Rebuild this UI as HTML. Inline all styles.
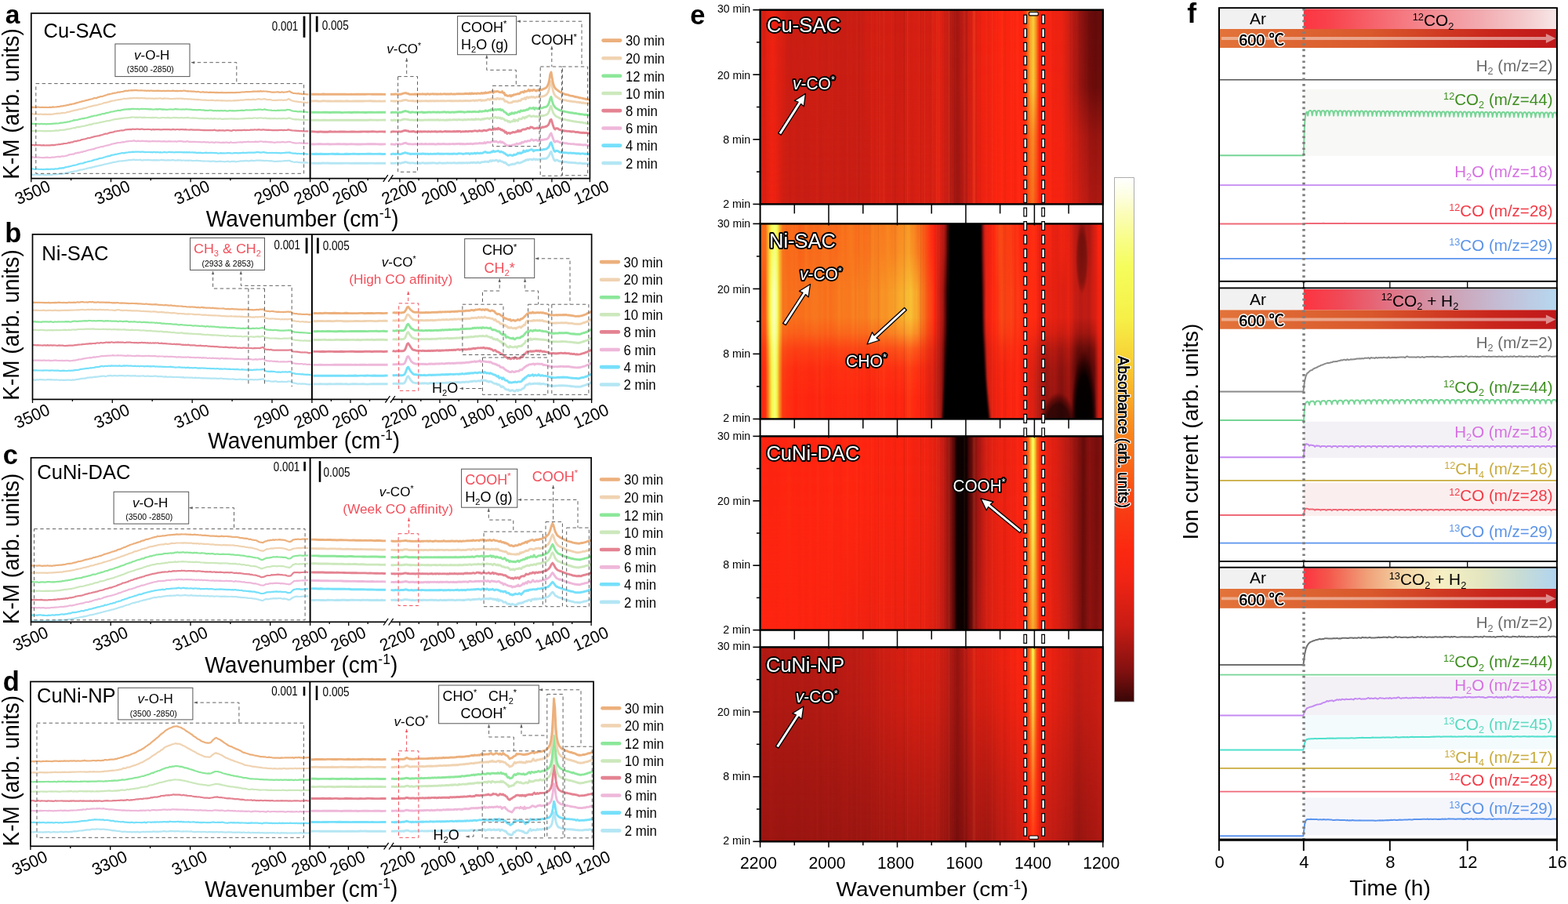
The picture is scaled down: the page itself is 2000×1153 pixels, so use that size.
<!DOCTYPE html>
<html lang="en"><head><meta charset="utf-8"><title>In situ DRIFTS and isotope-labelled mass spectrometry</title>
<style>
html,body{margin:0;padding:0;background:#fff;}
body{width:2000px;height:1153px;overflow:hidden;}
svg{display:block;font-family:"Liberation Sans","Noto Sans CJK SC",sans-serif;}
</style></head><body>
<svg width="2000" height="1153" viewBox="0 0 2000 1153">
<rect width="2000" height="1153" fill="#fff"/>
<defs><linearGradient id="stri" gradientUnits="userSpaceOnUse" x1="969.6" y1="0" x2="1406.8" y2="0"><stop offset="0.0050" stop-color="#ffb060" stop-opacity="0.00"/><stop offset="0.0091" stop-color="#ffb060" stop-opacity="0.00"/><stop offset="0.0126" stop-color="#ffb060" stop-opacity="0.00"/><stop offset="0.0167" stop-color="#ffb060" stop-opacity="0.00"/><stop offset="0.0207" stop-color="#ffb060" stop-opacity="0.01"/><stop offset="0.0235" stop-color="#ffb060" stop-opacity="0.00"/><stop offset="0.0261" stop-color="#ffb060" stop-opacity="0.00"/><stop offset="0.0295" stop-color="#ffb060" stop-opacity="0.00"/><stop offset="0.0336" stop-color="#200000" stop-opacity="0.01"/><stop offset="0.0377" stop-color="#ffb060" stop-opacity="0.00"/><stop offset="0.0416" stop-color="#ffb060" stop-opacity="0.00"/><stop offset="0.0456" stop-color="#200000" stop-opacity="0.00"/><stop offset="0.0477" stop-color="#200000" stop-opacity="0.01"/><stop offset="0.0521" stop-color="#ffb060" stop-opacity="0.00"/><stop offset="0.0559" stop-color="#200000" stop-opacity="0.00"/><stop offset="0.0580" stop-color="#ffb060" stop-opacity="0.00"/><stop offset="0.0625" stop-color="#200000" stop-opacity="0.00"/><stop offset="0.0662" stop-color="#ffb060" stop-opacity="0.00"/><stop offset="0.0685" stop-color="#200000" stop-opacity="0.00"/><stop offset="0.0727" stop-color="#ffb060" stop-opacity="0.01"/><stop offset="0.0749" stop-color="#200000" stop-opacity="0.01"/><stop offset="0.0770" stop-color="#200000" stop-opacity="0.00"/><stop offset="0.0792" stop-color="#200000" stop-opacity="0.00"/><stop offset="0.0816" stop-color="#ffb060" stop-opacity="0.00"/><stop offset="0.0840" stop-color="#ffb060" stop-opacity="0.00"/><stop offset="0.0872" stop-color="#200000" stop-opacity="0.00"/><stop offset="0.0908" stop-color="#200000" stop-opacity="0.00"/><stop offset="0.0930" stop-color="#ffb060" stop-opacity="0.00"/><stop offset="0.0961" stop-color="#ffb060" stop-opacity="0.00"/><stop offset="0.0982" stop-color="#200000" stop-opacity="0.00"/><stop offset="0.1015" stop-color="#ffb060" stop-opacity="0.01"/><stop offset="0.1058" stop-color="#ffb060" stop-opacity="0.00"/><stop offset="0.1096" stop-color="#200000" stop-opacity="0.00"/><stop offset="0.1127" stop-color="#200000" stop-opacity="0.00"/><stop offset="0.1168" stop-color="#200000" stop-opacity="0.00"/><stop offset="0.1212" stop-color="#ffb060" stop-opacity="0.01"/><stop offset="0.1251" stop-color="#ffb060" stop-opacity="0.01"/><stop offset="0.1281" stop-color="#200000" stop-opacity="0.00"/><stop offset="0.1315" stop-color="#ffb060" stop-opacity="0.00"/><stop offset="0.1352" stop-color="#200000" stop-opacity="0.00"/><stop offset="0.1373" stop-color="#ffb060" stop-opacity="0.01"/><stop offset="0.1410" stop-color="#200000" stop-opacity="0.00"/><stop offset="0.1445" stop-color="#ffb060" stop-opacity="0.01"/><stop offset="0.1469" stop-color="#ffb060" stop-opacity="0.00"/><stop offset="0.1504" stop-color="#200000" stop-opacity="0.00"/><stop offset="0.1526" stop-color="#200000" stop-opacity="0.01"/><stop offset="0.1548" stop-color="#ffb060" stop-opacity="0.00"/><stop offset="0.1592" stop-color="#ffb060" stop-opacity="0.00"/><stop offset="0.1613" stop-color="#200000" stop-opacity="0.00"/><stop offset="0.1653" stop-color="#ffb060" stop-opacity="0.02"/><stop offset="0.1694" stop-color="#ffb060" stop-opacity="0.01"/><stop offset="0.1727" stop-color="#200000" stop-opacity="0.00"/><stop offset="0.1752" stop-color="#200000" stop-opacity="0.01"/><stop offset="0.1780" stop-color="#ffb060" stop-opacity="0.00"/><stop offset="0.1823" stop-color="#ffb060" stop-opacity="0.01"/><stop offset="0.1848" stop-color="#ffb060" stop-opacity="0.00"/><stop offset="0.1893" stop-color="#ffb060" stop-opacity="0.01"/><stop offset="0.1929" stop-color="#200000" stop-opacity="0.00"/><stop offset="0.1955" stop-color="#ffb060" stop-opacity="0.00"/><stop offset="0.1991" stop-color="#ffb060" stop-opacity="0.02"/><stop offset="0.2019" stop-color="#ffb060" stop-opacity="0.01"/><stop offset="0.2056" stop-color="#ffb060" stop-opacity="0.00"/><stop offset="0.2083" stop-color="#ffb060" stop-opacity="0.01"/><stop offset="0.2121" stop-color="#ffb060" stop-opacity="0.02"/><stop offset="0.2161" stop-color="#200000" stop-opacity="0.00"/><stop offset="0.2203" stop-color="#ffb060" stop-opacity="0.01"/><stop offset="0.2242" stop-color="#200000" stop-opacity="0.00"/><stop offset="0.2273" stop-color="#ffb060" stop-opacity="0.02"/><stop offset="0.2295" stop-color="#ffb060" stop-opacity="0.01"/><stop offset="0.2330" stop-color="#ffb060" stop-opacity="0.00"/><stop offset="0.2361" stop-color="#ffb060" stop-opacity="0.00"/><stop offset="0.2388" stop-color="#200000" stop-opacity="0.00"/><stop offset="0.2415" stop-color="#ffb060" stop-opacity="0.00"/><stop offset="0.2435" stop-color="#ffb060" stop-opacity="0.02"/><stop offset="0.2460" stop-color="#200000" stop-opacity="0.00"/><stop offset="0.2492" stop-color="#ffb060" stop-opacity="0.00"/><stop offset="0.2513" stop-color="#ffb060" stop-opacity="0.00"/><stop offset="0.2546" stop-color="#ffb060" stop-opacity="0.03"/><stop offset="0.2581" stop-color="#ffb060" stop-opacity="0.00"/><stop offset="0.2615" stop-color="#200000" stop-opacity="0.00"/><stop offset="0.2655" stop-color="#ffb060" stop-opacity="0.01"/><stop offset="0.2689" stop-color="#ffb060" stop-opacity="0.00"/><stop offset="0.2727" stop-color="#ffb060" stop-opacity="0.00"/><stop offset="0.2758" stop-color="#ffb060" stop-opacity="0.00"/><stop offset="0.2787" stop-color="#ffb060" stop-opacity="0.00"/><stop offset="0.2827" stop-color="#ffb060" stop-opacity="0.04"/><stop offset="0.2859" stop-color="#200000" stop-opacity="0.00"/><stop offset="0.2880" stop-color="#200000" stop-opacity="0.04"/><stop offset="0.2915" stop-color="#ffb060" stop-opacity="0.00"/><stop offset="0.2940" stop-color="#ffb060" stop-opacity="0.03"/><stop offset="0.2972" stop-color="#ffb060" stop-opacity="0.00"/><stop offset="0.3011" stop-color="#ffb060" stop-opacity="0.00"/><stop offset="0.3044" stop-color="#ffb060" stop-opacity="0.00"/><stop offset="0.3068" stop-color="#ffb060" stop-opacity="0.00"/><stop offset="0.3098" stop-color="#ffb060" stop-opacity="0.00"/><stop offset="0.3120" stop-color="#200000" stop-opacity="0.01"/><stop offset="0.3142" stop-color="#ffb060" stop-opacity="0.00"/><stop offset="0.3171" stop-color="#200000" stop-opacity="0.00"/><stop offset="0.3215" stop-color="#200000" stop-opacity="0.05"/><stop offset="0.3238" stop-color="#ffb060" stop-opacity="0.04"/><stop offset="0.3258" stop-color="#ffb060" stop-opacity="0.00"/><stop offset="0.3296" stop-color="#ffb060" stop-opacity="0.00"/><stop offset="0.3341" stop-color="#200000" stop-opacity="0.03"/><stop offset="0.3378" stop-color="#200000" stop-opacity="0.00"/><stop offset="0.3409" stop-color="#ffb060" stop-opacity="0.02"/><stop offset="0.3452" stop-color="#200000" stop-opacity="0.05"/><stop offset="0.3477" stop-color="#ffb060" stop-opacity="0.04"/><stop offset="0.3514" stop-color="#ffb060" stop-opacity="0.01"/><stop offset="0.3547" stop-color="#ffb060" stop-opacity="0.00"/><stop offset="0.3574" stop-color="#ffb060" stop-opacity="0.01"/><stop offset="0.3613" stop-color="#ffb060" stop-opacity="0.06"/><stop offset="0.3646" stop-color="#ffb060" stop-opacity="0.00"/><stop offset="0.3676" stop-color="#ffb060" stop-opacity="0.00"/><stop offset="0.3706" stop-color="#ffb060" stop-opacity="0.00"/><stop offset="0.3748" stop-color="#200000" stop-opacity="0.00"/><stop offset="0.3782" stop-color="#200000" stop-opacity="0.00"/><stop offset="0.3813" stop-color="#ffb060" stop-opacity="0.00"/><stop offset="0.3833" stop-color="#ffb060" stop-opacity="0.06"/><stop offset="0.3861" stop-color="#200000" stop-opacity="0.00"/><stop offset="0.3901" stop-color="#ffb060" stop-opacity="0.00"/><stop offset="0.3930" stop-color="#200000" stop-opacity="0.06"/><stop offset="0.3953" stop-color="#200000" stop-opacity="0.03"/><stop offset="0.3998" stop-color="#200000" stop-opacity="0.00"/><stop offset="0.4024" stop-color="#ffb060" stop-opacity="0.00"/><stop offset="0.4054" stop-color="#ffb060" stop-opacity="0.00"/><stop offset="0.4092" stop-color="#ffb060" stop-opacity="0.00"/><stop offset="0.4134" stop-color="#ffb060" stop-opacity="0.00"/><stop offset="0.4171" stop-color="#200000" stop-opacity="0.00"/><stop offset="0.4208" stop-color="#200000" stop-opacity="0.09"/><stop offset="0.4249" stop-color="#ffb060" stop-opacity="0.02"/><stop offset="0.4273" stop-color="#200000" stop-opacity="0.00"/><stop offset="0.4293" stop-color="#ffb060" stop-opacity="0.10"/><stop offset="0.4329" stop-color="#ffb060" stop-opacity="0.00"/><stop offset="0.4367" stop-color="#ffb060" stop-opacity="0.02"/><stop offset="0.4388" stop-color="#200000" stop-opacity="0.00"/><stop offset="0.4420" stop-color="#200000" stop-opacity="0.00"/><stop offset="0.4453" stop-color="#ffb060" stop-opacity="0.00"/><stop offset="0.4488" stop-color="#200000" stop-opacity="0.00"/><stop offset="0.4509" stop-color="#ffb060" stop-opacity="0.01"/><stop offset="0.4538" stop-color="#200000" stop-opacity="0.00"/><stop offset="0.4566" stop-color="#ffb060" stop-opacity="0.01"/><stop offset="0.4608" stop-color="#ffb060" stop-opacity="0.00"/><stop offset="0.4648" stop-color="#ffb060" stop-opacity="0.02"/><stop offset="0.4689" stop-color="#200000" stop-opacity="0.09"/><stop offset="0.4713" stop-color="#ffb060" stop-opacity="0.00"/><stop offset="0.4737" stop-color="#ffb060" stop-opacity="0.00"/><stop offset="0.4769" stop-color="#200000" stop-opacity="0.00"/><stop offset="0.4799" stop-color="#ffb060" stop-opacity="0.08"/><stop offset="0.4838" stop-color="#200000" stop-opacity="0.00"/><stop offset="0.4870" stop-color="#ffb060" stop-opacity="0.00"/><stop offset="0.4890" stop-color="#ffb060" stop-opacity="0.01"/><stop offset="0.4934" stop-color="#ffb060" stop-opacity="0.00"/><stop offset="0.4963" stop-color="#ffb060" stop-opacity="0.00"/><stop offset="0.4986" stop-color="#ffb060" stop-opacity="0.00"/><stop offset="0.5030" stop-color="#ffb060" stop-opacity="0.04"/><stop offset="0.5066" stop-color="#ffb060" stop-opacity="0.00"/><stop offset="0.5090" stop-color="#ffb060" stop-opacity="0.00"/><stop offset="0.5122" stop-color="#ffb060" stop-opacity="0.00"/><stop offset="0.5148" stop-color="#ffb060" stop-opacity="0.08"/><stop offset="0.5181" stop-color="#ffb060" stop-opacity="0.00"/><stop offset="0.5225" stop-color="#ffb060" stop-opacity="0.07"/><stop offset="0.5247" stop-color="#ffb060" stop-opacity="0.00"/><stop offset="0.5289" stop-color="#ffb060" stop-opacity="0.00"/><stop offset="0.5318" stop-color="#200000" stop-opacity="0.02"/><stop offset="0.5352" stop-color="#ffb060" stop-opacity="0.03"/><stop offset="0.5389" stop-color="#200000" stop-opacity="0.00"/><stop offset="0.5411" stop-color="#ffb060" stop-opacity="0.04"/><stop offset="0.5450" stop-color="#200000" stop-opacity="0.00"/><stop offset="0.5471" stop-color="#ffb060" stop-opacity="0.00"/><stop offset="0.5499" stop-color="#ffb060" stop-opacity="0.08"/><stop offset="0.5525" stop-color="#ffb060" stop-opacity="0.06"/><stop offset="0.5562" stop-color="#200000" stop-opacity="0.10"/><stop offset="0.5591" stop-color="#ffb060" stop-opacity="0.00"/><stop offset="0.5613" stop-color="#ffb060" stop-opacity="0.00"/><stop offset="0.5641" stop-color="#ffb060" stop-opacity="0.00"/><stop offset="0.5673" stop-color="#200000" stop-opacity="0.07"/><stop offset="0.5707" stop-color="#ffb060" stop-opacity="0.00"/><stop offset="0.5734" stop-color="#ffb060" stop-opacity="0.00"/><stop offset="0.5760" stop-color="#ffb060" stop-opacity="0.00"/><stop offset="0.5788" stop-color="#200000" stop-opacity="0.00"/><stop offset="0.5815" stop-color="#200000" stop-opacity="0.05"/><stop offset="0.5849" stop-color="#ffb060" stop-opacity="0.00"/><stop offset="0.5874" stop-color="#200000" stop-opacity="0.00"/><stop offset="0.5902" stop-color="#200000" stop-opacity="0.00"/><stop offset="0.5932" stop-color="#ffb060" stop-opacity="0.00"/><stop offset="0.5955" stop-color="#ffb060" stop-opacity="0.08"/><stop offset="0.6000" stop-color="#200000" stop-opacity="0.04"/><stop offset="0.6036" stop-color="#200000" stop-opacity="0.12"/><stop offset="0.6075" stop-color="#ffb060" stop-opacity="0.00"/><stop offset="0.6116" stop-color="#ffb060" stop-opacity="0.01"/><stop offset="0.6141" stop-color="#ffb060" stop-opacity="0.01"/><stop offset="0.6162" stop-color="#ffb060" stop-opacity="0.00"/><stop offset="0.6186" stop-color="#ffb060" stop-opacity="0.00"/><stop offset="0.6223" stop-color="#ffb060" stop-opacity="0.12"/><stop offset="0.6267" stop-color="#ffb060" stop-opacity="0.10"/><stop offset="0.6300" stop-color="#200000" stop-opacity="0.07"/><stop offset="0.6328" stop-color="#200000" stop-opacity="0.00"/><stop offset="0.6350" stop-color="#ffb060" stop-opacity="0.00"/><stop offset="0.6389" stop-color="#ffb060" stop-opacity="0.00"/><stop offset="0.6412" stop-color="#200000" stop-opacity="0.08"/><stop offset="0.6432" stop-color="#200000" stop-opacity="0.01"/><stop offset="0.6471" stop-color="#ffb060" stop-opacity="0.00"/><stop offset="0.6514" stop-color="#ffb060" stop-opacity="0.00"/><stop offset="0.6545" stop-color="#ffb060" stop-opacity="0.00"/><stop offset="0.6570" stop-color="#ffb060" stop-opacity="0.00"/><stop offset="0.6610" stop-color="#ffb060" stop-opacity="0.04"/><stop offset="0.6643" stop-color="#ffb060" stop-opacity="0.00"/><stop offset="0.6670" stop-color="#200000" stop-opacity="0.03"/><stop offset="0.6691" stop-color="#ffb060" stop-opacity="0.03"/><stop offset="0.6723" stop-color="#200000" stop-opacity="0.00"/><stop offset="0.6764" stop-color="#ffb060" stop-opacity="0.07"/><stop offset="0.6806" stop-color="#ffb060" stop-opacity="0.00"/><stop offset="0.6830" stop-color="#200000" stop-opacity="0.00"/><stop offset="0.6866" stop-color="#ffb060" stop-opacity="0.00"/><stop offset="0.6902" stop-color="#ffb060" stop-opacity="0.02"/><stop offset="0.6938" stop-color="#200000" stop-opacity="0.08"/><stop offset="0.6963" stop-color="#ffb060" stop-opacity="0.02"/><stop offset="0.6986" stop-color="#200000" stop-opacity="0.00"/><stop offset="0.7008" stop-color="#200000" stop-opacity="0.00"/><stop offset="0.7052" stop-color="#ffb060" stop-opacity="0.02"/><stop offset="0.7095" stop-color="#200000" stop-opacity="0.04"/><stop offset="0.7117" stop-color="#200000" stop-opacity="0.05"/><stop offset="0.7159" stop-color="#200000" stop-opacity="0.05"/><stop offset="0.7191" stop-color="#200000" stop-opacity="0.00"/><stop offset="0.7223" stop-color="#200000" stop-opacity="0.00"/><stop offset="0.7255" stop-color="#ffb060" stop-opacity="0.00"/><stop offset="0.7284" stop-color="#200000" stop-opacity="0.04"/><stop offset="0.7307" stop-color="#ffb060" stop-opacity="0.05"/><stop offset="0.7335" stop-color="#ffb060" stop-opacity="0.01"/><stop offset="0.7371" stop-color="#ffb060" stop-opacity="0.00"/><stop offset="0.7396" stop-color="#ffb060" stop-opacity="0.00"/><stop offset="0.7437" stop-color="#200000" stop-opacity="0.06"/><stop offset="0.7471" stop-color="#ffb060" stop-opacity="0.00"/><stop offset="0.7510" stop-color="#ffb060" stop-opacity="0.04"/><stop offset="0.7549" stop-color="#ffb060" stop-opacity="0.00"/><stop offset="0.7590" stop-color="#ffb060" stop-opacity="0.00"/><stop offset="0.7628" stop-color="#ffb060" stop-opacity="0.00"/><stop offset="0.7648" stop-color="#ffb060" stop-opacity="0.00"/><stop offset="0.7683" stop-color="#ffb060" stop-opacity="0.01"/><stop offset="0.7720" stop-color="#200000" stop-opacity="0.00"/><stop offset="0.7761" stop-color="#ffb060" stop-opacity="0.00"/><stop offset="0.7796" stop-color="#ffb060" stop-opacity="0.03"/><stop offset="0.7830" stop-color="#ffb060" stop-opacity="0.00"/><stop offset="0.7860" stop-color="#ffb060" stop-opacity="0.00"/><stop offset="0.7886" stop-color="#200000" stop-opacity="0.00"/><stop offset="0.7915" stop-color="#ffb060" stop-opacity="0.00"/><stop offset="0.7939" stop-color="#ffb060" stop-opacity="0.00"/><stop offset="0.7981" stop-color="#ffb060" stop-opacity="0.00"/><stop offset="0.8018" stop-color="#ffb060" stop-opacity="0.00"/><stop offset="0.8054" stop-color="#ffb060" stop-opacity="0.05"/><stop offset="0.8090" stop-color="#ffb060" stop-opacity="0.00"/><stop offset="0.8124" stop-color="#ffb060" stop-opacity="0.04"/><stop offset="0.8151" stop-color="#200000" stop-opacity="0.00"/><stop offset="0.8190" stop-color="#ffb060" stop-opacity="0.01"/><stop offset="0.8221" stop-color="#ffb060" stop-opacity="0.01"/><stop offset="0.8261" stop-color="#ffb060" stop-opacity="0.00"/><stop offset="0.8284" stop-color="#ffb060" stop-opacity="0.03"/><stop offset="0.8305" stop-color="#ffb060" stop-opacity="0.04"/><stop offset="0.8334" stop-color="#ffb060" stop-opacity="0.00"/><stop offset="0.8358" stop-color="#200000" stop-opacity="0.00"/><stop offset="0.8388" stop-color="#ffb060" stop-opacity="0.00"/><stop offset="0.8428" stop-color="#ffb060" stop-opacity="0.00"/><stop offset="0.8467" stop-color="#ffb060" stop-opacity="0.03"/><stop offset="0.8500" stop-color="#ffb060" stop-opacity="0.00"/><stop offset="0.8534" stop-color="#200000" stop-opacity="0.03"/><stop offset="0.8561" stop-color="#200000" stop-opacity="0.00"/><stop offset="0.8587" stop-color="#ffb060" stop-opacity="0.00"/><stop offset="0.8630" stop-color="#200000" stop-opacity="0.00"/><stop offset="0.8652" stop-color="#ffb060" stop-opacity="0.00"/><stop offset="0.8679" stop-color="#200000" stop-opacity="0.01"/><stop offset="0.8710" stop-color="#200000" stop-opacity="0.00"/><stop offset="0.8749" stop-color="#ffb060" stop-opacity="0.01"/><stop offset="0.8771" stop-color="#ffb060" stop-opacity="0.00"/><stop offset="0.8799" stop-color="#ffb060" stop-opacity="0.02"/><stop offset="0.8823" stop-color="#ffb060" stop-opacity="0.00"/><stop offset="0.8867" stop-color="#ffb060" stop-opacity="0.02"/><stop offset="0.8894" stop-color="#ffb060" stop-opacity="0.00"/><stop offset="0.8915" stop-color="#200000" stop-opacity="0.00"/><stop offset="0.8946" stop-color="#ffb060" stop-opacity="0.00"/><stop offset="0.8980" stop-color="#ffb060" stop-opacity="0.00"/><stop offset="0.9010" stop-color="#ffb060" stop-opacity="0.02"/><stop offset="0.9051" stop-color="#200000" stop-opacity="0.01"/><stop offset="0.9082" stop-color="#ffb060" stop-opacity="0.02"/><stop offset="0.9108" stop-color="#ffb060" stop-opacity="0.02"/><stop offset="0.9130" stop-color="#200000" stop-opacity="0.01"/><stop offset="0.9152" stop-color="#ffb060" stop-opacity="0.00"/><stop offset="0.9197" stop-color="#ffb060" stop-opacity="0.00"/><stop offset="0.9219" stop-color="#ffb060" stop-opacity="0.00"/><stop offset="0.9252" stop-color="#ffb060" stop-opacity="0.01"/><stop offset="0.9274" stop-color="#ffb060" stop-opacity="0.01"/><stop offset="0.9311" stop-color="#200000" stop-opacity="0.00"/><stop offset="0.9352" stop-color="#ffb060" stop-opacity="0.01"/><stop offset="0.9376" stop-color="#ffb060" stop-opacity="0.00"/><stop offset="0.9415" stop-color="#200000" stop-opacity="0.02"/><stop offset="0.9443" stop-color="#ffb060" stop-opacity="0.01"/><stop offset="0.9466" stop-color="#ffb060" stop-opacity="0.00"/><stop offset="0.9492" stop-color="#200000" stop-opacity="0.00"/><stop offset="0.9514" stop-color="#ffb060" stop-opacity="0.01"/><stop offset="0.9547" stop-color="#ffb060" stop-opacity="0.01"/><stop offset="0.9581" stop-color="#ffb060" stop-opacity="0.00"/><stop offset="0.9603" stop-color="#200000" stop-opacity="0.01"/><stop offset="0.9626" stop-color="#ffb060" stop-opacity="0.00"/><stop offset="0.9667" stop-color="#ffb060" stop-opacity="0.00"/><stop offset="0.9691" stop-color="#ffb060" stop-opacity="0.00"/><stop offset="0.9718" stop-color="#200000" stop-opacity="0.00"/><stop offset="0.9754" stop-color="#200000" stop-opacity="0.00"/><stop offset="0.9795" stop-color="#200000" stop-opacity="0.01"/><stop offset="0.9832" stop-color="#ffb060" stop-opacity="0.01"/><stop offset="0.9864" stop-color="#ffb060" stop-opacity="0.01"/><stop offset="0.9884" stop-color="#ffb060" stop-opacity="0.01"/><stop offset="0.9928" stop-color="#ffb060" stop-opacity="0.00"/></linearGradient></defs>
<defs><linearGradient id="h0_0" gradientUnits="userSpaceOnUse" x1="969.6" y1="0" x2="1406.8" y2="0"><stop offset="0.0000" stop-color="#d51f13"/><stop offset="0.0000" stop-color="#d11e13"/><stop offset="0.0115" stop-color="#db1f12"/><stop offset="0.0150" stop-color="#d91f12"/><stop offset="0.0187" stop-color="#de2012"/><stop offset="0.0274" stop-color="#ea2111"/><stop offset="0.0350" stop-color="#f22211"/><stop offset="0.0385" stop-color="#eb2111"/><stop offset="0.0441" stop-color="#ec2211"/><stop offset="0.0526" stop-color="#e32012"/><stop offset="0.0550" stop-color="#dd2012"/><stop offset="0.0580" stop-color="#da1f12"/><stop offset="0.0686" stop-color="#cf1e13"/><stop offset="0.0750" stop-color="#cd1e13"/><stop offset="0.0808" stop-color="#d01e13"/><stop offset="0.0864" stop-color="#c71d14"/><stop offset="0.0957" stop-color="#d01e13"/><stop offset="0.1039" stop-color="#c91d13"/><stop offset="0.1123" stop-color="#c71d14"/><stop offset="0.1193" stop-color="#ca1d13"/><stop offset="0.1283" stop-color="#c81d13"/><stop offset="0.1353" stop-color="#c81d14"/><stop offset="0.1440" stop-color="#c81d13"/><stop offset="0.1496" stop-color="#cd1e13"/><stop offset="0.1590" stop-color="#cb1d13"/><stop offset="0.1657" stop-color="#cf1e13"/><stop offset="0.1773" stop-color="#c51d14"/><stop offset="0.1851" stop-color="#cb1d13"/><stop offset="0.1956" stop-color="#cd1e13"/><stop offset="0.2000" stop-color="#c81d13"/><stop offset="0.2041" stop-color="#cc1d13"/><stop offset="0.2143" stop-color="#c61d14"/><stop offset="0.2239" stop-color="#cc1e13"/><stop offset="0.2354" stop-color="#c81d13"/><stop offset="0.2451" stop-color="#c41c14"/><stop offset="0.2522" stop-color="#cb1d13"/><stop offset="0.2606" stop-color="#c51d14"/><stop offset="0.2699" stop-color="#ca1d13"/><stop offset="0.2802" stop-color="#c71d14"/><stop offset="0.2888" stop-color="#c81d13"/><stop offset="0.2998" stop-color="#c91d13"/><stop offset="0.3000" stop-color="#c81d13"/><stop offset="0.3080" stop-color="#cb1d13"/><stop offset="0.3136" stop-color="#c81d13"/><stop offset="0.3241" stop-color="#d51f13"/><stop offset="0.3337" stop-color="#d21e13"/><stop offset="0.3400" stop-color="#d51f13"/><stop offset="0.3404" stop-color="#d51f13"/><stop offset="0.3528" stop-color="#d61f13"/><stop offset="0.3621" stop-color="#d61f13"/><stop offset="0.3692" stop-color="#d11e13"/><stop offset="0.3815" stop-color="#d01e13"/><stop offset="0.3902" stop-color="#cc1d13"/><stop offset="0.3995" stop-color="#d11e13"/><stop offset="0.4000" stop-color="#cd1e13"/><stop offset="0.4050" stop-color="#d01e13"/><stop offset="0.4163" stop-color="#d41f13"/><stop offset="0.4270" stop-color="#d51f13"/><stop offset="0.4361" stop-color="#d51f13"/><stop offset="0.4446" stop-color="#d11e13"/><stop offset="0.4563" stop-color="#d91f12"/><stop offset="0.4600" stop-color="#d91f12"/><stop offset="0.4631" stop-color="#d91f12"/><stop offset="0.4720" stop-color="#d61f13"/><stop offset="0.4799" stop-color="#d81f13"/><stop offset="0.4898" stop-color="#d71f13"/><stop offset="0.4985" stop-color="#d01e13"/><stop offset="0.5000" stop-color="#d51f13"/><stop offset="0.5055" stop-color="#d51f13"/><stop offset="0.5151" stop-color="#e22012"/><stop offset="0.5200" stop-color="#e22012"/><stop offset="0.5263" stop-color="#de2012"/><stop offset="0.5376" stop-color="#ce1e13"/><stop offset="0.5490" stop-color="#c71d14"/><stop offset="0.5500" stop-color="#c41d14"/><stop offset="0.5550" stop-color="#b81a13"/><stop offset="0.5605" stop-color="#b71a13"/><stop offset="0.5641" stop-color="#ae1912"/><stop offset="0.5677" stop-color="#a51711"/><stop offset="0.5750" stop-color="#9e1611"/><stop offset="0.5776" stop-color="#a01611"/><stop offset="0.5835" stop-color="#a71712"/><stop offset="0.5927" stop-color="#b61a13"/><stop offset="0.6000" stop-color="#c41d14"/><stop offset="0.6001" stop-color="#c61d14"/><stop offset="0.6088" stop-color="#cd1e13"/><stop offset="0.6176" stop-color="#d61f13"/><stop offset="0.6200" stop-color="#dd2012"/><stop offset="0.6257" stop-color="#e02012"/><stop offset="0.6325" stop-color="#e02012"/><stop offset="0.6444" stop-color="#ea2111"/><stop offset="0.6513" stop-color="#ef2211"/><stop offset="0.6600" stop-color="#f22211"/><stop offset="0.6626" stop-color="#ee2211"/><stop offset="0.6681" stop-color="#f12211"/><stop offset="0.6787" stop-color="#f52311"/><stop offset="0.6891" stop-color="#fd2410"/><stop offset="0.6985" stop-color="#fc2410"/><stop offset="0.7000" stop-color="#ff2410"/><stop offset="0.7109" stop-color="#fe2811"/><stop offset="0.7200" stop-color="#fc2410"/><stop offset="0.7301" stop-color="#fe2410"/><stop offset="0.7396" stop-color="#fd2410"/><stop offset="0.7496" stop-color="#fb2310"/><stop offset="0.7571" stop-color="#fe2b11"/><stop offset="0.7600" stop-color="#ff2410"/><stop offset="0.7688" stop-color="#ff2811"/><stop offset="0.7750" stop-color="#fe3012"/><stop offset="0.7804" stop-color="#fc4114"/><stop offset="0.7842" stop-color="#fa5116"/><stop offset="0.7880" stop-color="#f86018"/><stop offset="0.7926" stop-color="#f86a1b"/><stop offset="0.7970" stop-color="#f86d1b"/><stop offset="0.8010" stop-color="#f95617"/><stop offset="0.8060" stop-color="#fc4214"/><stop offset="0.8064" stop-color="#fb4514"/><stop offset="0.8093" stop-color="#fd3813"/><stop offset="0.8121" stop-color="#fe2a11"/><stop offset="0.8150" stop-color="#f72311"/><stop offset="0.8244" stop-color="#fa2310"/><stop offset="0.8300" stop-color="#fb2310"/><stop offset="0.8311" stop-color="#fe2410"/><stop offset="0.8435" stop-color="#fc2410"/><stop offset="0.8525" stop-color="#f82310"/><stop offset="0.8604" stop-color="#f52311"/><stop offset="0.8707" stop-color="#f72311"/><stop offset="0.8775" stop-color="#f32211"/><stop offset="0.8800" stop-color="#f72311"/><stop offset="0.8877" stop-color="#ee2211"/><stop offset="0.8967" stop-color="#e72112"/><stop offset="0.9084" stop-color="#e32012"/><stop offset="0.9100" stop-color="#dd2012"/><stop offset="0.9139" stop-color="#d71f13"/><stop offset="0.9216" stop-color="#d91f12"/><stop offset="0.9327" stop-color="#c91d13"/><stop offset="0.9396" stop-color="#c61d14"/><stop offset="0.9400" stop-color="#c41d14"/><stop offset="0.9510" stop-color="#bd1b14"/><stop offset="0.9589" stop-color="#b41a13"/><stop offset="0.9600" stop-color="#af1912"/><stop offset="0.9693" stop-color="#ad1812"/><stop offset="0.9818" stop-color="#a91812"/><stop offset="0.9850" stop-color="#ab1812"/><stop offset="0.9924" stop-color="#af1912"/><stop offset="0.9990" stop-color="#bf1c14"/><stop offset="1.0000" stop-color="#bc1b14"/></linearGradient><linearGradient id="h0_1" gradientUnits="userSpaceOnUse" x1="969.6" y1="0" x2="1406.8" y2="0"><stop offset="0.0000" stop-color="#d51f13"/><stop offset="0.0000" stop-color="#da1f12"/><stop offset="0.0122" stop-color="#d41f13"/><stop offset="0.0150" stop-color="#d91f12"/><stop offset="0.0182" stop-color="#e02012"/><stop offset="0.0289" stop-color="#ea2111"/><stop offset="0.0350" stop-color="#ee2211"/><stop offset="0.0366" stop-color="#ee2211"/><stop offset="0.0463" stop-color="#e62112"/><stop offset="0.0529" stop-color="#de2012"/><stop offset="0.0550" stop-color="#dd2012"/><stop offset="0.0611" stop-color="#db1f12"/><stop offset="0.0737" stop-color="#d21e13"/><stop offset="0.0750" stop-color="#cd1e13"/><stop offset="0.0830" stop-color="#cc1d13"/><stop offset="0.0903" stop-color="#c71d14"/><stop offset="0.0959" stop-color="#cc1d13"/><stop offset="0.1036" stop-color="#ca1d13"/><stop offset="0.1154" stop-color="#cc1d13"/><stop offset="0.1249" stop-color="#c81d13"/><stop offset="0.1304" stop-color="#c91d13"/><stop offset="0.1368" stop-color="#cb1d13"/><stop offset="0.1494" stop-color="#cc1e13"/><stop offset="0.1561" stop-color="#ce1e13"/><stop offset="0.1672" stop-color="#cc1e13"/><stop offset="0.1792" stop-color="#cc1d13"/><stop offset="0.1903" stop-color="#c71d14"/><stop offset="0.2000" stop-color="#c81d13"/><stop offset="0.2027" stop-color="#cd1e13"/><stop offset="0.2093" stop-color="#cb1d13"/><stop offset="0.2198" stop-color="#c81d13"/><stop offset="0.2291" stop-color="#c81d13"/><stop offset="0.2411" stop-color="#c81d13"/><stop offset="0.2525" stop-color="#c71d14"/><stop offset="0.2643" stop-color="#cc1e13"/><stop offset="0.2730" stop-color="#c91d13"/><stop offset="0.2850" stop-color="#cb1d13"/><stop offset="0.2939" stop-color="#c61d14"/><stop offset="0.3000" stop-color="#c81d13"/><stop offset="0.3016" stop-color="#cb1d13"/><stop offset="0.3082" stop-color="#cf1e13"/><stop offset="0.3156" stop-color="#d11e13"/><stop offset="0.3232" stop-color="#d41f13"/><stop offset="0.3337" stop-color="#d31e13"/><stop offset="0.3400" stop-color="#d51f13"/><stop offset="0.3428" stop-color="#d61f13"/><stop offset="0.3524" stop-color="#d11e13"/><stop offset="0.3593" stop-color="#d21e13"/><stop offset="0.3715" stop-color="#d21e13"/><stop offset="0.3774" stop-color="#d31e13"/><stop offset="0.3880" stop-color="#d21e13"/><stop offset="0.3948" stop-color="#d01e13"/><stop offset="0.4000" stop-color="#cd1e13"/><stop offset="0.4006" stop-color="#ce1e13"/><stop offset="0.4080" stop-color="#cc1d13"/><stop offset="0.4197" stop-color="#cd1e13"/><stop offset="0.4289" stop-color="#d61f13"/><stop offset="0.4360" stop-color="#d11e13"/><stop offset="0.4478" stop-color="#d61f13"/><stop offset="0.4583" stop-color="#d41f13"/><stop offset="0.4600" stop-color="#d91f12"/><stop offset="0.4663" stop-color="#d51f13"/><stop offset="0.4766" stop-color="#d31e13"/><stop offset="0.4889" stop-color="#d11e13"/><stop offset="0.4995" stop-color="#d01e13"/><stop offset="0.5000" stop-color="#d51f13"/><stop offset="0.5067" stop-color="#dc2012"/><stop offset="0.5133" stop-color="#da1f12"/><stop offset="0.5200" stop-color="#e22012"/><stop offset="0.5237" stop-color="#dd2012"/><stop offset="0.5294" stop-color="#dd2012"/><stop offset="0.5359" stop-color="#cd1e13"/><stop offset="0.5437" stop-color="#cb1d13"/><stop offset="0.5500" stop-color="#c41d14"/><stop offset="0.5545" stop-color="#ba1b13"/><stop offset="0.5623" stop-color="#af1912"/><stop offset="0.5709" stop-color="#aa1812"/><stop offset="0.5750" stop-color="#a21611"/><stop offset="0.5817" stop-color="#af1912"/><stop offset="0.5925" stop-color="#be1c14"/><stop offset="0.6000" stop-color="#c41d14"/><stop offset="0.6030" stop-color="#c81d14"/><stop offset="0.6100" stop-color="#d21e13"/><stop offset="0.6177" stop-color="#d61f13"/><stop offset="0.6200" stop-color="#dd2012"/><stop offset="0.6263" stop-color="#e42112"/><stop offset="0.6326" stop-color="#e52112"/><stop offset="0.6409" stop-color="#e92111"/><stop offset="0.6473" stop-color="#f02211"/><stop offset="0.6546" stop-color="#f12211"/><stop offset="0.6600" stop-color="#f22211"/><stop offset="0.6630" stop-color="#ee2211"/><stop offset="0.6724" stop-color="#f32211"/><stop offset="0.6782" stop-color="#f32311"/><stop offset="0.6848" stop-color="#f62311"/><stop offset="0.6947" stop-color="#fd2410"/><stop offset="0.7000" stop-color="#ff2410"/><stop offset="0.7072" stop-color="#fe2a11"/><stop offset="0.7198" stop-color="#fc2410"/><stop offset="0.7284" stop-color="#fc2410"/><stop offset="0.7380" stop-color="#ff2610"/><stop offset="0.7492" stop-color="#ff2710"/><stop offset="0.7565" stop-color="#fe2410"/><stop offset="0.7600" stop-color="#ff2410"/><stop offset="0.7656" stop-color="#ff2610"/><stop offset="0.7713" stop-color="#fd3512"/><stop offset="0.7750" stop-color="#fc3c13"/><stop offset="0.7775" stop-color="#f95416"/><stop offset="0.7799" stop-color="#f86519"/><stop offset="0.7823" stop-color="#f8771e"/><stop offset="0.7846" stop-color="#f88922"/><stop offset="0.7863" stop-color="#f89b27"/><stop offset="0.7880" stop-color="#f8ad2d"/><stop offset="0.7913" stop-color="#f8b731"/><stop offset="0.7942" stop-color="#f8c536"/><stop offset="0.7970" stop-color="#f8d33b"/><stop offset="0.7983" stop-color="#f8c837"/><stop offset="0.8009" stop-color="#f8b22f"/><stop offset="0.8034" stop-color="#f89c27"/><stop offset="0.8060" stop-color="#f88622"/><stop offset="0.8071" stop-color="#f8771e"/><stop offset="0.8090" stop-color="#f86018"/><stop offset="0.8110" stop-color="#fb4a15"/><stop offset="0.8130" stop-color="#fd3412"/><stop offset="0.8150" stop-color="#fb2310"/><stop offset="0.8171" stop-color="#f82310"/><stop offset="0.8290" stop-color="#ff2510"/><stop offset="0.8300" stop-color="#fb2310"/><stop offset="0.8396" stop-color="#f72311"/><stop offset="0.8487" stop-color="#f52311"/><stop offset="0.8545" stop-color="#f22211"/><stop offset="0.8637" stop-color="#ec2211"/><stop offset="0.8698" stop-color="#f02211"/><stop offset="0.8778" stop-color="#eb2111"/><stop offset="0.8800" stop-color="#ea2111"/><stop offset="0.8898" stop-color="#dc2012"/><stop offset="0.8973" stop-color="#d41f13"/><stop offset="0.9014" stop-color="#c91d13"/><stop offset="0.9054" stop-color="#be1c14"/><stop offset="0.9100" stop-color="#bc1b14"/><stop offset="0.9157" stop-color="#ae1912"/><stop offset="0.9233" stop-color="#a81812"/><stop offset="0.9284" stop-color="#9c1511"/><stop offset="0.9336" stop-color="#8f130f"/><stop offset="0.9400" stop-color="#89120f"/><stop offset="0.9422" stop-color="#85110e"/><stop offset="0.9511" stop-color="#780e0d"/><stop offset="0.9608" stop-color="#690c0b"/><stop offset="0.9650" stop-color="#690c0b"/><stop offset="0.9682" stop-color="#670b0a"/><stop offset="0.9803" stop-color="#610a0a"/><stop offset="0.9900" stop-color="#640b0a"/><stop offset="0.9912" stop-color="#620b0a"/><stop offset="1.0000" stop-color="#720e0c"/></linearGradient><linearGradient id="m0_1g" gradientUnits="userSpaceOnUse" x1="0" y1="12.6" x2="0" y2="260.4"><stop offset="0.000" stop-color="#fff" stop-opacity="1.000"/><stop offset="0.400" stop-color="#fff" stop-opacity="0.900"/><stop offset="0.650" stop-color="#fff" stop-opacity="0.300"/><stop offset="1.000" stop-color="#fff" stop-opacity="0.000"/></linearGradient><mask id="m0_1" maskUnits="userSpaceOnUse" x="967.6" y="10.6" width="441.2" height="251.8"><rect x="967.6" y="10.6" width="441.2" height="251.8" fill="url(#m0_1g)"/></mask></defs><rect x="969.6" y="12.6" width="437.2" height="247.8" fill="url(#h0_0)"/>
<rect x="969.6" y="12.6" width="437.2" height="247.8" fill="url(#h0_1)" mask="url(#m0_1)"/>
<rect x="969.6" y="12.6" width="437.2" height="247.8" fill="url(#stri)" opacity="1.0"/>
<defs><linearGradient id="h1_0" gradientUnits="userSpaceOnUse" x1="969.6" y1="0" x2="1406.8" y2="0"><stop offset="0.0000" stop-color="#fc2410"/><stop offset="0.0000" stop-color="#ff2410"/><stop offset="0.0093" stop-color="#fe2911"/><stop offset="0.0160" stop-color="#fe3012"/><stop offset="0.0175" stop-color="#fc4114"/><stop offset="0.0191" stop-color="#fa5316"/><stop offset="0.0210" stop-color="#f86519"/><stop offset="0.0230" stop-color="#f8791e"/><stop offset="0.0249" stop-color="#f88c23"/><stop offset="0.0260" stop-color="#f8a028"/><stop offset="0.0280" stop-color="#f8b630"/><stop offset="0.0300" stop-color="#f8cd39"/><stop offset="0.0320" stop-color="#f8e342"/><stop offset="0.0340" stop-color="#f5f550"/><stop offset="0.0364" stop-color="#f5f953"/><stop offset="0.0410" stop-color="#f6ff70"/><stop offset="0.0435" stop-color="#f5ff6d"/><stop offset="0.0480" stop-color="#f5f550"/><stop offset="0.0501" stop-color="#f8e141"/><stop offset="0.0522" stop-color="#f8c837"/><stop offset="0.0535" stop-color="#f8b731"/><stop offset="0.0547" stop-color="#f8a52a"/><stop offset="0.0560" stop-color="#f89325"/><stop offset="0.0585" stop-color="#f87c1f"/><stop offset="0.0611" stop-color="#f86519"/><stop offset="0.0635" stop-color="#fa4d15"/><stop offset="0.0660" stop-color="#fd3612"/><stop offset="0.0676" stop-color="#fd3713"/><stop offset="0.0792" stop-color="#fe2f12"/><stop offset="0.0899" stop-color="#fe2c11"/><stop offset="0.0958" stop-color="#fe2a11"/><stop offset="0.1000" stop-color="#ff2410"/><stop offset="0.1055" stop-color="#fd2410"/><stop offset="0.1111" stop-color="#fe2911"/><stop offset="0.1199" stop-color="#ff2710"/><stop offset="0.1316" stop-color="#ff2710"/><stop offset="0.1436" stop-color="#fe2410"/><stop offset="0.1548" stop-color="#fe2410"/><stop offset="0.1669" stop-color="#fe2911"/><stop offset="0.1731" stop-color="#fb2410"/><stop offset="0.1800" stop-color="#fe2b11"/><stop offset="0.1886" stop-color="#ff2610"/><stop offset="0.1961" stop-color="#ff2410"/><stop offset="0.2043" stop-color="#fd2410"/><stop offset="0.2139" stop-color="#ff2510"/><stop offset="0.2258" stop-color="#ff2710"/><stop offset="0.2379" stop-color="#fe2911"/><stop offset="0.2504" stop-color="#ff2610"/><stop offset="0.2570" stop-color="#fe2911"/><stop offset="0.2694" stop-color="#fe2a11"/><stop offset="0.2789" stop-color="#ff2710"/><stop offset="0.2858" stop-color="#fe2911"/><stop offset="0.2953" stop-color="#fd2410"/><stop offset="0.3000" stop-color="#ff2410"/><stop offset="0.3012" stop-color="#fe2911"/><stop offset="0.3137" stop-color="#fb2310"/><stop offset="0.3249" stop-color="#fe2410"/><stop offset="0.3313" stop-color="#fd2410"/><stop offset="0.3423" stop-color="#fe2911"/><stop offset="0.3480" stop-color="#ff2610"/><stop offset="0.3537" stop-color="#ff2710"/><stop offset="0.3615" stop-color="#fe2911"/><stop offset="0.3740" stop-color="#ff2410"/><stop offset="0.3866" stop-color="#fd2410"/><stop offset="0.3925" stop-color="#ff2510"/><stop offset="0.3981" stop-color="#fc2410"/><stop offset="0.4000" stop-color="#ff2410"/><stop offset="0.4065" stop-color="#ff2810"/><stop offset="0.4130" stop-color="#fd2410"/><stop offset="0.4246" stop-color="#fe2911"/><stop offset="0.4369" stop-color="#fd3512"/><stop offset="0.4400" stop-color="#fe3012"/><stop offset="0.4451" stop-color="#fe2c11"/><stop offset="0.4542" stop-color="#ff2710"/><stop offset="0.4639" stop-color="#fb2410"/><stop offset="0.4738" stop-color="#fa2310"/><stop offset="0.4800" stop-color="#f22211"/><stop offset="0.4828" stop-color="#ee2211"/><stop offset="0.4934" stop-color="#e02012"/><stop offset="0.5010" stop-color="#df2012"/><stop offset="0.5050" stop-color="#d51f13"/><stop offset="0.5101" stop-color="#ca1d13"/><stop offset="0.5156" stop-color="#bd1b14"/><stop offset="0.5204" stop-color="#b01913"/><stop offset="0.5252" stop-color="#a31711"/><stop offset="0.5280" stop-color="#a21611"/><stop offset="0.5294" stop-color="#941410"/><stop offset="0.5308" stop-color="#87110f"/><stop offset="0.5322" stop-color="#780f0d"/><stop offset="0.5336" stop-color="#690c0b"/><stop offset="0.5350" stop-color="#5a0909"/><stop offset="0.5367" stop-color="#480606"/><stop offset="0.5383" stop-color="#340404"/><stop offset="0.5400" stop-color="#200202"/><stop offset="0.5408" stop-color="#1c0202"/><stop offset="0.5419" stop-color="#170101"/><stop offset="0.5429" stop-color="#120101"/><stop offset="0.5439" stop-color="#0d0101"/><stop offset="0.5449" stop-color="#080101"/><stop offset="0.5460" stop-color="#040000"/><stop offset="0.5470" stop-color="#000000"/><stop offset="0.5480" stop-color="#000000"/><stop offset="0.5496" stop-color="#000000"/><stop offset="0.5575" stop-color="#000000"/><stop offset="0.5683" stop-color="#000000"/><stop offset="0.5741" stop-color="#000000"/><stop offset="0.5864" stop-color="#000000"/><stop offset="0.5951" stop-color="#000000"/><stop offset="0.6028" stop-color="#000000"/><stop offset="0.6105" stop-color="#000000"/><stop offset="0.6202" stop-color="#000000"/><stop offset="0.6283" stop-color="#000000"/><stop offset="0.6339" stop-color="#000000"/><stop offset="0.6440" stop-color="#000000"/><stop offset="0.6446" stop-color="#000000"/><stop offset="0.6454" stop-color="#010000"/><stop offset="0.6463" stop-color="#060000"/><stop offset="0.6472" stop-color="#0b0101"/><stop offset="0.6481" stop-color="#110101"/><stop offset="0.6489" stop-color="#160101"/><stop offset="0.6498" stop-color="#1b0202"/><stop offset="0.6507" stop-color="#200202"/><stop offset="0.6516" stop-color="#330404"/><stop offset="0.6520" stop-color="#390404"/><stop offset="0.6533" stop-color="#4b0706"/><stop offset="0.6547" stop-color="#5d0a09"/><stop offset="0.6560" stop-color="#6e0d0b"/><stop offset="0.6573" stop-color="#80100e"/><stop offset="0.6587" stop-color="#90130f"/><stop offset="0.6597" stop-color="#9e1611"/><stop offset="0.6608" stop-color="#ac1812"/><stop offset="0.6619" stop-color="#ba1b13"/><stop offset="0.6629" stop-color="#c71d14"/><stop offset="0.6640" stop-color="#d51f13"/><stop offset="0.6672" stop-color="#da1f12"/><stop offset="0.6733" stop-color="#dc2012"/><stop offset="0.6812" stop-color="#e82111"/><stop offset="0.6897" stop-color="#f12211"/><stop offset="0.6963" stop-color="#f22211"/><stop offset="0.7000" stop-color="#f72311"/><stop offset="0.7064" stop-color="#fc2410"/><stop offset="0.7151" stop-color="#f62311"/><stop offset="0.7213" stop-color="#fa2310"/><stop offset="0.7281" stop-color="#fe2410"/><stop offset="0.7395" stop-color="#fa2310"/><stop offset="0.7469" stop-color="#ff2810"/><stop offset="0.7500" stop-color="#ff2410"/><stop offset="0.7570" stop-color="#fc2410"/><stop offset="0.7649" stop-color="#ef2211"/><stop offset="0.7724" stop-color="#ef2211"/><stop offset="0.7797" stop-color="#e42112"/><stop offset="0.7800" stop-color="#e62112"/><stop offset="0.7881" stop-color="#de2012"/><stop offset="0.7965" stop-color="#dc2012"/><stop offset="0.8000" stop-color="#d51f13"/><stop offset="0.8030" stop-color="#c91d13"/><stop offset="0.8090" stop-color="#be1c14"/><stop offset="0.8150" stop-color="#b31a13"/><stop offset="0.8152" stop-color="#b71a13"/><stop offset="0.8214" stop-color="#aa1812"/><stop offset="0.8277" stop-color="#9d1511"/><stop offset="0.8350" stop-color="#911310"/><stop offset="0.8399" stop-color="#981410"/><stop offset="0.8469" stop-color="#9a1510"/><stop offset="0.8583" stop-color="#9f1611"/><stop offset="0.8600" stop-color="#9e1611"/><stop offset="0.8675" stop-color="#911310"/><stop offset="0.8753" stop-color="#84110e"/><stop offset="0.8800" stop-color="#80100e"/><stop offset="0.8812" stop-color="#82100e"/><stop offset="0.8887" stop-color="#8e130f"/><stop offset="0.8944" stop-color="#971410"/><stop offset="0.9000" stop-color="#9a1510"/><stop offset="0.9048" stop-color="#8e130f"/><stop offset="0.9074" stop-color="#82100e"/><stop offset="0.9100" stop-color="#770e0d"/><stop offset="0.9133" stop-color="#6c0d0b"/><stop offset="0.9167" stop-color="#620b0a"/><stop offset="0.9208" stop-color="#500807"/><stop offset="0.9250" stop-color="#3e0505"/><stop offset="0.9262" stop-color="#380404"/><stop offset="0.9370" stop-color="#370404"/><stop offset="0.9445" stop-color="#3a0505"/><stop offset="0.9537" stop-color="#350404"/><stop offset="0.9600" stop-color="#340404"/><stop offset="0.9659" stop-color="#450606"/><stop offset="0.9737" stop-color="#550808"/><stop offset="0.9750" stop-color="#5b0909"/><stop offset="0.9767" stop-color="#6b0c0b"/><stop offset="0.9784" stop-color="#7b0f0d"/><stop offset="0.9802" stop-color="#8a120f"/><stop offset="0.9819" stop-color="#991510"/><stop offset="0.9836" stop-color="#a71712"/><stop offset="0.9853" stop-color="#b61a13"/><stop offset="0.9867" stop-color="#c11c14"/><stop offset="0.9880" stop-color="#cd1e13"/><stop offset="0.9964" stop-color="#d71f13"/><stop offset="1.0000" stop-color="#dd2012"/></linearGradient><linearGradient id="h1_1" gradientUnits="userSpaceOnUse" x1="969.6" y1="0" x2="1406.8" y2="0"><stop offset="0.0000" stop-color="#fb4a15"/><stop offset="0.0000" stop-color="#fa4e16"/><stop offset="0.0061" stop-color="#f95316"/><stop offset="0.0127" stop-color="#f95617"/><stop offset="0.0160" stop-color="#f86018"/><stop offset="0.0177" stop-color="#f8751d"/><stop offset="0.0193" stop-color="#f88a23"/><stop offset="0.0210" stop-color="#f89f28"/><stop offset="0.0226" stop-color="#f8b12e"/><stop offset="0.0243" stop-color="#f8c235"/><stop offset="0.0260" stop-color="#f8d33b"/><stop offset="0.0280" stop-color="#f7e745"/><stop offset="0.0301" stop-color="#f5f752"/><stop offset="0.0321" stop-color="#f5ff6e"/><stop offset="0.0340" stop-color="#f7ff88"/><stop offset="0.0391" stop-color="#faffac"/><stop offset="0.0410" stop-color="#faffb7"/><stop offset="0.0465" stop-color="#f7ff89"/><stop offset="0.0480" stop-color="#f7ff88"/><stop offset="0.0496" stop-color="#f5ff65"/><stop offset="0.0511" stop-color="#f5f550"/><stop offset="0.0527" stop-color="#f7e645"/><stop offset="0.0543" stop-color="#f8d73d"/><stop offset="0.0560" stop-color="#f8c636"/><stop offset="0.0589" stop-color="#f8b02e"/><stop offset="0.0618" stop-color="#f89926"/><stop offset="0.0647" stop-color="#f88321"/><stop offset="0.0660" stop-color="#f8731d"/><stop offset="0.0760" stop-color="#f8761d"/><stop offset="0.0827" stop-color="#f86d1b"/><stop offset="0.0927" stop-color="#f8721c"/><stop offset="0.1000" stop-color="#f86d1b"/><stop offset="0.1042" stop-color="#f8731d"/><stop offset="0.1102" stop-color="#f86f1c"/><stop offset="0.1205" stop-color="#f86e1c"/><stop offset="0.1272" stop-color="#f86e1c"/><stop offset="0.1332" stop-color="#f8761d"/><stop offset="0.1448" stop-color="#f8701c"/><stop offset="0.1524" stop-color="#f8761e"/><stop offset="0.1619" stop-color="#f8771e"/><stop offset="0.1734" stop-color="#f8721c"/><stop offset="0.1818" stop-color="#f8741d"/><stop offset="0.1903" stop-color="#f86d1b"/><stop offset="0.1979" stop-color="#f8781e"/><stop offset="0.2000" stop-color="#f8731d"/><stop offset="0.2036" stop-color="#f86d1b"/><stop offset="0.2135" stop-color="#f8721c"/><stop offset="0.2228" stop-color="#f8761d"/><stop offset="0.2306" stop-color="#f87f20"/><stop offset="0.2374" stop-color="#f8771e"/><stop offset="0.2443" stop-color="#f87b1f"/><stop offset="0.2517" stop-color="#f8781e"/><stop offset="0.2625" stop-color="#f8781e"/><stop offset="0.2719" stop-color="#f88321"/><stop offset="0.2780" stop-color="#f8761e"/><stop offset="0.2851" stop-color="#f88221"/><stop offset="0.2949" stop-color="#f87b1f"/><stop offset="0.3000" stop-color="#f88020"/><stop offset="0.3027" stop-color="#f87c1f"/><stop offset="0.3114" stop-color="#f87c1f"/><stop offset="0.3218" stop-color="#f88c23"/><stop offset="0.3341" stop-color="#f88d23"/><stop offset="0.3464" stop-color="#f88521"/><stop offset="0.3539" stop-color="#f89625"/><stop offset="0.3649" stop-color="#f89024"/><stop offset="0.3700" stop-color="#f89325"/><stop offset="0.3770" stop-color="#f89a26"/><stop offset="0.3883" stop-color="#f89c27"/><stop offset="0.3951" stop-color="#f8a229"/><stop offset="0.4015" stop-color="#f8a62a"/><stop offset="0.4100" stop-color="#f8ad2d"/><stop offset="0.4138" stop-color="#f8ad2d"/><stop offset="0.4193" stop-color="#f8ac2c"/><stop offset="0.4259" stop-color="#f8bb32"/><stop offset="0.4339" stop-color="#f8b931"/><stop offset="0.4350" stop-color="#f8bd33"/><stop offset="0.4400" stop-color="#f8c034"/><stop offset="0.4485" stop-color="#f8ae2d"/><stop offset="0.4543" stop-color="#f8a72a"/><stop offset="0.4550" stop-color="#f8ad2d"/><stop offset="0.4609" stop-color="#f8a028"/><stop offset="0.4642" stop-color="#f89325"/><stop offset="0.4674" stop-color="#f88622"/><stop offset="0.4763" stop-color="#f8721d"/><stop offset="0.4800" stop-color="#f86d1b"/><stop offset="0.4845" stop-color="#f85f18"/><stop offset="0.4889" stop-color="#fa5116"/><stop offset="0.4981" stop-color="#fb4414"/><stop offset="0.5050" stop-color="#fe3012"/><stop offset="0.5065" stop-color="#fe3012"/><stop offset="0.5094" stop-color="#fb2310"/><stop offset="0.5124" stop-color="#ee2211"/><stop offset="0.5153" stop-color="#e22012"/><stop offset="0.5195" stop-color="#d21e13"/><stop offset="0.5237" stop-color="#c31c14"/><stop offset="0.5278" stop-color="#b71a13"/><stop offset="0.5320" stop-color="#ab1812"/><stop offset="0.5321" stop-color="#a71712"/><stop offset="0.5338" stop-color="#971410"/><stop offset="0.5355" stop-color="#88110f"/><stop offset="0.5372" stop-color="#770e0d"/><stop offset="0.5388" stop-color="#660b0a"/><stop offset="0.5405" stop-color="#550808"/><stop offset="0.5422" stop-color="#430606"/><stop offset="0.5439" stop-color="#310404"/><stop offset="0.5450" stop-color="#200202"/><stop offset="0.5459" stop-color="#1b0202"/><stop offset="0.5467" stop-color="#160101"/><stop offset="0.5476" stop-color="#120101"/><stop offset="0.5485" stop-color="#0d0101"/><stop offset="0.5494" stop-color="#080000"/><stop offset="0.5503" stop-color="#030000"/><stop offset="0.5511" stop-color="#000000"/><stop offset="0.5520" stop-color="#000000"/><stop offset="0.5529" stop-color="#000000"/><stop offset="0.5601" stop-color="#000000"/><stop offset="0.5670" stop-color="#000000"/><stop offset="0.5787" stop-color="#000000"/><stop offset="0.5845" stop-color="#000000"/><stop offset="0.5939" stop-color="#000000"/><stop offset="0.6022" stop-color="#000000"/><stop offset="0.6123" stop-color="#000000"/><stop offset="0.6231" stop-color="#000000"/><stop offset="0.6292" stop-color="#000000"/><stop offset="0.6390" stop-color="#000000"/><stop offset="0.6396" stop-color="#000000"/><stop offset="0.6402" stop-color="#010000"/><stop offset="0.6409" stop-color="#050000"/><stop offset="0.6417" stop-color="#0a0101"/><stop offset="0.6426" stop-color="#0f0101"/><stop offset="0.6435" stop-color="#130101"/><stop offset="0.6444" stop-color="#180202"/><stop offset="0.6452" stop-color="#1d0202"/><stop offset="0.6461" stop-color="#260303"/><stop offset="0.6470" stop-color="#390404"/><stop offset="0.6482" stop-color="#4c0707"/><stop offset="0.6494" stop-color="#5d0a09"/><stop offset="0.6505" stop-color="#6f0d0c"/><stop offset="0.6517" stop-color="#80100e"/><stop offset="0.6529" stop-color="#901310"/><stop offset="0.6539" stop-color="#9f1611"/><stop offset="0.6549" stop-color="#ad1812"/><stop offset="0.6560" stop-color="#bb1b14"/><stop offset="0.6570" stop-color="#ca1d13"/><stop offset="0.6580" stop-color="#d81f12"/><stop offset="0.6590" stop-color="#e62112"/><stop offset="0.6630" stop-color="#ed2211"/><stop offset="0.6731" stop-color="#f92310"/><stop offset="0.6823" stop-color="#ff2810"/><stop offset="0.6926" stop-color="#fd3312"/><stop offset="0.7000" stop-color="#fc4214"/><stop offset="0.7047" stop-color="#fb4715"/><stop offset="0.7106" stop-color="#fb4615"/><stop offset="0.7229" stop-color="#fc3f14"/><stop offset="0.7286" stop-color="#fc4114"/><stop offset="0.7350" stop-color="#fc4014"/><stop offset="0.7452" stop-color="#fe3112"/><stop offset="0.7500" stop-color="#fd3612"/><stop offset="0.7518" stop-color="#fd3713"/><stop offset="0.7613" stop-color="#fd3312"/><stop offset="0.7733" stop-color="#ff2410"/><stop offset="0.7788" stop-color="#fe2b11"/><stop offset="0.7800" stop-color="#ff2410"/><stop offset="0.7843" stop-color="#fe2b11"/><stop offset="0.7905" stop-color="#fe2c11"/><stop offset="0.8000" stop-color="#fe2a11"/><stop offset="0.8015" stop-color="#fe2b11"/><stop offset="0.8062" stop-color="#fb2310"/><stop offset="0.8109" stop-color="#f22211"/><stop offset="0.8150" stop-color="#e62112"/><stop offset="0.8177" stop-color="#e92111"/><stop offset="0.8255" stop-color="#ee2211"/><stop offset="0.8350" stop-color="#ee2211"/><stop offset="0.8365" stop-color="#ed2211"/><stop offset="0.8457" stop-color="#e62112"/><stop offset="0.8513" stop-color="#ea2111"/><stop offset="0.8600" stop-color="#e62112"/><stop offset="0.8602" stop-color="#e92111"/><stop offset="0.8700" stop-color="#de2012"/><stop offset="0.8780" stop-color="#e12012"/><stop offset="0.8800" stop-color="#dd2012"/><stop offset="0.8872" stop-color="#db1f12"/><stop offset="0.8986" stop-color="#e92111"/><stop offset="0.9000" stop-color="#e62112"/><stop offset="0.9046" stop-color="#de2012"/><stop offset="0.9128" stop-color="#d31e13"/><stop offset="0.9150" stop-color="#cd1e13"/><stop offset="0.9204" stop-color="#c41c14"/><stop offset="0.9293" stop-color="#c11c14"/><stop offset="0.9300" stop-color="#bc1b14"/><stop offset="0.9354" stop-color="#b81a13"/><stop offset="0.9453" stop-color="#c01c14"/><stop offset="0.9544" stop-color="#bb1b14"/><stop offset="0.9600" stop-color="#bc1b14"/><stop offset="0.9660" stop-color="#c91d13"/><stop offset="0.9718" stop-color="#d41e13"/><stop offset="0.9750" stop-color="#d51f13"/><stop offset="0.9786" stop-color="#db1f12"/><stop offset="0.9833" stop-color="#e72112"/><stop offset="0.9880" stop-color="#f22211"/><stop offset="0.9901" stop-color="#f32211"/><stop offset="1.0000" stop-color="#fb2310"/></linearGradient><linearGradient id="m1_1g" gradientUnits="userSpaceOnUse" x1="0" y1="285.4" x2="0" y2="534.4"><stop offset="0.000" stop-color="#fff" stop-opacity="1.000"/><stop offset="0.480" stop-color="#fff" stop-opacity="1.000"/><stop offset="0.560" stop-color="#fff" stop-opacity="0.780"/><stop offset="0.640" stop-color="#fff" stop-opacity="0.350"/><stop offset="0.740" stop-color="#fff" stop-opacity="0.100"/><stop offset="0.900" stop-color="#fff" stop-opacity="0.000"/></linearGradient><mask id="m1_1" maskUnits="userSpaceOnUse" x="967.6" y="283.4" width="441.2" height="253"><rect x="967.6" y="283.4" width="441.2" height="253" fill="url(#m1_1g)"/></mask><linearGradient id="h1_2" gradientUnits="userSpaceOnUse" x1="969.6" y1="0" x2="1406.8" y2="0"><stop offset="0.0000" stop-color="#f86018"/><stop offset="0.0000" stop-color="#f86218"/><stop offset="0.0107" stop-color="#f86d1b"/><stop offset="0.0160" stop-color="#f86d1b"/><stop offset="0.0183" stop-color="#f88321"/><stop offset="0.0206" stop-color="#f89926"/><stop offset="0.0229" stop-color="#f8af2d"/><stop offset="0.0260" stop-color="#f8c636"/><stop offset="0.0287" stop-color="#f8dc3e"/><stop offset="0.0313" stop-color="#f6ee4b"/><stop offset="0.0340" stop-color="#f4ff58"/><stop offset="0.0350" stop-color="#f5fb55"/><stop offset="0.0410" stop-color="#f6ff70"/><stop offset="0.0437" stop-color="#f6ff73"/><stop offset="0.0480" stop-color="#f4ff58"/><stop offset="0.0509" stop-color="#f7eb49"/><stop offset="0.0538" stop-color="#f8d53c"/><stop offset="0.0549" stop-color="#f8c737"/><stop offset="0.0560" stop-color="#f8ba32"/><stop offset="0.0580" stop-color="#f8ab2c"/><stop offset="0.0600" stop-color="#f89d27"/><stop offset="0.0630" stop-color="#f88822"/><stop offset="0.0660" stop-color="#f8731d"/><stop offset="0.0672" stop-color="#f8731d"/><stop offset="0.0767" stop-color="#f8681a"/><stop offset="0.0837" stop-color="#f8691a"/><stop offset="0.0957" stop-color="#f86c1b"/><stop offset="0.1000" stop-color="#f8661a"/><stop offset="0.1022" stop-color="#f86b1b"/><stop offset="0.1086" stop-color="#f8691a"/><stop offset="0.1149" stop-color="#f86018"/><stop offset="0.1266" stop-color="#f86419"/><stop offset="0.1336" stop-color="#f8701c"/><stop offset="0.1452" stop-color="#f8661a"/><stop offset="0.1576" stop-color="#f86b1b"/><stop offset="0.1678" stop-color="#f8661a"/><stop offset="0.1800" stop-color="#f86e1c"/><stop offset="0.1924" stop-color="#f8721d"/><stop offset="0.1999" stop-color="#f86b1b"/><stop offset="0.2065" stop-color="#f8681a"/><stop offset="0.2124" stop-color="#f86b1b"/><stop offset="0.2221" stop-color="#f8671a"/><stop offset="0.2324" stop-color="#f86c1b"/><stop offset="0.2400" stop-color="#f8741d"/><stop offset="0.2489" stop-color="#f86d1b"/><stop offset="0.2578" stop-color="#f8741d"/><stop offset="0.2636" stop-color="#f8781e"/><stop offset="0.2691" stop-color="#f8751d"/><stop offset="0.2806" stop-color="#f86b1b"/><stop offset="0.2917" stop-color="#f8711c"/><stop offset="0.3000" stop-color="#f8731d"/><stop offset="0.3013" stop-color="#f86c1b"/><stop offset="0.3070" stop-color="#f8701c"/><stop offset="0.3193" stop-color="#f8721d"/><stop offset="0.3301" stop-color="#f88020"/><stop offset="0.3423" stop-color="#f8791e"/><stop offset="0.3503" stop-color="#f87d1f"/><stop offset="0.3612" stop-color="#f8791e"/><stop offset="0.3720" stop-color="#f88621"/><stop offset="0.3836" stop-color="#f87c1f"/><stop offset="0.3958" stop-color="#f87f20"/><stop offset="0.4000" stop-color="#f88622"/><stop offset="0.4037" stop-color="#f88a23"/><stop offset="0.4157" stop-color="#f88d23"/><stop offset="0.4278" stop-color="#f89626"/><stop offset="0.4350" stop-color="#f89a26"/><stop offset="0.4354" stop-color="#f89626"/><stop offset="0.4421" stop-color="#f88822"/><stop offset="0.4486" stop-color="#f88722"/><stop offset="0.4548" stop-color="#f8791e"/><stop offset="0.4611" stop-color="#f86c1b"/><stop offset="0.4669" stop-color="#f86f1c"/><stop offset="0.4761" stop-color="#f95817"/><stop offset="0.4800" stop-color="#f95416"/><stop offset="0.4832" stop-color="#fa4f16"/><stop offset="0.4946" stop-color="#fd3713"/><stop offset="0.5030" stop-color="#fd2410"/><stop offset="0.5050" stop-color="#ff2410"/><stop offset="0.5100" stop-color="#f02211"/><stop offset="0.5150" stop-color="#e12012"/><stop offset="0.5240" stop-color="#d21e13"/><stop offset="0.5271" stop-color="#ca1d13"/><stop offset="0.5303" stop-color="#c11c14"/><stop offset="0.5342" stop-color="#b61a13"/><stop offset="0.5380" stop-color="#ab1812"/><stop offset="0.5395" stop-color="#9b1511"/><stop offset="0.5410" stop-color="#8b120f"/><stop offset="0.5425" stop-color="#7b0f0d"/><stop offset="0.5440" stop-color="#690c0b"/><stop offset="0.5455" stop-color="#580908"/><stop offset="0.5470" stop-color="#460606"/><stop offset="0.5485" stop-color="#330404"/><stop offset="0.5500" stop-color="#200202"/><stop offset="0.5507" stop-color="#1c0202"/><stop offset="0.5514" stop-color="#180101"/><stop offset="0.5522" stop-color="#130101"/><stop offset="0.5529" stop-color="#0f0101"/><stop offset="0.5536" stop-color="#0b0101"/><stop offset="0.5545" stop-color="#070000"/><stop offset="0.5553" stop-color="#020000"/><stop offset="0.5562" stop-color="#000000"/><stop offset="0.5570" stop-color="#000000"/><stop offset="0.5621" stop-color="#000000"/><stop offset="0.5736" stop-color="#000000"/><stop offset="0.5823" stop-color="#000000"/><stop offset="0.5938" stop-color="#000000"/><stop offset="0.6025" stop-color="#000000"/><stop offset="0.6131" stop-color="#000000"/><stop offset="0.6206" stop-color="#000000"/><stop offset="0.6271" stop-color="#000000"/><stop offset="0.6360" stop-color="#000000"/><stop offset="0.6367" stop-color="#000000"/><stop offset="0.6374" stop-color="#020000"/><stop offset="0.6382" stop-color="#070000"/><stop offset="0.6389" stop-color="#0b0101"/><stop offset="0.6396" stop-color="#0f0101"/><stop offset="0.6405" stop-color="#140101"/><stop offset="0.6414" stop-color="#180202"/><stop offset="0.6422" stop-color="#1d0202"/><stop offset="0.6431" stop-color="#270303"/><stop offset="0.6440" stop-color="#390404"/><stop offset="0.6451" stop-color="#4a0606"/><stop offset="0.6462" stop-color="#5a0909"/><stop offset="0.6473" stop-color="#6a0c0b"/><stop offset="0.6484" stop-color="#7a0f0d"/><stop offset="0.6495" stop-color="#89120f"/><stop offset="0.6508" stop-color="#9a1510"/><stop offset="0.6521" stop-color="#ab1812"/><stop offset="0.6534" stop-color="#bc1b14"/><stop offset="0.6547" stop-color="#cd1e13"/><stop offset="0.6560" stop-color="#dd2012"/><stop offset="0.6574" stop-color="#db1f12"/><stop offset="0.6610" stop-color="#e32112"/><stop offset="0.6647" stop-color="#ec2211"/><stop offset="0.6764" stop-color="#f72310"/><stop offset="0.6819" stop-color="#ff2610"/><stop offset="0.6874" stop-color="#fd3412"/><stop offset="0.6978" stop-color="#fb4615"/><stop offset="0.7000" stop-color="#fb4815"/><stop offset="0.7087" stop-color="#fc4214"/><stop offset="0.7192" stop-color="#fc3c13"/><stop offset="0.7281" stop-color="#fc3e14"/><stop offset="0.7384" stop-color="#fd3312"/><stop offset="0.7500" stop-color="#fe3012"/><stop offset="0.7506" stop-color="#fd3212"/><stop offset="0.7602" stop-color="#ff2510"/><stop offset="0.7696" stop-color="#ff2510"/><stop offset="0.7798" stop-color="#ff2410"/><stop offset="0.7800" stop-color="#ff2410"/><stop offset="0.7911" stop-color="#fe2d11"/><stop offset="0.8000" stop-color="#fe3012"/><stop offset="0.8022" stop-color="#ff2710"/><stop offset="0.8072" stop-color="#f82310"/><stop offset="0.8123" stop-color="#ee2211"/><stop offset="0.8150" stop-color="#e62112"/><stop offset="0.8236" stop-color="#ec2211"/><stop offset="0.8350" stop-color="#f72311"/><stop offset="0.8351" stop-color="#fa2310"/><stop offset="0.8455" stop-color="#f42311"/><stop offset="0.8577" stop-color="#e82111"/><stop offset="0.8600" stop-color="#e62112"/><stop offset="0.8669" stop-color="#e52112"/><stop offset="0.8784" stop-color="#f22211"/><stop offset="0.8800" stop-color="#ee2211"/><stop offset="0.8872" stop-color="#ed2211"/><stop offset="0.8978" stop-color="#e92111"/><stop offset="0.9000" stop-color="#e62112"/><stop offset="0.9044" stop-color="#df2012"/><stop offset="0.9092" stop-color="#d31e13"/><stop offset="0.9140" stop-color="#c81d13"/><stop offset="0.9150" stop-color="#c41d14"/><stop offset="0.9224" stop-color="#b61a13"/><stop offset="0.9279" stop-color="#aa1812"/><stop offset="0.9334" stop-color="#9e1611"/><stop offset="0.9350" stop-color="#9a1510"/><stop offset="0.9440" stop-color="#9b1511"/><stop offset="0.9506" stop-color="#a41711"/><stop offset="0.9600" stop-color="#ab1812"/><stop offset="0.9606" stop-color="#aa1812"/><stop offset="0.9658" stop-color="#ba1b13"/><stop offset="0.9710" stop-color="#cb1d13"/><stop offset="0.9750" stop-color="#d51f13"/><stop offset="0.9767" stop-color="#da1f12"/><stop offset="0.9802" stop-color="#e32012"/><stop offset="0.9837" stop-color="#ed2211"/><stop offset="0.9859" stop-color="#f62311"/><stop offset="0.9880" stop-color="#ff2410"/><stop offset="0.9901" stop-color="#fd2410"/><stop offset="0.9968" stop-color="#fc2410"/><stop offset="1.0000" stop-color="#ff2410"/></linearGradient><linearGradient id="m1_2g" gradientUnits="userSpaceOnUse" x1="0" y1="285.4" x2="0" y2="534.4"><stop offset="0.000" stop-color="#fff" stop-opacity="1.000"/><stop offset="0.150" stop-color="#fff" stop-opacity="0.800"/><stop offset="0.350" stop-color="#fff" stop-opacity="0.000"/></linearGradient><mask id="m1_2" maskUnits="userSpaceOnUse" x="967.6" y="283.4" width="441.2" height="253"><rect x="967.6" y="283.4" width="441.2" height="253" fill="url(#m1_2g)"/></mask></defs><rect x="969.6" y="285.4" width="437.2" height="249" fill="url(#h1_0)"/>
<rect x="969.6" y="285.4" width="437.2" height="249" fill="url(#h1_1)" mask="url(#m1_1)"/>
<rect x="969.6" y="285.4" width="437.2" height="249" fill="url(#h1_2)" mask="url(#m1_2)"/>
<rect x="969.6" y="285.4" width="437.2" height="249" fill="url(#stri)" opacity="0.9"/>
<defs><radialGradient id="blob"><stop offset="0" stop-color="#000" stop-opacity="1"/><stop offset="0.66" stop-color="#050000" stop-opacity="0.97"/><stop offset="0.84" stop-color="#200000" stop-opacity="0.6"/><stop offset="1" stop-color="#400000" stop-opacity="0"/></radialGradient><clipPath id="hm1c"><rect x="969.6" y="285.4" width="437.2" height="249"/></clipPath></defs>
<defs><filter id="bl1" x="-20%" y="-5%" width="140%" height="110%"><feGaussianBlur stdDeviation="1.6"/></filter></defs>
<g clip-path="url(#hm1c)"><polygon points="1212.3,285.4 1250.2,285.4 1250.8,360.1 1252.5,422.4 1256,479.6 1261.5,534.4 1203.2,534.4 1205.5,497 1209.5,439.8 1211.5,372.5" fill="#000" stroke="#000" stroke-width="2" filter="url(#bl1)"/><ellipse cx="1382.5" cy="542" rx="16.5" ry="96" fill="url(#blob)"/><ellipse cx="1350" cy="546" rx="24" ry="46" fill="url(#blob)" opacity="0.7"/><ellipse cx="1380" cy="330" rx="8" ry="46" fill="url(#blob)" opacity="0.28"/></g>
<defs><linearGradient id="h2_0" gradientUnits="userSpaceOnUse" x1="969.6" y1="0" x2="1406.8" y2="0"><stop offset="0.0000" stop-color="#ff2710"/><stop offset="0.0000" stop-color="#ff2410"/><stop offset="0.0113" stop-color="#ff2410"/><stop offset="0.0186" stop-color="#fb2410"/><stop offset="0.0288" stop-color="#fe2410"/><stop offset="0.0396" stop-color="#fd2410"/><stop offset="0.0506" stop-color="#fc2410"/><stop offset="0.0618" stop-color="#ff2410"/><stop offset="0.0701" stop-color="#fe2410"/><stop offset="0.0805" stop-color="#fb2410"/><stop offset="0.0898" stop-color="#ff2410"/><stop offset="0.0972" stop-color="#ff2410"/><stop offset="0.1075" stop-color="#ff2410"/><stop offset="0.1153" stop-color="#fa2310"/><stop offset="0.1265" stop-color="#fe2410"/><stop offset="0.1351" stop-color="#f92310"/><stop offset="0.1419" stop-color="#fd2410"/><stop offset="0.1494" stop-color="#ff2410"/><stop offset="0.1590" stop-color="#fa2310"/><stop offset="0.1691" stop-color="#fb2310"/><stop offset="0.1813" stop-color="#fe2410"/><stop offset="0.1904" stop-color="#fc2410"/><stop offset="0.2000" stop-color="#fb2310"/><stop offset="0.2008" stop-color="#fd2410"/><stop offset="0.2132" stop-color="#f72311"/><stop offset="0.2212" stop-color="#fa2310"/><stop offset="0.2288" stop-color="#f92310"/><stop offset="0.2349" stop-color="#fa2310"/><stop offset="0.2440" stop-color="#f52311"/><stop offset="0.2542" stop-color="#f52311"/><stop offset="0.2610" stop-color="#f62311"/><stop offset="0.2674" stop-color="#f32211"/><stop offset="0.2791" stop-color="#f52311"/><stop offset="0.2845" stop-color="#f62311"/><stop offset="0.2901" stop-color="#f22211"/><stop offset="0.3000" stop-color="#f22211"/><stop offset="0.3020" stop-color="#f32211"/><stop offset="0.3096" stop-color="#f12211"/><stop offset="0.3178" stop-color="#ef2211"/><stop offset="0.3304" stop-color="#ee2211"/><stop offset="0.3388" stop-color="#f22211"/><stop offset="0.3471" stop-color="#f42311"/><stop offset="0.3543" stop-color="#f32311"/><stop offset="0.3661" stop-color="#f12211"/><stop offset="0.3779" stop-color="#ef2211"/><stop offset="0.3893" stop-color="#f12211"/><stop offset="0.3984" stop-color="#ee2211"/><stop offset="0.4000" stop-color="#ee2211"/><stop offset="0.4089" stop-color="#ed2211"/><stop offset="0.4149" stop-color="#ef2211"/><stop offset="0.4222" stop-color="#ed2211"/><stop offset="0.4333" stop-color="#ea2111"/><stop offset="0.4388" stop-color="#ea2111"/><stop offset="0.4485" stop-color="#eb2111"/><stop offset="0.4557" stop-color="#eb2111"/><stop offset="0.4678" stop-color="#e92111"/><stop offset="0.4761" stop-color="#ed2211"/><stop offset="0.4800" stop-color="#ea2111"/><stop offset="0.4859" stop-color="#e52112"/><stop offset="0.4948" stop-color="#e22012"/><stop offset="0.5012" stop-color="#dd2012"/><stop offset="0.5088" stop-color="#dc2012"/><stop offset="0.5100" stop-color="#d91f12"/><stop offset="0.5165" stop-color="#d31e13"/><stop offset="0.5289" stop-color="#c61d14"/><stop offset="0.5350" stop-color="#bc1b14"/><stop offset="0.5370" stop-color="#b71a13"/><stop offset="0.5409" stop-color="#ad1812"/><stop offset="0.5447" stop-color="#a21611"/><stop offset="0.5492" stop-color="#981510"/><stop offset="0.5536" stop-color="#8e130f"/><stop offset="0.5550" stop-color="#89120f"/><stop offset="0.5586" stop-color="#770e0d"/><stop offset="0.5622" stop-color="#640b0a"/><stop offset="0.5658" stop-color="#520807"/><stop offset="0.5680" stop-color="#480606"/><stop offset="0.5696" stop-color="#350404"/><stop offset="0.5712" stop-color="#230202"/><stop offset="0.5727" stop-color="#1c0202"/><stop offset="0.5741" stop-color="#180101"/><stop offset="0.5756" stop-color="#130101"/><stop offset="0.5770" stop-color="#0f0101"/><stop offset="0.5780" stop-color="#0d0101"/><stop offset="0.5880" stop-color="#0c0101"/><stop offset="0.5986" stop-color="#0d0101"/><stop offset="0.6000" stop-color="#0d0101"/><stop offset="0.6013" stop-color="#110101"/><stop offset="0.6027" stop-color="#160101"/><stop offset="0.6040" stop-color="#1a0202"/><stop offset="0.6053" stop-color="#1f0202"/><stop offset="0.6067" stop-color="#2c0303"/><stop offset="0.6080" stop-color="#3e0505"/><stop offset="0.6107" stop-color="#4e0707"/><stop offset="0.6136" stop-color="#590908"/><stop offset="0.6166" stop-color="#640b0a"/><stop offset="0.6200" stop-color="#770e0d"/><stop offset="0.6244" stop-color="#87110f"/><stop offset="0.6288" stop-color="#961410"/><stop offset="0.6319" stop-color="#a01611"/><stop offset="0.6350" stop-color="#ab1812"/><stop offset="0.6372" stop-color="#b01913"/><stop offset="0.6429" stop-color="#b91b13"/><stop offset="0.6485" stop-color="#c21c14"/><stop offset="0.6573" stop-color="#ce1e13"/><stop offset="0.6600" stop-color="#d51f13"/><stop offset="0.6653" stop-color="#d51f13"/><stop offset="0.6752" stop-color="#de2012"/><stop offset="0.6816" stop-color="#e12012"/><stop offset="0.6877" stop-color="#e12012"/><stop offset="0.6978" stop-color="#e92111"/><stop offset="0.7000" stop-color="#ea2111"/><stop offset="0.7096" stop-color="#ec2211"/><stop offset="0.7201" stop-color="#ea2111"/><stop offset="0.7315" stop-color="#ec2211"/><stop offset="0.7413" stop-color="#f32211"/><stop offset="0.7533" stop-color="#f42311"/><stop offset="0.7600" stop-color="#f22211"/><stop offset="0.7619" stop-color="#f62311"/><stop offset="0.7730" stop-color="#fe2911"/><stop offset="0.7750" stop-color="#fe3012"/><stop offset="0.7784" stop-color="#fb4815"/><stop offset="0.7818" stop-color="#f85f18"/><stop offset="0.7852" stop-color="#f8781e"/><stop offset="0.7860" stop-color="#f87a1e"/><stop offset="0.7899" stop-color="#f88f24"/><stop offset="0.7938" stop-color="#f8a42a"/><stop offset="0.7960" stop-color="#f8ad2d"/><stop offset="0.7992" stop-color="#f89b27"/><stop offset="0.8024" stop-color="#f88a22"/><stop offset="0.8060" stop-color="#f87a1e"/><stop offset="0.8083" stop-color="#f86319"/><stop offset="0.8106" stop-color="#fa4e16"/><stop offset="0.8129" stop-color="#fc3a13"/><stop offset="0.8160" stop-color="#ff2410"/><stop offset="0.8241" stop-color="#fb2310"/><stop offset="0.8300" stop-color="#f22211"/><stop offset="0.8316" stop-color="#f52311"/><stop offset="0.8376" stop-color="#f12211"/><stop offset="0.8450" stop-color="#ee2211"/><stop offset="0.8535" stop-color="#e92111"/><stop offset="0.8591" stop-color="#e02012"/><stop offset="0.8700" stop-color="#dd2012"/><stop offset="0.8704" stop-color="#de2012"/><stop offset="0.8796" stop-color="#cf1e13"/><stop offset="0.8863" stop-color="#ca1d13"/><stop offset="0.8921" stop-color="#c81d13"/><stop offset="0.9000" stop-color="#bc1b14"/><stop offset="0.9030" stop-color="#ba1b13"/><stop offset="0.9082" stop-color="#b01913"/><stop offset="0.9134" stop-color="#a61712"/><stop offset="0.9194" stop-color="#9f1611"/><stop offset="0.9220" stop-color="#9a1510"/><stop offset="0.9256" stop-color="#921310"/><stop offset="0.9300" stop-color="#89120f"/><stop offset="0.9343" stop-color="#7f100e"/><stop offset="0.9403" stop-color="#6e0d0b"/><stop offset="0.9420" stop-color="#6d0d0b"/><stop offset="0.9494" stop-color="#780f0d"/><stop offset="0.9586" stop-color="#89120f"/><stop offset="0.9620" stop-color="#911310"/><stop offset="0.9660" stop-color="#8b120f"/><stop offset="0.9755" stop-color="#85110e"/><stop offset="0.9820" stop-color="#80100e"/><stop offset="0.9825" stop-color="#7f100e"/><stop offset="0.9873" stop-color="#88110f"/><stop offset="0.9920" stop-color="#911310"/><stop offset="1.0000" stop-color="#9a1510"/></linearGradient><linearGradient id="h2_1" gradientUnits="userSpaceOnUse" x1="969.6" y1="0" x2="1406.8" y2="0"><stop offset="0.0000" stop-color="#ff2410"/><stop offset="0.0000" stop-color="#fe2410"/><stop offset="0.0065" stop-color="#ff2510"/><stop offset="0.0124" stop-color="#ff2410"/><stop offset="0.0204" stop-color="#fc2410"/><stop offset="0.0295" stop-color="#fc2410"/><stop offset="0.0380" stop-color="#fc2410"/><stop offset="0.0441" stop-color="#fe2410"/><stop offset="0.0554" stop-color="#fc2410"/><stop offset="0.0624" stop-color="#ff2510"/><stop offset="0.0747" stop-color="#ff2510"/><stop offset="0.0829" stop-color="#fe2911"/><stop offset="0.0886" stop-color="#ff2710"/><stop offset="0.0961" stop-color="#fd2410"/><stop offset="0.1024" stop-color="#fe2410"/><stop offset="0.1137" stop-color="#fd2410"/><stop offset="0.1232" stop-color="#ff2510"/><stop offset="0.1313" stop-color="#ff2410"/><stop offset="0.1372" stop-color="#fc2410"/><stop offset="0.1441" stop-color="#ff2610"/><stop offset="0.1525" stop-color="#fe2410"/><stop offset="0.1622" stop-color="#ff2410"/><stop offset="0.1697" stop-color="#ff2710"/><stop offset="0.1801" stop-color="#fd2410"/><stop offset="0.1897" stop-color="#ff2410"/><stop offset="0.2000" stop-color="#ff2410"/><stop offset="0.2014" stop-color="#ff2610"/><stop offset="0.2089" stop-color="#fe2911"/><stop offset="0.2151" stop-color="#fe2410"/><stop offset="0.2260" stop-color="#fd2410"/><stop offset="0.2349" stop-color="#fc2410"/><stop offset="0.2451" stop-color="#ff2710"/><stop offset="0.2546" stop-color="#ff2810"/><stop offset="0.2623" stop-color="#ff2610"/><stop offset="0.2720" stop-color="#ff2510"/><stop offset="0.2806" stop-color="#ff2710"/><stop offset="0.2928" stop-color="#ff2410"/><stop offset="0.3000" stop-color="#ff2410"/><stop offset="0.3030" stop-color="#fc2410"/><stop offset="0.3135" stop-color="#ff2510"/><stop offset="0.3260" stop-color="#ff2610"/><stop offset="0.3335" stop-color="#fd2410"/><stop offset="0.3437" stop-color="#fa2310"/><stop offset="0.3524" stop-color="#fb2310"/><stop offset="0.3587" stop-color="#fa2310"/><stop offset="0.3696" stop-color="#fa2310"/><stop offset="0.3768" stop-color="#fb2310"/><stop offset="0.3884" stop-color="#f82310"/><stop offset="0.3971" stop-color="#fb2410"/><stop offset="0.4000" stop-color="#fb2310"/><stop offset="0.4088" stop-color="#fc2410"/><stop offset="0.4205" stop-color="#f72310"/><stop offset="0.4288" stop-color="#f72311"/><stop offset="0.4406" stop-color="#fa2310"/><stop offset="0.4471" stop-color="#f42311"/><stop offset="0.4542" stop-color="#f32311"/><stop offset="0.4631" stop-color="#f52311"/><stop offset="0.4704" stop-color="#f02211"/><stop offset="0.4788" stop-color="#f22211"/><stop offset="0.4800" stop-color="#f22211"/><stop offset="0.4882" stop-color="#f12211"/><stop offset="0.4986" stop-color="#e82111"/><stop offset="0.5085" stop-color="#e42112"/><stop offset="0.5100" stop-color="#e22012"/><stop offset="0.5143" stop-color="#df2012"/><stop offset="0.5253" stop-color="#d21e13"/><stop offset="0.5350" stop-color="#c41d14"/><stop offset="0.5364" stop-color="#bf1c14"/><stop offset="0.5405" stop-color="#b21913"/><stop offset="0.5447" stop-color="#a51711"/><stop offset="0.5497" stop-color="#961410"/><stop offset="0.5547" stop-color="#87110f"/><stop offset="0.5550" stop-color="#89120f"/><stop offset="0.5578" stop-color="#7a0f0d"/><stop offset="0.5605" stop-color="#6b0c0b"/><stop offset="0.5638" stop-color="#5b0909"/><stop offset="0.5671" stop-color="#4b0706"/><stop offset="0.5680" stop-color="#480606"/><stop offset="0.5692" stop-color="#390404"/><stop offset="0.5704" stop-color="#2a0303"/><stop offset="0.5717" stop-color="#1f0202"/><stop offset="0.5729" stop-color="#1b0202"/><stop offset="0.5746" stop-color="#160101"/><stop offset="0.5763" stop-color="#110101"/><stop offset="0.5780" stop-color="#0d0101"/><stop offset="0.5794" stop-color="#0c0101"/><stop offset="0.5874" stop-color="#0c0101"/><stop offset="0.5991" stop-color="#0d0101"/><stop offset="0.6000" stop-color="#0d0101"/><stop offset="0.6014" stop-color="#110101"/><stop offset="0.6028" stop-color="#160101"/><stop offset="0.6042" stop-color="#1a0202"/><stop offset="0.6056" stop-color="#1f0202"/><stop offset="0.6068" stop-color="#2d0303"/><stop offset="0.6080" stop-color="#3e0505"/><stop offset="0.6107" stop-color="#490606"/><stop offset="0.6135" stop-color="#530808"/><stop offset="0.6166" stop-color="#610a0a"/><stop offset="0.6197" stop-color="#6f0d0c"/><stop offset="0.6200" stop-color="#6d0d0b"/><stop offset="0.6241" stop-color="#7d0f0e"/><stop offset="0.6282" stop-color="#8b120f"/><stop offset="0.6323" stop-color="#991510"/><stop offset="0.6350" stop-color="#a21611"/><stop offset="0.6412" stop-color="#ac1812"/><stop offset="0.6473" stop-color="#ba1b13"/><stop offset="0.6510" stop-color="#c31c14"/><stop offset="0.6546" stop-color="#cc1e13"/><stop offset="0.6600" stop-color="#d51f13"/><stop offset="0.6612" stop-color="#d31e13"/><stop offset="0.6734" stop-color="#de2012"/><stop offset="0.6799" stop-color="#e22012"/><stop offset="0.6855" stop-color="#e52112"/><stop offset="0.6979" stop-color="#ef2211"/><stop offset="0.7000" stop-color="#ee2211"/><stop offset="0.7083" stop-color="#ee2211"/><stop offset="0.7164" stop-color="#ee2211"/><stop offset="0.7273" stop-color="#f22211"/><stop offset="0.7383" stop-color="#f22211"/><stop offset="0.7453" stop-color="#f72311"/><stop offset="0.7578" stop-color="#f92310"/><stop offset="0.7600" stop-color="#f72311"/><stop offset="0.7645" stop-color="#ff2410"/><stop offset="0.7690" stop-color="#fe3112"/><stop offset="0.7750" stop-color="#fc3c13"/><stop offset="0.7798" stop-color="#fa5316"/><stop offset="0.7819" stop-color="#f85f18"/><stop offset="0.7840" stop-color="#f86d1b"/><stop offset="0.7856" stop-color="#f88521"/><stop offset="0.7873" stop-color="#f89d27"/><stop offset="0.7889" stop-color="#f8b430"/><stop offset="0.7900" stop-color="#f8c636"/><stop offset="0.7915" stop-color="#f8d83d"/><stop offset="0.7930" stop-color="#f7e846"/><stop offset="0.7945" stop-color="#f5f651"/><stop offset="0.7960" stop-color="#f6ff70"/><stop offset="0.7975" stop-color="#f5fa54"/><stop offset="0.7990" stop-color="#f7ea48"/><stop offset="0.8004" stop-color="#f8d93d"/><stop offset="0.8019" stop-color="#f8c536"/><stop offset="0.8020" stop-color="#f8c636"/><stop offset="0.8035" stop-color="#f8ad2d"/><stop offset="0.8050" stop-color="#f89325"/><stop offset="0.8065" stop-color="#f87a1e"/><stop offset="0.8080" stop-color="#f86018"/><stop offset="0.8123" stop-color="#fb4b15"/><stop offset="0.8142" stop-color="#fc3d13"/><stop offset="0.8160" stop-color="#fe3012"/><stop offset="0.8209" stop-color="#fe2a11"/><stop offset="0.8300" stop-color="#f22211"/><stop offset="0.8334" stop-color="#f32211"/><stop offset="0.8415" stop-color="#e82111"/><stop offset="0.8485" stop-color="#e32012"/><stop offset="0.8554" stop-color="#e12012"/><stop offset="0.8673" stop-color="#d91f12"/><stop offset="0.8700" stop-color="#d51f13"/><stop offset="0.8761" stop-color="#cf1e13"/><stop offset="0.8873" stop-color="#bf1c14"/><stop offset="0.8974" stop-color="#b91b13"/><stop offset="0.9000" stop-color="#b31a13"/><stop offset="0.9084" stop-color="#a81712"/><stop offset="0.9129" stop-color="#9f1611"/><stop offset="0.9173" stop-color="#961410"/><stop offset="0.9220" stop-color="#911310"/><stop offset="0.9284" stop-color="#82100e"/><stop offset="0.9340" stop-color="#780f0d"/><stop offset="0.9395" stop-color="#6d0d0b"/><stop offset="0.9420" stop-color="#640b0a"/><stop offset="0.9478" stop-color="#6e0d0b"/><stop offset="0.9539" stop-color="#7b0f0d"/><stop offset="0.9600" stop-color="#87110f"/><stop offset="0.9620" stop-color="#89120f"/><stop offset="0.9666" stop-color="#81100e"/><stop offset="0.9731" stop-color="#7f100e"/><stop offset="0.9820" stop-color="#720e0c"/><stop offset="0.9843" stop-color="#720e0c"/><stop offset="0.9900" stop-color="#7d0f0e"/><stop offset="0.9957" stop-color="#87110f"/><stop offset="1.0000" stop-color="#89120f"/></linearGradient><linearGradient id="m2_1g" gradientUnits="userSpaceOnUse" x1="0" y1="556.4" x2="0" y2="803.6"><stop offset="0.000" stop-color="#fff" stop-opacity="1.000"/><stop offset="0.400" stop-color="#fff" stop-opacity="0.850"/><stop offset="1.000" stop-color="#fff" stop-opacity="0.000"/></linearGradient><mask id="m2_1" maskUnits="userSpaceOnUse" x="967.6" y="554.4" width="441.2" height="251.2"><rect x="967.6" y="554.4" width="441.2" height="251.2" fill="url(#m2_1g)"/></mask></defs><rect x="969.6" y="556.4" width="437.2" height="247.2" fill="url(#h2_0)"/>
<rect x="969.6" y="556.4" width="437.2" height="247.2" fill="url(#h2_1)" mask="url(#m2_1)"/>
<rect x="969.6" y="556.4" width="437.2" height="247.2" fill="url(#stri)" opacity="0.9"/>
<defs><linearGradient id="h3_0" gradientUnits="userSpaceOnUse" x1="969.6" y1="0" x2="1406.8" y2="0"><stop offset="0.0000" stop-color="#9e1611"/><stop offset="0.0000" stop-color="#9c1511"/><stop offset="0.0123" stop-color="#9b1511"/><stop offset="0.0228" stop-color="#9b1511"/><stop offset="0.0300" stop-color="#a11611"/><stop offset="0.0369" stop-color="#9e1611"/><stop offset="0.0456" stop-color="#9d1511"/><stop offset="0.0546" stop-color="#9b1511"/><stop offset="0.0659" stop-color="#9a1510"/><stop offset="0.0730" stop-color="#9a1510"/><stop offset="0.0803" stop-color="#9c1511"/><stop offset="0.0922" stop-color="#9c1511"/><stop offset="0.0985" stop-color="#9b1511"/><stop offset="0.1110" stop-color="#9a1510"/><stop offset="0.1209" stop-color="#9c1511"/><stop offset="0.1310" stop-color="#9b1511"/><stop offset="0.1414" stop-color="#9c1511"/><stop offset="0.1515" stop-color="#9f1611"/><stop offset="0.1611" stop-color="#9a1510"/><stop offset="0.1669" stop-color="#9f1611"/><stop offset="0.1758" stop-color="#9a1510"/><stop offset="0.1881" stop-color="#9c1511"/><stop offset="0.1987" stop-color="#9e1611"/><stop offset="0.2000" stop-color="#9c1511"/><stop offset="0.2062" stop-color="#9b1511"/><stop offset="0.2179" stop-color="#9a1510"/><stop offset="0.2288" stop-color="#9a1510"/><stop offset="0.2392" stop-color="#9e1611"/><stop offset="0.2514" stop-color="#9f1611"/><stop offset="0.2604" stop-color="#9b1511"/><stop offset="0.2669" stop-color="#9d1611"/><stop offset="0.2760" stop-color="#9a1510"/><stop offset="0.2879" stop-color="#9e1611"/><stop offset="0.2983" stop-color="#9c1511"/><stop offset="0.3000" stop-color="#9e1611"/><stop offset="0.3055" stop-color="#9b1511"/><stop offset="0.3134" stop-color="#9d1611"/><stop offset="0.3218" stop-color="#9f1611"/><stop offset="0.3332" stop-color="#a31711"/><stop offset="0.3399" stop-color="#a11611"/><stop offset="0.3465" stop-color="#a31711"/><stop offset="0.3589" stop-color="#a11611"/><stop offset="0.3698" stop-color="#a21611"/><stop offset="0.3753" stop-color="#a61712"/><stop offset="0.3832" stop-color="#a31711"/><stop offset="0.3917" stop-color="#a41711"/><stop offset="0.4000" stop-color="#a61712"/><stop offset="0.4001" stop-color="#a61712"/><stop offset="0.4085" stop-color="#a71712"/><stop offset="0.4159" stop-color="#a41711"/><stop offset="0.4220" stop-color="#a51711"/><stop offset="0.4311" stop-color="#a71712"/><stop offset="0.4423" stop-color="#a91812"/><stop offset="0.4528" stop-color="#ac1812"/><stop offset="0.4587" stop-color="#a61712"/><stop offset="0.4651" stop-color="#a91812"/><stop offset="0.4746" stop-color="#ac1812"/><stop offset="0.4800" stop-color="#ab1812"/><stop offset="0.4825" stop-color="#ae1912"/><stop offset="0.4880" stop-color="#ac1812"/><stop offset="0.4949" stop-color="#ac1812"/><stop offset="0.5005" stop-color="#ac1812"/><stop offset="0.5114" stop-color="#ab1812"/><stop offset="0.5200" stop-color="#a61712"/><stop offset="0.5210" stop-color="#a41711"/><stop offset="0.5333" stop-color="#9e1611"/><stop offset="0.5393" stop-color="#9c1511"/><stop offset="0.5483" stop-color="#961410"/><stop offset="0.5500" stop-color="#951410"/><stop offset="0.5548" stop-color="#8d120f"/><stop offset="0.5644" stop-color="#84110e"/><stop offset="0.5707" stop-color="#7c0f0d"/><stop offset="0.5750" stop-color="#770e0d"/><stop offset="0.5814" stop-color="#7f100e"/><stop offset="0.5901" stop-color="#86110f"/><stop offset="0.5981" stop-color="#8d120f"/><stop offset="0.6000" stop-color="#911310"/><stop offset="0.6050" stop-color="#951410"/><stop offset="0.6111" stop-color="#9c1511"/><stop offset="0.6216" stop-color="#a41711"/><stop offset="0.6272" stop-color="#a71712"/><stop offset="0.6300" stop-color="#ab1812"/><stop offset="0.6357" stop-color="#a51712"/><stop offset="0.6481" stop-color="#a51711"/><stop offset="0.6571" stop-color="#a11611"/><stop offset="0.6600" stop-color="#9e1611"/><stop offset="0.6640" stop-color="#9f1611"/><stop offset="0.6731" stop-color="#a81712"/><stop offset="0.6832" stop-color="#a91812"/><stop offset="0.6930" stop-color="#b61a13"/><stop offset="0.7000" stop-color="#b71a13"/><stop offset="0.7038" stop-color="#bc1b14"/><stop offset="0.7162" stop-color="#bb1b14"/><stop offset="0.7238" stop-color="#c01c14"/><stop offset="0.7362" stop-color="#c31c14"/><stop offset="0.7484" stop-color="#cb1d13"/><stop offset="0.7575" stop-color="#cd1e13"/><stop offset="0.7600" stop-color="#cd1e13"/><stop offset="0.7698" stop-color="#dc2012"/><stop offset="0.7750" stop-color="#e22012"/><stop offset="0.7773" stop-color="#ea2111"/><stop offset="0.7841" stop-color="#f92310"/><stop offset="0.7860" stop-color="#ff2410"/><stop offset="0.7960" stop-color="#fd3612"/><stop offset="0.7964" stop-color="#fd3913"/><stop offset="0.8041" stop-color="#ff2510"/><stop offset="0.8060" stop-color="#ff2410"/><stop offset="0.8099" stop-color="#f32211"/><stop offset="0.8139" stop-color="#e72112"/><stop offset="0.8160" stop-color="#dd2012"/><stop offset="0.8242" stop-color="#d41f13"/><stop offset="0.8300" stop-color="#c81d13"/><stop offset="0.8349" stop-color="#c91d13"/><stop offset="0.8446" stop-color="#c31c14"/><stop offset="0.8531" stop-color="#c11c14"/><stop offset="0.8623" stop-color="#c01c14"/><stop offset="0.8696" stop-color="#b91b13"/><stop offset="0.8700" stop-color="#bc1b14"/><stop offset="0.8803" stop-color="#b61a13"/><stop offset="0.8887" stop-color="#b11913"/><stop offset="0.9000" stop-color="#af1912"/><stop offset="0.9001" stop-color="#ad1812"/><stop offset="0.9076" stop-color="#ab1812"/><stop offset="0.9166" stop-color="#9f1611"/><stop offset="0.9284" stop-color="#961410"/><stop offset="0.9300" stop-color="#951410"/><stop offset="0.9364" stop-color="#9b1511"/><stop offset="0.9475" stop-color="#9e1611"/><stop offset="0.9500" stop-color="#9e1611"/><stop offset="0.9547" stop-color="#a21611"/><stop offset="0.9644" stop-color="#a51711"/><stop offset="0.9725" stop-color="#a71712"/><stop offset="0.9836" stop-color="#a91812"/><stop offset="0.9937" stop-color="#af1912"/><stop offset="1.0000" stop-color="#af1912"/></linearGradient><linearGradient id="h3_1" gradientUnits="userSpaceOnUse" x1="969.6" y1="0" x2="1406.8" y2="0"><stop offset="0.0000" stop-color="#b31a13"/><stop offset="0.0000" stop-color="#b31a13"/><stop offset="0.0081" stop-color="#b11913"/><stop offset="0.0197" stop-color="#b01912"/><stop offset="0.0287" stop-color="#b61a13"/><stop offset="0.0347" stop-color="#b41a13"/><stop offset="0.0446" stop-color="#b01913"/><stop offset="0.0527" stop-color="#b51a13"/><stop offset="0.0614" stop-color="#b51a13"/><stop offset="0.0679" stop-color="#b11913"/><stop offset="0.0741" stop-color="#b31a13"/><stop offset="0.0861" stop-color="#b41a13"/><stop offset="0.0971" stop-color="#b21913"/><stop offset="0.1000" stop-color="#b31a13"/><stop offset="0.1079" stop-color="#b11913"/><stop offset="0.1154" stop-color="#b51a13"/><stop offset="0.1260" stop-color="#b41a13"/><stop offset="0.1320" stop-color="#b31a13"/><stop offset="0.1389" stop-color="#b31a13"/><stop offset="0.1502" stop-color="#b31a13"/><stop offset="0.1620" stop-color="#b81b13"/><stop offset="0.1677" stop-color="#b51a13"/><stop offset="0.1767" stop-color="#b31a13"/><stop offset="0.1851" stop-color="#ba1b13"/><stop offset="0.1914" stop-color="#b81a13"/><stop offset="0.1976" stop-color="#b81a13"/><stop offset="0.2000" stop-color="#b71a13"/><stop offset="0.2095" stop-color="#b61a13"/><stop offset="0.2149" stop-color="#b61a13"/><stop offset="0.2242" stop-color="#b61a13"/><stop offset="0.2302" stop-color="#ba1b13"/><stop offset="0.2423" stop-color="#bb1b13"/><stop offset="0.2505" stop-color="#bd1b14"/><stop offset="0.2566" stop-color="#bd1b14"/><stop offset="0.2632" stop-color="#be1c14"/><stop offset="0.2755" stop-color="#bb1b14"/><stop offset="0.2849" stop-color="#bf1c14"/><stop offset="0.2914" stop-color="#be1c14"/><stop offset="0.3000" stop-color="#c01c14"/><stop offset="0.3040" stop-color="#c41d14"/><stop offset="0.3103" stop-color="#c41c14"/><stop offset="0.3225" stop-color="#c31c14"/><stop offset="0.3323" stop-color="#c41c14"/><stop offset="0.3403" stop-color="#ca1d13"/><stop offset="0.3500" stop-color="#cc1e13"/><stop offset="0.3560" stop-color="#cb1d13"/><stop offset="0.3676" stop-color="#cf1e13"/><stop offset="0.3763" stop-color="#cf1e13"/><stop offset="0.3888" stop-color="#d31e13"/><stop offset="0.3943" stop-color="#d61f13"/><stop offset="0.4000" stop-color="#d51f13"/><stop offset="0.4021" stop-color="#d51f13"/><stop offset="0.4090" stop-color="#d61f13"/><stop offset="0.4168" stop-color="#d51f13"/><stop offset="0.4267" stop-color="#d61f13"/><stop offset="0.4377" stop-color="#d71f13"/><stop offset="0.4487" stop-color="#de2012"/><stop offset="0.4577" stop-color="#de2012"/><stop offset="0.4600" stop-color="#dd2012"/><stop offset="0.4649" stop-color="#de2012"/><stop offset="0.4734" stop-color="#da1f12"/><stop offset="0.4857" stop-color="#d91f12"/><stop offset="0.4938" stop-color="#db1f12"/><stop offset="0.5019" stop-color="#d91f12"/><stop offset="0.5085" stop-color="#d91f12"/><stop offset="0.5158" stop-color="#d31e13"/><stop offset="0.5200" stop-color="#d51f13"/><stop offset="0.5282" stop-color="#cc1e13"/><stop offset="0.5404" stop-color="#c71d14"/><stop offset="0.5500" stop-color="#bc1b14"/><stop offset="0.5502" stop-color="#b81b13"/><stop offset="0.5560" stop-color="#b11913"/><stop offset="0.5642" stop-color="#a71712"/><stop offset="0.5696" stop-color="#9e1611"/><stop offset="0.5750" stop-color="#951410"/><stop offset="0.5766" stop-color="#971410"/><stop offset="0.5830" stop-color="#a21611"/><stop offset="0.5894" stop-color="#a91812"/><stop offset="0.5941" stop-color="#b21913"/><stop offset="0.5988" stop-color="#bb1b14"/><stop offset="0.6000" stop-color="#bc1b14"/><stop offset="0.6046" stop-color="#c11c14"/><stop offset="0.6151" stop-color="#ce1e13"/><stop offset="0.6233" stop-color="#d81f12"/><stop offset="0.6299" stop-color="#df2012"/><stop offset="0.6300" stop-color="#dd2012"/><stop offset="0.6408" stop-color="#e02012"/><stop offset="0.6498" stop-color="#db1f12"/><stop offset="0.6555" stop-color="#de2012"/><stop offset="0.6600" stop-color="#dd2012"/><stop offset="0.6622" stop-color="#df2012"/><stop offset="0.6682" stop-color="#e32012"/><stop offset="0.6752" stop-color="#e12012"/><stop offset="0.6819" stop-color="#e62112"/><stop offset="0.6913" stop-color="#ea2111"/><stop offset="0.6979" stop-color="#ed2211"/><stop offset="0.7000" stop-color="#ee2211"/><stop offset="0.7102" stop-color="#f12211"/><stop offset="0.7223" stop-color="#f02211"/><stop offset="0.7349" stop-color="#f82310"/><stop offset="0.7442" stop-color="#f82310"/><stop offset="0.7535" stop-color="#fc2410"/><stop offset="0.7593" stop-color="#fc2410"/><stop offset="0.7600" stop-color="#fb2310"/><stop offset="0.7686" stop-color="#ff2610"/><stop offset="0.7750" stop-color="#fe3012"/><stop offset="0.7793" stop-color="#fb4314"/><stop offset="0.7840" stop-color="#f95416"/><stop offset="0.7854" stop-color="#f8671a"/><stop offset="0.7869" stop-color="#f87a1f"/><stop offset="0.7885" stop-color="#f88d23"/><stop offset="0.7900" stop-color="#f8a028"/><stop offset="0.7914" stop-color="#f8b731"/><stop offset="0.7927" stop-color="#f8ce39"/><stop offset="0.7941" stop-color="#f7e443"/><stop offset="0.7950" stop-color="#f6f24e"/><stop offset="0.7960" stop-color="#f4ff58"/><stop offset="0.7975" stop-color="#f7ea48"/><stop offset="0.7990" stop-color="#f8d33b"/><stop offset="0.8005" stop-color="#f8ba32"/><stop offset="0.8020" stop-color="#f8a028"/><stop offset="0.8030" stop-color="#f88e24"/><stop offset="0.8041" stop-color="#f87d1f"/><stop offset="0.8054" stop-color="#f86b1b"/><stop offset="0.8067" stop-color="#f95917"/><stop offset="0.8080" stop-color="#fb4815"/><stop offset="0.8109" stop-color="#fc3a13"/><stop offset="0.8138" stop-color="#fe2d11"/><stop offset="0.8160" stop-color="#ff2410"/><stop offset="0.8255" stop-color="#f52311"/><stop offset="0.8300" stop-color="#f22211"/><stop offset="0.8369" stop-color="#f12211"/><stop offset="0.8468" stop-color="#ee2211"/><stop offset="0.8524" stop-color="#ea2111"/><stop offset="0.8622" stop-color="#e62112"/><stop offset="0.8700" stop-color="#e22012"/><stop offset="0.8706" stop-color="#de2012"/><stop offset="0.8773" stop-color="#df2012"/><stop offset="0.8840" stop-color="#d91f12"/><stop offset="0.8920" stop-color="#d81f12"/><stop offset="0.9000" stop-color="#d51f13"/><stop offset="0.9012" stop-color="#d11e13"/><stop offset="0.9122" stop-color="#cb1d13"/><stop offset="0.9233" stop-color="#c11c14"/><stop offset="0.9300" stop-color="#c01c14"/><stop offset="0.9355" stop-color="#c31c14"/><stop offset="0.9480" stop-color="#cb1d13"/><stop offset="0.9500" stop-color="#c81d13"/><stop offset="0.9593" stop-color="#c81d13"/><stop offset="0.9673" stop-color="#cb1d13"/><stop offset="0.9783" stop-color="#cd1e13"/><stop offset="0.9853" stop-color="#cf1e13"/><stop offset="0.9915" stop-color="#d61f13"/><stop offset="1.0000" stop-color="#d51f13"/></linearGradient><linearGradient id="m3_1g" gradientUnits="userSpaceOnUse" x1="0" y1="825.4" x2="0" y2="1073.3"><stop offset="0.000" stop-color="#fff" stop-opacity="1.000"/><stop offset="0.300" stop-color="#fff" stop-opacity="0.800"/><stop offset="0.700" stop-color="#fff" stop-opacity="0.300"/><stop offset="1.000" stop-color="#fff" stop-opacity="0.000"/></linearGradient><mask id="m3_1" maskUnits="userSpaceOnUse" x="967.6" y="823.4" width="441.2" height="251.9"><rect x="967.6" y="823.4" width="441.2" height="251.9" fill="url(#m3_1g)"/></mask></defs><rect x="969.6" y="825.4" width="437.2" height="247.9" fill="url(#h3_0)"/>
<rect x="969.6" y="825.4" width="437.2" height="247.9" fill="url(#h3_1)" mask="url(#m3_1)"/>
<rect x="969.6" y="825.4" width="437.2" height="247.9" fill="url(#stri)" opacity="0.7"/>
<rect x="969.6" y="12.6" width="437.2" height="247.8" fill="none" stroke="#000" stroke-width="2.4"/>
<line x1="960.4" y1="12.6" x2="969.6" y2="12.6" stroke="#000" stroke-width="1.6" />
<text x="957.2" y="15.6" font-size="15" text-anchor="end" textLength="42.3" lengthAdjust="spacingAndGlyphs">30 min</text>
<line x1="960.4" y1="95.2" x2="969.6" y2="95.2" stroke="#000" stroke-width="1.6" />
<text x="957.2" y="101" font-size="15" text-anchor="end" textLength="42.3" lengthAdjust="spacingAndGlyphs">20 min</text>
<line x1="960.4" y1="177.8" x2="969.6" y2="177.8" stroke="#000" stroke-width="1.6" />
<text x="957.2" y="182.9" font-size="15" text-anchor="end" textLength="35" lengthAdjust="spacingAndGlyphs">8 min</text>
<line x1="960.4" y1="260.4" x2="969.6" y2="260.4" stroke="#000" stroke-width="1.6" />
<text x="957.2" y="264.8" font-size="15" text-anchor="end" textLength="35" lengthAdjust="spacingAndGlyphs">2 min</text>
<line x1="965" y1="53.9" x2="969.6" y2="53.9" stroke="#000" stroke-width="1.5" />
<line x1="965" y1="136.5" x2="969.6" y2="136.5" stroke="#000" stroke-width="1.5" />
<line x1="965" y1="219.1" x2="969.6" y2="219.1" stroke="#000" stroke-width="1.5" />
<line x1="1057" y1="260.4" x2="1057" y2="287.4" stroke="#000" stroke-width="1.5" />
<line x1="1144.5" y1="260.4" x2="1144.5" y2="287.4" stroke="#000" stroke-width="1.5" />
<line x1="1231.9" y1="260.4" x2="1231.9" y2="287.4" stroke="#000" stroke-width="1.5" />
<line x1="1319.4" y1="260.4" x2="1319.4" y2="287.4" stroke="#000" stroke-width="1.5" />
<line x1="1013.3" y1="260.4" x2="1013.3" y2="272.4" stroke="#000" stroke-width="1.5" />
<line x1="1100.8" y1="260.4" x2="1100.8" y2="272.4" stroke="#000" stroke-width="1.5" />
<line x1="1188.2" y1="260.4" x2="1188.2" y2="272.4" stroke="#000" stroke-width="1.5" />
<line x1="1275.6" y1="260.4" x2="1275.6" y2="272.4" stroke="#000" stroke-width="1.5" />
<line x1="1363.1" y1="260.4" x2="1363.1" y2="272.4" stroke="#000" stroke-width="1.5" />
<line x1="969.6" y1="260.4" x2="969.6" y2="285.4" stroke="#000" stroke-width="2.0" />
<line x1="1406.8" y1="260.4" x2="1406.8" y2="285.4" stroke="#000" stroke-width="2.0" />
<rect x="969.6" y="285.4" width="437.2" height="249" fill="none" stroke="#000" stroke-width="2.4"/>
<line x1="960.4" y1="285.4" x2="969.6" y2="285.4" stroke="#000" stroke-width="1.6" />
<text x="957.2" y="290.1" font-size="15" text-anchor="end" textLength="42.3" lengthAdjust="spacingAndGlyphs">30 min</text>
<line x1="960.4" y1="368.4" x2="969.6" y2="368.4" stroke="#000" stroke-width="1.6" />
<text x="957.2" y="373.7" font-size="15" text-anchor="end" textLength="42.3" lengthAdjust="spacingAndGlyphs">20 min</text>
<line x1="960.4" y1="451.4" x2="969.6" y2="451.4" stroke="#000" stroke-width="1.6" />
<text x="957.2" y="456.1" font-size="15" text-anchor="end" textLength="35" lengthAdjust="spacingAndGlyphs">8 min</text>
<line x1="960.4" y1="534.4" x2="969.6" y2="534.4" stroke="#000" stroke-width="1.6" />
<text x="957.2" y="537.9" font-size="15" text-anchor="end" textLength="35" lengthAdjust="spacingAndGlyphs">2 min</text>
<line x1="965" y1="326.9" x2="969.6" y2="326.9" stroke="#000" stroke-width="1.5" />
<line x1="965" y1="409.9" x2="969.6" y2="409.9" stroke="#000" stroke-width="1.5" />
<line x1="965" y1="492.9" x2="969.6" y2="492.9" stroke="#000" stroke-width="1.5" />
<line x1="1057" y1="534.4" x2="1057" y2="558.4" stroke="#000" stroke-width="1.5" />
<line x1="1144.5" y1="534.4" x2="1144.5" y2="558.4" stroke="#000" stroke-width="1.5" />
<line x1="1231.9" y1="534.4" x2="1231.9" y2="558.4" stroke="#000" stroke-width="1.5" />
<line x1="1319.4" y1="534.4" x2="1319.4" y2="558.4" stroke="#000" stroke-width="1.5" />
<line x1="1013.3" y1="534.4" x2="1013.3" y2="546.4" stroke="#000" stroke-width="1.5" />
<line x1="1100.8" y1="534.4" x2="1100.8" y2="546.4" stroke="#000" stroke-width="1.5" />
<line x1="1188.2" y1="534.4" x2="1188.2" y2="546.4" stroke="#000" stroke-width="1.5" />
<line x1="1275.6" y1="534.4" x2="1275.6" y2="546.4" stroke="#000" stroke-width="1.5" />
<line x1="1363.1" y1="534.4" x2="1363.1" y2="546.4" stroke="#000" stroke-width="1.5" />
<line x1="969.6" y1="534.4" x2="969.6" y2="556.4" stroke="#000" stroke-width="2.0" />
<line x1="1406.8" y1="534.4" x2="1406.8" y2="556.4" stroke="#000" stroke-width="2.0" />
<rect x="969.6" y="556.4" width="437.2" height="247.2" fill="none" stroke="#000" stroke-width="2.4"/>
<line x1="960.4" y1="556.4" x2="969.6" y2="556.4" stroke="#000" stroke-width="1.6" />
<text x="957.2" y="560.8" font-size="15" text-anchor="end" textLength="42.3" lengthAdjust="spacingAndGlyphs">30 min</text>
<line x1="960.4" y1="638.8" x2="969.6" y2="638.8" stroke="#000" stroke-width="1.6" />
<text x="957.2" y="643.5" font-size="15" text-anchor="end" textLength="42.3" lengthAdjust="spacingAndGlyphs">20 min</text>
<line x1="960.4" y1="721.2" x2="969.6" y2="721.2" stroke="#000" stroke-width="1.6" />
<text x="957.2" y="725.3" font-size="15" text-anchor="end" textLength="35" lengthAdjust="spacingAndGlyphs">8 min</text>
<line x1="960.4" y1="803.6" x2="969.6" y2="803.6" stroke="#000" stroke-width="1.6" />
<text x="957.2" y="807.7" font-size="15" text-anchor="end" textLength="35" lengthAdjust="spacingAndGlyphs">2 min</text>
<line x1="965" y1="597.6" x2="969.6" y2="597.6" stroke="#000" stroke-width="1.5" />
<line x1="965" y1="680" x2="969.6" y2="680" stroke="#000" stroke-width="1.5" />
<line x1="965" y1="762.4" x2="969.6" y2="762.4" stroke="#000" stroke-width="1.5" />
<line x1="1057" y1="803.6" x2="1057" y2="827.4" stroke="#000" stroke-width="1.5" />
<line x1="1144.5" y1="803.6" x2="1144.5" y2="827.4" stroke="#000" stroke-width="1.5" />
<line x1="1231.9" y1="803.6" x2="1231.9" y2="827.4" stroke="#000" stroke-width="1.5" />
<line x1="1319.4" y1="803.6" x2="1319.4" y2="827.4" stroke="#000" stroke-width="1.5" />
<line x1="1013.3" y1="803.6" x2="1013.3" y2="815.6" stroke="#000" stroke-width="1.5" />
<line x1="1100.8" y1="803.6" x2="1100.8" y2="815.6" stroke="#000" stroke-width="1.5" />
<line x1="1188.2" y1="803.6" x2="1188.2" y2="815.6" stroke="#000" stroke-width="1.5" />
<line x1="1275.6" y1="803.6" x2="1275.6" y2="815.6" stroke="#000" stroke-width="1.5" />
<line x1="1363.1" y1="803.6" x2="1363.1" y2="815.6" stroke="#000" stroke-width="1.5" />
<line x1="969.6" y1="803.6" x2="969.6" y2="825.4" stroke="#000" stroke-width="2.0" />
<line x1="1406.8" y1="803.6" x2="1406.8" y2="825.4" stroke="#000" stroke-width="2.0" />
<rect x="969.6" y="825.4" width="437.2" height="247.9" fill="none" stroke="#000" stroke-width="2.4"/>
<line x1="960.4" y1="825.4" x2="969.6" y2="825.4" stroke="#000" stroke-width="1.6" />
<text x="957.2" y="829.2" font-size="15" text-anchor="end" textLength="42.3" lengthAdjust="spacingAndGlyphs">30 min</text>
<line x1="960.4" y1="908" x2="969.6" y2="908" stroke="#000" stroke-width="1.6" />
<text x="957.2" y="913" font-size="15" text-anchor="end" textLength="42.3" lengthAdjust="spacingAndGlyphs">20 min</text>
<line x1="960.4" y1="990.7" x2="969.6" y2="990.7" stroke="#000" stroke-width="1.6" />
<text x="957.2" y="995.1" font-size="15" text-anchor="end" textLength="35" lengthAdjust="spacingAndGlyphs">8 min</text>
<line x1="960.4" y1="1073.3" x2="969.6" y2="1073.3" stroke="#000" stroke-width="1.6" />
<text x="957.2" y="1077.1" font-size="15" text-anchor="end" textLength="35" lengthAdjust="spacingAndGlyphs">2 min</text>
<line x1="965" y1="866.7" x2="969.6" y2="866.7" stroke="#000" stroke-width="1.5" />
<line x1="965" y1="949.3" x2="969.6" y2="949.3" stroke="#000" stroke-width="1.5" />
<line x1="965" y1="1032" x2="969.6" y2="1032" stroke="#000" stroke-width="1.5" />
<line x1="969.6" y1="1073.3" x2="969.6" y2="1080.8" stroke="#000" stroke-width="1.5" />
<line x1="1057" y1="1073.3" x2="1057" y2="1080.8" stroke="#000" stroke-width="1.5" />
<line x1="1144.5" y1="1073.3" x2="1144.5" y2="1080.8" stroke="#000" stroke-width="1.5" />
<line x1="1231.9" y1="1073.3" x2="1231.9" y2="1080.8" stroke="#000" stroke-width="1.5" />
<line x1="1319.4" y1="1073.3" x2="1319.4" y2="1080.8" stroke="#000" stroke-width="1.5" />
<line x1="1406.8" y1="1073.3" x2="1406.8" y2="1080.8" stroke="#000" stroke-width="1.5" />
<line x1="1013.3" y1="1073.3" x2="1013.3" y2="1078.3" stroke="#000" stroke-width="1.5" />
<line x1="1100.8" y1="1073.3" x2="1100.8" y2="1078.3" stroke="#000" stroke-width="1.5" />
<line x1="1188.2" y1="1073.3" x2="1188.2" y2="1078.3" stroke="#000" stroke-width="1.5" />
<line x1="1275.6" y1="1073.3" x2="1275.6" y2="1078.3" stroke="#000" stroke-width="1.5" />
<line x1="1363.1" y1="1073.3" x2="1363.1" y2="1078.3" stroke="#000" stroke-width="1.5" />
<text x="967.6" y="1108" font-size="21.3" text-anchor="middle" textLength="47" lengthAdjust="spacingAndGlyphs">2200</text>
<text x="1055" y="1108" font-size="21.3" text-anchor="middle" textLength="47" lengthAdjust="spacingAndGlyphs">2000</text>
<text x="1142.5" y="1108" font-size="21.3" text-anchor="middle" textLength="47" lengthAdjust="spacingAndGlyphs">1800</text>
<text x="1229.9" y="1108" font-size="21.3" text-anchor="middle" textLength="47" lengthAdjust="spacingAndGlyphs">1600</text>
<text x="1317.4" y="1108" font-size="21.3" text-anchor="middle" textLength="47" lengthAdjust="spacingAndGlyphs">1400</text>
<text x="1404.8" y="1108" font-size="21.3" text-anchor="middle" textLength="47" lengthAdjust="spacingAndGlyphs">1200</text>
<text x="1066.5" y="1143" font-size="25.5" textLength="245" lengthAdjust="spacingAndGlyphs">Wavenumber (cm<tspan font-size="15.8" dy="-9.2">-1</tspan><tspan dy="9.2">)</tspan></text>
<line x1="1307.7" y1="18.6" x2="1307.7" y2="1069.5" stroke="#000" stroke-width="4.8" stroke-dasharray="12.1 5.46"/>
<line x1="1307.7" y1="19.8" x2="1307.7" y2="1069.5" stroke="#fff" stroke-width="2.4" stroke-dasharray="9.7 7.86"/>
<line x1="1330.6" y1="18.6" x2="1330.6" y2="1069.5" stroke="#000" stroke-width="4.8" stroke-dasharray="12.1 5.46"/>
<line x1="1330.6" y1="19.8" x2="1330.6" y2="1069.5" stroke="#fff" stroke-width="2.4" stroke-dasharray="9.7 7.86"/>
<rect x="1312.6" y="15.4" width="11.6" height="4.4" fill="#fff" stroke="#000" stroke-width="1.2" rx="1"/>
<rect x="1312.6" y="1066" width="11.6" height="4.4" fill="#fff" stroke="#000" stroke-width="1.2" rx="1"/>
<text x="978" y="40.5" font-size="26.5" fill="#fff" stroke="#000" stroke-width="3.8" paint-order="stroke" stroke-linejoin="round" textLength="94" lengthAdjust="spacingAndGlyphs">Cu-SAC</text>
<text x="1011" y="114" font-size="21.5" fill="#fff" stroke="#000" stroke-width="3.8" paint-order="stroke" stroke-linejoin="round" textLength="54" lengthAdjust="spacingAndGlyphs"><tspan font-style="italic">v</tspan>-CO<tspan font-size="13.3" dy="-7.7">*</tspan></text>
<polygon points="996.3,172.1 1021.6,132.5 1025.3,135.8 1027.5,119.4 1013.5,128.3 1018.1,130.2 992.7,169.9" fill="#fff" stroke="#000" stroke-width="1.3" stroke-linejoin="round"/>
<text x="981" y="316" font-size="26.5" fill="#fff" stroke="#000" stroke-width="3.8" paint-order="stroke" stroke-linejoin="round" textLength="85" lengthAdjust="spacingAndGlyphs">Ni-SAC</text>
<text x="1020" y="357.4" font-size="21.5" fill="#fff" stroke="#000" stroke-width="3.8" paint-order="stroke" stroke-linejoin="round" textLength="54" lengthAdjust="spacingAndGlyphs"><tspan font-style="italic">v</tspan>-CO<tspan font-size="13.3" dy="-7.7">*</tspan></text>
<polygon points="1002.3,414.6 1027.5,375.6 1031.2,378.9 1033.5,362.5 1019.5,371.3 1024,373.3 998.7,412.4" fill="#fff" stroke="#000" stroke-width="1.3" stroke-linejoin="round"/>
<polygon points="1153.6,392.5 1115.1,427.8 1112.4,423.7 1106.1,439 1121.9,434 1118,430.9 1156.4,395.5" fill="#fff" stroke="#000" stroke-width="1.3" stroke-linejoin="round"/>
<text x="1079.1" y="467.5" font-size="21.5" fill="#fff" stroke="#000" stroke-width="3.8" paint-order="stroke" stroke-linejoin="round" textLength="52" lengthAdjust="spacingAndGlyphs">CHO<tspan font-size="13.3" dy="-7.7">*</tspan></text>
<text x="977.4" y="587" font-size="26.5" fill="#fff" stroke="#000" stroke-width="3.8" paint-order="stroke" stroke-linejoin="round" textLength="119" lengthAdjust="spacingAndGlyphs">CuNi-DAC</text>
<text x="1215.6" y="626.6" font-size="21.5" fill="#fff" stroke="#000" stroke-width="3.8" paint-order="stroke" stroke-linejoin="round" textLength="67" lengthAdjust="spacingAndGlyphs">COOH<tspan font-size="13.3" dy="-7.7">*</tspan></text>
<polygon points="1303.3,676.3 1263.3,643.3 1267,640 1251,635.9 1258.1,650.8 1260.6,646.5 1300.7,679.5" fill="#fff" stroke="#000" stroke-width="1.3" stroke-linejoin="round"/>
<text x="977.1" y="856.6" font-size="26.5" fill="#fff" stroke="#000" stroke-width="3.8" paint-order="stroke" stroke-linejoin="round" textLength="100" lengthAdjust="spacingAndGlyphs">CuNi-NP</text>
<text x="1014.8" y="896.4" font-size="21.5" fill="#fff" stroke="#000" stroke-width="3.8" paint-order="stroke" stroke-linejoin="round" textLength="54" lengthAdjust="spacingAndGlyphs"><tspan font-style="italic">v</tspan>-CO<tspan font-size="13.3" dy="-7.7">*</tspan></text>
<polygon points="993,954.1 1018.9,914.1 1022.6,917.4 1024.9,901 1010.9,909.8 1015.4,911.8 989.4,951.9" fill="#fff" stroke="#000" stroke-width="1.3" stroke-linejoin="round"/>
<defs><linearGradient id="cbg" x1="0" y1="0" x2="0" y2="1"><stop offset="0.000" stop-color="#ffffff"/><stop offset="0.035" stop-color="#fdfee0"/><stop offset="0.069" stop-color="#fbfdb8"/><stop offset="0.117" stop-color="#f8fd88"/><stop offset="0.170" stop-color="#f5fd5c"/><stop offset="0.268" stop-color="#f6f048"/><stop offset="0.367" stop-color="#f8c830"/><stop offset="0.466" stop-color="#f89020"/><stop offset="0.565" stop-color="#f86018"/><stop offset="0.638" stop-color="#f83c14"/><stop offset="0.711" stop-color="#fc2810"/><stop offset="0.767" stop-color="#f02414"/><stop offset="0.855" stop-color="#c81c14"/><stop offset="0.943" stop-color="#801010"/><stop offset="1.000" stop-color="#380606"/></linearGradient></defs>
<rect x="1421.6" y="226.6" width="25" height="668.4" fill="url(#cbg)" stroke="#999" stroke-width="0.8"/>
<text x="1426.4" y="551" font-size="20.8" text-anchor="middle" transform="rotate(90 1426.4 551)" stroke="#fff" stroke-width="3.0" paint-order="stroke" stroke-linejoin="round" textLength="194" lengthAdjust="spacingAndGlyphs">Absorbance (arb. units)</text>
<text x="1426.4" y="551" font-size="20.8" text-anchor="middle" transform="rotate(90 1426.4 551)" stroke="#000" stroke-width="0.5" paint-order="stroke" stroke-linejoin="round" textLength="194" lengthAdjust="spacingAndGlyphs">Absorbance (arb. units)</text>
<text x="880.3" y="31.2" font-size="34.5" font-weight="bold">e</text>
<clipPath id="clip11"><rect x="39.8" y="16.9" width="712.6" height="210.7"/></clipPath>
<g clip-path="url(#clip11)">
<polyline points="39.8,222.4 41.4,222.7 43,222.9 44.6,222.6 46.2,222.5 47.8,222.8 49.4,222.9 51,223.1 52.6,222.7 54.2,222.7 55.8,223.1 57.4,223.1 59,223.3 60.6,223.2 62.2,223 63.8,222.9 65.4,223.3 67,222.7 68.6,222.5 70.2,222.3 71.8,222.4 73.4,222.2 75,222 76.6,221.9 78.2,221.8 79.8,221.6 81.4,221.4 83,221 84.6,220.4 86.2,220.5 87.8,219.8 89.4,219.7 91,219.1 92.6,219 94.2,218.5 95.8,218.3 97.4,218.5 99,217.5 100.6,217.4 102.2,216.6 103.8,216.5 105.4,216.3 107,215.8 108.6,215.5 110.2,215.1 111.8,214.5 113.4,214.4 115,213.8 116.6,213.9 118.2,213.1 119.8,212.9 121.4,212.4 123,212.2 124.6,211.6 126.2,211.5 127.8,210.9 129.4,210.8 131,210.3 132.6,209.8 134.2,209.3 135.8,209.1 137.4,208.7 139,208.5 140.6,207.8 142.2,207.6 143.8,207.2 145.4,206.9 147,206.6 148.6,206.3 150.2,205.9 151.8,205.6 153.4,205.5 155,205.4 156.6,205.3 158.2,205 159.8,204.8 161.4,204.6 163,204.4 164.6,204.1 166.2,204.1 167.8,204.2 169.4,203.7 171,203.6 172.6,204.1 174.2,203.8 175.8,204 177.4,204 179,203.7 180.6,204.4 182.2,204.3 183.8,204 185.4,204.2 187,204.1 188.6,203.9 190.2,204.1 191.8,204.2 193.4,204.4 195,204.3 196.6,204.2 198.2,204.4 199.8,204.1 201.4,204.3 203,204.4 204.6,204.2 206.2,203.9 207.8,204.1 209.4,204.3 211,204.4 212.6,204.5 214.2,204.1 215.8,204.3 217.4,204.4 219,204.3 220.6,203.9 222.2,204.5 223.8,204.7 225.4,204.5 227,204.2 228.6,204.3 230.2,204.4 231.8,204.8 233.4,204.5 235,204.5 236.6,204.8 238.2,204.5 239.8,204.9 241.4,204.5 243,204.6 244.6,204.9 246.2,205.1 247.8,205 249.4,205 251,204.7 252.6,205 254.2,205.1 255.8,205.2 257.4,205.5 259,205.4 260.6,205.6 262.2,205.5 263.8,205.5 265.4,205.6 267,205.7 268.6,205.8 270.2,205.6 271.8,205.7 273.4,205.5 275,206.1 276.6,206.1 278.2,205.8 279.8,205.8 281.4,205.7 283,206 284.6,206 286.2,206.4 287.8,206 289.4,205.9 291,205.6 292.6,206.3 294.2,206.1 295.8,205.7 297.4,206 299,205.7 300.6,206.5 302.2,206 303.8,205.9 305.4,205.6 307,205.2 308.6,205.5 310.2,205.2 311.8,205.5 313.4,204.9 315,205.1 316.6,205.4 318.2,205.4 319.8,204.9 321.4,204.7 323,205.1 324.6,205.1 326.2,204.7 327.8,204.7 329.4,204.7 331,204.5 332.6,204.6 334.2,204.9 335.8,204.9 337.4,205.2 339,204.9 340.6,205 342.2,205 343.8,205.3 345.4,205.2 347,205.3 348.6,205.8 350.2,205.9 351.8,205.8 353.4,205.9 355,205.7 356.6,205.5 358.2,205.6 359.8,205.5 361.4,205.3 363,205.1 364.6,205.1 366.2,205.1 367.8,204.8 369.4,204.8 371,205.8 372.6,206.1 374.2,206.5 375.8,206.8 377.4,206.6 379,206.5 380.6,207.1 382.2,207 383.8,207.4 385.4,207.3 387,207.5 388.6,207.6 390.2,207.1 391.8,207.7 393.4,207.5" fill="none" stroke="#B4E6F4" stroke-width="2.2" stroke-linejoin="round" stroke-linecap="butt" />
<polyline points="397.1,208.1 400.1,208.2 403.1,208.3 406.1,208.3 409.1,208.3 412.1,208 415.1,208.1 418.1,208 421.1,208.2 424.1,208.3 427.1,208.1 430.1,208.2 433.1,208.2 436.1,208.3 439.1,208.1 442.1,208.1 445.1,208.1 448.1,208.4 451.1,208.3 454.1,208.2 457.1,208.2 460.1,208.2 463.1,208.2 466.1,208.2 469.1,208.2 472.1,208.1 475.1,208.1 478.1,208.4 481.1,208.3 484.1,208.2 487.1,208.2 490.1,208.2 492,208.2" fill="none" stroke="#B4E6F4" stroke-width="2.9" stroke-linejoin="round" stroke-linecap="butt" />
<polyline points="498,208.3 499.2,208.1 500.5,208.2 501.8,208.2 503,208.1 504.2,208.1 505.5,208 506.8,208 508,208.3 509.2,207.8 510.5,208.2 511.8,208 513,207.7 514.2,207.4 515.5,207.2 516.8,206.7 518,206.8 519.2,207.1 520.5,207.5 521.8,208 523,208 524.2,207.9 525.5,207.9 526.8,207.9 528,207.9 529.2,208.3 530.5,208.1 531.8,208.1 533,208.3 534.2,208 535.5,208.2 536.8,208.2 538,207.9 539.2,207.8 540.5,207.9 541.8,208.2 543,208.3 544.2,207.9 545.5,208.2 546.8,208 548,208 549.2,208 550.5,208 551.8,207.8 553,207.9 554.2,207.8 555.5,208.1 556.8,208.3 558,208.4 559.2,208 560.5,207.8 561.8,207.9 563,207.9 564.2,208.3 565.5,208.1 566.8,207.9 568,208.1 569.2,208 570.5,207.7 571.8,207.9 573,207.9 574.2,207.9 575.5,208 576.8,207.9 578,207.9 579.2,207.8 580.5,207.8 581.8,208.1 583,208 584.2,208 585.5,207.6 586.8,207.8 588,208 589.2,207.6 590.5,208 591.8,207.7 593,207.9 594.2,207.7 595.5,207.8 596.8,208 598,207.5 599.2,208 600.5,207.4 601.8,207.3 603,207.7 604.2,207.2 605.5,207.3 606.8,207.7 608,207.8 609.2,206.7 610.5,207.4 611.8,207.8 613,207.5 614.2,206.8 615.5,206.6 616.8,206.6 618,206.1 619.2,206.3 620.5,206.2 621.8,206.1 623,206.5 624.2,205.6 625.5,204.7 626.8,205.8 628,204.6 629.2,204.8 630.5,204.9 631.8,204.7 633,204.2 634.2,204.6 635.5,206.1 636.8,204.6 638,205 639.2,205.9 640.5,206 641.8,206.7 643,207.7 644.2,206.9 645.5,208.3 646.8,209.6 648,210.4 649.2,210.9 650.5,210.3 651.8,209.7 653,209.7 654.2,209.2 655.5,209.2 656.8,209.2 658,208.3 659.2,207.7 660.5,207.3 661.8,208.1 663,207.8 664.2,207.3 665.5,206.8 666.8,206.3 668,205.4 669.2,205.4 670.5,204 671.8,204.2 673,203.5 674.2,204.1 675.5,203.1 676.8,203.1 678,203.3 679.2,203.8 680.5,202.8 681.8,202.8 683,203.8 684.2,203 685.5,203.7 686.8,203.3 688,203.3 689.2,202.5 690.5,203.1 691.8,202.5 693,202.3 694.2,202.6 695.5,202.1 696.8,202.2 698,201.2 699.2,200 700.5,198.1 701.8,194.9 703,193.4 704.2,197 705.5,201 706.8,204.2 708,205.2 709.2,204.1 710.5,204 711.8,204.9 713,205.5 714.2,205.8 715.5,205.9 716.8,206 718,206.5 719.2,206.6 720.5,206.5 721.8,206.8 723,206.7 724.2,207.1 725.5,207.2 726.8,207.3 728,207.4 729.2,207.5 730.5,207.4 731.8,207.6 733,207.7 734.2,207.8 735.5,208 736.8,208.1 738,208.3 739.2,207.8 740.5,208.3 741.8,208.3 743,208.7 744.2,208.6 745.5,208.3 746.8,208.7 748,208.6 749.2,208.9 750.5,208.7 751.8,208.9 753,209 754.2,209" fill="none" stroke="#B4E6F4" stroke-width="2.9" stroke-linejoin="round" stroke-linecap="butt" />
<polyline points="39.8,215.5 41.4,215.3 43,215.8 44.6,215.9 46.2,215.7 47.8,215.6 49.4,215.9 51,216 52.6,215.9 54.2,216 55.8,216.2 57.4,215.8 59,215.9 60.6,215.7 62.2,215.9 63.8,215.8 65.4,215.7 67,215.6 68.6,215.9 70.2,215.4 71.8,215.3 73.4,215.5 75,214.9 76.6,214.4 78.2,214.6 79.8,214.1 81.4,214.3 83,213.4 84.6,213.2 86.2,212.7 87.8,212.6 89.4,212 91,211.8 92.6,211.3 94.2,210.8 95.8,210.7 97.4,210.3 99,209.7 100.6,209.1 102.2,208.7 103.8,208.5 105.4,208.5 107,207.6 108.6,207.1 110.2,206.7 111.8,206.2 113.4,205.8 115,205.5 116.6,205.3 118.2,204.6 119.8,204.1 121.4,203.5 123,203.4 124.6,202.9 126.2,202.2 127.8,201.8 129.4,201.6 131,201.3 132.6,200.8 134.2,200.3 135.8,199.7 137.4,199.4 139,198.9 140.6,198.8 142.2,197.8 143.8,197.6 145.4,197.5 147,196.8 148.6,196.8 150.2,196.3 151.8,196 153.4,195.7 155,195.2 156.6,195 158.2,195.4 159.8,194.8 161.4,194.6 163,194.5 164.6,194.2 166.2,194.1 167.8,193.8 169.4,193.7 171,193.9 172.6,193.7 174.2,193.5 175.8,193.7 177.4,193.7 179,193.9 180.6,193.7 182.2,193.7 183.8,193.9 185.4,194.2 187,194 188.6,194 190.2,194 191.8,194.1 193.4,194.2 195,194.3 196.6,193.8 198.2,194.3 199.8,194.1 201.4,194 203,194.5 204.6,194.1 206.2,194.5 207.8,194.3 209.4,193.9 211,194.2 212.6,194.3 214.2,194.1 215.8,193.7 217.4,194.1 219,194.1 220.6,194 222.2,194.5 223.8,194.1 225.4,194.1 227,194.1 228.6,194.1 230.2,194.1 231.8,194.2 233.4,194.3 235,194.2 236.6,194.3 238.2,194.1 239.8,194.4 241.4,194.2 243,194.5 244.6,194.3 246.2,194.4 247.8,194.6 249.4,194.4 251,195.1 252.6,194.7 254.2,194.8 255.8,194.7 257.4,195.1 259,195.1 260.6,195 262.2,194.7 263.8,194.9 265.4,195.1 267,194.9 268.6,194.9 270.2,194.9 271.8,195 273.4,195.1 275,195 276.6,195.2 278.2,195.7 279.8,195.5 281.4,195.1 283,195.3 284.6,195.3 286.2,195.3 287.8,195.5 289.4,195.2 291,195.2 292.6,195.2 294.2,195.3 295.8,195.5 297.4,195.4 299,195 300.6,195.1 302.2,195 303.8,195.3 305.4,195.1 307,195.2 308.6,195 310.2,194.6 311.8,195 313.4,194.9 315,194.9 316.6,194.5 318.2,194.7 319.8,194.6 321.4,194.5 323,194.7 324.6,194.6 326.2,194.4 327.8,194.2 329.4,194 331,194.3 332.6,194.6 334.2,194.4 335.8,194 337.4,194.3 339,194.6 340.6,194.9 342.2,195 343.8,194.9 345.4,195 347,194.8 348.6,195 350.2,195 351.8,194.9 353.4,195.1 355,195 356.6,195.1 358.2,195.3 359.8,195.1 361.4,195 363,194.9 364.6,194.6 366.2,194.7 367.8,194.6 369.4,194.3 371,195.2 372.6,195.3 374.2,195.6 375.8,195.6 377.4,195.6 379,196.2 380.6,195.7 382.2,196.2 383.8,196 385.4,196.2 387,196 388.6,196.2 390.2,196.4 391.8,196.7 393.4,196.2" fill="none" stroke="#76E0FA" stroke-width="2.2" stroke-linejoin="round" stroke-linecap="butt" />
<polyline points="397.1,196.4 400.1,196.5 403.1,196.3 406.1,196.5 409.1,196.3 412.1,196.5 415.1,196.4 418.1,196.5 421.1,196.4 424.1,196.3 427.1,196.5 430.1,196.3 433.1,196.5 436.1,196.6 439.1,196.5 442.1,196.3 445.1,196.5 448.1,196.4 451.1,196.3 454.1,196.4 457.1,196.5 460.1,196.4 463.1,196.4 466.1,196.4 469.1,196.2 472.1,196.3 475.1,196.4 478.1,196.4 481.1,196.4 484.1,196.2 487.1,196.5 490.1,196.5 492,196.4" fill="none" stroke="#76E0FA" stroke-width="2.9" stroke-linejoin="round" stroke-linecap="butt" />
<polyline points="498,196.6 499.2,196.6 500.5,196.3 501.8,196.3 503,196.4 504.2,196.6 505.5,196.1 506.8,196.4 508,196.3 509.2,196.5 510.5,196.6 511.8,196.3 513,195.8 514.2,195.5 515.5,195.2 516.8,194.7 518,195.1 519.2,195.3 520.5,195.8 521.8,195.9 523,196.5 524.2,196.1 525.5,196.5 526.8,196 528,196.5 529.2,196.2 530.5,196.1 531.8,196.3 533,196.3 534.2,196.1 535.5,196.2 536.8,196.3 538,196.3 539.2,195.8 540.5,196.2 541.8,196.3 543,196.3 544.2,196.4 545.5,196.2 546.8,196.6 548,196.4 549.2,196.3 550.5,196.4 551.8,196.4 553,196.3 554.2,196.1 555.5,196.4 556.8,196.3 558,195.9 559.2,196 560.5,196.3 561.8,196.2 563,196.2 564.2,196.3 565.5,196.2 566.8,196.4 568,196.1 569.2,196.1 570.5,196.2 571.8,196.3 573,196.3 574.2,196.4 575.5,196.1 576.8,196.3 578,196.2 579.2,196 580.5,196.1 581.8,196.4 583,196.2 584.2,196 585.5,195.6 586.8,195.9 588,195.9 589.2,196 590.5,196.5 591.8,196.1 593,196 594.2,195.7 595.5,195.6 596.8,195.8 598,195.7 599.2,196.6 600.5,195.7 601.8,195.6 603,196 604.2,195.7 605.5,195.2 606.8,196 608,195.4 609.2,195 610.5,195.5 611.8,195.5 613,195.1 614.2,195.4 615.5,195.3 616.8,194.5 618,193.9 619.2,193.6 620.5,194.4 621.8,194.9 623,194.6 624.2,194.6 625.5,194.6 626.8,193.5 628,193.9 629.2,192.4 630.5,193.5 631.8,193.3 633,192.9 634.2,192.7 635.5,192.4 636.8,193.2 638,194 639.2,193.2 640.5,194.1 641.8,194.1 643,195.5 644.2,195.6 645.5,197.2 646.8,197.6 648,198.5 649.2,198 650.5,197.6 651.8,197.9 653,198.4 654.2,198.5 655.5,197.1 656.8,197.5 658,197.2 659.2,196.6 660.5,195.1 661.8,195.8 663,194.7 664.2,195.6 665.5,194.9 666.8,194.4 668,192 669.2,193.6 670.5,193.3 671.8,191.7 673,192.8 674.2,191.9 675.5,191.5 676.8,191 678,190.7 679.2,191.1 680.5,192.9 681.8,191.6 683,191.7 684.2,191.4 685.5,191.5 686.8,191.5 688,191.2 689.2,191.6 690.5,191 691.8,191.1 693,190.5 694.2,190.6 695.5,190.2 696.8,190 698,189.3 699.2,188.1 700.5,186.4 701.8,182.8 703,181.6 704.2,185 705.5,189.1 706.8,192.5 708,193.4 709.2,192.5 710.5,192.3 711.8,192.7 713,193.6 714.2,194.2 715.5,194.3 716.8,194.2 718,194.6 719.2,194.7 720.5,194.8 721.8,194.9 723,194.9 724.2,195.1 725.5,195.2 726.8,195.1 728,195 729.2,195.3 730.5,195.4 731.8,195.2 733,195.4 734.2,195.7 735.5,195.6 736.8,195.7 738,195.6 739.2,196 740.5,196.2 741.8,195.9 743,195.9 744.2,195.9 745.5,196.3 746.8,196.2 748,196.1 749.2,196.5 750.5,196.5 751.8,196.5 753,196.2 754.2,196.5" fill="none" stroke="#76E0FA" stroke-width="2.9" stroke-linejoin="round" stroke-linecap="butt" />
<polyline points="39.8,200.6 41.4,200.3 43,200.7 44.6,200.9 46.2,200.8 47.8,200.6 49.4,200.6 51,201 52.6,201 54.2,201.1 55.8,201.1 57.4,200.9 59,200.8 60.6,200.6 62.2,201 63.8,201.2 65.4,200.7 67,200.6 68.6,200.6 70.2,200.4 71.8,200 73.4,199.9 75,199.7 76.6,200.1 78.2,199.4 79.8,199.4 81.4,199.3 83,199 84.6,198.6 86.2,198.3 87.8,197.4 89.4,197.2 91,196.8 92.6,196.5 94.2,196.6 95.8,195.4 97.4,195.4 99,194.7 100.6,194.8 102.2,194.4 103.8,193.7 105.4,193.8 107,193 108.6,192.9 110.2,192.3 111.8,191.7 113.4,191.3 115,191 116.6,190.7 118.2,190.2 119.8,190.2 121.4,189.3 123,188.8 124.6,188.4 126.2,188 127.8,187.5 129.4,187.1 131,187.1 132.6,186.5 134.2,186 135.8,185.7 137.4,185.4 139,184.9 140.6,184.5 142.2,183.9 143.8,183.5 145.4,183.1 147,182.9 148.6,182.4 150.2,182.2 151.8,182 153.4,181.8 155,181.5 156.6,181.2 158.2,181.3 159.8,180.8 161.4,180.4 163,180.4 164.6,180 166.2,179.9 167.8,180 169.4,179.6 171,179.3 172.6,179.9 174.2,180.1 175.8,179.6 177.4,179.8 179,180.1 180.6,179.7 182.2,179.9 183.8,179.9 185.4,180.1 187,179.8 188.6,180.4 190.2,180.2 191.8,180.3 193.4,180.2 195,179.9 196.6,180.2 198.2,180 199.8,180.3 201.4,180.1 203,180.2 204.6,180.3 206.2,180.4 207.8,180.4 209.4,180.1 211,180.3 212.6,180.6 214.2,180.4 215.8,180.2 217.4,180.3 219,180.3 220.6,180.5 222.2,180.4 223.8,180.4 225.4,180.8 227,180.2 228.6,180.2 230.2,180.1 231.8,180.1 233.4,180.6 235,180.5 236.6,180.8 238.2,180.2 239.8,180.4 241.4,180.9 243,180.9 244.6,180.9 246.2,180.9 247.8,180.9 249.4,180.9 251,181 252.6,181.2 254.2,181.1 255.8,181.2 257.4,181.5 259,181 260.6,181.2 262.2,181.4 263.8,181.3 265.4,181.4 267,181.8 268.6,181.5 270.2,181.4 271.8,181.7 273.4,182 275,181.4 276.6,181.5 278.2,181.6 279.8,181.5 281.4,182 283,181.8 284.6,181.6 286.2,181.8 287.8,181.6 289.4,181.6 291,181.8 292.6,182.2 294.2,181.3 295.8,181.8 297.4,182 299,181.8 300.6,182 302.2,181.7 303.8,181.5 305.4,181.4 307,181.2 308.6,181.6 310.2,181.1 311.8,181.2 313.4,181.1 315,181 316.6,180.7 318.2,181 319.8,181 321.4,181 323,181 324.6,180.8 326.2,180.7 327.8,180.8 329.4,180.9 331,180.5 332.6,180.4 334.2,180.5 335.8,180.9 337.4,180.9 339,180.7 340.6,181 342.2,181.2 343.8,181.4 345.4,181.2 347,181.3 348.6,181.7 350.2,181.9 351.8,181.7 353.4,181.2 355,181.5 356.6,181.3 358.2,181.4 359.8,181.2 361.4,181.2 363,181.3 364.6,181.5 366.2,181.1 367.8,180.8 369.4,180.8 371,181.2 372.6,181.8 374.2,182.2 375.8,182.3 377.4,182.7 379,182.5 380.6,182.5 382.2,182.3 383.8,182.7 385.4,182.4 387,183.1 388.6,182.7 390.2,182.9 391.8,182.7 393.4,182.9" fill="none" stroke="#EEB8DA" stroke-width="2.2" stroke-linejoin="round" stroke-linecap="butt" />
<polyline points="397.1,183.8 400.1,184 403.1,183.9 406.1,183.8 409.1,183.7 412.1,183.9 415.1,183.9 418.1,183.8 421.1,184 424.1,183.9 427.1,183.9 430.1,183.8 433.1,183.8 436.1,183.9 439.1,183.7 442.1,184 445.1,183.9 448.1,183.7 451.1,183.9 454.1,184 457.1,183.9 460.1,184 463.1,183.9 466.1,183.9 469.1,183.8 472.1,183.8 475.1,183.7 478.1,183.8 481.1,183.9 484.1,184 487.1,184 490.1,183.9 492,183.9" fill="none" stroke="#EEB8DA" stroke-width="2.9" stroke-linejoin="round" stroke-linecap="butt" />
<polyline points="498,183.7 499.2,184 500.5,183.9 501.8,184.2 503,184.2 504.2,184 505.5,183.7 506.8,183.8 508,183.9 509.2,183.8 510.5,184 511.8,183.9 513,183.6 514.2,183.1 515.5,182.6 516.8,182.3 518,182.5 519.2,183.1 520.5,183.5 521.8,183.7 523,183.8 524.2,183.9 525.5,183.9 526.8,184 528,183.9 529.2,183.6 530.5,183.9 531.8,183.9 533,183.7 534.2,183.9 535.5,183.8 536.8,183.8 538,183.5 539.2,183.8 540.5,183.9 541.8,183.8 543,183.5 544.2,183.8 545.5,183.9 546.8,183.8 548,183.8 549.2,183.7 550.5,183.6 551.8,183.8 553,183.7 554.2,183.8 555.5,184.2 556.8,183.8 558,183.7 559.2,183.5 560.5,183.7 561.8,183.8 563,183.6 564.2,183.7 565.5,183.3 566.8,183.8 568,183.6 569.2,183.8 570.5,183.9 571.8,183.6 573,183.8 574.2,183.7 575.5,183.6 576.8,183.6 578,183.5 579.2,183.8 580.5,183.7 581.8,183.4 583,183.7 584.2,183.4 585.5,183.3 586.8,183.8 588,183.3 589.2,183.8 590.5,183.5 591.8,183.7 593,183.6 594.2,183.7 595.5,183.5 596.8,183.5 598,183.4 599.2,183.6 600.5,183.2 601.8,183.5 603,183.7 604.2,183.2 605.5,183.3 606.8,182.9 608,183 609.2,183.1 610.5,182.8 611.8,182.5 613,182.7 614.2,182.7 615.5,182.6 616.8,182.7 618,181.5 619.2,182.8 620.5,181.9 621.8,181.5 623,181.5 624.2,181.6 625.5,181.6 626.8,180.8 628,180.9 629.2,179.9 630.5,180.7 631.8,180.5 633,180.3 634.2,181 635.5,181.6 636.8,181.2 638,180.3 639.2,181.8 640.5,181 641.8,182 643,182.5 644.2,184 645.5,184.8 646.8,185.4 648,185.7 649.2,185.8 650.5,185.5 651.8,186.1 653,185 654.2,185 655.5,184.7 656.8,184.1 658,184.1 659.2,183 660.5,183.8 661.8,183.5 663,182.6 664.2,183.3 665.5,181.5 666.8,181.9 668,181.4 669.2,180.4 670.5,180.2 671.8,180.6 673,179.7 674.2,179.6 675.5,179.9 676.8,179 678,177.9 679.2,178.4 680.5,179.3 681.8,178.9 683,178.6 684.2,178.4 685.5,179.4 686.8,179.8 688,178.6 689.2,178.1 690.5,178.8 691.8,178.3 693,178.2 694.2,178 695.5,177.7 696.8,177.6 698,177.1 699.2,176.1 700.5,174.1 701.8,171.2 703,169.9 704.2,173.3 705.5,176.8 706.8,180.4 708,181.2 709.2,180.2 710.5,179.9 711.8,180.6 713,181 714.2,181.7 715.5,182 716.8,182.3 718,182.2 719.2,182.3 720.5,182.6 721.8,182.8 723,182.8 724.2,183.2 725.5,183.4 726.8,183.4 728,183.6 729.2,183.6 730.5,183.6 731.8,183.7 733,183.9 734.2,184.1 735.5,184.3 736.8,184.3 738,184.5 739.2,184.3 740.5,184.5 741.8,184.9 743,184.8 744.2,185 745.5,184.7 746.8,184.8 748,185 749.2,185.4 750.5,185.6 751.8,185.3 753,185.4 754.2,185.5" fill="none" stroke="#EEB8DA" stroke-width="2.9" stroke-linejoin="round" stroke-linecap="butt" />
<polyline points="39.8,184.7 41.4,185 43,184.9 44.6,185.4 46.2,185.2 47.8,185 49.4,185.2 51,185.2 52.6,185.4 54.2,185.4 55.8,185.2 57.4,185.5 59,185.4 60.6,185.3 62.2,185.3 63.8,185.3 65.4,185.1 67,184.9 68.6,185.1 70.2,184.8 71.8,184.5 73.4,184.5 75,184 76.6,184.1 78.2,183.7 79.8,183.6 81.4,183.1 83,183 84.6,183 86.2,182.5 87.8,181.9 89.4,182.1 91,181.3 92.6,181.3 94.2,180.5 95.8,180 97.4,180.2 99,179.4 100.6,179.3 102.2,179 103.8,178.2 105.4,178 107,177.5 108.6,177.3 110.2,176.8 111.8,176.2 113.4,176 115,175.8 116.6,175.2 118.2,174.9 119.8,174.3 121.4,174 123,173.7 124.6,173.3 126.2,173.1 127.8,172.6 129.4,172.2 131,171.8 132.6,171.2 134.2,170.6 135.8,170.6 137.4,170.3 139,169.6 140.6,169.1 142.2,168.8 143.8,168.6 145.4,168.1 147,167.5 148.6,167.4 150.2,167 151.8,166.9 153.4,166.5 155,166.3 156.6,166.4 158.2,166.1 159.8,165.4 161.4,165.3 163,165.2 164.6,165.1 166.2,164.8 167.8,165.1 169.4,164.5 171,164.9 172.6,164.9 174.2,164.7 175.8,164.7 177.4,164.9 179,164.9 180.6,164.6 182.2,164.7 183.8,165.1 185.4,165 187,165 188.6,164.9 190.2,165 191.8,165 193.4,165.6 195,164.9 196.6,165.4 198.2,165.2 199.8,165.2 201.4,165.2 203,165.1 204.6,165.4 206.2,165.3 207.8,165.2 209.4,165.2 211,165.2 212.6,165 214.2,165.1 215.8,165.1 217.4,165.3 219,165.3 220.6,164.9 222.2,165.2 223.8,165.4 225.4,165 227,165 228.6,165.4 230.2,165.2 231.8,165.2 233.4,165.1 235,165.3 236.6,165.2 238.2,165.4 239.8,165.5 241.4,165.6 243,165.4 244.6,165.4 246.2,165.6 247.8,165.6 249.4,165.7 251,165.6 252.6,165.7 254.2,165.7 255.8,165.8 257.4,165.9 259,166.2 260.6,165.9 262.2,166.1 263.8,166.1 265.4,166.1 267,166.2 268.6,166 270.2,166.2 271.8,166.2 273.4,165.6 275,166.3 276.6,166.3 278.2,166.6 279.8,166.1 281.4,166.3 283,166.4 284.6,166.2 286.2,166.6 287.8,166.4 289.4,166.2 291,166.2 292.6,166.3 294.2,166.8 295.8,166.7 297.4,165.9 299,166 300.6,166.4 302.2,166.2 303.8,166.1 305.4,166.2 307,166.1 308.6,166.1 310.2,166 311.8,165.7 313.4,166.1 315,165.8 316.6,166 318.2,165.9 319.8,165.7 321.4,165.7 323,165.7 324.6,165.3 326.2,165.5 327.8,165.6 329.4,165.2 331,165.3 332.6,165.7 334.2,165.6 335.8,165.2 337.4,165.6 339,165.6 340.6,165.9 342.2,165.7 343.8,165.9 345.4,165.9 347,166.1 348.6,166.1 350.2,166 351.8,166.1 353.4,166 355,166.2 356.6,165.9 358.2,165.8 359.8,165.9 361.4,166.2 363,165.9 364.6,166 366.2,165.9 367.8,165.4 369.4,165.7 371,166.2 372.6,166.4 374.2,166.5 375.8,166.7 377.4,166.6 379,166.9 380.6,166.9 382.2,167.2 383.8,167.2 385.4,167.1 387,167.4 388.6,167.5 390.2,167.4 391.8,167.3 393.4,167.5" fill="none" stroke="#E48392" stroke-width="2.2" stroke-linejoin="round" stroke-linecap="butt" />
<polyline points="397.1,167.8 400.1,167.9 403.1,168.1 406.1,168.2 409.1,167.9 412.1,168.2 415.1,168.2 418.1,168.2 421.1,167.8 424.1,168.1 427.1,168 430.1,168.1 433.1,168 436.1,167.9 439.1,168 442.1,168.1 445.1,168.1 448.1,168 451.1,168 454.1,168.1 457.1,168.1 460.1,168 463.1,167.9 466.1,167.9 469.1,168 472.1,167.9 475.1,167.8 478.1,167.9 481.1,168.1 484.1,167.9 487.1,167.9 490.1,168 492,168" fill="none" stroke="#E48392" stroke-width="2.9" stroke-linejoin="round" stroke-linecap="butt" />
<polyline points="498,168.2 499.2,168.2 500.5,167.9 501.8,167.8 503,167.9 504.2,167.9 505.5,167.9 506.8,168.1 508,167.8 509.2,167.9 510.5,168 511.8,167.9 513,167.5 514.2,167 515.5,166.6 516.8,166.4 518,166.7 519.2,167 520.5,166.9 521.8,167.8 523,167.9 524.2,167.8 525.5,167.9 526.8,167.4 528,167.6 529.2,168.1 530.5,168.2 531.8,168.2 533,167.8 534.2,167.9 535.5,168 536.8,167.7 538,168.1 539.2,167.8 540.5,167.9 541.8,167.7 543,167.9 544.2,167.9 545.5,168 546.8,167.7 548,167.9 549.2,168.1 550.5,167.7 551.8,167.9 553,167.9 554.2,167.8 555.5,167.8 556.8,168 558,168 559.2,167.9 560.5,167.8 561.8,167.6 563,167.8 564.2,168.1 565.5,167.9 566.8,167.6 568,167.5 569.2,167.7 570.5,167.8 571.8,167.7 573,167.7 574.2,167.8 575.5,167.9 576.8,167.8 578,167.9 579.2,167.5 580.5,167.8 581.8,167.8 583,167.4 584.2,167.9 585.5,167.4 586.8,167.4 588,168.2 589.2,167.9 590.5,167.7 591.8,167.9 593,167.8 594.2,167.3 595.5,167.6 596.8,167.8 598,167.4 599.2,167.4 600.5,167.3 601.8,167.6 603,167.2 604.2,167.1 605.5,166.8 606.8,166.9 608,167.2 609.2,167.3 610.5,166.9 611.8,166.5 613,167 614.2,166.9 615.5,167.1 616.8,166.3 618,166.2 619.2,166.5 620.5,166.8 621.8,165.9 623,165.7 624.2,165 625.5,165.1 626.8,165.6 628,165.4 629.2,165.4 630.5,163.8 631.8,165.1 633,164.1 634.2,164.9 635.5,163.2 636.8,164.7 638,164.3 639.2,165.8 640.5,165.4 641.8,166.9 643,166.7 644.2,169 645.5,168.3 646.8,170.5 648,169.6 649.2,169.4 650.5,170.4 651.8,169.4 653,169.4 654.2,168.4 655.5,168.7 656.8,168.7 658,167.9 659.2,168.2 660.5,166.3 661.8,167.8 663,166.6 664.2,167.4 665.5,165.8 666.8,165.2 668,164.9 669.2,165 670.5,164.8 671.8,163.8 673,163.3 674.2,163.7 675.5,163.7 676.8,162 678,162.3 679.2,162.5 680.5,163.8 681.8,163.7 683,163.6 684.2,163.5 685.5,162.9 686.8,163.7 688,162.9 689.2,162.6 690.5,163.2 691.8,162 693,162.4 694.2,162 695.5,161.5 696.8,161.3 698,160.5 699.2,159.5 700.5,157.1 701.8,153.2 703,152.3 704.2,155.8 705.5,160.3 706.8,163.8 708,164.9 709.2,163.6 710.5,163.7 711.8,163.9 713,165.2 714.2,165.7 715.5,165.7 716.8,166.3 718,166.5 719.2,167 720.5,166.8 721.8,167.1 723,167.2 724.2,167.4 725.5,167.4 726.8,167.5 728,167.8 729.2,168 730.5,167.8 731.8,167.9 733,168.2 734.2,168.6 735.5,168.5 736.8,168.4 738,168.8 739.2,169 740.5,169.3 741.8,169.1 743,169.5 744.2,169.2 745.5,169.5 746.8,169.5 748,169.4 749.2,169.7 750.5,170 751.8,170.1 753,170 754.2,170.3" fill="none" stroke="#E48392" stroke-width="2.9" stroke-linejoin="round" stroke-linecap="butt" />
<polyline points="39.8,167 41.4,167 43,166.9 44.6,167 46.2,166.8 47.8,167 49.4,167 51,166.9 52.6,167 54.2,167.1 55.8,167.2 57.4,167.3 59,167 60.6,167.1 62.2,167.2 63.8,167 65.4,167.1 67,166.8 68.6,167 70.2,166.6 71.8,166.4 73.4,166.6 75,166.6 76.6,165.8 78.2,165.9 79.8,165.8 81.4,165.7 83,165.6 84.6,165 86.2,164.5 87.8,164.6 89.4,164.3 91,163.9 92.6,163.5 94.2,163 95.8,163.3 97.4,162.3 99,161.9 100.6,162.1 102.2,161.6 103.8,161.4 105.4,161 107,160.9 108.6,160.5 110.2,159.8 111.8,159.8 113.4,159 115,158.6 116.6,158.8 118.2,158.1 119.8,157.5 121.4,157.5 123,157.1 124.6,157 126.2,156.5 127.8,156.1 129.4,155.7 131,155.7 132.6,155 134.2,154.8 135.8,154.3 137.4,154.2 139,154.1 140.6,153.5 142.2,153.3 143.8,152.8 145.4,152.3 147,152.1 148.6,151.9 150.2,151.8 151.8,151.4 153.4,151.4 155,150.9 156.6,150.9 158.2,150.7 159.8,150.3 161.4,150.5 163,150.2 164.6,150 166.2,149.9 167.8,149.4 169.4,149.5 171,149.5 172.6,149.9 174.2,149.6 175.8,149.9 177.4,149.6 179,149.7 180.6,149.8 182.2,150.1 183.8,149.6 185.4,149.9 187,150 188.6,150 190.2,150 191.8,150.2 193.4,150.1 195,149.9 196.6,150.2 198.2,149.9 199.8,150 201.4,150.3 203,150.5 204.6,150.4 206.2,150.2 207.8,150 209.4,150 211,150.4 212.6,150.2 214.2,149.9 215.8,150.4 217.4,150.3 219,150.4 220.6,150.2 222.2,149.8 223.8,150.1 225.4,150.2 227,150.2 228.6,150.5 230.2,150.1 231.8,150.2 233.4,150.3 235,150.3 236.6,150.1 238.2,150.1 239.8,149.9 241.4,150.5 243,150.5 244.6,150.6 246.2,150.4 247.8,150.7 249.4,150.6 251,150.6 252.6,151 254.2,151.1 255.8,151.1 257.4,151.1 259,151.1 260.6,151.4 262.2,151.4 263.8,151.1 265.4,151.1 267,151.4 268.6,151.4 270.2,151.2 271.8,151.8 273.4,151.1 275,151.3 276.6,151.5 278.2,151.7 279.8,151.2 281.4,151.5 283,151.9 284.6,151.9 286.2,151.6 287.8,151.6 289.4,151.5 291,151.7 292.6,151.5 294.2,151.3 295.8,151.4 297.4,151.6 299,151.4 300.6,151.7 302.2,151.7 303.8,151.6 305.4,151.5 307,151.5 308.6,151.3 310.2,151.3 311.8,151.2 313.4,151.2 315,150.8 316.6,150.8 318.2,150.7 319.8,151 321.4,150.9 323,150.6 324.6,150.5 326.2,150.5 327.8,150.8 329.4,150.6 331,150.5 332.6,150.4 334.2,150.5 335.8,150.8 337.4,150.5 339,150.6 340.6,151.1 342.2,151.1 343.8,150.8 345.4,151.4 347,151 348.6,151.4 350.2,150.9 351.8,151.2 353.4,151.5 355,151.2 356.6,151.2 358.2,151.3 359.8,151.2 361.4,151.1 363,151 364.6,151.4 366.2,151.1 367.8,150.6 369.4,150.4 371,151.2 372.6,151.7 374.2,152 375.8,152.4 377.4,152.2 379,152.4 380.6,152.4 382.2,152.6 383.8,152.5 385.4,152.8 387,153 388.6,152.8 390.2,152.9 391.8,153 393.4,152.8" fill="none" stroke="#CCE8BC" stroke-width="2.2" stroke-linejoin="round" stroke-linecap="butt" />
<polyline points="397.1,153.4 400.1,153.1 403.1,153.2 406.1,153.1 409.1,153.4 412.1,153.2 415.1,153.1 418.1,153.4 421.1,153.2 424.1,153.1 427.1,153.2 430.1,153.2 433.1,153.1 436.1,153.2 439.1,153.2 442.1,153.3 445.1,153.3 448.1,153.3 451.1,153.2 454.1,153.3 457.1,153.2 460.1,153.3 463.1,153.2 466.1,153.2 469.1,153.3 472.1,153 475.1,153.1 478.1,153.1 481.1,153.2 484.1,153.1 487.1,153.1 490.1,153 492,153.2" fill="none" stroke="#CCE8BC" stroke-width="2.9" stroke-linejoin="round" stroke-linecap="butt" />
<polyline points="498,153.2 499.2,153.1 500.5,153.5 501.8,153.3 503,153 504.2,153.4 505.5,153.2 506.8,153.4 508,153 509.2,153.4 510.5,153.4 511.8,153.1 513,152.7 514.2,152.3 515.5,152 516.8,152.1 518,152.1 519.2,152.4 520.5,152.5 521.8,152.8 523,153.1 524.2,153.1 525.5,153 526.8,153.1 528,153.2 529.2,153.1 530.5,153.1 531.8,153.1 533,153.1 534.2,153 535.5,153.3 536.8,153.1 538,153.3 539.2,153.1 540.5,153.2 541.8,152.9 543,153 544.2,153.1 545.5,153 546.8,153 548,152.9 549.2,153 550.5,152.9 551.8,153 553,153 554.2,152.9 555.5,153 556.8,153 558,152.8 559.2,153 560.5,153.2 561.8,153 563,153.1 564.2,153.1 565.5,152.9 566.8,153.2 568,153.4 569.2,152.8 570.5,153.3 571.8,152.8 573,153.2 574.2,152.7 575.5,153.1 576.8,152.9 578,152.7 579.2,152.8 580.5,152.7 581.8,152.8 583,153 584.2,152.8 585.5,152.4 586.8,152.8 588,152.9 589.2,152.8 590.5,153.2 591.8,152.4 593,152.8 594.2,152.7 595.5,152.9 596.8,152.3 598,152.3 599.2,152.6 600.5,152.6 601.8,152 603,152.6 604.2,152.5 605.5,152.7 606.8,151.5 608,152.5 609.2,152 610.5,152 611.8,152.4 613,152.7 614.2,152 615.5,151.8 616.8,152.2 618,151.2 619.2,151.4 620.5,151.1 621.8,150.7 623,151.1 624.2,151.7 625.5,150.6 626.8,150.5 628,150.1 629.2,150.6 630.5,150 631.8,149.3 633,149.9 634.2,150.6 635.5,149.8 636.8,150.6 638,150 639.2,151.4 640.5,150.7 641.8,151.7 643,152 644.2,153.5 645.5,153.6 646.8,153.7 648,155.3 649.2,154.4 650.5,155.9 651.8,155.3 653,154.6 654.2,154.8 655.5,152.6 656.8,154.7 658,153.1 659.2,153.6 660.5,154.3 661.8,151.5 663,151.8 664.2,151.9 665.5,151.5 666.8,149.8 668,149.8 669.2,150.9 670.5,149.2 671.8,149.6 673,148.1 674.2,148.1 675.5,147.3 676.8,148.3 678,148.7 679.2,148.1 680.5,148 681.8,148.4 683,148.6 684.2,148.3 685.5,148.7 686.8,149.1 688,149 689.2,147.8 690.5,147.4 691.8,148 693,147.4 694.2,147.2 695.5,146.8 696.8,146.2 698,145.6 699.2,144.2 700.5,141.5 701.8,136.8 703,135.4 704.2,139.6 705.5,143.6 706.8,145.9 708,147 709.2,148.3 710.5,148.8 711.8,149.5 713,150.1 714.2,150.8 715.5,151.2 716.8,151.7 718,152.1 719.2,152.4 720.5,152.4 721.8,152.8 723,153.1 724.2,153.2 725.5,153.7 726.8,153.8 728,154.1 729.2,154.3 730.5,154.4 731.8,154.9 733,155.1 734.2,155 735.5,155.4 736.8,155.6 738,155.6 739.2,155.8 740.5,156.2 741.8,155.9 743,156.2 744.2,156.7 745.5,156.9 746.8,156.8 748,157.3 749.2,157.7 750.5,157.5 751.8,157.7 753,157.8 754.2,157.9" fill="none" stroke="#CCE8BC" stroke-width="2.9" stroke-linejoin="round" stroke-linecap="butt" />
<polyline points="39.8,157.8 41.4,157.8 43,157.9 44.6,158.1 46.2,157.9 47.8,158 49.4,158 51,158.3 52.6,157.8 54.2,158.1 55.8,158 57.4,158.1 59,158.3 60.6,158.1 62.2,158.2 63.8,158.1 65.4,157.8 67,157.8 68.6,157.5 70.2,157.7 71.8,157.4 73.4,157.5 75,157.3 76.6,156.9 78.2,156.6 79.8,156.7 81.4,156.2 83,156.1 84.6,155.9 86.2,155.4 87.8,155.5 89.4,154.7 91,154.5 92.6,154 94.2,153.2 95.8,153.3 97.4,153 99,152.8 100.6,152.3 102.2,151.8 103.8,151.5 105.4,151.2 107,151.1 108.6,150.5 110.2,150.4 111.8,150 113.4,149.3 115,149.2 116.6,148.3 118.2,148.3 119.8,147.7 121.4,147.5 123,147.4 124.6,146.8 126.2,146.4 127.8,146.3 129.4,145.5 131,145.2 132.6,145.1 134.2,144.6 135.8,143.9 137.4,143.8 139,143.5 140.6,142.9 142.2,142.5 143.8,142.3 145.4,142 147,141.5 148.6,141.5 150.2,140.8 151.8,140.8 153.4,141 155,140.2 156.6,140.2 158.2,139.5 159.8,139.6 161.4,139.3 163,139.4 164.6,139.1 166.2,139.4 167.8,138.8 169.4,138.9 171,138.9 172.6,139 174.2,139.1 175.8,138.7 177.4,139.4 179,139 180.6,138.9 182.2,138.8 183.8,139 185.4,138.8 187,139.2 188.6,139.1 190.2,139.3 191.8,139.1 193.4,139.3 195,139.7 196.6,139.5 198.2,139.3 199.8,139.1 201.4,139.6 203,139 204.6,139.1 206.2,139.6 207.8,139.3 209.4,139.6 211,139.5 212.6,139.8 214.2,139.7 215.8,139.5 217.4,139.3 219,139.5 220.6,139.7 222.2,139.5 223.8,138.9 225.4,139.4 227,139.4 228.6,139.5 230.2,139.5 231.8,139.7 233.4,139.3 235,139.7 236.6,139.3 238.2,139.3 239.8,139.5 241.4,139.7 243,139.7 244.6,139.8 246.2,140.1 247.8,140.2 249.4,140.2 251,140.3 252.6,140.2 254.2,140.2 255.8,140.2 257.4,140.5 259,140.4 260.6,140.6 262.2,140.9 263.8,140.9 265.4,141 267,140.7 268.6,140.5 270.2,140.7 271.8,141.3 273.4,141.1 275,141 276.6,141.3 278.2,141 279.8,141.4 281.4,141.1 283,141.1 284.6,141.3 286.2,141 287.8,141.2 289.4,141.6 291,141.4 292.6,141.1 294.2,141.2 295.8,141.3 297.4,141.1 299,141.3 300.6,141.4 302.2,141.1 303.8,141.1 305.4,141 307,140.8 308.6,140.6 310.2,140.8 311.8,140.8 313.4,140.4 315,140.3 316.6,140.5 318.2,140.4 319.8,140.5 321.4,140.3 323,140.1 324.6,139.8 326.2,140.1 327.8,140 329.4,139.7 331,139.6 332.6,139.6 334.2,140 335.8,139.8 337.4,139.4 339,139.9 340.6,140.1 342.2,140.4 343.8,140.5 345.4,140.6 347,140.9 348.6,141 350.2,140.8 351.8,141.2 353.4,140.8 355,140.7 356.6,140.8 358.2,140.5 359.8,140.7 361.4,140.5 363,140.6 364.6,140.6 366.2,139.8 367.8,140 369.4,140.1 371,140.8 372.6,141.5 374.2,141.7 375.8,141.8 377.4,141.8 379,142.3 380.6,142.4 382.2,142.2 383.8,142.4 385.4,142.4 387,142.8 388.6,142.7 390.2,142.6 391.8,143.2 393.4,143.1" fill="none" stroke="#8CE79A" stroke-width="2.2" stroke-linejoin="round" stroke-linecap="butt" />
<polyline points="397.1,143.3 400.1,143.3 403.1,143.3 406.1,143.3 409.1,143.4 412.1,143.3 415.1,143.3 418.1,143.3 421.1,143.5 424.1,143.2 427.1,143.2 430.1,143.3 433.1,143.2 436.1,143.6 439.1,143.4 442.1,143.4 445.1,143.3 448.1,143.5 451.1,143.2 454.1,143.3 457.1,143.1 460.1,143.4 463.1,143.3 466.1,143.5 469.1,143.3 472.1,143.2 475.1,143.2 478.1,143.4 481.1,143.2 484.1,143.3 487.1,143.2 490.1,143.2 492,143.3" fill="none" stroke="#8CE79A" stroke-width="2.9" stroke-linejoin="round" stroke-linecap="butt" />
<polyline points="498,143.2 499.2,143.5 500.5,143.1 501.8,143.3 503,143.4 504.2,143.2 505.5,143.1 506.8,143.5 508,143.6 509.2,143.3 510.5,143.1 511.8,143.4 513,142.9 514.2,142.3 515.5,142 516.8,141.5 518,141.8 519.2,142.1 520.5,142.4 521.8,143.1 523,143.2 524.2,143.5 525.5,142.8 526.8,143.1 528,143.1 529.2,143.4 530.5,143.3 531.8,143.2 533,143.2 534.2,143.1 535.5,143.1 536.8,143.1 538,142.8 539.2,143.5 540.5,143.3 541.8,143.5 543,143.4 544.2,143.2 545.5,143.3 546.8,142.9 548,143 549.2,143.3 550.5,143.1 551.8,142.9 553,143.1 554.2,142.9 555.5,143.1 556.8,143.4 558,142.9 559.2,143 560.5,143.2 561.8,143.1 563,143.1 564.2,143 565.5,143 566.8,142.7 568,143 569.2,143.3 570.5,142.9 571.8,143 573,143.2 574.2,143.2 575.5,143.2 576.8,142.9 578,143 579.2,143.3 580.5,142.9 581.8,143 583,142.8 584.2,142.9 585.5,142.4 586.8,142.8 588,142.5 589.2,142.7 590.5,142.7 591.8,143.2 593,143 594.2,142.9 595.5,142.7 596.8,142.4 598,142.9 599.2,142.5 600.5,142.6 601.8,142.9 603,142.5 604.2,142.6 605.5,142.2 606.8,142.8 608,142.6 609.2,142.6 610.5,142.9 611.8,141.6 613,142.1 614.2,142.3 615.5,142 616.8,141.9 618,141.9 619.2,140.8 620.5,141.3 621.8,141.8 623,141 624.2,140.7 625.5,141 626.8,139.4 628,140.4 629.2,140.9 630.5,139.9 631.8,139.5 633,140.2 634.2,139.6 635.5,139.4 636.8,140.1 638,139.1 639.2,140.7 640.5,139.9 641.8,141 643,142.7 644.2,143.1 645.5,144 646.8,145.5 648,146.1 649.2,146.5 650.5,144.8 651.8,145.5 653,143.7 654.2,144.9 655.5,144.9 656.8,143.5 658,143.9 659.2,143.8 660.5,142.8 661.8,142.1 663,143 664.2,140.9 665.5,141.4 666.8,141.5 668,140.6 669.2,141 670.5,140.6 671.8,139.7 673,140.1 674.2,139.2 675.5,137.7 676.8,138 678,138.3 679.2,138.2 680.5,137.3 681.8,139.4 683,137.7 684.2,138 685.5,138.7 686.8,138.5 688,138.8 689.2,138.1 690.5,137.9 691.8,137.7 693,137.1 694.2,136.7 695.5,136.5 696.8,136.2 698,135.1 699.2,133.7 700.5,130.4 701.8,125.5 703,123.5 704.2,128.6 705.5,132.9 706.8,135.4 708,136.8 709.2,138 710.5,138.7 711.8,139.5 713,140.2 714.2,140.6 715.5,141.1 716.8,141.6 718,142.1 719.2,142 720.5,142.3 721.8,142.6 723,142.9 724.2,143 725.5,143.3 726.8,143.7 728,143.6 729.2,144 730.5,144 731.8,144.4 733,144.7 734.2,144.4 735.5,144.9 736.8,145.1 738,145.3 739.2,145.5 740.5,145.7 741.8,145.6 743,145.9 744.2,146.2 745.5,146.5 746.8,146.2 748,146.5 749.2,146.5 750.5,146.9 751.8,146.9 753,147 754.2,147.5" fill="none" stroke="#8CE79A" stroke-width="2.9" stroke-linejoin="round" stroke-linecap="butt" />
<polyline points="39.8,145.8 41.4,145.1 43,145.8 44.6,145.4 46.2,145.7 47.8,145.7 49.4,145.9 51,145.7 52.6,145.6 54.2,145.8 55.8,145.9 57.4,145.6 59,145.9 60.6,145.8 62.2,145.8 63.8,145.7 65.4,145.8 67,145.7 68.6,145.4 70.2,145.2 71.8,144.7 73.4,144.8 75,144.5 76.6,144.7 78.2,144.2 79.8,144.1 81.4,144 83,143.8 84.6,143.5 86.2,142.8 87.8,142.7 89.4,142.4 91,141.7 92.6,141.4 94.2,140.9 95.8,140.6 97.4,140.4 99,139.9 100.6,139.5 102.2,139.1 103.8,139.1 105.4,138.6 107,137.8 108.6,138 110.2,137.2 111.8,136.8 113.4,136.3 115,135.9 116.6,135.7 118.2,134.9 119.8,134.8 121.4,134.3 123,134.3 124.6,133.7 126.2,133.3 127.8,132.9 129.4,132.5 131,132 132.6,131.1 134.2,131.2 135.8,130.6 137.4,130.4 139,129.9 140.6,129.4 142.2,128.9 143.8,128.5 145.4,128.4 147,128 148.6,127.5 150.2,127.4 151.8,127.2 153.4,126.8 155,126.7 156.6,126.3 158.2,125.7 159.8,126 161.4,125.8 163,125.7 164.6,125.6 166.2,125.1 167.8,125.3 169.4,125.1 171,125.1 172.6,125.2 174.2,125.2 175.8,124.9 177.4,125.4 179,125.2 180.6,125.1 182.2,125.2 183.8,125.3 185.4,125.2 187,125.6 188.6,125.6 190.2,125.3 191.8,125.7 193.4,125.6 195,125.6 196.6,125.8 198.2,125.6 199.8,125.6 201.4,125.7 203,125.3 204.6,125.4 206.2,125.8 207.8,125.9 209.4,125.4 211,125.7 212.6,125.6 214.2,125.7 215.8,125.9 217.4,126 219,126.1 220.6,126 222.2,125.9 223.8,125.8 225.4,125.5 227,125.9 228.6,125.7 230.2,125.7 231.8,125.9 233.4,125.7 235,126.3 236.6,126.2 238.2,126.2 239.8,126.3 241.4,126.3 243,126.4 244.6,126.6 246.2,126.5 247.8,126.8 249.4,126.9 251,127.1 252.6,126.9 254.2,127.2 255.8,127.3 257.4,127.5 259,127.6 260.6,127.6 262.2,127.7 263.8,127.8 265.4,128 267,127.9 268.6,128 270.2,127.7 271.8,127.9 273.4,128.2 275,128.3 276.6,127.9 278.2,128.2 279.8,128.2 281.4,128.3 283,128.2 284.6,128.3 286.2,128.4 287.8,128.4 289.4,128.6 291,128.3 292.6,128.3 294.2,128.6 295.8,128.5 297.4,128.3 299,128.1 300.6,128.4 302.2,127.9 303.8,128.2 305.4,127.9 307,127.7 308.6,127.6 310.2,127.7 311.8,127.4 313.4,127 315,127.1 316.6,126.8 318.2,127.1 319.8,127.1 321.4,127.1 323,126.6 324.6,127.1 326.2,127 327.8,126.5 329.4,126.1 331,126.3 332.6,126.6 334.2,126.8 335.8,126.3 337.4,126.2 339,126.5 340.6,127.2 342.2,127.1 343.8,127.1 345.4,127.2 347,127.8 348.6,128 350.2,127.8 351.8,127.8 353.4,127.8 355,127.7 356.6,127.7 358.2,127.6 359.8,127.5 361.4,127.8 363,127.6 364.6,127.6 366.2,127.3 367.8,126.1 369.4,126.6 371,127.9 372.6,128.5 374.2,128.8 375.8,129.3 377.4,129.4 379,129.6 380.6,129.8 382.2,130.1 383.8,130.2 385.4,130.5 387,130.5 388.6,130.5 390.2,131.2 391.8,130.7 393.4,130.8" fill="none" stroke="#F0D3B2" stroke-width="2.2" stroke-linejoin="round" stroke-linecap="butt" />
<polyline points="397.1,129 400.1,128.9 403.1,128.8 406.1,129 409.1,129.1 412.1,128.8 415.1,128.9 418.1,129 421.1,128.9 424.1,129.1 427.1,129 430.1,128.9 433.1,129 436.1,128.9 439.1,129.1 442.1,128.7 445.1,129 448.1,129.1 451.1,129 454.1,129 457.1,128.9 460.1,129 463.1,129 466.1,128.9 469.1,128.9 472.1,128.8 475.1,129 478.1,129 481.1,129.1 484.1,129 487.1,129.1 490.1,128.9 492,129" fill="none" stroke="#F0D3B2" stroke-width="2.9" stroke-linejoin="round" stroke-linecap="butt" />
<polyline points="498,128.7 499.2,128.9 500.5,128.9 501.8,129 503,129 504.2,129 505.5,129 506.8,129 508,129 509.2,129 510.5,128.9 511.8,128.9 513,128.4 514.2,128 515.5,127.8 516.8,127.6 518,127.5 519.2,127.8 520.5,128.5 521.8,128.6 523,128.6 524.2,128.7 525.5,128.7 526.8,128.5 528,128.8 529.2,129.1 530.5,128.8 531.8,128.8 533,129.1 534.2,128.9 535.5,128.9 536.8,129.1 538,128.7 539.2,128.9 540.5,128.9 541.8,128.9 543,128.7 544.2,128.7 545.5,129.1 546.8,128.8 548,128.8 549.2,129 550.5,128.6 551.8,128.8 553,128.6 554.2,129 555.5,128.7 556.8,128.8 558,128.7 559.2,128.8 560.5,128.9 561.8,128.8 563,128.7 564.2,128.8 565.5,128.7 566.8,128.7 568,128.9 569.2,128.9 570.5,128.6 571.8,128.6 573,128.6 574.2,128.8 575.5,128.5 576.8,129 578,128.7 579.2,128.7 580.5,128.8 581.8,128.6 583,128.8 584.2,128.8 585.5,128.9 586.8,128.4 588,128.9 589.2,128.7 590.5,128.7 591.8,128.8 593,128.5 594.2,128.5 595.5,128.7 596.8,128.4 598,128.7 599.2,128.8 600.5,128.4 601.8,128.4 603,128.1 604.2,128 605.5,128.7 606.8,127.9 608,128.2 609.2,128.2 610.5,127.7 611.8,127.7 613,127.5 614.2,128.6 615.5,127.8 616.8,128.1 618,128.2 619.2,127.7 620.5,127.7 621.8,126.7 623,126.4 624.2,127.2 625.5,127 626.8,125.5 628,126.5 629.2,126 630.5,126.2 631.8,126.2 633,126.7 634.2,125.2 635.5,125.6 636.8,126.5 638,125.7 639.2,126.3 640.5,126.3 641.8,126 643,127.6 644.2,129.4 645.5,129.2 646.8,129.4 648,130.6 649.2,131 650.5,131.1 651.8,130.8 653,130.7 654.2,129.5 655.5,129.5 656.8,129.2 658,129 659.2,129.2 660.5,129.4 661.8,128.1 663,128.5 664.2,128.1 665.5,126.3 666.8,126.1 668,126.2 669.2,124.9 670.5,126.5 671.8,123.9 673,124 674.2,124.9 675.5,123.7 676.8,124.3 678,123.2 679.2,124.3 680.5,123.5 681.8,124.3 683,124.5 684.2,123.5 685.5,123.7 686.8,123.3 688,123.4 689.2,123.8 690.5,123.2 691.8,123.1 693,122.7 694.2,122.3 695.5,121.7 696.8,120.8 698,119.5 699.2,117.5 700.5,113.3 701.8,106.4 703,103.7 704.2,110.3 705.5,116.3 706.8,119.9 708,121.6 709.2,123.1 710.5,123.7 711.8,124.8 713,125.5 714.2,126.3 715.5,126.5 716.8,127 718,127.3 719.2,127.6 720.5,127.7 721.8,127.9 723,128.3 724.2,128.6 725.5,128.8 726.8,129 728,129.2 729.2,129.1 730.5,129.6 731.8,129.7 733,129.7 734.2,129.9 735.5,130.3 736.8,130.3 738,130.2 739.2,130.9 740.5,130.5 741.8,131.2 743,131.2 744.2,131 745.5,131.5 746.8,131.7 748,131.8 749.2,131.9 750.5,131.9 751.8,132.1 753,132.1 754.2,132.3" fill="none" stroke="#F0D3B2" stroke-width="2.9" stroke-linejoin="round" stroke-linecap="butt" />
<polyline points="39.8,136.9 41.4,136.6 43,137.1 44.6,136.5 46.2,136.8 47.8,136.6 49.4,136.6 51,137 52.6,136.9 54.2,136.9 55.8,136.8 57.4,137 59,136.8 60.6,137 62.2,136.9 63.8,136.7 65.4,137 67,136.4 68.6,136.7 70.2,136.5 71.8,136.4 73.4,136.2 75,136.1 76.6,135.7 78.2,135.4 79.8,135.4 81.4,134.9 83,134.7 84.6,134.4 86.2,133.9 87.8,133.9 89.4,133 91,133.1 92.6,132.5 94.2,132.4 95.8,131.9 97.4,131.4 99,130.9 100.6,130.5 102.2,129.8 103.8,129.6 105.4,129.1 107,128.8 108.6,128.4 110.2,127.9 111.8,127.6 113.4,127.1 115,126.7 116.6,126.4 118.2,126 119.8,125.2 121.4,125 123,125.2 124.6,124.2 126.2,123.9 127.8,123.2 129.4,123.1 131,122.8 132.6,122.2 134.2,121.6 135.8,121.2 137.4,120.4 139,120.4 140.6,119.8 142.2,119.5 143.8,119.1 145.4,118.7 147,118.7 148.6,118.2 150.2,117.6 151.8,117.6 153.4,117.3 155,117 156.6,117 158.2,116.4 159.8,115.9 161.4,115.8 163,115.9 164.6,115.4 166.2,115.5 167.8,115.1 169.4,115.4 171,115.2 172.6,115.1 174.2,115.2 175.8,115.3 177.4,115.5 179,115.4 180.6,115.4 182.2,115.5 183.8,115.7 185.4,115.7 187,115.9 188.6,115.5 190.2,115.8 191.8,115.7 193.4,115.6 195,115.8 196.6,115.9 198.2,115.9 199.8,115.9 201.4,115.6 203,115.8 204.6,115.9 206.2,116.1 207.8,115.9 209.4,115.9 211,116.1 212.6,115.9 214.2,115.8 215.8,115.9 217.4,116 219,115.9 220.6,115.6 222.2,115.9 223.8,116.1 225.4,115.8 227,116.1 228.6,116 230.2,115.9 231.8,116.2 233.4,115.7 235,115.7 236.6,115.9 238.2,116.3 239.8,116.2 241.4,116.5 243,116.4 244.6,116.6 246.2,116.5 247.8,116.7 249.4,117 251,117.1 252.6,116.8 254.2,117.2 255.8,117.6 257.4,117.5 259,117.2 260.6,117.6 262.2,117.6 263.8,117.5 265.4,117.8 267,117.9 268.6,117.6 270.2,117.8 271.8,117.8 273.4,117.9 275,118.2 276.6,117.9 278.2,118.1 279.8,118.1 281.4,118.1 283,117.9 284.6,118.3 286.2,118 287.8,118.3 289.4,118.2 291,118.2 292.6,118.1 294.2,118.1 295.8,118 297.4,118.2 299,118.1 300.6,118.1 302.2,117.9 303.8,118 305.4,117.8 307,117.7 308.6,117.5 310.2,117.4 311.8,117.5 313.4,117.1 315,117 316.6,117.2 318.2,117.1 319.8,117 321.4,116.9 323,116.6 324.6,116.6 326.2,116.7 327.8,116.6 329.4,116.3 331,116.6 332.6,116.1 334.2,116.7 335.8,116.3 337.4,116.5 339,116.5 340.6,116.7 342.2,117 343.8,117 345.4,117.4 347,117.6 348.6,117.6 350.2,117.7 351.8,117.5 353.4,117.4 355,117.4 356.6,117.8 358.2,117.6 359.8,117.2 361.4,117.8 363,117.5 364.6,117.5 366.2,117.1 367.8,116.8 369.4,116.3 371,117.6 372.6,118.2 374.2,119 375.8,119 377.4,119.2 379,119.3 380.6,119.1 382.2,119.7 383.8,119.6 385.4,120.1 387,120.1 388.6,120.1 390.2,120.1 391.8,120.5 393.4,120.3" fill="none" stroke="#ECB07C" stroke-width="2.2" stroke-linejoin="round" stroke-linecap="butt" />
<polyline points="397.1,120.3 400.1,120.2 403.1,120.2 406.1,120.2 409.1,120.4 412.1,120 415.1,120.3 418.1,120.3 421.1,120.2 424.1,120.3 427.1,120.3 430.1,120.3 433.1,120.1 436.1,120.3 439.1,120.1 442.1,120.3 445.1,120.4 448.1,120.1 451.1,120.4 454.1,120.1 457.1,120.2 460.1,120.3 463.1,120.1 466.1,120.2 469.1,120.1 472.1,120.1 475.1,120.3 478.1,120.2 481.1,120.2 484.1,120.2 487.1,120.2 490.1,120.4 492,120.2" fill="none" stroke="#ECB07C" stroke-width="2.9" stroke-linejoin="round" stroke-linecap="butt" />
<polyline points="498,120.2 499.2,120.2 500.5,120.2 501.8,120.3 503,120.3 504.2,119.9 505.5,120.2 506.8,120.3 508,120.6 509.2,120.1 510.5,120.2 511.8,120 513,119.8 514.2,119.1 515.5,118.9 516.8,118.7 518,118.6 519.2,119.2 520.5,119.4 521.8,120.1 523,120.3 524.2,120.4 525.5,120.1 526.8,120.2 528,120.4 529.2,120 530.5,120.3 531.8,120 533,120.2 534.2,119.9 535.5,120 536.8,120.1 538,120 539.2,119.8 540.5,120.1 541.8,120 543,120.3 544.2,120.2 545.5,119.7 546.8,120.1 548,120.2 549.2,120 550.5,119.9 551.8,119.8 553,120 554.2,119.9 555.5,120 556.8,120 558,120.2 559.2,119.9 560.5,120.1 561.8,119.8 563,120 564.2,120.1 565.5,119.9 566.8,119.8 568,120 569.2,120 570.5,119.9 571.8,120 573,120 574.2,120 575.5,119.7 576.8,120 578,120.1 579.2,119.8 580.5,120.2 581.8,119.9 583,119.7 584.2,119.7 585.5,119.7 586.8,119.7 588,119.8 589.2,119.9 590.5,119.8 591.8,119.7 593,119.5 594.2,119.3 595.5,119.5 596.8,119.4 598,119.9 599.2,119 600.5,119.9 601.8,118.7 603,119.5 604.2,119.5 605.5,119.1 606.8,119.1 608,119.6 609.2,118.9 610.5,119.2 611.8,119.1 613,119.3 614.2,118.4 615.5,119.3 616.8,118.6 618,119 619.2,117.8 620.5,118.8 621.8,118.1 623,118.3 624.2,117.4 625.5,117.9 626.8,117.3 628,116.1 629.2,118.4 630.5,116.6 631.8,117.1 633,116.7 634.2,116.5 635.5,116.6 636.8,117.5 638,117.6 639.2,117.8 640.5,116.6 641.8,118.7 643,118.3 644.2,121.4 645.5,121 646.8,122.2 648,122.1 649.2,122.2 650.5,121.6 651.8,123 653,121.4 654.2,122 655.5,120.6 656.8,120.7 658,120.3 659.2,120.1 660.5,119.5 661.8,119.8 663,119.4 664.2,117.7 665.5,117.9 666.8,117 668,118 669.2,116.1 670.5,116.8 671.8,116.3 673,115.9 674.2,114.4 675.5,116.3 676.8,115 678,115.3 679.2,115.5 680.5,114.5 681.8,114.6 683,115.9 684.2,116.1 685.5,114.9 686.8,115.1 688,115.2 689.2,114.5 690.5,114.7 691.8,114.1 693,113.5 694.2,113.2 695.5,112.4 696.8,111.8 698,110 699.2,107.8 700.5,103.2 701.8,94.6 703,92 704.2,99.2 705.5,106.3 706.8,110.3 708,112.3 709.2,113.7 710.5,114.7 711.8,115.7 713,116.6 714.2,117.3 715.5,118 716.8,118.4 718,119.4 719.2,119.6 720.5,120.3 721.8,120.5 723,120.8 724.2,120.9 725.5,121.4 726.8,121.8 728,122.1 729.2,122.4 730.5,122.4 731.8,122.9 733,123.3 734.2,123.5 735.5,123.8 736.8,123.9 738,124.3 739.2,124.9 740.5,124.8 741.8,125.1 743,125.3 744.2,125.7 745.5,125.9 746.8,126.5 748,126.3 749.2,126.9 750.5,126.9 751.8,127.3 753,127.8 754.2,127.7" fill="none" stroke="#ECB07C" stroke-width="2.9" stroke-linejoin="round" stroke-linecap="butt" />
</g>
<rect x="45.8" y="106.6" width="341.8" height="114.7" fill="none" stroke="#606060" stroke-width="1.0" stroke-dasharray="4.4 3.4"/>
<rect x="146.9" y="56" width="95.1" height="41.6" fill="#fff" stroke="#555" stroke-width="1.0"/>
<text x="193.7" y="76.2" font-size="17" text-anchor="middle"><tspan font-style="italic">v</tspan>-O-H</text>
<text x="191.8" y="92.4" font-size="10.4" text-anchor="middle" textLength="60" lengthAdjust="spacingAndGlyphs">(3500 -2850)</text>
<path d="M244 79.7 L301.8 79.7 L301.8 105.8" fill="none" stroke="#606060" stroke-width="1.0" stroke-dasharray="4.4 3.4"/><polygon points="244,79.7 248.2,81.4 248.2,78" fill="#606060"/>
<text x="515.2" y="68.4" font-size="17" text-anchor="middle"><tspan font-style="italic">v</tspan>-CO<tspan font-size="10.5" dy="-6.1">*</tspan></text>
<path d="M518.7 74.2 L518.7 97.6" fill="none" stroke="#606060" stroke-width="1.0" stroke-dasharray="4.4 3.4"/><polygon points="518.7,74.2 517,78.4 520.4,78.4" fill="#606060"/>
<rect x="507.6" y="97.6" width="24.9" height="121.7" fill="none" stroke="#606060" stroke-width="1.0" stroke-dasharray="4.4 3.4"/>
<rect x="583.6" y="20.6" width="75" height="49.1" fill="#fff" stroke="#555" stroke-width="1.0"/>
<text x="588.1" y="40.7" font-size="18">COOH<tspan font-size="11.2" dy="-6.5">*</tspan></text>
<text x="588.1" y="62.9" font-size="18">H<tspan font-size="11.2" dy="4">2</tspan><tspan dy="-4">O (g)</tspan></text>
<path d="M620.8 70.4 L620.8 89.3 L658.3 89.3 L658.3 109.4" fill="none" stroke="#606060" stroke-width="1.0" stroke-dasharray="4.4 3.4"/><polygon points="620.8,70.4 619.1,74.6 622.5,74.6" fill="#606060"/>
<rect x="628.4" y="109.4" width="59.6" height="77.2" fill="none" stroke="#606060" stroke-width="1.0" stroke-dasharray="4.4 3.4"/>
<path d="M659.6 27.2 L742 27.2 L742 85" fill="none" stroke="#606060" stroke-width="1.0" stroke-dasharray="4.4 3.4"/><polygon points="659.6,27.2 663.8,28.9 663.8,25.5" fill="#606060"/>
<rect x="717.4" y="85" width="32.2" height="138.8" fill="none" stroke="#606060" stroke-width="1.0" stroke-dasharray="4.4 3.4"/>
<text x="677.4" y="57.3" font-size="18">COOH<tspan font-size="11.2" dy="-6.5">*</tspan></text>
<path d="M703.8 59.1 L703.8 85" fill="none" stroke="#606060" stroke-width="1.0" stroke-dasharray="4.4 3.4"/><polygon points="703.8,59.1 702.1,63.3 705.5,63.3" fill="#606060"/>
<rect x="689.2" y="85" width="27.2" height="139.3" fill="none" stroke="#606060" stroke-width="1.0" stroke-dasharray="4.4 3.4"/>
<text x="380.3" y="38.6" font-size="17" text-anchor="end" textLength="33.5" lengthAdjust="spacingAndGlyphs">0.001</text>
<line x1="388" y1="20.6" x2="388" y2="47.8" stroke="#000" stroke-width="2.8" />
<line x1="404.2" y1="20.6" x2="404.2" y2="40.7" stroke="#000" stroke-width="2.8" />
<text x="410.7" y="37.6" font-size="17" textLength="34" lengthAdjust="spacingAndGlyphs">0.005</text>
<rect x="39.8" y="16.9" width="712.6" height="210.7" fill="none" stroke="#000" stroke-width="1.7"/>
<line x1="395.6" y1="16.9" x2="395.6" y2="227.6" stroke="#000" stroke-width="2.0" />
<rect x="491.6" y="226.1" width="6.8" height="3" fill="#fff"/>
<line x1="488.8" y1="231.8" x2="494.8" y2="223.2" stroke="#000" stroke-width="1.3" />
<line x1="495.3" y1="231.8" x2="501.3" y2="223.2" stroke="#000" stroke-width="1.3" />
<line x1="39.8" y1="227.6" x2="39.8" y2="232.2" stroke="#000" stroke-width="1.3" />
<text x="41.4" y="252.8" font-size="21.8" text-anchor="middle" transform="rotate(-24 41.4 245)" textLength="46.5" lengthAdjust="spacingAndGlyphs">3500</text>
<line x1="141.5" y1="227.6" x2="141.5" y2="232.2" stroke="#000" stroke-width="1.3" />
<text x="143.1" y="252.8" font-size="21.8" text-anchor="middle" transform="rotate(-24 143.1 245)" textLength="46.5" lengthAdjust="spacingAndGlyphs">3300</text>
<line x1="243.1" y1="227.6" x2="243.1" y2="232.2" stroke="#000" stroke-width="1.3" />
<text x="244.7" y="252.8" font-size="21.8" text-anchor="middle" transform="rotate(-24 244.7 245)" textLength="46.5" lengthAdjust="spacingAndGlyphs">3100</text>
<line x1="344.8" y1="227.6" x2="344.8" y2="232.2" stroke="#000" stroke-width="1.3" />
<text x="346.4" y="252.8" font-size="21.8" text-anchor="middle" transform="rotate(-24 346.4 245)" textLength="46.5" lengthAdjust="spacingAndGlyphs">2900</text>
<line x1="90.6" y1="227.6" x2="90.6" y2="230.2" stroke="#000" stroke-width="1.3" />
<line x1="192.3" y1="227.6" x2="192.3" y2="230.2" stroke="#000" stroke-width="1.3" />
<line x1="293.9" y1="227.6" x2="293.9" y2="230.2" stroke="#000" stroke-width="1.3" />
<line x1="395.6" y1="227.6" x2="395.6" y2="232.2" stroke="#000" stroke-width="1.3" />
<text x="397.2" y="252.8" font-size="21.8" text-anchor="middle" transform="rotate(-24 397.2 245)" textLength="46.5" lengthAdjust="spacingAndGlyphs">2800</text>
<line x1="444.7" y1="227.6" x2="444.7" y2="232.2" stroke="#000" stroke-width="1.3" />
<text x="446.3" y="252.8" font-size="21.8" text-anchor="middle" transform="rotate(-24 446.3 245)" textLength="46.5" lengthAdjust="spacingAndGlyphs">2600</text>
<line x1="420.2" y1="227.6" x2="420.2" y2="230.2" stroke="#000" stroke-width="1.3" />
<line x1="469.2" y1="227.6" x2="469.2" y2="230.2" stroke="#000" stroke-width="1.3" />
<line x1="509.9" y1="227.6" x2="509.9" y2="232.2" stroke="#000" stroke-width="1.3" />
<text x="509" y="252.8" font-size="21.8" text-anchor="middle" transform="rotate(-24 509 245)" textLength="46.5" lengthAdjust="spacingAndGlyphs">2200</text>
<line x1="558.4" y1="227.6" x2="558.4" y2="232.2" stroke="#000" stroke-width="1.3" />
<text x="560" y="252.8" font-size="21.8" text-anchor="middle" transform="rotate(-24 560 245)" textLength="46.5" lengthAdjust="spacingAndGlyphs">2000</text>
<line x1="606.9" y1="227.6" x2="606.9" y2="232.2" stroke="#000" stroke-width="1.3" />
<text x="608.5" y="252.8" font-size="21.8" text-anchor="middle" transform="rotate(-24 608.5 245)" textLength="46.5" lengthAdjust="spacingAndGlyphs">1800</text>
<line x1="655.4" y1="227.6" x2="655.4" y2="232.2" stroke="#000" stroke-width="1.3" />
<text x="657" y="252.8" font-size="21.8" text-anchor="middle" transform="rotate(-24 657 245)" textLength="46.5" lengthAdjust="spacingAndGlyphs">1600</text>
<line x1="703.9" y1="227.6" x2="703.9" y2="232.2" stroke="#000" stroke-width="1.3" />
<text x="705.5" y="252.8" font-size="21.8" text-anchor="middle" transform="rotate(-24 705.5 245)" textLength="46.5" lengthAdjust="spacingAndGlyphs">1400</text>
<line x1="752.4" y1="227.6" x2="752.4" y2="232.2" stroke="#000" stroke-width="1.3" />
<text x="754" y="252.8" font-size="21.8" text-anchor="middle" transform="rotate(-24 754 245)" textLength="46.5" lengthAdjust="spacingAndGlyphs">1200</text>
<line x1="534.1" y1="227.6" x2="534.1" y2="230.2" stroke="#000" stroke-width="1.3" />
<line x1="582.6" y1="227.6" x2="582.6" y2="230.2" stroke="#000" stroke-width="1.3" />
<line x1="631.1" y1="227.6" x2="631.1" y2="230.2" stroke="#000" stroke-width="1.3" />
<line x1="679.6" y1="227.6" x2="679.6" y2="230.2" stroke="#000" stroke-width="1.3" />
<line x1="728.1" y1="227.6" x2="728.1" y2="230.2" stroke="#000" stroke-width="1.3" />
<text x="262.8" y="288.6" font-size="29.8" textLength="245.9" lengthAdjust="spacingAndGlyphs">Wavenumber (cm<tspan font-size="18.5" dy="-10.7">-1</tspan><tspan dy="10.7">)</tspan></text>
<text x="24.3" y="132.4" font-size="29.2" text-anchor="middle" transform="rotate(-90 24.3 132.4)" textLength="192.5" lengthAdjust="spacingAndGlyphs">K-M (arb. units)</text>
<text x="55.5" y="47.5" font-size="25.5">Cu-SAC</text>
<line x1="769.5" y1="51.6" x2="791.1" y2="51.6" stroke="#ECB07C" stroke-width="4.6" stroke-linecap="round"/>
<text x="797.9" y="58.3" font-size="19" textLength="50" lengthAdjust="spacingAndGlyphs">30 min</text>
<line x1="769.5" y1="74.2" x2="791.1" y2="74.2" stroke="#F0D3B2" stroke-width="4.6" stroke-linecap="round"/>
<text x="797.9" y="80.9" font-size="19" textLength="50" lengthAdjust="spacingAndGlyphs">20 min</text>
<line x1="769.5" y1="96.8" x2="791.1" y2="96.8" stroke="#8CE79A" stroke-width="4.6" stroke-linecap="round"/>
<text x="797.9" y="103.5" font-size="19" textLength="50" lengthAdjust="spacingAndGlyphs">12 min</text>
<line x1="769.5" y1="119" x2="791.1" y2="119" stroke="#CCE8BC" stroke-width="4.6" stroke-linecap="round"/>
<text x="797.9" y="125.7" font-size="19" textLength="50" lengthAdjust="spacingAndGlyphs">10 min</text>
<line x1="769.5" y1="141.1" x2="791.1" y2="141.1" stroke="#E48392" stroke-width="4.6" stroke-linecap="round"/>
<text x="797.9" y="147.8" font-size="19" textLength="41" lengthAdjust="spacingAndGlyphs">8 min</text>
<line x1="769.5" y1="163.5" x2="791.1" y2="163.5" stroke="#EEB8DA" stroke-width="4.6" stroke-linecap="round"/>
<text x="797.9" y="170.2" font-size="19" textLength="41" lengthAdjust="spacingAndGlyphs">6 min</text>
<line x1="769.5" y1="185.6" x2="791.1" y2="185.6" stroke="#76E0FA" stroke-width="4.6" stroke-linecap="round"/>
<text x="797.9" y="192.3" font-size="19" textLength="41" lengthAdjust="spacingAndGlyphs">4 min</text>
<line x1="769.5" y1="208" x2="791.1" y2="208" stroke="#B4E6F4" stroke-width="4.6" stroke-linecap="round"/>
<text x="797.9" y="214.7" font-size="19" textLength="41" lengthAdjust="spacingAndGlyphs">2 min</text>
<text x="6.8" y="29.7" font-size="33.5" font-weight="bold">a</text>
<clipPath id="clip22"><rect x="41.5" y="298.9" width="713.1" height="210.5"/></clipPath>
<g clip-path="url(#clip22)">
<polyline points="41.5,484.3 43.1,484.2 44.7,484.9 46.3,484.4 47.9,484.3 49.5,484.4 51.1,484.2 52.7,484.2 54.3,484.4 55.9,484.3 57.5,484.5 59.1,484.4 60.7,484.1 62.3,484.2 63.9,484.3 65.5,484.1 67.1,484.5 68.7,484.4 70.3,484.7 71.9,484.4 73.5,484.5 75.1,484.7 76.7,484.8 78.3,484.5 79.9,485 81.5,484.6 83.1,484.9 84.7,484.7 86.3,484.6 87.9,484.5 89.5,484.7 91.1,485 92.7,484.3 94.3,484.6 95.9,484.4 97.5,483.8 99.1,483.9 100.7,483.7 102.3,483.1 103.9,482.8 105.5,482.9 107.1,482.5 108.7,482.6 110.3,482.1 111.9,481.6 113.5,481.6 115.1,481.3 116.7,481.4 118.3,481.3 119.9,480.9 121.5,480.6 123.1,480.8 124.7,480.4 126.3,480.5 127.9,479.9 129.5,479.9 131.1,479.7 132.7,479.5 134.3,480.1 135.9,479.8 137.5,479.2 139.1,479.4 140.7,478.9 142.3,479.4 143.9,479.4 145.5,479.1 147.1,479.1 148.7,479.3 150.3,479.3 151.9,479.2 153.5,479.1 155.1,479.2 156.7,479.2 158.3,479.4 159.9,479.3 161.5,479.4 163.1,479 164.7,479.3 166.3,479.3 167.9,479.3 169.5,479.4 171.1,479.4 172.7,479.2 174.3,479.7 175.9,479.7 177.5,479.5 179.1,479.7 180.7,479.5 182.3,479.4 183.9,479.7 185.5,480 187.1,479.7 188.7,479.5 190.3,479.9 191.9,479.8 193.5,479.8 195.1,480 196.7,479.7 198.3,479.7 199.9,479.8 201.5,480.3 203.1,480.2 204.7,480.1 206.3,480.2 207.9,480.5 209.5,480.6 211.1,480.3 212.7,480.6 214.3,481 215.9,480.7 217.5,480.6 219.1,480.8 220.7,480.8 222.3,481 223.9,481 225.5,480.9 227.1,481 228.7,481.2 230.3,481 231.9,481.3 233.5,481.1 235.1,481.6 236.7,481.7 238.3,481.3 239.9,481.7 241.5,481.6 243.1,481.7 244.7,481.7 246.3,481.8 247.9,482 249.5,481.6 251.1,482.1 252.7,481.9 254.3,481.8 255.9,482.1 257.5,482.3 259.1,482.2 260.7,482.3 262.3,482.3 263.9,482.3 265.5,482.6 267.1,482.3 268.7,482.8 270.3,482.7 271.9,482.6 273.5,482.7 275.1,482.7 276.7,482.8 278.3,482.9 279.9,482.9 281.5,482.7 283.1,482.7 284.7,483.2 286.3,483.1 287.9,483.2 289.5,483.3 291.1,483.2 292.7,483.7 294.3,483.5 295.9,483.5 297.5,483.4 299.1,483.8 300.7,483.8 302.3,484 303.9,484 305.5,483.7 307.1,483.7 308.7,484.2 310.3,483.9 311.9,484 313.5,484.1 315.1,484.2 316.7,484.3 318.3,484 319.9,484.1 321.5,484 323.1,484.4 324.7,484.3 326.3,484 327.9,484.5 329.5,484.2 331.1,483.9 332.7,483.8 334.3,483.5 335.9,483.4 337.5,485.1 339.1,485.6 340.7,486 342.3,485.6 343.9,486.2 345.5,486.5 347.1,486.6 348.7,486.7 350.3,486.4 351.9,486.4 353.5,486.7 355.1,487.2 356.7,486.9 358.3,486.8 359.9,486.6 361.5,487 363.1,486.9 364.7,487 366.3,486.9 367.9,486.3 369.5,486.5 371.1,486.7 372.7,487.9 374.3,488.4 375.9,488.7 377.5,488.8 379.1,489.6 380.7,489.6 382.3,489.3 383.9,489.8 385.5,489.4 387.1,489.6 388.7,489.6 390.3,489.8 391.9,490.1 393.5,490.4 395.1,490.3 396.7,490.2" fill="none" stroke="#B4E6F4" stroke-width="2.2" stroke-linejoin="round" stroke-linecap="butt" />
<polyline points="399.4,489.9 402.4,489.9 405.4,489.9 408.4,489.8 411.4,489.9 414.4,489.9 417.4,490 420.4,489.8 423.4,489.9 426.4,489.9 429.4,489.8 432.4,489.7 435.4,489.8 438.4,489.9 441.4,489.8 444.4,490.1 447.4,489.9 450.4,489.8 453.4,489.8 456.4,489.9 459.4,489.9 462.4,489.8 465.4,489.9 468.4,490.1 471.4,489.9 474.4,489.8 477.4,489.7 480.4,489.6 483.4,489.8 486.4,489.7 489.4,489.7 492.4,489.7 494.6,489.7" fill="none" stroke="#B4E6F4" stroke-width="2.9" stroke-linejoin="round" stroke-linecap="butt" />
<polyline points="500.6,489.4 501.9,489.4 503.1,489.2 504.4,489.1 505.6,489.3 506.9,489.5 508.1,489.3 509.4,489.3 510.6,489 511.9,489.1 513.1,489.3 514.4,489.1 515.6,488.5 516.9,487 518.1,484 519.4,480.7 520.6,479.8 521.9,481.5 523.1,483.7 524.4,485.4 525.6,486.7 526.9,487.8 528.1,488.1 529.4,488.4 530.6,488.7 531.9,488.6 533.1,488.5 534.4,488.8 535.6,489.1 536.9,488.9 538.1,489 539.4,488.7 540.6,489.2 541.9,488.7 543.1,488.9 544.4,489 545.6,489.3 546.9,489 548.1,488.8 549.4,488.7 550.6,488.8 551.9,488.7 553.1,488.7 554.4,488.8 555.6,488.9 556.9,488.5 558.1,488.9 559.4,488.3 560.6,488.9 561.9,488.4 563.1,488.4 564.4,488.4 565.6,488.4 566.9,488.4 568.1,488.3 569.4,488.2 570.6,488.1 571.9,488.2 573.1,488 574.4,488 575.6,487.8 576.9,488 578.1,488 579.4,487.7 580.6,488 581.9,487.7 583.1,487.7 584.4,487.4 585.6,487.7 586.9,487.8 588.1,487.8 589.4,487.3 590.6,487.3 591.9,487.5 593.1,487.3 594.4,487 595.6,487.1 596.9,487.2 598.1,487 599.4,486.7 600.6,486.9 601.9,486.1 603.1,486.5 604.4,486 605.6,486 606.9,486.2 608.1,486.4 609.4,485.9 610.6,485.7 611.9,486.2 613.1,485.8 614.4,484.7 615.6,485.3 616.9,485.3 618.1,485.3 619.4,485.1 620.6,486.2 621.9,486.2 623.1,487.2 624.4,486.5 625.6,486.9 626.9,486.8 628.1,488 629.4,488.5 630.6,489.2 631.9,489.4 633.1,489.1 634.4,490.7 635.6,490.2 636.9,491 638.1,491.9 639.4,493.8 640.6,492.8 641.9,493.3 643.1,494.8 644.4,496.1 645.6,496.5 646.9,497.1 648.1,496.9 649.4,497.6 650.6,498.8 651.9,498.2 653.1,497.7 654.4,497.9 655.6,498.8 656.9,499 658.1,498.1 659.4,497.3 660.6,498.6 661.9,497.1 663.1,497.4 664.4,497.3 665.6,496.4 666.9,495.4 668.1,495.3 669.4,493.3 670.6,491 671.9,490.5 673.1,490.9 674.4,489.6 675.6,489 676.9,490 678.1,489.7 679.4,489.3 680.6,489.6 681.9,489 683.1,489.3 684.4,489.4 685.6,488.9 686.9,489.7 688.1,488.8 689.4,490.1 690.6,489.5 691.9,489.7 693.1,489.4 694.4,490 695.6,490 696.9,490.3 698.1,490.5 699.4,490.8 700.6,491.7 701.9,492 703.1,492.1 704.4,492.1 705.6,492.2 706.9,492.1 708.1,492.2 709.4,492 710.6,492.1 711.9,491.9 713.1,491.8 714.4,492 715.6,491.7 716.9,491.6 718.1,491.9 719.4,491.7 720.6,491.9 721.9,492 723.1,492 724.4,492.1 725.6,492.4 726.9,492.2 728.1,492.7 729.4,492.6 730.6,492.8 731.9,492.9 733.1,493.2 734.4,493.2 735.6,493.1 736.9,493.3 738.1,493.3 739.4,493.1 740.6,493.3 741.9,492.7 743.1,492.2 744.4,492 745.6,491.5 746.9,491 748.1,490.6 749.4,489.9 750.6,489.6 751.9,489.1 753.1,488.3 754.4,487.7 755.6,487.1 756.9,487.1" fill="none" stroke="#B4E6F4" stroke-width="2.9" stroke-linejoin="round" stroke-linecap="butt" />
<polyline points="41.5,472.4 43.1,472.3 44.7,472.4 46.3,472.3 47.9,472.5 49.5,472.5 51.1,472.5 52.7,472.5 54.3,472.6 55.9,472.4 57.5,472.5 59.1,472.4 60.7,472.5 62.3,472.6 63.9,472.7 65.5,472.4 67.1,472.5 68.7,472.6 70.3,472.5 71.9,472.7 73.5,472.7 75.1,472.7 76.7,473.1 78.3,472.8 79.9,472.9 81.5,472.6 83.1,473 84.7,473 86.3,473 87.9,472.5 89.5,472.9 91.1,472.7 92.7,472.7 94.3,472.4 95.9,472.1 97.5,471.9 99.1,472 100.7,471.7 102.3,470.9 103.9,470.8 105.5,470.7 107.1,470.3 108.7,470.1 110.3,469.8 111.9,469.9 113.5,469.6 115.1,469.2 116.7,469.3 118.3,469 119.9,469 121.5,468.4 123.1,468 124.7,468.2 126.3,467.9 127.9,467.4 129.5,466.8 131.1,467.3 132.7,467.2 134.3,466.9 135.9,466.8 137.5,466.8 139.1,466.5 140.7,466.9 142.3,466.4 143.9,466.6 145.5,466.6 147.1,466.6 148.7,466.5 150.3,466.8 151.9,466.4 153.5,466.7 155.1,467 156.7,466.6 158.3,466.4 159.9,466.7 161.5,466.2 163.1,466.6 164.7,466.6 166.3,466.7 167.9,466.7 169.5,467 171.1,466.9 172.7,466.7 174.3,467.2 175.9,466.8 177.5,467.3 179.1,467 180.7,466.9 182.3,467 183.9,467.4 185.5,467.2 187.1,467.2 188.7,466.9 190.3,467.3 191.9,467.2 193.5,467.3 195.1,467.2 196.7,467.1 198.3,467.7 199.9,467.3 201.5,467.7 203.1,467.7 204.7,467.7 206.3,467.7 207.9,467.9 209.5,467.8 211.1,467.9 212.7,468 214.3,468 215.9,468 217.5,467.6 219.1,468.2 220.7,468 222.3,468.5 223.9,468.6 225.5,468.5 227.1,468.5 228.7,468.2 230.3,468.6 231.9,468.5 233.5,469 235.1,468.5 236.7,469.2 238.3,468.9 239.9,468.6 241.5,469.3 243.1,469 244.7,469.2 246.3,469.4 247.9,469 249.5,469.2 251.1,469.4 252.7,469.6 254.3,469.4 255.9,469.6 257.5,469.3 259.1,469.7 260.7,469.5 262.3,469.7 263.9,469.8 265.5,470 267.1,469.8 268.7,470.1 270.3,470 271.9,470.2 273.5,470.1 275.1,470.5 276.7,470.1 278.3,470.2 279.9,470.6 281.5,470.3 283.1,470.6 284.7,470.7 286.3,470.3 287.9,470.6 289.5,470.7 291.1,470.8 292.7,470.6 294.3,470.9 295.9,471 297.5,470.8 299.1,471.1 300.7,471.2 302.3,470.9 303.9,471.2 305.5,471.4 307.1,471.5 308.7,471.2 310.3,471.3 311.9,471.5 313.5,471.6 315.1,471.7 316.7,471.6 318.3,471.8 319.9,471.6 321.5,472.1 323.1,471.7 324.7,471.6 326.3,471.7 327.9,471.4 329.5,471.5 331.1,471.5 332.7,471.4 334.3,471.3 335.9,470.8 337.5,472.4 339.1,473.3 340.7,473.7 342.3,473.8 343.9,473.8 345.5,473.7 347.1,473.9 348.7,473.8 350.3,474 351.9,474.5 353.5,474.6 355.1,474.4 356.7,474.6 358.3,474.8 359.9,474.4 361.5,474.4 363.1,474.5 364.7,474.2 366.3,474.7 367.9,474.4 369.5,474.2 371.1,474.3 372.7,475.8 374.3,476.3 375.9,476.4 377.5,477 379.1,476.9 380.7,477.2 382.3,477.1 383.9,477.3 385.5,477.1 387.1,477.6 388.7,477.6 390.3,477.9 391.9,477.7 393.5,477.8 395.1,478.1 396.7,477.8" fill="none" stroke="#76E0FA" stroke-width="2.2" stroke-linejoin="round" stroke-linecap="butt" />
<polyline points="399.4,479.4 402.4,479.3 405.4,479.2 408.4,479.3 411.4,479.3 414.4,479.2 417.4,479.3 420.4,479.2 423.4,479.3 426.4,479.2 429.4,479.2 432.4,479.2 435.4,479.3 438.4,479.2 441.4,479.4 444.4,479.3 447.4,479.2 450.4,479.3 453.4,479 456.4,479.4 459.4,479.1 462.4,479.1 465.4,479.3 468.4,479 471.4,479.1 474.4,479.2 477.4,479 480.4,479.2 483.4,479.3 486.4,479.1 489.4,479.3 492.4,479 494.6,479.1" fill="none" stroke="#76E0FA" stroke-width="2.9" stroke-linejoin="round" stroke-linecap="butt" />
<polyline points="500.6,478.9 501.9,478.7 503.1,478.7 504.4,478.6 505.6,478.5 506.9,478.8 508.1,478.5 509.4,478.6 510.6,478.7 511.9,478.7 513.1,478.7 514.4,478.4 515.6,477.7 516.9,476.1 518.1,472.7 519.4,469.3 520.6,468 521.9,470.3 523.1,472.5 524.4,474.3 525.6,475.6 526.9,476.9 528.1,477.6 529.4,477.7 530.6,477.8 531.9,478 533.1,478.1 534.4,478 535.6,478.8 536.9,478.3 538.1,478.6 539.4,478.6 540.6,478.3 541.9,478.5 543.1,478.7 544.4,478.6 545.6,478.5 546.9,478.2 548.1,478.2 549.4,478.3 550.6,478.5 551.9,478.1 553.1,478.3 554.4,478.3 555.6,478.3 556.9,478.1 558.1,478 559.4,478.1 560.6,477.9 561.9,478 563.1,477.8 564.4,477.8 565.6,477.7 566.9,477.6 568.1,477.8 569.4,477.5 570.6,477.7 571.9,477.5 573.1,477.6 574.4,477.2 575.6,477.4 576.9,477.4 578.1,477.5 579.4,477.4 580.6,477.3 581.9,477.1 583.1,477.1 584.4,477.2 585.6,477.2 586.9,477 588.1,477.1 589.4,476.5 590.6,476.9 591.9,477.1 593.1,476.7 594.4,476.4 595.6,476.8 596.9,475.9 598.1,476.5 599.4,475.8 600.6,476.1 601.9,475.6 603.1,476.1 604.4,475.6 605.6,475.3 606.9,475.4 608.1,475.7 609.4,475.7 610.6,475.2 611.9,474.9 613.1,475.5 614.4,475 615.6,474.7 616.9,475.7 618.1,474.4 619.4,475.3 620.6,476 621.9,475.7 623.1,475.9 624.4,476.5 625.6,475.8 626.9,476.6 628.1,476.9 629.4,477.8 630.6,478 631.9,478.3 633.1,479.6 634.4,480.2 635.6,479.5 636.9,482.3 638.1,481.6 639.4,481.8 640.6,483.6 641.9,481.9 643.1,483.3 644.4,485 645.6,485.2 646.9,485.5 648.1,486.7 649.4,488.1 650.6,487.5 651.9,488.1 653.1,488 654.4,487.5 655.6,487.5 656.9,487 658.1,487.4 659.4,487.6 660.6,486.9 661.9,486.9 663.1,487 664.4,486.6 665.6,486.1 666.9,483.8 668.1,484 669.4,481.6 670.6,481.8 671.9,480.2 673.1,479.3 674.4,478.4 675.6,479.6 676.9,478.7 678.1,478.6 679.4,477.7 680.6,479.5 681.9,478.4 683.1,478.2 684.4,479.1 685.6,478.8 686.9,477.6 688.1,478.6 689.4,479.3 690.6,478.8 691.9,478.8 693.1,479.4 694.4,479.4 695.6,479.4 696.9,479.6 698.1,479.8 699.4,480.3 700.6,480.7 701.9,481.2 703.1,481.7 704.4,481.3 705.6,481.7 706.9,481.6 708.1,481.6 709.4,481.6 710.6,481.3 711.9,481.2 713.1,481.5 714.4,481.3 715.6,481.3 716.9,481.4 718.1,481 719.4,481.2 720.6,481.2 721.9,481.1 723.1,481.2 724.4,481.5 725.6,481.7 726.9,481.9 728.1,482 729.4,482.3 730.6,482.1 731.9,482.4 733.1,482.4 734.4,482.5 735.6,482.5 736.9,482.8 738.1,482.9 739.4,482.5 740.6,481.9 741.9,481.8 743.1,481.5 744.4,481.5 745.6,481 746.9,480.4 748.1,480.2 749.4,479.6 750.6,478.9 751.9,478.3 753.1,477.6 754.4,477.1 755.6,476.8 756.9,476.6" fill="none" stroke="#76E0FA" stroke-width="2.9" stroke-linejoin="round" stroke-linecap="butt" />
<polyline points="41.5,459.7 43.1,459.6 44.7,459.5 46.3,459.7 47.9,459.5 49.5,459.6 51.1,459.5 52.7,459.8 54.3,459.7 55.9,459.7 57.5,459.7 59.1,459.8 60.7,459.7 62.3,459.5 63.9,460.1 65.5,459.8 67.1,460 68.7,459.7 70.3,459.6 71.9,459.7 73.5,460 75.1,459.9 76.7,460 78.3,459.9 79.9,459.8 81.5,460.3 83.1,459.9 84.7,459.9 86.3,459.9 87.9,460.1 89.5,460.3 91.1,460 92.7,459.9 94.3,459.6 95.9,459.6 97.5,459.2 99.1,458.9 100.7,458.4 102.3,458.5 103.9,458.1 105.5,457.6 107.1,457.3 108.7,457.2 110.3,456.7 111.9,456.7 113.5,456.3 115.1,456.1 116.7,456.3 118.3,455.7 119.9,455.4 121.5,455.7 123.1,455.1 124.7,455.2 126.3,454.8 127.9,454.5 129.5,454.2 131.1,454.2 132.7,454.2 134.3,453.9 135.9,453.8 137.5,453.6 139.1,453.6 140.7,453.6 142.3,453.5 143.9,453.2 145.5,453.4 147.1,453.5 148.7,453.5 150.3,453.2 151.9,453.5 153.5,453.3 155.1,453.3 156.7,453.7 158.3,453.5 159.9,453.8 161.5,453.9 163.1,453.4 164.7,453.8 166.3,453.5 167.9,453.9 169.5,454 171.1,454.1 172.7,454.1 174.3,453.6 175.9,453.9 177.5,453.7 179.1,454 180.7,454.1 182.3,454 183.9,454.2 185.5,453.9 187.1,454 188.7,453.9 190.3,453.9 191.9,454.2 193.5,454.2 195.1,454.1 196.7,454.2 198.3,454.1 199.9,454.5 201.5,454.6 203.1,454.4 204.7,454.5 206.3,454.5 207.9,454.5 209.5,454.8 211.1,454.9 212.7,454.5 214.3,455 215.9,454.8 217.5,454.9 219.1,454.8 220.7,455 222.3,455.1 223.9,455.1 225.5,455.7 227.1,455.2 228.7,455.3 230.3,455.4 231.9,455.6 233.5,455.7 235.1,455.7 236.7,455.6 238.3,455.7 239.9,455.3 241.5,455.8 243.1,455.7 244.7,456 246.3,455.9 247.9,456.1 249.5,456 251.1,456.2 252.7,455.8 254.3,456.4 255.9,456 257.5,456.6 259.1,456.1 260.7,456.4 262.3,456.3 263.9,456.6 265.5,456.8 267.1,456.5 268.7,456.8 270.3,456.9 271.9,456.6 273.5,457 275.1,456.8 276.7,457.1 278.3,456.9 279.9,457.6 281.5,457.1 283.1,456.8 284.7,457.3 286.3,457.3 287.9,457.1 289.5,457.4 291.1,457.3 292.7,457.5 294.3,457.4 295.9,457.5 297.5,457.7 299.1,457.8 300.7,457.8 302.3,457.9 303.9,457.9 305.5,458 307.1,458.2 308.7,458.2 310.3,458.2 311.9,458.4 313.5,457.9 315.1,458.4 316.7,457.9 318.3,458.2 319.9,458.2 321.5,458.5 323.1,458.7 324.7,458.3 326.3,458.1 327.9,458.6 329.5,458.3 331.1,458 332.7,458.4 334.3,457.8 335.9,457.6 337.5,459.3 339.1,459.8 340.7,460.3 342.3,460.4 343.9,460.7 345.5,460.3 347.1,460.7 348.7,461 350.3,460.7 351.9,461.1 353.5,460.9 355.1,461.3 356.7,461.5 358.3,461.4 359.9,461.4 361.5,461.3 363.1,461.3 364.7,461.5 366.3,461.3 367.9,461.1 369.5,461.1 371.1,460.9 372.7,462.8 374.3,463.3 375.9,463.5 377.5,463.9 379.1,463.8 380.7,464.2 382.3,464.1 383.9,464 385.5,464 387.1,464.7 388.7,464.2 390.3,464.6 391.9,464.9 393.5,464.8 395.1,464.8 396.7,465" fill="none" stroke="#EEB8DA" stroke-width="2.2" stroke-linejoin="round" stroke-linecap="butt" />
<polyline points="399.4,465.4 402.4,465.4 405.4,465.4 408.4,465.2 411.4,465.4 414.4,465.4 417.4,465.4 420.4,465.4 423.4,465.4 426.4,465.2 429.4,465.2 432.4,465.2 435.4,465.2 438.4,465.2 441.4,465.1 444.4,465.3 447.4,465.3 450.4,465.4 453.4,465.2 456.4,465.4 459.4,465.2 462.4,465.2 465.4,465.3 468.4,465.4 471.4,465.3 474.4,465.3 477.4,465.2 480.4,465.2 483.4,465.1 486.4,465.2 489.4,465.2 492.4,465.3 494.6,465.2" fill="none" stroke="#EEB8DA" stroke-width="2.9" stroke-linejoin="round" stroke-linecap="butt" />
<polyline points="500.6,464.6 501.9,464.9 503.1,464.7 504.4,464.6 505.6,464.8 506.9,464.3 508.1,464.4 509.4,464.9 510.6,464.7 511.9,464.7 513.1,464.6 514.4,464.5 515.6,463.9 516.9,462.1 518.1,458.8 519.4,455.2 520.6,454.4 521.9,456.1 523.1,458.4 524.4,460.7 525.6,461.9 526.9,462.9 528.1,463.5 529.4,463.7 530.6,464.3 531.9,464.2 533.1,463.9 534.4,464.4 535.6,464.2 536.9,464.1 538.1,464.3 539.4,464.5 540.6,464.2 541.9,464.5 543.1,464.3 544.4,464.6 545.6,464.5 546.9,464.2 548.1,464 549.4,464.3 550.6,463.9 551.9,464.3 553.1,464.1 554.4,464.3 555.6,464 556.9,463.9 558.1,464.1 559.4,463.8 560.6,464 561.9,463.9 563.1,463.7 564.4,463.6 565.6,463.9 566.9,464 568.1,463.6 569.4,463.5 570.6,463.5 571.9,463.3 573.1,463.2 574.4,463.6 575.6,463.4 576.9,463.2 578.1,463.5 579.4,463.2 580.6,463.1 581.9,463.2 583.1,462.9 584.4,463 585.6,463 586.9,463 588.1,462.8 589.4,463 590.6,462.8 591.9,462.7 593.1,462.7 594.4,462.3 595.6,462.1 596.9,462.2 598.1,462.4 599.4,461.7 600.6,461.9 601.9,461.5 603.1,461.4 604.4,461.2 605.6,460.8 606.9,461.6 608.1,461 609.4,461 610.6,460.9 611.9,459.8 613.1,461.2 614.4,461.3 615.6,460.7 616.9,460.8 618.1,461.1 619.4,461.2 620.6,461.5 621.9,461.6 623.1,461.5 624.4,462.1 625.6,461.6 626.9,462.4 628.1,463.3 629.4,463.8 630.6,463.9 631.9,464.6 633.1,464.6 634.4,465.9 635.6,466.1 636.9,466.3 638.1,468.2 639.4,468.2 640.6,468.9 641.9,468.8 643.1,470.3 644.4,471.3 645.6,472.2 646.9,472.9 648.1,473.4 649.4,474.2 650.6,474.6 651.9,474.6 653.1,473.5 654.4,474 655.6,474.6 656.9,474.3 658.1,473.5 659.4,473.6 660.6,473.4 661.9,473.4 663.1,472 664.4,471.6 665.6,471.8 666.9,470.3 668.1,469.4 669.4,468.1 670.6,467.5 671.9,466.2 673.1,466.3 674.4,465.1 675.6,464.8 676.9,464.8 678.1,464.6 679.4,464.1 680.6,463.9 681.9,465.2 683.1,464.2 684.4,464.1 685.6,463.9 686.9,464.2 688.1,464.1 689.4,464.4 690.6,464.2 691.9,464.5 693.1,465.7 694.4,465.3 695.6,465.6 696.9,465.9 698.1,466 699.4,466.5 700.6,466.9 701.9,467.6 703.1,467.6 704.4,467.7 705.6,467.6 706.9,467.9 708.1,467.6 709.4,467.6 710.6,467.8 711.9,467.7 713.1,467.5 714.4,467.5 715.6,467.3 716.9,467.4 718.1,467.5 719.4,467.4 720.6,467.6 721.9,467.5 723.1,467.4 724.4,467.5 725.6,467.4 726.9,468 728.1,467.9 729.4,468.3 730.6,468.3 731.9,468.5 733.1,468.6 734.4,468.7 735.6,468.9 736.9,468.8 738.1,468.8 739.4,468.7 740.6,468.4 741.9,468.1 743.1,467.7 744.4,467.4 745.6,467.1 746.9,466.6 748.1,466 749.4,465.4 750.6,465.2 751.9,464.5 753.1,463.5 754.4,463 755.6,462.5 756.9,462.7" fill="none" stroke="#EEB8DA" stroke-width="2.9" stroke-linejoin="round" stroke-linecap="butt" />
<polyline points="41.5,439.9 43.1,440.2 44.7,440.1 46.3,440.3 47.9,440.1 49.5,440.3 51.1,440.3 52.7,440.5 54.3,440.6 55.9,440.4 57.5,440.4 59.1,440.7 60.7,440.1 62.3,440.7 63.9,440.4 65.5,440.4 67.1,440.7 68.7,440.4 70.3,440.5 71.9,440.7 73.5,440.8 75.1,440.4 76.7,440.7 78.3,440.7 79.9,440.6 81.5,440.9 83.1,441.1 84.7,440.8 86.3,440.8 87.9,440.6 89.5,440.6 91.1,440.5 92.7,440.6 94.3,440.4 95.9,440.1 97.5,440.1 99.1,439.7 100.7,439.7 102.3,439.5 103.9,439.4 105.5,439.1 107.1,439 108.7,438.8 110.3,438.5 111.9,438.6 113.5,438.3 115.1,438.2 116.7,438.3 118.3,438 119.9,438 121.5,438.1 123.1,437.5 124.7,437.3 126.3,437.8 127.9,437.2 129.5,437.1 131.1,437.5 132.7,437.1 134.3,436.9 135.9,436.5 137.5,436.8 139.1,436.6 140.7,436.8 142.3,436.3 143.9,436.7 145.5,437 147.1,436.7 148.7,436.6 150.3,436.3 151.9,436.6 153.5,436.6 155.1,436.6 156.7,436.5 158.3,437 159.9,437 161.5,436.6 163.1,436.7 164.7,436.7 166.3,436.7 167.9,437 169.5,437 171.1,437.1 172.7,437 174.3,437.1 175.9,437.3 177.5,437.1 179.1,437.2 180.7,436.8 182.3,437.1 183.9,437.1 185.5,437.2 187.1,437.5 188.7,437.2 190.3,437.6 191.9,437.3 193.5,437.7 195.1,437.3 196.7,437.6 198.3,437.3 199.9,437.5 201.5,437.4 203.1,438 204.7,437.9 206.3,437.6 207.9,438.2 209.5,438.1 211.1,438.1 212.7,438.3 214.3,438.5 215.9,438.6 217.5,438.7 219.1,438.9 220.7,439 222.3,438.7 223.9,439.2 225.5,438.9 227.1,439.1 228.7,439.1 230.3,439.3 231.9,439.8 233.5,439.7 235.1,440 236.7,439.7 238.3,440.2 239.9,439.6 241.5,440.2 243.1,440.4 244.7,440.4 246.3,440.3 247.9,440.4 249.5,440.6 251.1,441 252.7,440.9 254.3,440.8 255.9,440.6 257.5,441.2 259.1,441 260.7,441.4 262.3,441.1 263.9,441.2 265.5,441.6 267.1,441.7 268.7,441.9 270.3,441.8 271.9,441.9 273.5,442.1 275.1,442.1 276.7,442.1 278.3,442.3 279.9,442.6 281.5,442.5 283.1,442.7 284.7,442.8 286.3,442.9 287.9,442.7 289.5,442.9 291.1,443.1 292.7,443.4 294.3,443.2 295.9,443.1 297.5,443.3 299.1,443.4 300.7,443.2 302.3,443.6 303.9,444 305.5,443.5 307.1,443.8 308.7,443.9 310.3,443.7 311.9,443.5 313.5,443.9 315.1,443.8 316.7,443.8 318.3,444 319.9,444 321.5,444.2 323.1,444.3 324.7,443.9 326.3,444.2 327.9,444 329.5,444 331.1,444.1 332.7,443.6 334.3,443.2 335.9,442.9 337.5,445.1 339.1,445.5 340.7,445.8 342.3,445.8 343.9,446.3 345.5,445.7 347.1,446.4 348.7,446.6 350.3,446.6 351.9,446.5 353.5,446.6 355.1,446.5 356.7,446.6 358.3,446.7 359.9,446.6 361.5,446.7 363.1,446.6 364.7,446.7 366.3,446.7 367.9,446.7 369.5,446.3 371.1,446.4 372.7,447.7 374.3,448.5 375.9,448.5 377.5,448.6 379.1,448.7 380.7,448.9 382.3,449.1 383.9,449.5 385.5,449.4 387.1,449.5 388.7,449.3 390.3,449.5 391.9,449.6 393.5,450.3 395.1,450.1 396.7,450.2" fill="none" stroke="#E48392" stroke-width="2.2" stroke-linejoin="round" stroke-linecap="butt" />
<polyline points="399.4,448.3 402.4,448.4 405.4,448.4 408.4,448.5 411.4,448.3 414.4,448.5 417.4,448.4 420.4,448.2 423.4,448.4 426.4,448.5 429.4,448.5 432.4,448.5 435.4,448.2 438.4,448.5 441.4,448.4 444.4,448.4 447.4,448.3 450.4,448.2 453.4,448.5 456.4,448.4 459.4,448.5 462.4,448.5 465.4,448.3 468.4,448.3 471.4,448.2 474.4,448.5 477.4,448.3 480.4,448.3 483.4,448.3 486.4,448.3 489.4,448.5 492.4,448.2 494.6,448.3" fill="none" stroke="#E48392" stroke-width="2.9" stroke-linejoin="round" stroke-linecap="butt" />
<polyline points="500.6,447.5 501.9,447.9 503.1,447.8 504.4,448.1 505.6,447.8 506.9,447.9 508.1,447.5 509.4,447.7 510.6,447.7 511.9,447.7 513.1,447.8 514.4,447.6 515.6,447 516.9,445.5 518.1,442.2 519.4,438.9 520.6,437.8 521.9,439.6 523.1,441.5 524.4,443.5 525.6,445.1 526.9,446.3 528.1,446.4 529.4,446.7 530.6,447.1 531.9,447.2 533.1,447.4 534.4,447.3 535.6,447.4 536.9,447.4 538.1,447.6 539.4,447.2 540.6,447.6 541.9,447.3 543.1,447.6 544.4,447.4 545.6,447.5 546.9,447.3 548.1,447.5 549.4,447.5 550.6,447.1 551.9,447.5 553.1,447.3 554.4,447.1 555.6,447.3 556.9,446.9 558.1,447 559.4,447.2 560.6,447 561.9,447.2 563.1,447 564.4,447 565.6,447 566.9,446.9 568.1,446.8 569.4,446.6 570.6,446.7 571.9,446.9 573.1,446.5 574.4,446.6 575.6,446.5 576.9,446.4 578.1,446.5 579.4,446.1 580.6,446.5 581.9,446.1 583.1,445.9 584.4,445.8 585.6,446 586.9,446.2 588.1,445.9 589.4,445.7 590.6,446.2 591.9,445.4 593.1,445.7 594.4,445.7 595.6,445.6 596.9,445.4 598.1,445 599.4,445.4 600.6,445 601.9,445 603.1,444.5 604.4,444.1 605.6,444.9 606.9,444.3 608.1,444.1 609.4,443.8 610.6,443.9 611.9,443.9 613.1,443.8 614.4,443.8 615.6,443.8 616.9,443.3 618.1,444 619.4,444.3 620.6,443.9 621.9,444.2 623.1,444.7 624.4,444.3 625.6,445.3 626.9,445.3 628.1,446.2 629.4,447.4 630.6,446.6 631.9,446.7 633.1,448.1 634.4,448.6 635.6,449 636.9,449.8 638.1,450.5 639.4,451.6 640.6,451.7 641.9,452.7 643.1,453.8 644.4,455 645.6,455.3 646.9,456.3 648.1,457.3 649.4,456.6 650.6,457.8 651.9,457.7 653.1,456.4 654.4,456.7 655.6,457.4 656.9,455.5 658.1,456.1 659.4,457.5 660.6,456.8 661.9,457.1 663.1,457 664.4,455.3 665.6,454.6 666.9,455.3 668.1,452 669.4,451.2 670.6,450.8 671.9,448.8 673.1,448.4 674.4,448.4 675.6,448.3 676.9,447.8 678.1,448.3 679.4,448 680.6,448 681.9,448 683.1,447.5 684.4,447.2 685.6,447.9 686.9,447.3 688.1,448.2 689.4,447.3 690.6,447.9 691.9,448.5 693.1,448.2 694.4,448.3 695.6,448.9 696.9,448.9 698.1,449.2 699.4,449.5 700.6,450.3 701.9,450.8 703.1,450.7 704.4,450.7 705.6,450.4 706.9,450.8 708.1,450.8 709.4,451 710.6,450.6 711.9,450.7 713.1,450.5 714.4,450.4 715.6,450.3 716.9,450.4 718.1,450.6 719.4,450.5 720.6,450.2 721.9,450.7 723.1,450.6 724.4,450.6 725.6,450.7 726.9,451.2 728.1,451.2 729.4,451.3 730.6,451.6 731.9,451.3 733.1,451.7 734.4,452.1 735.6,451.8 736.9,452 738.1,452.1 739.4,451.9 740.6,451.6 741.9,451.1 743.1,450.9 744.4,450.4 745.6,450.2 746.9,449.4 748.1,449.2 749.4,448.7 750.6,448.2 751.9,447.4 753.1,446.8 754.4,446.3 755.6,445.6 756.9,446" fill="none" stroke="#E48392" stroke-width="2.9" stroke-linejoin="round" stroke-linecap="butt" />
<polyline points="41.5,420.6 43.1,420.8 44.7,420.7 46.3,421 47.9,421 49.5,421.1 51.1,420.9 52.7,420.8 54.3,420.8 55.9,421.1 57.5,421.2 59.1,421.5 60.7,421.1 62.3,421 63.9,421.3 65.5,420.9 67.1,421.4 68.7,421.2 70.3,421.1 71.9,420.9 73.5,421.1 75.1,421.2 76.7,421.1 78.3,421 79.9,420.9 81.5,420.8 83.1,420.6 84.7,421.1 86.3,420.9 87.9,420.7 89.5,420.8 91.1,420.7 92.7,420.5 94.3,420.4 95.9,420.7 97.5,420.4 99.1,420 100.7,420 102.3,419.9 103.9,420 105.5,419.8 107.1,420 108.7,419.7 110.3,419.5 111.9,419.7 113.5,419.5 115.1,419.6 116.7,419.6 118.3,419.4 119.9,419.6 121.5,419.8 123.1,419.8 124.7,419.8 126.3,419.9 127.9,420 129.5,420 131.1,419.7 132.7,420 134.3,419.9 135.9,419.9 137.5,420.3 139.1,419.9 140.7,420 142.3,420.4 143.9,420.1 145.5,420.1 147.1,420 148.7,420.4 150.3,420.2 151.9,420.4 153.5,420.3 155.1,420.5 156.7,420.4 158.3,420.3 159.9,420.3 161.5,421 163.1,420.5 164.7,420.9 166.3,421.2 167.9,420.6 169.5,420.8 171.1,421.1 172.7,420.9 174.3,421 175.9,421 177.5,421.2 179.1,421.4 180.7,421.5 182.3,421.4 183.9,421.5 185.5,421.6 187.1,421.8 188.7,421.8 190.3,422 191.9,421.6 193.5,422.1 195.1,422.3 196.7,422.4 198.3,422.3 199.9,422.6 201.5,422.7 203.1,422.8 204.7,422.7 206.3,422.6 207.9,423.4 209.5,423.2 211.1,423.4 212.7,423.1 214.3,423.6 215.9,423.6 217.5,423.7 219.1,424.2 220.7,423.7 222.3,424.1 223.9,424.3 225.5,424.7 227.1,424.6 228.7,424.6 230.3,424.7 231.9,424.2 233.5,425.1 235.1,425.1 236.7,425.4 238.3,425.1 239.9,425.3 241.5,425.6 243.1,425.7 244.7,425.7 246.3,425.9 247.9,425.9 249.5,425.9 251.1,426.3 252.7,425.9 254.3,426.1 255.9,426.1 257.5,426.7 259.1,426.5 260.7,426.9 262.3,427 263.9,426.9 265.5,426.9 267.1,427.1 268.7,427.3 270.3,427.1 271.9,427.6 273.5,427.3 275.1,427.5 276.7,427.7 278.3,427.6 279.9,428 281.5,427.8 283.1,428.2 284.7,428.1 286.3,428.3 287.9,428.6 289.5,428.2 291.1,428.2 292.7,428.8 294.3,428.8 295.9,428.8 297.5,428.7 299.1,428.9 300.7,428.6 302.3,428.9 303.9,429 305.5,429.2 307.1,428.8 308.7,429.3 310.3,429.5 311.9,429 313.5,429.2 315.1,428.8 316.7,429.7 318.3,429.5 319.9,429.4 321.5,429.5 323.1,429.6 324.7,429.8 326.3,429.4 327.9,429.3 329.5,429.1 331.1,429.6 332.7,429.4 334.3,428.7 335.9,428.8 337.5,429.9 339.1,430.9 340.7,430.9 342.3,431.2 343.9,431.5 345.5,431.6 347.1,431.5 348.7,431.5 350.3,431.7 351.9,431.4 353.5,431.8 355.1,431.7 356.7,431.8 358.3,432 359.9,431.9 361.5,431.6 363.1,431.7 364.7,431.7 366.3,431.6 367.9,431.7 369.5,431.3 371.1,431.3 372.7,432.8 374.3,433.3 375.9,433.7 377.5,434 379.1,433.8 380.7,434.1 382.3,434.3 383.9,434.4 385.5,434.5 387.1,434.7 388.7,434.2 390.3,434.6 391.9,434.6 393.5,434.6 395.1,434.7 396.7,434.9" fill="none" stroke="#CCE8BC" stroke-width="2.2" stroke-linejoin="round" stroke-linecap="butt" />
<polyline points="399.4,433.5 402.4,433.5 405.4,433.4 408.4,433.5 411.4,433.4 414.4,433.3 417.4,433.6 420.4,433.5 423.4,433.6 426.4,433.5 429.4,433.3 432.4,433.4 435.4,433.5 438.4,433.5 441.4,433.3 444.4,433.5 447.4,433.4 450.4,433.4 453.4,433.6 456.4,433.3 459.4,433.7 462.4,433.4 465.4,433.4 468.4,433.3 471.4,433.4 474.4,433.2 477.4,433.5 480.4,433.3 483.4,433.3 486.4,433.2 489.4,433.2 492.4,433.5 494.6,433.3" fill="none" stroke="#CCE8BC" stroke-width="2.9" stroke-linejoin="round" stroke-linecap="butt" />
<polyline points="500.6,432.9 501.9,432.9 503.1,432.7 504.4,432.8 505.6,433 506.9,432.7 508.1,432.7 509.4,432.6 510.6,432.6 511.9,432.7 513.1,432.7 514.4,432.4 515.6,432 516.9,430.7 518.1,427.5 519.4,424.5 520.6,423.6 521.9,425.5 523.1,427.6 524.4,429 525.6,430.7 526.9,431 528.1,431.7 529.4,431.8 530.6,432.3 531.9,432.2 533.1,432.4 534.4,432.4 535.6,432.5 536.9,432.4 538.1,432.5 539.4,432.5 540.6,432.5 541.9,432.5 543.1,432.5 544.4,432.2 545.6,432.5 546.9,432.5 548.1,432.5 549.4,432.3 550.6,432.5 551.9,432.2 553.1,432.4 554.4,432.3 555.6,432.2 556.9,432.4 558.1,432 559.4,431.9 560.6,431.8 561.9,432 563.1,431.8 564.4,431.9 565.6,431.9 566.9,431.6 568.1,431.6 569.4,431.6 570.6,431.2 571.9,431.5 573.1,431.7 574.4,431.4 575.6,431.7 576.9,431.5 578.1,431.4 579.4,431.3 580.6,431.1 581.9,431.2 583.1,431 584.4,431.1 585.6,430.9 586.9,431 588.1,430.7 589.4,430.9 590.6,430.3 591.9,430.3 593.1,430.4 594.4,430.4 595.6,429.8 596.9,430.3 598.1,429.8 599.4,429.9 600.6,429.5 601.9,429.7 603.1,429.6 604.4,429.5 605.6,429.2 606.9,428.9 608.1,429.1 609.4,428.9 610.6,429 611.9,428.5 613.1,428.6 614.4,428.9 615.6,428.2 616.9,428.8 618.1,428.9 619.4,428.8 620.6,427.9 621.9,429.2 623.1,429.6 624.4,429.8 625.6,430.7 626.9,429.9 628.1,431.4 629.4,432.6 630.6,432.2 631.9,433 633.1,433.3 634.4,432.5 635.6,434.3 636.9,434.6 638.1,436 639.4,435.7 640.6,438.2 641.9,437.7 643.1,438.2 644.4,439 645.6,440.6 646.9,442.3 648.1,442.6 649.4,443.2 650.6,441.4 651.9,442.4 653.1,442.6 654.4,442.9 655.6,442.7 656.9,441.9 658.1,442.3 659.4,443.4 660.6,441.7 661.9,441.4 663.1,441.9 664.4,441 665.6,441.2 666.9,439.4 668.1,438.5 669.4,437.5 670.6,434.9 671.9,435 673.1,433.7 674.4,432.2 675.6,433.5 676.9,431.9 678.1,433.5 679.4,432.8 680.6,432.3 681.9,432.6 683.1,432.1 684.4,432.9 685.6,432.5 686.9,432.6 688.1,433 689.4,433 690.6,433 691.9,433.3 693.1,433 694.4,433.5 695.6,433.4 696.9,433.8 698.1,434 699.4,434.7 700.6,435.1 701.9,435.8 703.1,436 704.4,435.7 705.6,435.7 706.9,435.8 708.1,435.9 709.4,435.7 710.6,435.9 711.9,435.9 713.1,435.9 714.4,435.7 715.6,435.8 716.9,435.4 718.1,435.6 719.4,435.6 720.6,435.6 721.9,435.8 723.1,435.8 724.4,436.1 725.6,436.1 726.9,436.2 728.1,436.3 729.4,436.4 730.6,436.6 731.9,436.7 733.1,437.1 734.4,437 735.6,437.2 736.9,437.4 738.1,437.2 739.4,437.2 740.6,436.6 741.9,436.3 743.1,436.1 744.4,435.4 745.6,435.2 746.9,434.6 748.1,434.3 749.4,433.7 750.6,433.2 751.9,432.2 753.1,431.8 754.4,431.3 755.6,430.7 756.9,430.7" fill="none" stroke="#CCE8BC" stroke-width="2.9" stroke-linejoin="round" stroke-linecap="butt" />
<polyline points="41.5,410.2 43.1,410.3 44.7,410.1 46.3,410.6 47.9,410.3 49.5,410.6 51.1,410.5 52.7,410.9 54.3,410.3 55.9,410.4 57.5,410.3 59.1,410.4 60.7,410.4 62.3,410.6 63.9,410.2 65.5,410.4 67.1,410.8 68.7,410.8 70.3,410.3 71.9,410.7 73.5,410.3 75.1,410.3 76.7,410.5 78.3,410.3 79.9,410.5 81.5,410.3 83.1,410.4 84.7,410.1 86.3,410.4 87.9,410.2 89.5,410.6 91.1,410.5 92.7,409.8 94.3,409.7 95.9,409.7 97.5,409.9 99.1,409.8 100.7,409.7 102.3,409.6 103.9,409.6 105.5,409.4 107.1,409.4 108.7,409.1 110.3,409.4 111.9,409.3 113.5,408.9 115.1,409 116.7,409.2 118.3,409.3 119.9,409 121.5,409.3 123.1,409.3 124.7,409 126.3,409.2 127.9,409.1 129.5,409.2 131.1,409.4 132.7,409.7 134.3,409.2 135.9,409.3 137.5,409.2 139.1,409.5 140.7,409.4 142.3,409.7 143.9,409.6 145.5,409.5 147.1,409.7 148.7,409.5 150.3,410.2 151.9,409.7 153.5,409.7 155.1,409.8 156.7,410.2 158.3,409.9 159.9,409.9 161.5,409.7 163.1,410 164.7,410.6 166.3,410.3 167.9,410.3 169.5,410.5 171.1,410.2 172.7,410.5 174.3,410.7 175.9,410.8 177.5,410.7 179.1,410.7 180.7,411.1 182.3,411 183.9,410.7 185.5,411.1 187.1,411 188.7,411.1 190.3,411.5 191.9,411.3 193.5,411.3 195.1,411.5 196.7,411.5 198.3,412 199.9,411.5 201.5,412.2 203.1,411.8 204.7,412.1 206.3,412.6 207.9,412.7 209.5,412.7 211.1,413 212.7,412.8 214.3,413 215.9,413.2 217.5,413 219.1,413.3 220.7,413.7 222.3,413.6 223.9,413.6 225.5,413.7 227.1,414.3 228.7,414.4 230.3,414.2 231.9,414.2 233.5,414.5 235.1,414.6 236.7,414.7 238.3,414.8 239.9,415 241.5,414.9 243.1,415 244.7,415.2 246.3,415.6 247.9,415.4 249.5,415.3 251.1,415.7 252.7,415.6 254.3,415.8 255.9,416 257.5,415.5 259.1,416.1 260.7,416.2 262.3,416.6 263.9,416 265.5,416.2 267.1,416.8 268.7,416.3 270.3,416.6 271.9,416.6 273.5,416.7 275.1,417 276.7,417.1 278.3,417.1 279.9,417.4 281.5,417.8 283.1,417.3 284.7,417.6 286.3,417.5 287.9,417.6 289.5,417.8 291.1,418.2 292.7,417.7 294.3,418.3 295.9,417.9 297.5,418.1 299.1,418.1 300.7,418.5 302.3,418.7 303.9,418.6 305.5,418.6 307.1,418.8 308.7,418.8 310.3,418.6 311.9,418.8 313.5,419 315.1,418.3 316.7,419 318.3,418.9 319.9,419.3 321.5,418.9 323.1,418.7 324.7,419 326.3,418.7 327.9,418.7 329.5,419 331.1,418.7 332.7,418.3 334.3,418.2 335.9,417.9 337.5,419.9 339.1,419.9 340.7,420.7 342.3,420.7 343.9,420.8 345.5,420.7 347.1,421.1 348.7,421.2 350.3,420.9 351.9,420.8 353.5,421.3 355.1,421.2 356.7,421.6 358.3,421.5 359.9,421.6 361.5,421.5 363.1,421.6 364.7,421.4 366.3,421.5 367.9,421.1 369.5,421.3 371.1,421.1 372.7,422.6 374.3,423.1 375.9,423.6 377.5,423.6 379.1,423.8 380.7,423.8 382.3,424.1 383.9,424.1 385.5,424.2 387.1,424.3 388.7,424.4 390.3,424.5 391.9,424.6 393.5,424.8 395.1,424.9 396.7,425" fill="none" stroke="#8CE79A" stroke-width="2.2" stroke-linejoin="round" stroke-linecap="butt" />
<polyline points="399.4,422.6 402.4,422.7 405.4,422.5 408.4,422.6 411.4,422.5 414.4,422.6 417.4,422.5 420.4,422.5 423.4,422.6 426.4,422.7 429.4,422.7 432.4,422.5 435.4,422.5 438.4,422.7 441.4,422.6 444.4,422.6 447.4,422.5 450.4,422.5 453.4,422.5 456.4,422.5 459.4,422.5 462.4,422.4 465.4,422.5 468.4,422.6 471.4,422.4 474.4,422.4 477.4,422.4 480.4,422.3 483.4,422.6 486.4,422.4 489.4,422.3 492.4,422.6 494.6,422.4" fill="none" stroke="#8CE79A" stroke-width="2.9" stroke-linejoin="round" stroke-linecap="butt" />
<polyline points="500.6,421.8 501.9,421.9 503.1,422.1 504.4,421.9 505.6,421.8 506.9,421.8 508.1,421.9 509.4,421.8 510.6,421.7 511.9,421.7 513.1,421.7 514.4,421.8 515.6,421.1 516.9,419.6 518.1,416.9 519.4,414.2 520.6,413.2 521.9,415 523.1,416.6 524.4,418.6 525.6,419.3 526.9,420 528.1,420.9 529.4,421.4 530.6,421.2 531.9,421.3 533.1,421.2 534.4,421.5 535.6,421.5 536.9,421.6 538.1,421.5 539.4,421.9 540.6,421.7 541.9,421.6 543.1,421.5 544.4,421.4 545.6,421.7 546.9,421.4 548.1,421.3 549.4,421.8 550.6,421.4 551.9,421.6 553.1,421.5 554.4,421.4 555.6,421.1 556.9,421.3 558.1,421.5 559.4,421.2 560.6,421.4 561.9,421 563.1,421.2 564.4,420.7 565.6,421.2 566.9,420.8 568.1,420.8 569.4,420.8 570.6,420.7 571.9,420.7 573.1,420.3 574.4,420.5 575.6,420.6 576.9,420.4 578.1,420.3 579.4,420.2 580.6,420.3 581.9,420.1 583.1,420.3 584.4,420.2 585.6,420.2 586.9,419.9 588.1,419.5 589.4,419.8 590.6,419.5 591.9,419.5 593.1,419.4 594.4,419.5 595.6,419.2 596.9,419.4 598.1,419.3 599.4,419.2 600.6,419.1 601.9,419.1 603.1,418.3 604.4,418.6 605.6,418 606.9,418.5 608.1,418.1 609.4,417.9 610.6,418.5 611.9,418 613.1,418 614.4,418.8 615.6,417.5 616.9,418 618.1,418.3 619.4,418.1 620.6,418 621.9,418.3 623.1,418.6 624.4,418.8 625.6,418.1 626.9,419.7 628.1,420.9 629.4,420.5 630.6,420.8 631.9,420.9 633.1,421.8 634.4,422.5 635.6,422.9 636.9,422.7 638.1,424.8 639.4,425.7 640.6,426.8 641.9,427 643.1,426.7 644.4,427 645.6,430.4 646.9,429.6 648.1,430.1 649.4,430.7 650.6,431.4 651.9,431.5 653.1,431.9 654.4,431.1 655.6,432.4 656.9,432.8 658.1,431.5 659.4,431 660.6,431 661.9,430.9 663.1,431 664.4,430 665.6,428.9 666.9,429 668.1,427.4 669.4,425.9 670.6,424.3 671.9,423.3 673.1,422.2 674.4,423.4 675.6,421.8 676.9,421.2 678.1,421.9 679.4,422.5 680.6,421.2 681.9,421.7 683.1,420.8 684.4,421.8 685.6,421.8 686.9,421.9 688.1,421.3 689.4,421.9 690.6,422.2 691.9,422 693.1,422.6 694.4,422.6 695.6,422.7 696.9,423 698.1,423.3 699.4,423.8 700.6,424.2 701.9,424.9 703.1,425.2 704.4,425.3 705.6,425 706.9,425.4 708.1,425 709.4,425 710.6,425.1 711.9,425.1 713.1,424.5 714.4,424.7 715.6,424.6 716.9,424.8 718.1,424.6 719.4,424.8 720.6,424.7 721.9,424.4 723.1,424.8 724.4,424.7 725.6,425.1 726.9,425.4 728.1,425.8 729.4,425.6 730.6,426 731.9,425.8 733.1,426 734.4,426.3 735.6,426.1 736.9,426.2 738.1,426.2 739.4,426.2 740.6,426 741.9,425.3 743.1,425.1 744.4,424.5 745.6,424.5 746.9,423.8 748.1,423.6 749.4,422.9 750.6,422 751.9,421.5 753.1,420.8 754.4,420.5 755.6,419.9 756.9,419.6" fill="none" stroke="#8CE79A" stroke-width="2.9" stroke-linejoin="round" stroke-linecap="butt" />
<polyline points="41.5,395.5 43.1,395.6 44.7,395.8 46.3,395.6 47.9,395.8 49.5,395.8 51.1,396 52.7,395.8 54.3,395.9 55.9,395.7 57.5,395.8 59.1,396.3 60.7,395.8 62.3,395.9 63.9,395.8 65.5,395.8 67.1,396.2 68.7,395.9 70.3,395.7 71.9,395.8 73.5,396.1 75.1,395.9 76.7,396.1 78.3,395.8 79.9,395.8 81.5,395.9 83.1,395.7 84.7,395.9 86.3,395.7 87.9,395.9 89.5,395.7 91.1,395.7 92.7,395.7 94.3,395.5 95.9,395.5 97.5,395.4 99.1,395.3 100.7,395.3 102.3,395.1 103.9,395 105.5,394.9 107.1,395.2 108.7,395.3 110.3,395 111.9,394.9 113.5,394.9 115.1,395.1 116.7,394.7 118.3,394.8 119.9,395.1 121.5,394.8 123.1,395.1 124.7,395.2 126.3,395.1 127.9,394.7 129.5,395.2 131.1,395.2 132.7,395.2 134.3,395.3 135.9,395 137.5,395.1 139.1,395.5 140.7,395.5 142.3,395.5 143.9,395.7 145.5,395.9 147.1,395.9 148.7,395.4 150.3,395.2 151.9,395.2 153.5,395.7 155.1,395.9 156.7,396.1 158.3,395.7 159.9,396 161.5,395.7 163.1,396.1 164.7,396.1 166.3,396.1 167.9,396.4 169.5,396.4 171.1,396.3 172.7,396.3 174.3,396.3 175.9,396.4 177.5,396.7 179.1,396.6 180.7,397 182.3,396.8 183.9,396.9 185.5,397.1 187.1,397 188.7,397.1 190.3,397.3 191.9,397.3 193.5,397.7 195.1,397.3 196.7,397.4 198.3,397.6 199.9,397.7 201.5,398.3 203.1,398 204.7,398.1 206.3,397.9 207.9,398.4 209.5,398.3 211.1,398.8 212.7,398.7 214.3,398.7 215.9,399 217.5,399.1 219.1,399.3 220.7,399.2 222.3,399.2 223.9,399.5 225.5,399.5 227.1,400.3 228.7,399.9 230.3,400 231.9,400.2 233.5,400 235.1,400.3 236.7,400.6 238.3,400.6 239.9,400.4 241.5,400.6 243.1,400.5 244.7,400.5 246.3,400.8 247.9,401.2 249.5,401.1 251.1,401.1 252.7,401.2 254.3,401.1 255.9,401.5 257.5,401.5 259.1,401.9 260.7,401.7 262.3,401.6 263.9,402 265.5,402.1 267.1,402 268.7,402.2 270.3,402.3 271.9,402.3 273.5,402.4 275.1,402.4 276.7,402.5 278.3,402.6 279.9,402.6 281.5,402.9 283.1,403.1 284.7,403.2 286.3,403.2 287.9,403.3 289.5,403.4 291.1,403.4 292.7,403.5 294.3,403.2 295.9,403.4 297.5,403.5 299.1,403.6 300.7,403.4 302.3,403.8 303.9,403.7 305.5,403.6 307.1,403.9 308.7,403.6 310.3,404.1 311.9,404.2 313.5,404.1 315.1,404.1 316.7,404.3 318.3,404.3 319.9,404.2 321.5,404.6 323.1,404.4 324.7,404.6 326.3,404 327.9,404.4 329.5,404.3 331.1,404.2 332.7,404.1 334.3,403.8 335.9,403.5 337.5,405.3 339.1,405.8 340.7,406.2 342.3,406.4 343.9,406.5 345.5,406.6 347.1,406.4 348.7,406.5 350.3,406.6 351.9,406.9 353.5,406.9 355.1,406.9 356.7,407.2 358.3,407.3 359.9,407 361.5,407.3 363.1,407.1 364.7,407.2 366.3,407.3 367.9,407.1 369.5,407 371.1,406.9 372.7,408.5 374.3,409.5 375.9,409.2 377.5,409.8 379.1,409.9 380.7,409.8 382.3,410.3 383.9,410.5 385.5,410 387.1,410.3 388.7,410.6 390.3,410.3 391.9,410.6 393.5,410.9 395.1,410.9 396.7,410.7" fill="none" stroke="#F0D3B2" stroke-width="2.2" stroke-linejoin="round" stroke-linecap="butt" />
<polyline points="399.4,409.5 402.4,409.7 405.4,409.5 408.4,409.5 411.4,409.5 414.4,409.6 417.4,409.5 420.4,409.4 423.4,409.7 426.4,409.6 429.4,409.3 432.4,409.4 435.4,409.4 438.4,409.7 441.4,409.6 444.4,409.7 447.4,409.6 450.4,409.6 453.4,409.5 456.4,409.4 459.4,409.6 462.4,409.6 465.4,409.5 468.4,409.4 471.4,409.4 474.4,409.4 477.4,409.6 480.4,409.6 483.4,409.3 486.4,409.4 489.4,409.3 492.4,409.3 494.6,409.4" fill="none" stroke="#F0D3B2" stroke-width="2.9" stroke-linejoin="round" stroke-linecap="butt" />
<polyline points="500.6,408.7 501.9,408.9 503.1,408.9 504.4,409 505.6,408.8 506.9,408.8 508.1,408.9 509.4,408.9 510.6,409 511.9,408.9 513.1,408.8 514.4,409 515.6,408.2 516.9,407 518.1,404.2 519.4,401.4 520.6,401.2 521.9,402.4 523.1,403.9 524.4,405.6 525.6,406.6 526.9,407.7 528.1,407.9 529.4,408 530.6,408.5 531.9,408.3 533.1,408.3 534.4,408.5 535.6,408.5 536.9,408.9 538.1,408.3 539.4,408.9 540.6,408.8 541.9,408.9 543.1,408.5 544.4,408.7 545.6,408.3 546.9,408.7 548.1,408.8 549.4,408.2 550.6,408.5 551.9,408.3 553.1,408.7 554.4,408.5 555.6,408.3 556.9,408.4 558.1,408.1 559.4,407.9 560.6,408 561.9,408.1 563.1,407.9 564.4,407.8 565.6,407.8 566.9,407.9 568.1,407.8 569.4,407.4 570.6,407.9 571.9,407.9 573.1,407.7 574.4,407.4 575.6,407.4 576.9,407.5 578.1,407.5 579.4,406.9 580.6,407.3 581.9,407.2 583.1,407.1 584.4,406.9 585.6,406.9 586.9,407.4 588.1,406.7 589.4,407.1 590.6,406.4 591.9,406.6 593.1,406.2 594.4,406.9 595.6,406.2 596.9,406.3 598.1,406.5 599.4,406.3 600.6,406 601.9,405.3 603.1,405.7 604.4,405.4 605.6,405.5 606.9,405.2 608.1,405.8 609.4,405 610.6,404.4 611.9,405.2 613.1,405.1 614.4,404.4 615.6,405.3 616.9,405.1 618.1,404.1 619.4,404.9 620.6,405.2 621.9,405.6 623.1,405.4 624.4,405.7 625.6,406.1 626.9,406.3 628.1,406.5 629.4,407.4 630.6,408.4 631.9,407.5 633.1,409.3 634.4,410.3 635.6,410.3 636.9,411.2 638.1,413.1 639.4,413 640.6,413.1 641.9,413.8 643.1,415.4 644.4,414.6 645.6,416.2 646.9,416.3 648.1,418.1 649.4,417.7 650.6,418.4 651.9,417.4 653.1,418.3 654.4,418.7 655.6,418.6 656.9,418.1 658.1,419.3 659.4,417.9 660.6,417.8 661.9,417.2 663.1,416.7 664.4,417.9 665.6,416.5 666.9,416.1 668.1,414.3 669.4,414.7 670.6,412 671.9,409.7 673.1,409.2 674.4,409.2 675.6,409.4 676.9,409.4 678.1,409.2 679.4,409.2 680.6,408.4 681.9,409.1 683.1,408.8 684.4,408.9 685.6,408.5 686.9,409.1 688.1,408.4 689.4,409.1 690.6,409 691.9,408.5 693.1,409.6 694.4,409.7 695.6,409.8 696.9,410.2 698.1,410.5 699.4,410.8 700.6,411.2 701.9,411.8 703.1,411.9 704.4,411.9 705.6,412 706.9,412.2 708.1,411.9 709.4,412 710.6,412 711.9,411.9 713.1,411.9 714.4,411.9 715.6,411.8 716.9,411.8 718.1,411.9 719.4,411.8 720.6,411.9 721.9,411.8 723.1,411.8 724.4,412.2 725.6,412.2 726.9,412.4 728.1,412.4 729.4,412.4 730.6,412.7 731.9,413 733.1,413.1 734.4,413.2 735.6,413.1 736.9,413.4 738.1,413.1 739.4,413.2 740.6,413 741.9,412.6 743.1,412.2 744.4,411.4 745.6,411.6 746.9,410.8 748.1,410.3 749.4,410 750.6,409.1 751.9,408.4 753.1,408 754.4,407.4 755.6,406.7 756.9,406.5" fill="none" stroke="#F0D3B2" stroke-width="2.9" stroke-linejoin="round" stroke-linecap="butt" />
<polyline points="41.5,386 43.1,385.6 44.7,385.8 46.3,385.8 47.9,385.9 49.5,385.9 51.1,385.8 52.7,386 54.3,385.9 55.9,386.1 57.5,386.2 59.1,386 60.7,386.1 62.3,385.9 63.9,386.4 65.5,386.2 67.1,386.1 68.7,386.1 70.3,385.9 71.9,386.2 73.5,385.9 75.1,385.7 76.7,385.8 78.3,386 79.9,386.1 81.5,385.8 83.1,386.2 84.7,386.1 86.3,386.1 87.9,385.5 89.5,385.8 91.1,385.8 92.7,385.9 94.3,385.7 95.9,385.8 97.5,385.6 99.1,385.2 100.7,385.8 102.3,385.4 103.9,385.2 105.5,385.2 107.1,385.4 108.7,385.5 110.3,385.4 111.9,385.6 113.5,385.2 115.1,385.1 116.7,385.3 118.3,384.9 119.9,385.7 121.5,385.6 123.1,385.7 124.7,385.2 126.3,385.6 127.9,385.6 129.5,385.6 131.1,385.7 132.7,385.7 134.3,385.9 135.9,385.7 137.5,385.8 139.1,385.7 140.7,386 142.3,386.1 143.9,386.4 145.5,386.1 147.1,386.3 148.7,386.1 150.3,386.1 151.9,386.5 153.5,386.7 155.1,386.4 156.7,386.6 158.3,386.7 159.9,386.7 161.5,386.8 163.1,386.8 164.7,387.1 166.3,387 167.9,386.8 169.5,387 171.1,387 172.7,387.2 174.3,387.2 175.9,387.4 177.5,387.4 179.1,387.4 180.7,387.6 182.3,387.7 183.9,388 185.5,387.6 187.1,387.6 188.7,388 190.3,388.1 191.9,388.2 193.5,388.4 195.1,388.4 196.7,388.3 198.3,388.2 199.9,388.4 201.5,388.7 203.1,388.9 204.7,388.8 206.3,389 207.9,389.2 209.5,389.3 211.1,388.9 212.7,389.3 214.3,389.4 215.9,389.8 217.5,389.3 219.1,389.6 220.7,390 222.3,389.9 223.9,390.2 225.5,390.3 227.1,390.3 228.7,390.5 230.3,390.5 231.9,390.6 233.5,390.9 235.1,391 236.7,391 238.3,391.3 239.9,391.5 241.5,391.4 243.1,391.7 244.7,391.3 246.3,391.7 247.9,391.7 249.5,391.8 251.1,392.3 252.7,391.9 254.3,392.3 255.9,392.3 257.5,391.8 259.1,392.4 260.7,392.2 262.3,392.7 263.9,392.5 265.5,392.7 267.1,392.6 268.7,392.8 270.3,392.8 271.9,392.7 273.5,393.2 275.1,393.2 276.7,393.3 278.3,393.4 279.9,393.5 281.5,393.5 283.1,393.5 284.7,393.4 286.3,393.8 287.9,394.2 289.5,394.2 291.1,393.9 292.7,394.4 294.3,394.1 295.9,393.9 297.5,394.1 299.1,394.3 300.7,394.3 302.3,394.4 303.9,394.6 305.5,394.6 307.1,394.5 308.7,394.9 310.3,394.7 311.9,394.6 313.5,394.5 315.1,394.9 316.7,394.7 318.3,395.2 319.9,395.2 321.5,395.1 323.1,395.3 324.7,395.2 326.3,395.1 327.9,394.7 329.5,395.2 331.1,394.6 332.7,394.7 334.3,394.6 335.9,394.2 337.5,396.3 339.1,396.5 340.7,396.8 342.3,396.8 343.9,397.3 345.5,397 347.1,396.9 348.7,397.2 350.3,397.5 351.9,397.6 353.5,397.9 355.1,397.6 356.7,397.8 358.3,398 359.9,397.9 361.5,398.2 363.1,397.9 364.7,397.9 366.3,397.6 367.9,397.6 369.5,397.8 371.1,397.5 372.7,399.1 374.3,399.6 375.9,400 377.5,400.2 379.1,400.2 380.7,400.7 382.3,400.5 383.9,400.7 385.5,401 387.1,400.9 388.7,401 390.3,400.9 391.9,400.8 393.5,401.3 395.1,401.1 396.7,401.5" fill="none" stroke="#ECB07C" stroke-width="2.2" stroke-linejoin="round" stroke-linecap="butt" />
<polyline points="399.4,399.6 402.4,399.5 405.4,399.6 408.4,399.5 411.4,399.6 414.4,399.2 417.4,399.4 420.4,399.5 423.4,399.5 426.4,399.3 429.4,399.5 432.4,399.5 435.4,399.6 438.4,399.5 441.4,399.3 444.4,399.5 447.4,399.6 450.4,399.6 453.4,399.6 456.4,399.6 459.4,399.4 462.4,399.4 465.4,399.7 468.4,399.4 471.4,399.5 474.4,399.4 477.4,399.6 480.4,399.4 483.4,399.4 486.4,399.5 489.4,399.6 492.4,399.4 494.6,399.4" fill="none" stroke="#ECB07C" stroke-width="2.9" stroke-linejoin="round" stroke-linecap="butt" />
<polyline points="500.6,398.9 501.9,398.9 503.1,398.8 504.4,399 505.6,398.8 506.9,399 508.1,398.8 509.4,398.8 510.6,398.9 511.9,399 513.1,398.6 514.4,398.6 515.6,398.1 516.9,396.8 518.1,394.6 519.4,392 520.6,391.3 521.9,392.7 523.1,394.5 524.4,395.7 525.6,396.7 526.9,397.7 528.1,398 529.4,398.4 530.6,398.1 531.9,398.2 533.1,398.4 534.4,398.7 535.6,398.7 536.9,398.6 538.1,398.7 539.4,398.7 540.6,398.7 541.9,398.7 543.1,398.5 544.4,398.5 545.6,398.8 546.9,398.5 548.1,398.6 549.4,398.6 550.6,398.3 551.9,398.4 553.1,398.3 554.4,398.4 555.6,398.2 556.9,398.2 558.1,398.3 559.4,398 560.6,398 561.9,397.8 563.1,398.1 564.4,397.8 565.6,397.9 566.9,397.9 568.1,397.7 569.4,397.9 570.6,397.6 571.9,397.6 573.1,397.8 574.4,397.7 575.6,397.5 576.9,397.4 578.1,397.4 579.4,397.5 580.6,397.2 581.9,397.3 583.1,397.2 584.4,397 585.6,396.9 586.9,396.9 588.1,396.9 589.4,396.8 590.6,396.8 591.9,396.8 593.1,396.7 594.4,396.1 595.6,396.4 596.9,396.1 598.1,396.2 599.4,396.3 600.6,395.6 601.9,395.3 603.1,395.7 604.4,396.1 605.6,395.3 606.9,395 608.1,395.1 609.4,394.8 610.6,394.9 611.9,394.4 613.1,394.9 614.4,395.3 615.6,394.8 616.9,394.9 618.1,395.5 619.4,394.5 620.6,395 621.9,394.7 623.1,395.9 624.4,396.3 625.6,396.8 626.9,396 628.1,396 629.4,396.8 630.6,397 631.9,399.1 633.1,399.7 634.4,400.8 635.6,400.4 636.9,400.6 638.1,401.6 639.4,402.5 640.6,402.8 641.9,404.9 643.1,405.2 644.4,406.3 645.6,406.3 646.9,407.1 648.1,407.4 649.4,408 650.6,407.3 651.9,409.2 653.1,408.6 654.4,408.3 655.6,408.5 656.9,409.4 658.1,408.7 659.4,408.4 660.6,407.5 661.9,408.2 663.1,408.3 664.4,406.6 665.6,406.7 666.9,405.9 668.1,404.7 669.4,403.3 670.6,402.3 671.9,400.7 673.1,399.8 674.4,399.6 675.6,398.6 676.9,399.3 678.1,399.3 679.4,398 680.6,399.2 681.9,398.8 683.1,399.1 684.4,398.7 685.6,398.7 686.9,398.6 688.1,399 689.4,398.5 690.6,399 691.9,398.8 693.1,399 694.4,399.4 695.6,399.8 696.9,399.7 698.1,400.4 699.4,400.8 700.6,401.3 701.9,401.6 703.1,402.2 704.4,401.9 705.6,401.9 706.9,402 708.1,401.9 709.4,401.6 710.6,402 711.9,401.8 713.1,401.8 714.4,401.7 715.6,401.6 716.9,401.7 718.1,401.7 719.4,401.5 720.6,401.8 721.9,401.4 723.1,401.9 724.4,402 725.6,402 726.9,402.2 728.1,402.2 729.4,402.6 730.6,402.7 731.9,402.9 733.1,403.2 734.4,403.4 735.6,403.4 736.9,403.2 738.1,403.3 739.4,403.2 740.6,402.9 741.9,402.7 743.1,402.3 744.4,401.9 745.6,401.5 746.9,401 748.1,400.4 749.4,399.6 750.6,399.2 751.9,398.8 753.1,397.9 754.4,397.4 755.6,396.7 756.9,397.1" fill="none" stroke="#ECB07C" stroke-width="2.9" stroke-linejoin="round" stroke-linecap="butt" />
</g>
<rect x="242.5" y="303.4" width="95" height="41" fill="#fff" stroke="#555" stroke-width="1.0"/>
<text x="290" y="323.3" font-size="17.4" text-anchor="middle" fill="#F0505C" textLength="86" lengthAdjust="spacingAndGlyphs">CH<tspan font-size="10.8" dy="3.8">3</tspan><tspan dy="-3.8"> &amp; CH</tspan><tspan font-size="10.8" dy="3.8">2</tspan></text>
<text x="290.5" y="339.6" font-size="10.4" text-anchor="middle" textLength="66" lengthAdjust="spacingAndGlyphs">(2933 &amp; 2853)</text>
<path d="M271.6 345.9 L271.6 368 L337.5 368" fill="none" stroke="#606060" stroke-width="1.0" stroke-dasharray="4.4 3.4"/><polygon points="271.6,345.9 269.9,350.1 273.3,350.1" fill="#606060"/>
<line x1="316.9" y1="368" x2="316.9" y2="490" stroke="#606060" stroke-width="1.0" stroke-dasharray="4.4 3.4"/>
<line x1="337.5" y1="368" x2="337.5" y2="490" stroke="#606060" stroke-width="1.0" stroke-dasharray="4.4 3.4"/>
<path d="M307.3 345.9 L307.3 364.3 L372.2 364.3 L372.2 493.3" fill="none" stroke="#606060" stroke-width="1.0" stroke-dasharray="4.4 3.4"/><polygon points="307.3,345.9 305.6,350.1 309,350.1" fill="#606060"/>
<text x="383" y="317.6" font-size="17" text-anchor="end" textLength="33.5" lengthAdjust="spacingAndGlyphs">0.001</text>
<line x1="391.1" y1="303.4" x2="391.1" y2="323.3" stroke="#000" stroke-width="2.8" />
<line x1="405.4" y1="303.4" x2="405.4" y2="323.3" stroke="#000" stroke-width="2.8" />
<text x="411.7" y="318.6" font-size="17" textLength="34" lengthAdjust="spacingAndGlyphs">0.005</text>
<text x="508.7" y="339.6" font-size="17" text-anchor="middle"><tspan font-style="italic">v</tspan>-CO<tspan font-size="10.5" dy="-6.1">*</tspan></text>
<text x="511.2" y="361.7" font-size="17.4" text-anchor="middle" fill="#F0505C" textLength="132" lengthAdjust="spacingAndGlyphs">(High CO affinity)</text>
<path d="M520.7 371.8 L520.7 386.9" fill="none" stroke="#F0505C" stroke-width="1.0" stroke-dasharray="4.4 3.4"/><polygon points="520.7,371.8 519,376 522.4,376" fill="#F0505C"/>
<rect x="508.7" y="386.9" width="25.1" height="111.4" fill="none" stroke="#F0505C" stroke-width="1.0" stroke-dasharray="4.4 3.4"/>
<rect x="592.7" y="304.6" width="89" height="49.8" fill="#fff" stroke="#555" stroke-width="1.0"/>
<text x="637.2" y="325.3" font-size="18" text-anchor="middle">CHO<tspan font-size="11.2" dy="-6.5">*</tspan></text>
<text x="637.2" y="347.9" font-size="18" text-anchor="middle" fill="#F0505C">CH<tspan font-size="11.2" dy="4">2</tspan><tspan dy="-4">*</tspan></text>
<path d="M637.2 355.5 L637.2 371 L615.5 371 L615.5 388.2" fill="none" stroke="#606060" stroke-width="1.0" stroke-dasharray="4.4 3.4"/><polygon points="637.2,355.5 635.5,359.7 638.9,359.7" fill="#606060"/>
<rect x="589.9" y="388.2" width="52.1" height="64.3" fill="none" stroke="#606060" stroke-width="1.0" stroke-dasharray="4.4 3.4"/>
<path d="M669.6 355.5 L669.6 371 L686.7 371 L686.7 388.2" fill="none" stroke="#606060" stroke-width="1.0" stroke-dasharray="4.4 3.4"/><polygon points="669.6,355.5 667.9,359.7 671.3,359.7" fill="#606060"/>
<rect x="673.6" y="388.2" width="26.2" height="64.3" fill="none" stroke="#606060" stroke-width="1.0" stroke-dasharray="4.4 3.4"/>
<line x1="642" y1="452.5" x2="673.6" y2="452.5" stroke="#606060" stroke-width="1.0" stroke-dasharray="4.4 3.4"/>
<path d="M683 329.8 L727 329.8 L727 388.2" fill="none" stroke="#606060" stroke-width="1.0" stroke-dasharray="4.4 3.4"/><polygon points="683,329.8 687.2,331.5 687.2,328.1" fill="#606060"/>
<rect x="703.8" y="388.2" width="47.1" height="115.1" fill="none" stroke="#606060" stroke-width="1.0" stroke-dasharray="4.4 3.4"/>
<rect x="615.5" y="456" width="83.3" height="47.3" fill="none" stroke="#606060" stroke-width="1.0" stroke-dasharray="4.4 3.4"/>
<path d="M586.6 495.5 L615.5 495.5" fill="none" stroke="#606060" stroke-width="1.0" stroke-dasharray="4.4 3.4"/><polygon points="586.6,495.5 590.8,497.2 590.8,493.8" fill="#606060"/>
<text x="550.9" y="501.3" font-size="18">H<tspan font-size="11.2" dy="4">2</tspan><tspan dy="-4">O</tspan></text>
<rect x="41.5" y="298.9" width="713.1" height="210.5" fill="none" stroke="#000" stroke-width="1.7"/>
<line x1="397.9" y1="298.9" x2="397.9" y2="509.4" stroke="#000" stroke-width="2.0" />
<rect x="494.2" y="507.9" width="6.8" height="3" fill="#fff"/>
<line x1="491.4" y1="513.6" x2="497.4" y2="505" stroke="#000" stroke-width="1.3" />
<line x1="497.9" y1="513.6" x2="503.9" y2="505" stroke="#000" stroke-width="1.3" />
<line x1="41.5" y1="509.4" x2="41.5" y2="514" stroke="#000" stroke-width="1.3" />
<text x="40.6" y="538.2" font-size="21.8" text-anchor="middle" transform="rotate(-24 40.6 530.4)" textLength="46.5" lengthAdjust="spacingAndGlyphs">3500</text>
<line x1="143.3" y1="509.4" x2="143.3" y2="514" stroke="#000" stroke-width="1.3" />
<text x="142.4" y="538.2" font-size="21.8" text-anchor="middle" transform="rotate(-24 142.4 530.4)" textLength="46.5" lengthAdjust="spacingAndGlyphs">3300</text>
<line x1="245.2" y1="509.4" x2="245.2" y2="514" stroke="#000" stroke-width="1.3" />
<text x="244.3" y="538.2" font-size="21.8" text-anchor="middle" transform="rotate(-24 244.3 530.4)" textLength="46.5" lengthAdjust="spacingAndGlyphs">3100</text>
<line x1="347" y1="509.4" x2="347" y2="514" stroke="#000" stroke-width="1.3" />
<text x="346.1" y="538.2" font-size="21.8" text-anchor="middle" transform="rotate(-24 346.1 530.4)" textLength="46.5" lengthAdjust="spacingAndGlyphs">2900</text>
<line x1="92.4" y1="509.4" x2="92.4" y2="512" stroke="#000" stroke-width="1.3" />
<line x1="194.2" y1="509.4" x2="194.2" y2="512" stroke="#000" stroke-width="1.3" />
<line x1="296.1" y1="509.4" x2="296.1" y2="512" stroke="#000" stroke-width="1.3" />
<line x1="397.9" y1="509.4" x2="397.9" y2="514" stroke="#000" stroke-width="1.3" />
<text x="397" y="538.2" font-size="21.8" text-anchor="middle" transform="rotate(-24 397 530.4)" textLength="46.5" lengthAdjust="spacingAndGlyphs">2800</text>
<line x1="447" y1="509.4" x2="447" y2="514" stroke="#000" stroke-width="1.3" />
<text x="446.1" y="538.2" font-size="21.8" text-anchor="middle" transform="rotate(-24 446.1 530.4)" textLength="46.5" lengthAdjust="spacingAndGlyphs">2600</text>
<line x1="422.4" y1="509.4" x2="422.4" y2="512" stroke="#000" stroke-width="1.3" />
<line x1="471.5" y1="509.4" x2="471.5" y2="512" stroke="#000" stroke-width="1.3" />
<line x1="512.6" y1="509.4" x2="512.6" y2="514" stroke="#000" stroke-width="1.3" />
<text x="509.2" y="538.2" font-size="21.8" text-anchor="middle" transform="rotate(-24 509.2 530.4)" textLength="46.5" lengthAdjust="spacingAndGlyphs">2200</text>
<line x1="561" y1="509.4" x2="561" y2="514" stroke="#000" stroke-width="1.3" />
<text x="560.1" y="538.2" font-size="21.8" text-anchor="middle" transform="rotate(-24 560.1 530.4)" textLength="46.5" lengthAdjust="spacingAndGlyphs">2000</text>
<line x1="609.4" y1="509.4" x2="609.4" y2="514" stroke="#000" stroke-width="1.3" />
<text x="608.5" y="538.2" font-size="21.8" text-anchor="middle" transform="rotate(-24 608.5 530.4)" textLength="46.5" lengthAdjust="spacingAndGlyphs">1800</text>
<line x1="657.8" y1="509.4" x2="657.8" y2="514" stroke="#000" stroke-width="1.3" />
<text x="656.9" y="538.2" font-size="21.8" text-anchor="middle" transform="rotate(-24 656.9 530.4)" textLength="46.5" lengthAdjust="spacingAndGlyphs">1600</text>
<line x1="706.2" y1="509.4" x2="706.2" y2="514" stroke="#000" stroke-width="1.3" />
<text x="705.3" y="538.2" font-size="21.8" text-anchor="middle" transform="rotate(-24 705.3 530.4)" textLength="46.5" lengthAdjust="spacingAndGlyphs">1400</text>
<line x1="754.6" y1="509.4" x2="754.6" y2="514" stroke="#000" stroke-width="1.3" />
<text x="753.7" y="538.2" font-size="21.8" text-anchor="middle" transform="rotate(-24 753.7 530.4)" textLength="46.5" lengthAdjust="spacingAndGlyphs">1200</text>
<line x1="536.8" y1="509.4" x2="536.8" y2="512" stroke="#000" stroke-width="1.3" />
<line x1="585.2" y1="509.4" x2="585.2" y2="512" stroke="#000" stroke-width="1.3" />
<line x1="633.6" y1="509.4" x2="633.6" y2="512" stroke="#000" stroke-width="1.3" />
<line x1="682" y1="509.4" x2="682" y2="512" stroke="#000" stroke-width="1.3" />
<line x1="730.4" y1="509.4" x2="730.4" y2="512" stroke="#000" stroke-width="1.3" />
<text x="265.3" y="572" font-size="29.8" textLength="244.9" lengthAdjust="spacingAndGlyphs">Wavenumber (cm<tspan font-size="18.5" dy="-10.7">-1</tspan><tspan dy="10.7">)</tspan></text>
<text x="24.3" y="414.4" font-size="29.2" text-anchor="middle" transform="rotate(-90 24.3 414.4)" textLength="192.5" lengthAdjust="spacingAndGlyphs">K-M (arb. units)</text>
<text x="53.3" y="332.1" font-size="25.5">Ni-SAC</text>
<line x1="767" y1="334.1" x2="788.8" y2="334.1" stroke="#ECB07C" stroke-width="4.6" stroke-linecap="round"/>
<text x="795.6" y="340.8" font-size="19" textLength="50" lengthAdjust="spacingAndGlyphs">30 min</text>
<line x1="767" y1="356.7" x2="788.8" y2="356.7" stroke="#F0D3B2" stroke-width="4.6" stroke-linecap="round"/>
<text x="795.6" y="363.4" font-size="19" textLength="50" lengthAdjust="spacingAndGlyphs">20 min</text>
<line x1="767" y1="379.3" x2="788.8" y2="379.3" stroke="#8CE79A" stroke-width="4.6" stroke-linecap="round"/>
<text x="795.6" y="386" font-size="19" textLength="50" lengthAdjust="spacingAndGlyphs">12 min</text>
<line x1="767" y1="401.2" x2="788.8" y2="401.2" stroke="#CCE8BC" stroke-width="4.6" stroke-linecap="round"/>
<text x="795.6" y="407.9" font-size="19" textLength="50" lengthAdjust="spacingAndGlyphs">10 min</text>
<line x1="767" y1="423.4" x2="788.8" y2="423.4" stroke="#E48392" stroke-width="4.6" stroke-linecap="round"/>
<text x="795.6" y="430.1" font-size="19" textLength="41" lengthAdjust="spacingAndGlyphs">8 min</text>
<line x1="767" y1="446" x2="788.8" y2="446" stroke="#EEB8DA" stroke-width="4.6" stroke-linecap="round"/>
<text x="795.6" y="452.7" font-size="19" textLength="41" lengthAdjust="spacingAndGlyphs">6 min</text>
<line x1="767" y1="468.1" x2="788.8" y2="468.1" stroke="#76E0FA" stroke-width="4.6" stroke-linecap="round"/>
<text x="795.6" y="474.8" font-size="19" textLength="41" lengthAdjust="spacingAndGlyphs">4 min</text>
<line x1="767" y1="490.5" x2="788.8" y2="490.5" stroke="#B4E6F4" stroke-width="4.6" stroke-linecap="round"/>
<text x="795.6" y="497.2" font-size="19" textLength="41" lengthAdjust="spacingAndGlyphs">2 min</text>
<text x="6.3" y="309" font-size="34.5" font-weight="bold">b</text>
<clipPath id="clip33"><rect x="39.5" y="583.8" width="714.6" height="209.5"/></clipPath>
<g clip-path="url(#clip33)">
<polyline points="39.5,791.6 41.1,791.7 42.7,791.9 44.3,791.8 45.9,791.7 47.5,791.6 49.1,792.1 50.7,791.9 52.3,791.9 53.9,791.8 55.5,791.6 57.1,792.1 58.7,791.9 60.3,792 61.9,792.3 63.5,791.9 65.1,791.9 66.7,792 68.3,791.7 69.9,791.7 71.5,791.4 73.1,791.3 74.7,791 76.3,791.3 77.9,791.3 79.5,790.8 81.1,790.7 82.7,790.5 84.3,790.9 85.9,790.4 87.5,789.9 89.1,789.8 90.7,789.7 92.3,789 93.9,789 95.5,788.7 97.1,788.2 98.7,788.1 100.3,787.8 101.9,787.3 103.5,786.9 105.1,786.9 106.7,786.4 108.3,786.1 109.9,786 111.5,785.4 113.1,785 114.7,784.4 116.3,784.3 117.9,784 119.5,783.7 121.1,783.3 122.7,782.9 124.3,782.4 125.9,782 127.5,781.7 129.1,781.1 130.7,780.7 132.3,780.2 133.9,780 135.5,779.3 137.1,779.1 138.7,778.7 140.3,778.4 141.9,777.7 143.5,777.5 145.1,777.1 146.7,776.5 148.3,776.1 149.9,775.6 151.5,774.9 153.1,774.6 154.7,773.9 156.3,773.9 157.9,773 159.5,772.5 161.1,771.8 162.7,771.5 164.3,771.1 165.9,770.5 167.5,769.8 169.1,769.3 170.7,768.9 172.3,768.6 173.9,768 175.5,767.7 177.1,767.6 178.7,766.5 180.3,766.3 181.9,765.9 183.5,765.2 185.1,765.3 186.7,764.6 188.3,764.3 189.9,763.9 191.5,763.7 193.1,762.9 194.7,762.6 196.3,762.1 197.9,761.9 199.5,762.1 201.1,761.5 202.7,761.1 204.3,761.3 205.9,761.3 207.5,760.7 209.1,760.7 210.7,760.3 212.3,760 213.9,760.2 215.5,759.8 217.1,759.7 218.7,759.8 220.3,759.7 221.9,759.5 223.5,759.7 225.1,759.2 226.7,759.2 228.3,759.4 229.9,759.6 231.5,759.5 233.1,759.3 234.7,759.2 236.3,758.9 237.9,759.5 239.5,759.3 241.1,759.8 242.7,759.4 244.3,759.1 245.9,759.8 247.5,759.7 249.1,759.6 250.7,759.8 252.3,759.8 253.9,759.9 255.5,759.6 257.1,760 258.7,760.1 260.3,759.9 261.9,760.4 263.5,760.2 265.1,759.9 266.7,760.6 268.3,760.3 269.9,760.4 271.5,760.4 273.1,760.8 274.7,760.5 276.3,760.4 277.9,760.5 279.5,760.7 281.1,760.8 282.7,760.6 284.3,760.9 285.9,760.6 287.5,760.8 289.1,760.9 290.7,760.9 292.3,761 293.9,761 295.5,760.9 297.1,761.1 298.7,761.2 300.3,761.1 301.9,761.1 303.5,761.6 305.1,761.6 306.7,761.8 308.3,762.1 309.9,762.1 311.5,762.1 313.1,762.5 314.7,762.4 316.3,763 317.9,763 319.5,763 321.1,763.1 322.7,763.5 324.3,763.6 325.9,763.7 327.5,764.2 329.1,764.5 330.7,765.1 332.3,765.3 333.9,766 335.5,765.9 337.1,764.8 338.7,764.2 340.3,764 341.9,764.3 343.5,764 345.1,763.7 346.7,763.6 348.3,763.2 349.9,763.4 351.5,763.1 353.1,763.3 354.7,763.2 356.3,763.1 357.9,763.2 359.5,763.5 361.1,763.9 362.7,763.4 364.3,764 365.9,764.1 367.5,764.9 369.1,765.1 370.7,764.2 372.3,763 373.9,762 375.5,761.4 377.1,760.9 378.7,760.7 380.3,760.9 381.9,761 383.5,760.9 385.1,760.7 386.7,760.7 388.3,760.7 389.9,760.5 391.5,760.3 393.1,760.6" fill="none" stroke="#B4E6F4" stroke-width="2.2" stroke-linejoin="round" stroke-linecap="butt" />
<polyline points="397.1,765.4 400.1,765.5 403.1,765.4 406.1,765.4 409.1,765.5 412.1,765.5 415.1,765.6 418.1,765.3 421.1,765.4 424.1,765.4 427.1,765.6 430.1,765.2 433.1,765.5 436.1,765.3 439.1,765.3 442.1,765.5 445.1,765.5 448.1,765.1 451.1,765.3 454.1,765.4 457.1,765.4 460.1,765.5 463.1,765.3 466.1,765.4 469.1,765.2 472.1,765.5 475.1,765.4 478.1,765.5 481.1,765.3 484.1,765.6 487.1,765.3 490.1,765.6 492,765.4" fill="none" stroke="#B4E6F4" stroke-width="2.9" stroke-linejoin="round" stroke-linecap="butt" />
<polyline points="498.5,765.7 499.8,765.3 501,765.4 502.2,765.3 503.5,765.1 504.8,765.5 506,765.4 507.2,765.6 508.5,765.6 509.8,765.1 511,765.4 512.2,765.5 513.5,765.4 514.8,765 516,764.6 517.2,764.6 518.5,764.8 519.8,764.8 521,765.1 522.2,765.2 523.5,765.3 524.8,765.6 526,765.3 527.2,765.5 528.5,765.6 529.8,765.6 531,765.4 532.2,765.4 533.5,765.4 534.8,765.3 536,765.3 537.2,765.5 538.5,765.5 539.8,765.3 541,765.3 542.2,765.4 543.5,765.4 544.8,765.5 546,765.4 547.2,765.4 548.5,765.2 549.8,765.3 551,765.3 552.2,765.3 553.5,765.5 554.8,765.4 556,765.3 557.2,765.5 558.5,765.6 559.8,765.7 561,765.4 562.2,765.3 563.5,765.5 564.8,765.6 566,765.3 567.2,765.5 568.5,765.4 569.8,765.5 571,765.3 572.2,765.3 573.5,765.3 574.8,765.4 576,765.2 577.2,765.3 578.5,765.3 579.8,765.7 581,765.6 582.2,765.3 583.5,765.3 584.8,765.4 586,765.3 587.2,765.2 588.5,765.4 589.8,765.5 591,765.3 592.2,765.5 593.5,765.1 594.8,765 596,764.9 597.2,764.8 598.5,764.7 599.8,765.2 601,765 602.2,764.7 603.5,764.6 604.8,764.3 606,764.7 607.2,764.4 608.5,764.3 609.8,764.2 611,763.8 612.2,764 613.5,764.8 614.8,763.9 616,763.8 617.2,764.1 618.5,763.8 619.8,763.7 621,763.6 622.2,763.7 623.5,764.2 624.8,763.1 626,763.6 627.2,763.6 628.5,764.4 629.8,763.9 631,764.7 632.2,764.2 633.5,765.5 634.8,764.1 636,766.5 637.2,765 638.5,765.9 639.8,765.9 641,766.7 642.2,768.1 643.5,768.1 644.8,767.8 646,769 647.2,770.3 648.5,770.2 649.8,770.1 651,771 652.2,771.3 653.5,770.2 654.8,770.9 656,771.2 657.2,772.1 658.5,771.2 659.8,770.7 661,769.4 662.2,769.8 663.5,768.9 664.8,769.5 666,768.5 667.2,768.7 668.5,767.6 669.8,767.1 671,766.7 672.2,766.7 673.5,765.6 674.8,765.1 676,765.2 677.2,766.7 678.5,764.4 679.8,764.2 681,764.7 682.2,763.6 683.5,764.5 684.8,763.7 686,764 687.2,763.9 688.5,763.5 689.8,763.8 691,763.4 692.2,763.3 693.5,762.8 694.8,762.3 696,762.1 697.2,761.8 698.5,761.2 699.8,760.5 701,759.6 702.2,757.9 703.5,756.3 704.8,755.2 706,756.2 707.2,758.1 708.5,759.8 709.8,760.4 711,761 712.2,761.9 713.5,762.1 714.8,762.5 716,762.7 717.2,763.5 718.5,763.9 719.8,764.1 721,765 722.2,765.2 723.5,765.5 724.8,765.6 726,766.5 727.2,766.5 728.5,767 729.8,767.2 731,767.4 732.2,768 733.5,768.2 734.8,768.4 736,768.3 737.2,768.5 738.5,768.5 739.8,768.5 741,768.1 742.2,767.9 743.5,767.7 744.8,766.9 746,767 747.2,766.9 748.5,766.3 749.8,765.9 751,765.4 752.2,765 753.5,764.1 754.8,764 756,764" fill="none" stroke="#B4E6F4" stroke-width="2.9" stroke-linejoin="round" stroke-linecap="butt" />
<polyline points="39.5,784.3 41.1,784.7 42.7,784.4 44.3,784.6 45.9,784.7 47.5,784.9 49.1,784.4 50.7,784.4 52.3,784.4 53.9,784.8 55.5,784.6 57.1,784.9 58.7,785 60.3,785.1 61.9,784.6 63.5,784.8 65.1,784.7 66.7,784.2 68.3,784.6 69.9,784.6 71.5,784 73.1,784.3 74.7,784.1 76.3,783.9 77.9,783.5 79.5,783.4 81.1,783.8 82.7,783.4 84.3,783.1 85.9,783 87.5,782.4 89.1,782.4 90.7,781.9 92.3,781.2 93.9,781.2 95.5,781.2 97.1,780.9 98.7,780.5 100.3,780.1 101.9,779.8 103.5,779.2 105.1,779.1 106.7,779.3 108.3,778.4 109.9,778 111.5,778.1 113.1,777.3 114.7,776.9 116.3,776.6 117.9,776.2 119.5,775.6 121.1,775.4 122.7,774.9 124.3,774.3 125.9,774.2 127.5,773.8 129.1,773.2 130.7,772.8 132.3,772.7 133.9,771.5 135.5,771.8 137.1,771.2 138.7,770.8 140.3,770.3 141.9,769.8 143.5,769.6 145.1,768.8 146.7,768.8 148.3,767.7 149.9,767.5 151.5,766.9 153.1,766.7 154.7,766 156.3,765 157.9,764.8 159.5,764 161.1,763.7 162.7,763.1 164.3,762.4 165.9,761.9 167.5,761.5 169.1,761 170.7,760.5 172.3,759.8 173.9,759.6 175.5,758.9 177.1,758.3 178.7,757.9 180.3,758.1 181.9,757.2 183.5,756.6 185.1,756.2 186.7,755.8 188.3,755.4 189.9,755 191.5,754.7 193.1,754.1 194.7,753.9 196.3,753.5 197.9,753.1 199.5,753 201.1,752.7 202.7,752.3 204.3,752.4 205.9,752 207.5,751.6 209.1,752.1 210.7,751.8 212.3,751 213.9,751.2 215.5,751.1 217.1,750.8 218.7,750.6 220.3,750.7 221.9,750.5 223.5,750.3 225.1,750.4 226.7,749.9 228.3,749.7 229.9,750.3 231.5,750.4 233.1,749.8 234.7,749.9 236.3,750.5 237.9,750.2 239.5,750.4 241.1,750.5 242.7,750.4 244.3,750.3 245.9,750.8 247.5,750.6 249.1,750.4 250.7,750.5 252.3,750.8 253.9,750.5 255.5,751.3 257.1,751 258.7,751.2 260.3,751 261.9,751.2 263.5,750.8 265.1,751.1 266.7,751.4 268.3,751.1 269.9,751.2 271.5,751.3 273.1,751.7 274.7,751.8 276.3,751.6 277.9,751.7 279.5,751.6 281.1,751.4 282.7,751.6 284.3,751.7 285.9,751.9 287.5,751.8 289.1,752.1 290.7,751.8 292.3,752.1 293.9,752.1 295.5,752.4 297.1,752.2 298.7,752.4 300.3,752 301.9,752.6 303.5,752.6 305.1,752.9 306.7,753 308.3,752.9 309.9,753.6 311.5,753.7 313.1,753.6 314.7,754 316.3,753.9 317.9,754.4 319.5,754.1 321.1,754.6 322.7,754.7 324.3,754.6 325.9,755.1 327.5,755.6 329.1,755.7 330.7,756.2 332.3,756.8 333.9,757 335.5,757 337.1,756.6 338.7,756 340.3,755.4 341.9,755.3 343.5,755 345.1,755.3 346.7,754.8 348.3,754.8 349.9,754.6 351.5,754.7 353.1,754.4 354.7,754.8 356.3,754.6 357.9,754.6 359.5,755 361.1,755 362.7,755 364.3,755 365.9,755.6 367.5,756.1 369.1,756.2 370.7,755.7 372.3,754 373.9,752.6 375.5,751.8 377.1,751.5 378.7,751.2 380.3,751.4 381.9,751.1 383.5,751.8 385.1,751.6 386.7,751.6 388.3,751.3 389.9,751.4 391.5,750.9 393.1,751.1" fill="none" stroke="#76E0FA" stroke-width="2.2" stroke-linejoin="round" stroke-linecap="butt" />
<polyline points="397.1,750.6 400.1,750.8 403.1,750.8 406.1,751 409.1,750.8 412.1,751 415.1,751.1 418.1,751 421.1,751.1 424.1,751.3 427.1,751.1 430.1,751.3 433.1,751.3 436.1,751.3 439.1,751.2 442.1,751.4 445.1,751.3 448.1,751.7 451.1,751.6 454.1,751.7 457.1,751.6 460.1,751.8 463.1,751.7 466.1,751.9 469.1,752 472.1,752 475.1,752 478.1,752.1 481.1,752.2 484.1,752.2 487.1,752.2 490.1,752.2 492,752.3" fill="none" stroke="#76E0FA" stroke-width="2.9" stroke-linejoin="round" stroke-linecap="butt" />
<polyline points="498.5,752.4 499.8,752.6 501,752.9 502.2,752.7 503.5,752.7 504.8,752.5 506,752.6 507.2,752.8 508.5,753 509.8,752.8 511,752.5 512.2,752.4 513.5,752.5 514.8,752.6 516,752.1 517.2,751.8 518.5,752 519.8,752.3 521,752.8 522.2,752.9 523.5,752.9 524.8,752.4 526,752.9 527.2,753 528.5,752.6 529.8,752.8 531,752.8 532.2,752.5 533.5,752.4 534.8,752.6 536,752.6 537.2,752.8 538.5,752.5 539.8,752.6 541,752.6 542.2,752.9 543.5,752.6 544.8,752.9 546,752.8 547.2,752.6 548.5,752.7 549.8,752.6 551,752.7 552.2,752.8 553.5,752.7 554.8,752.7 556,752.7 557.2,752.6 558.5,752.9 559.8,752.5 561,752.7 562.2,752.5 563.5,752.6 564.8,752.7 566,753 567.2,752.7 568.5,752.7 569.8,752.7 571,752.6 572.2,752.5 573.5,752.8 574.8,752.8 576,752.6 577.2,752.6 578.5,752.9 579.8,752.6 581,752.5 582.2,752.6 583.5,752.1 584.8,752.9 586,752.7 587.2,752.7 588.5,752.3 589.8,752.8 591,752.5 592.2,752.5 593.5,752.8 594.8,752.6 596,751.9 597.2,752.1 598.5,752.2 599.8,752.1 601,751.9 602.2,752 603.5,751.9 604.8,751.7 606,752.1 607.2,751.4 608.5,751.6 609.8,751.2 611,751.6 612.2,751.8 613.5,752.2 614.8,751.2 616,750.8 617.2,751 618.5,751.3 619.8,751.8 621,750.9 622.2,751.4 623.5,752.5 624.8,751.7 626,752 627.2,751.9 628.5,751.2 629.8,752.4 631,752.8 632.2,751.9 633.5,752.1 634.8,752.2 636,753.2 637.2,752.9 638.5,754.4 639.8,753.9 641,754.4 642.2,755 643.5,754.3 644.8,754.2 646,756.2 647.2,756.1 648.5,756.1 649.8,757.4 651,758.5 652.2,758 653.5,759.1 654.8,758.2 656,758.3 657.2,757.1 658.5,757.6 659.8,757.9 661,757.6 662.2,756.6 663.5,757.3 664.8,758.5 666,756.8 667.2,755.8 668.5,754.2 669.8,753.5 671,753.8 672.2,752.8 673.5,753.6 674.8,752.2 676,752.4 677.2,752 678.5,752.1 679.8,751.6 681,751.6 682.2,751.7 683.5,751.9 684.8,751.5 686,750.9 687.2,750.9 688.5,750.9 689.8,750.7 691,750.5 692.2,750.3 693.5,750.3 694.8,749.6 696,749.3 697.2,749.1 698.5,748.6 699.8,747.9 701,746.7 702.2,745.3 703.5,743.7 704.8,742.3 706,743.5 707.2,745.2 708.5,746.9 709.8,748.1 711,748.5 712.2,749.1 713.5,749.6 714.8,750 716,750.5 717.2,750.6 718.5,751.5 719.8,751.7 721,752.2 722.2,752.4 723.5,753 724.8,753.1 726,753.7 727.2,753.8 728.5,754.3 729.8,754.4 731,754.7 732.2,755.2 733.5,755.5 734.8,755.7 736,755.7 737.2,755.6 738.5,755.7 739.8,755.9 741,755.3 742.2,755.2 743.5,755 744.8,754.6 746,754.3 747.2,754.1 748.5,753.6 749.8,753.5 751,752.5 752.2,752.3 753.5,751.7 754.8,751.3 756,751.7" fill="none" stroke="#76E0FA" stroke-width="2.9" stroke-linejoin="round" stroke-linecap="butt" />
<polyline points="39.5,775.1 41.1,775.1 42.7,775.2 44.3,774.8 45.9,775.2 47.5,775.3 49.1,775.1 50.7,775.1 52.3,775.4 53.9,775 55.5,775.1 57.1,775.3 58.7,775.6 60.3,775.4 61.9,775.3 63.5,775.4 65.1,775 66.7,774.8 68.3,775 69.9,774.7 71.5,774.6 73.1,774.5 74.7,774.3 76.3,774 77.9,773.8 79.5,774 81.1,773.8 82.7,773.6 84.3,773.4 85.9,773.3 87.5,772.8 89.1,772.3 90.7,772.4 92.3,772.4 93.9,771.8 95.5,771.5 97.1,771.1 98.7,770.6 100.3,770.4 101.9,770 103.5,769.6 105.1,769.7 106.7,768.9 108.3,768.5 109.9,768 111.5,767.9 113.1,767.9 114.7,767.1 116.3,767.1 117.9,766.3 119.5,765.8 121.1,765.2 122.7,764.9 124.3,764.7 125.9,763.7 127.5,763.8 129.1,763.5 130.7,763 132.3,762 133.9,761.7 135.5,761.4 137.1,760.6 138.7,760.5 140.3,760 141.9,759.7 143.5,759.2 145.1,758.7 146.7,758.2 148.3,757.7 149.9,757.2 151.5,756.3 153.1,756.1 154.7,755.5 156.3,754.7 157.9,754.2 159.5,753.9 161.1,753.1 162.7,752.7 164.3,751.8 165.9,751.5 167.5,751.3 169.1,750.7 170.7,750.2 172.3,749.7 173.9,748.9 175.5,748.4 177.1,748.1 178.7,747.4 180.3,746.7 181.9,746.7 183.5,746.2 185.1,745.7 186.7,745.2 188.3,744.5 189.9,744.3 191.5,743.7 193.1,743.4 194.7,742.8 196.3,742.5 197.9,742 199.5,742 201.1,741.4 202.7,741.2 204.3,741.2 205.9,741.1 207.5,740.8 209.1,740.9 210.7,740.6 212.3,740.1 213.9,740 215.5,739.9 217.1,740.3 218.7,739.5 220.3,739.5 221.9,739.5 223.5,739.4 225.1,739.2 226.7,739.4 228.3,738.8 229.9,739.2 231.5,738.9 233.1,739.3 234.7,739.3 236.3,739 237.9,739.1 239.5,739 241.1,739.1 242.7,739.3 244.3,739 245.9,739.7 247.5,739.3 249.1,740 250.7,739.6 252.3,739.5 253.9,739.6 255.5,739.9 257.1,739.5 258.7,740.1 260.3,739.9 261.9,740 263.5,740.1 265.1,740.2 266.7,740.5 268.3,740.5 269.9,740.6 271.5,740.2 273.1,740.8 274.7,740.7 276.3,740.7 277.9,740.5 279.5,740.9 281.1,740.7 282.7,740.9 284.3,741 285.9,741.2 287.5,741 289.1,740.7 290.7,741.1 292.3,740.8 293.9,741.1 295.5,741 297.1,741.5 298.7,741.8 300.3,741.1 301.9,741.5 303.5,741.7 305.1,741.5 306.7,741.9 308.3,742.2 309.9,742.5 311.5,742.2 313.1,742.8 314.7,743 316.3,743.2 317.9,743.1 319.5,743.3 321.1,743.6 322.7,744.2 324.3,744.3 325.9,744.2 327.5,744.8 329.1,745.2 330.7,745.6 332.3,746.4 333.9,746.5 335.5,746.7 337.1,746.3 338.7,745.2 340.3,745 341.9,744.9 343.5,744.4 345.1,744.2 346.7,744.1 348.3,744.1 349.9,743.7 351.5,743.9 353.1,743.7 354.7,743.9 356.3,743.8 357.9,744.4 359.5,744 361.1,744.3 362.7,744.3 364.3,744.7 365.9,745 367.5,745.1 369.1,745.3 370.7,744.8 372.3,743.3 373.9,742 375.5,740.9 377.1,741 378.7,740.7 380.3,740.8 381.9,740.6 383.5,740.5 385.1,740.5 386.7,740.2 388.3,740.6 389.9,740.4 391.5,740.2 393.1,740.1" fill="none" stroke="#EEB8DA" stroke-width="2.2" stroke-linejoin="round" stroke-linecap="butt" />
<polyline points="397.1,740.4 400.1,740.5 403.1,740.5 406.1,740.5 409.1,740.8 412.1,740.7 415.1,740.7 418.1,740.8 421.1,740.9 424.1,740.9 427.1,740.9 430.1,740.9 433.1,740.9 436.1,741 439.1,741.2 442.1,741.1 445.1,741.3 448.1,741.4 451.1,741.3 454.1,741.4 457.1,741.5 460.1,741.4 463.1,741.5 466.1,741.6 469.1,741.7 472.1,741.7 475.1,741.5 478.1,741.9 481.1,741.7 484.1,741.9 487.1,741.8 490.1,741.9 492,742" fill="none" stroke="#EEB8DA" stroke-width="2.9" stroke-linejoin="round" stroke-linecap="butt" />
<polyline points="498.5,742.2 499.8,742.4 501,742.4 502.2,742.5 503.5,742.4 504.8,742.3 506,742.1 507.2,742.2 508.5,742.3 509.8,742.3 511,742.6 512.2,742.2 513.5,742.3 514.8,742 516,741.9 517.2,741.5 518.5,741.7 519.8,742 521,742.3 522.2,742.6 523.5,742.3 524.8,742.3 526,742.4 527.2,742.1 528.5,742.6 529.8,742.5 531,742.3 532.2,742.5 533.5,742.4 534.8,742.6 536,742.7 537.2,742.6 538.5,742.7 539.8,742.7 541,742.5 542.2,742.4 543.5,742.3 544.8,742.8 546,742.1 547.2,742.9 548.5,742.3 549.8,742.4 551,742.4 552.2,742.4 553.5,742.3 554.8,742.4 556,742.4 557.2,742.5 558.5,742.2 559.8,742.8 561,742.2 562.2,742.3 563.5,742.5 564.8,742.3 566,742.4 567.2,742.4 568.5,742.1 569.8,742.3 571,742.3 572.2,742.5 573.5,742.6 574.8,742.3 576,742.4 577.2,742.5 578.5,742.3 579.8,742.5 581,742.4 582.2,742.7 583.5,742.1 584.8,742.3 586,741.9 587.2,742.3 588.5,742.2 589.8,742.1 591,741.8 592.2,742.2 593.5,741.9 594.8,741.9 596,742.3 597.2,742.4 598.5,741.5 599.8,741.2 601,741.6 602.2,741.8 603.5,741.9 604.8,741.7 606,741.3 607.2,741.5 608.5,741.4 609.8,741.1 611,741.5 612.2,741.2 613.5,741.3 614.8,741.4 616,741.4 617.2,740.3 618.5,741.1 619.8,740.9 621,741.6 622.2,740.6 623.5,741.2 624.8,742.3 626,741.3 627.2,740.9 628.5,741.3 629.8,741.4 631,741.7 632.2,741.8 633.5,742.2 634.8,741.6 636,741.4 637.2,742 638.5,743.1 639.8,743.8 641,743.8 642.2,745.6 643.5,744.6 644.8,745.3 646,746.2 647.2,746.5 648.5,747.2 649.8,747.1 651,747.9 652.2,747.5 653.5,749 654.8,748.1 656,748.2 657.2,748.5 658.5,747.3 659.8,747.5 661,746 662.2,747.6 663.5,747.4 664.8,746.5 666,745.8 667.2,744 668.5,745.1 669.8,743.6 671,742.7 672.2,744.1 673.5,741.4 674.8,741.7 676,742.9 677.2,742.6 678.5,741.5 679.8,739.9 681,741.5 682.2,742 683.5,741.6 684.8,740.8 686,741.5 687.2,741.3 688.5,740.8 689.8,740.7 691,740.6 692.2,739.9 693.5,739.9 694.8,739.1 696,738.9 697.2,738.5 698.5,737.8 699.8,736.9 701,735.8 702.2,734.1 703.5,732.1 704.8,730.5 706,731.9 707.2,733.9 708.5,735.8 709.8,737.2 711,738 712.2,738.5 713.5,739.3 714.8,739 716,739.7 717.2,740.3 718.5,740.5 719.8,741 721,741.6 722.2,742.1 723.5,742.4 724.8,742.6 726,743.1 727.2,743.7 728.5,743.7 729.8,744.3 731,744.6 732.2,744.8 733.5,745.3 734.8,745.3 736,745.7 737.2,745.4 738.5,745.8 739.8,745.7 741,745.2 742.2,744.8 743.5,744.6 744.8,744.4 746,743.8 747.2,743.6 748.5,743.3 749.8,743 751,742.2 752.2,741.8 753.5,741.3 754.8,741.1 756,741" fill="none" stroke="#EEB8DA" stroke-width="2.9" stroke-linejoin="round" stroke-linecap="butt" />
<polyline points="39.5,764.9 41.1,765.1 42.7,765.1 44.3,765.1 45.9,764.8 47.5,765.1 49.1,765.2 50.7,765.2 52.3,764.9 53.9,765.1 55.5,765.3 57.1,765.3 58.7,765.4 60.3,765.5 61.9,765.2 63.5,765.2 65.1,765.2 66.7,765 68.3,764.8 69.9,764.6 71.5,764.8 73.1,764.3 74.7,764.1 76.3,764.3 77.9,763.9 79.5,763.9 81.1,763.6 82.7,763.6 84.3,763 85.9,763.4 87.5,762.8 89.1,762.4 90.7,762.3 92.3,762 93.9,761.7 95.5,761.3 97.1,760.5 98.7,760.4 100.3,760 101.9,759.8 103.5,759.6 105.1,759.3 106.7,758.8 108.3,758.2 109.9,757.7 111.5,757.6 113.1,756.8 114.7,756.5 116.3,756.3 117.9,755.8 119.5,755.4 121.1,755.1 122.7,754.6 124.3,754.4 125.9,753.8 127.5,753.2 129.1,753 130.7,752.7 132.3,752.1 133.9,751.4 135.5,751 137.1,750.7 138.7,750.1 140.3,749.4 141.9,749.6 143.5,748.7 145.1,748.3 146.7,747.8 148.3,747.2 149.9,746.4 151.5,745.9 153.1,745.2 154.7,744.8 156.3,743.7 157.9,743.5 159.5,743.1 161.1,742.5 162.7,742.2 164.3,741.2 165.9,740.8 167.5,739.9 169.1,739.8 170.7,739 172.3,738.4 173.9,738.3 175.5,737.3 177.1,737.1 178.7,736.4 180.3,736.3 181.9,735.5 183.5,735.3 185.1,734.5 186.7,734 188.3,733.6 189.9,733.4 191.5,732.7 193.1,732.5 194.7,731.8 196.3,731.8 197.9,731.4 199.5,731.1 201.1,730.6 202.7,730.3 204.3,730.3 205.9,729.9 207.5,729.7 209.1,729.7 210.7,729.4 212.3,729.5 213.9,729.5 215.5,728.7 217.1,729 218.7,728.9 220.3,728.4 221.9,728.2 223.5,728.3 225.1,728.3 226.7,728 228.3,728.1 229.9,728.2 231.5,727.7 233.1,728 234.7,727.9 236.3,728.2 237.9,728.4 239.5,728 241.1,728.1 242.7,728.2 244.3,728.1 245.9,728.3 247.5,728.1 249.1,728.5 250.7,728.7 252.3,728.4 253.9,728.3 255.5,728.5 257.1,728.8 258.7,728.9 260.3,729 261.9,729.3 263.5,729.1 265.1,729.3 266.7,729.4 268.3,729.1 269.9,729.6 271.5,729.7 273.1,729.3 274.7,729.9 276.3,729.7 277.9,729.8 279.5,729.9 281.1,729.7 282.7,729.8 284.3,730 285.9,730.4 287.5,730.1 289.1,730.1 290.7,730.2 292.3,730.4 293.9,730.2 295.5,730.2 297.1,730.5 298.7,730.8 300.3,730.8 301.9,730.7 303.5,731.1 305.1,730.9 306.7,731.1 308.3,731.4 309.9,731.6 311.5,732 313.1,732.2 314.7,732 316.3,732.3 317.9,732.2 319.5,732.9 321.1,732.9 322.7,733.3 324.3,733.5 325.9,733.7 327.5,734 329.1,734.7 330.7,734.9 332.3,735.9 333.9,736.3 335.5,735.9 337.1,735.6 338.7,734.8 340.3,734.2 341.9,734 343.5,734 345.1,733.8 346.7,733.1 348.3,733.3 349.9,733.2 351.5,733.2 353.1,732.9 354.7,732.7 356.3,732.8 357.9,733.2 359.5,733 361.1,733.3 362.7,733.5 364.3,733.6 365.9,734.2 367.5,734.7 369.1,734.7 370.7,734.5 372.3,732.8 373.9,730.9 375.5,730.1 377.1,730.1 378.7,730.1 380.3,730.2 381.9,730.3 383.5,730.1 385.1,730 386.7,730 388.3,729.7 389.9,729.7 391.5,729.7 393.1,730.1" fill="none" stroke="#E48392" stroke-width="2.2" stroke-linejoin="round" stroke-linecap="butt" />
<polyline points="397.1,729.9 400.1,730 403.1,730 406.1,729.9 409.1,730 412.1,730 415.1,730.2 418.1,730.1 421.1,730.2 424.1,730.2 427.1,730.4 430.1,730.3 433.1,730.4 436.1,730.4 439.1,730.5 442.1,730.6 445.1,730.6 448.1,730.7 451.1,730.6 454.1,730.7 457.1,730.9 460.1,730.9 463.1,730.9 466.1,730.9 469.1,731.1 472.1,731 475.1,731.1 478.1,731.2 481.1,731.1 484.1,731.4 487.1,731.3 490.1,731.5 492,731.4" fill="none" stroke="#E48392" stroke-width="2.9" stroke-linejoin="round" stroke-linecap="butt" />
<polyline points="498.5,731.9 499.8,731.6 501,731.9 502.2,731.6 503.5,732 504.8,731.8 506,731.9 507.2,731.6 508.5,731.7 509.8,731.8 511,732 512.2,731.8 513.5,731.6 514.8,731.5 516,731 517.2,730.9 518.5,731.1 519.8,731.5 521,731.5 522.2,731.7 523.5,731.9 524.8,731.8 526,731.7 527.2,731.8 528.5,731.8 529.8,732 531,731.6 532.2,731.9 533.5,731.4 534.8,731.5 536,731.9 537.2,731.7 538.5,731.7 539.8,731.7 541,731.9 542.2,731.7 543.5,731.9 544.8,731.6 546,732.1 547.2,731.9 548.5,731.8 549.8,731.8 551,731.5 552.2,732.1 553.5,731.9 554.8,731.7 556,732 557.2,731.6 558.5,731.6 559.8,732 561,731.7 562.2,731.9 563.5,731.9 564.8,731.8 566,731.9 567.2,731.8 568.5,731.9 569.8,732 571,731.8 572.2,732.1 573.5,731.5 574.8,731.9 576,731.6 577.2,731.7 578.5,731.9 579.8,731.5 581,731.9 582.2,731.7 583.5,732 584.8,731.8 586,731.7 587.2,731.7 588.5,731.7 589.8,731.7 591,732 592.2,731.3 593.5,731 594.8,731.2 596,731 597.2,731.4 598.5,731.1 599.8,731.3 601,731.2 602.2,731.1 603.5,730.7 604.8,731 606,731.2 607.2,730.8 608.5,730.1 609.8,730.1 611,730.8 612.2,730.3 613.5,731.3 614.8,731.2 616,730.4 617.2,730.4 618.5,730.8 619.8,731.1 621,731.2 622.2,730.8 623.5,730.3 624.8,731.3 626,731.6 627.2,731 628.5,730.2 629.8,731.8 631,731 632.2,731.1 633.5,732 634.8,732 636,732.9 637.2,732.1 638.5,732.5 639.8,732.7 641,732.9 642.2,733.7 643.5,733.6 644.8,733.7 646,734.9 647.2,735.5 648.5,736.5 649.8,736.6 651,737.3 652.2,737.7 653.5,737.2 654.8,738.3 656,737.6 657.2,736.6 658.5,737.6 659.8,736.8 661,736.8 662.2,738.1 663.5,736.2 664.8,735.3 666,734.9 667.2,734.8 668.5,735 669.8,733.8 671,732.1 672.2,732.6 673.5,732.6 674.8,732.2 676,731 677.2,731.2 678.5,731 679.8,730 681,730.3 682.2,731.3 683.5,729.9 684.8,730.2 686,730.6 687.2,729.8 688.5,730 689.8,729.6 691,729.3 692.2,729.9 693.5,728.5 694.8,728.1 696,728 697.2,727.7 698.5,726.5 699.8,725.6 701,724.3 702.2,722.2 703.5,719.6 704.8,718.1 706,719.6 707.2,721.8 708.5,724.3 709.8,725.7 711,726.9 712.2,727.6 713.5,727.9 714.8,728.6 716,728.6 717.2,729.4 718.5,730.1 719.8,730.5 721,730.8 722.2,731.4 723.5,731.9 724.8,732.1 726,732.4 727.2,732.8 728.5,733.1 729.8,733.6 731,734 732.2,734.2 733.5,734.3 734.8,734.7 736,734.8 737.2,734.7 738.5,734.5 739.8,734.7 741,734.9 742.2,734.2 743.5,733.8 744.8,733.4 746,733.4 747.2,732.8 748.5,732.5 749.8,732.3 751,731.9 752.2,731.3 753.5,730.6 754.8,730.5 756,730.6" fill="none" stroke="#E48392" stroke-width="2.9" stroke-linejoin="round" stroke-linecap="butt" />
<polyline points="39.5,753.7 41.1,753.8 42.7,753.6 44.3,753.7 45.9,753.5 47.5,753.8 49.1,753.6 50.7,753.7 52.3,753.9 53.9,753.8 55.5,753.8 57.1,753.9 58.7,753.7 60.3,753.9 61.9,753.7 63.5,753.8 65.1,753.5 66.7,753.8 68.3,753.5 69.9,753.6 71.5,753.4 73.1,753.3 74.7,753.1 76.3,753.1 77.9,752.6 79.5,752.6 81.1,752.1 82.7,751.8 84.3,751.8 85.9,751.7 87.5,751.3 89.1,751 90.7,751.1 92.3,750.5 93.9,750.4 95.5,750 97.1,749.4 98.7,749.1 100.3,748.6 101.9,748.2 103.5,748 105.1,747.8 106.7,747.5 108.3,747 109.9,746.6 111.5,746.2 113.1,746 114.7,745.3 116.3,745 117.9,744.8 119.5,744.1 121.1,743.5 122.7,743.1 124.3,743.1 125.9,742.4 127.5,741.4 129.1,741.3 130.7,741.2 132.3,740.7 133.9,740.2 135.5,739.8 137.1,738.8 138.7,738.8 140.3,738.2 141.9,737.7 143.5,737.5 145.1,736.9 146.7,736.2 148.3,735.8 149.9,735.3 151.5,734.5 153.1,734.1 154.7,733.5 156.3,732.9 157.9,732.5 159.5,731.5 161.1,731.2 162.7,730.3 164.3,729.7 165.9,729.3 167.5,728.7 169.1,728.3 170.7,727.9 172.3,727.1 173.9,726.5 175.5,726.2 177.1,725.6 178.7,725.1 180.3,724.9 181.9,724.3 183.5,723.4 185.1,723.2 186.7,722.4 188.3,721.9 189.9,721.9 191.5,721 193.1,720.7 194.7,720.2 196.3,720.2 197.9,720 199.5,719.1 201.1,719.1 202.7,719.2 204.3,719 205.9,718.6 207.5,718.3 209.1,718.5 210.7,717.7 212.3,717.9 213.9,717.6 215.5,717 217.1,717.2 218.7,717.1 220.3,716.9 221.9,716.9 223.5,716.4 225.1,717 226.7,716.7 228.3,716.4 229.9,716.5 231.5,716.3 233.1,716.1 234.7,716.5 236.3,716.4 237.9,716.5 239.5,716.6 241.1,716.9 242.7,716.5 244.3,717 245.9,716.7 247.5,717.2 249.1,716.9 250.7,716.7 252.3,717 253.9,716.8 255.5,717.3 257.1,717.5 258.7,717.5 260.3,717.6 261.9,717.9 263.5,717.9 265.1,717.8 266.7,718.1 268.3,717.8 269.9,718 271.5,718 273.1,718.1 274.7,718.2 276.3,718.2 277.9,718.3 279.5,718.3 281.1,718.6 282.7,718.4 284.3,718.3 285.9,718.5 287.5,718.3 289.1,718.5 290.7,718.4 292.3,719.1 293.9,718.8 295.5,719.2 297.1,718.9 298.7,719.2 300.3,718.9 301.9,719.5 303.5,719.7 305.1,719.3 306.7,719.9 308.3,720.3 309.9,720.1 311.5,720.2 313.1,720.8 314.7,720.8 316.3,720.9 317.9,721.3 319.5,721.9 321.1,722 322.7,722.1 324.3,722.2 325.9,722.4 327.5,722.8 329.1,723.6 330.7,724 332.3,724.9 333.9,725.4 335.5,724.8 337.1,724.2 338.7,723.7 340.3,723.2 341.9,723 343.5,722.9 345.1,722.6 346.7,722.2 348.3,722.2 349.9,721.8 351.5,722 353.1,722.3 354.7,722 356.3,722 357.9,722.1 359.5,722.1 361.1,722.2 362.7,722.5 364.3,723 365.9,723.3 367.5,723.5 369.1,724.1 370.7,723.1 372.3,721.8 373.9,720.1 375.5,719.8 377.1,719.1 378.7,719.4 380.3,719.6 381.9,719.4 383.5,719.3 385.1,719.4 386.7,719.1 388.3,719.1 389.9,719.4 391.5,718.8 393.1,718.7" fill="none" stroke="#CCE8BC" stroke-width="2.2" stroke-linejoin="round" stroke-linecap="butt" />
<polyline points="397.1,718.7 400.1,718.7 403.1,718.8 406.1,719 409.1,719 412.1,719 415.1,719 418.1,719 421.1,719.1 424.1,719.2 427.1,719.2 430.1,719.2 433.1,719.4 436.1,719.2 439.1,719.5 442.1,719.6 445.1,719.4 448.1,719.6 451.1,719.5 454.1,719.5 457.1,719.9 460.1,719.8 463.1,719.8 466.1,720 469.1,720.1 472.1,720.1 475.1,720.1 478.1,720.1 481.1,720.1 484.1,720.2 487.1,720.4 490.1,720.3 492,720.3" fill="none" stroke="#CCE8BC" stroke-width="2.9" stroke-linejoin="round" stroke-linecap="butt" />
<polyline points="498.5,720.5 499.8,720.7 501,720.7 502.2,720.7 503.5,720.6 504.8,720.6 506,720.6 507.2,720.5 508.5,720.8 509.8,720.5 511,720.8 512.2,720.7 513.5,720.8 514.8,720.2 516,720.5 517.2,720.1 518.5,720 519.8,720.4 521,720.4 522.2,720.8 523.5,720.5 524.8,720.7 526,720.8 527.2,720.6 528.5,720.6 529.8,720.9 531,720.8 532.2,720.6 533.5,720.7 534.8,720.6 536,720.8 537.2,720.5 538.5,720.5 539.8,720.6 541,720.6 542.2,720.7 543.5,720.7 544.8,720.7 546,720.5 547.2,720.9 548.5,720.7 549.8,721.1 551,720.6 552.2,720.6 553.5,720.6 554.8,720.5 556,720.8 557.2,720.7 558.5,720.9 559.8,720.6 561,720.5 562.2,720.5 563.5,721 564.8,720.7 566,720.8 567.2,720.8 568.5,720.7 569.8,720.8 571,720.9 572.2,720.9 573.5,720.7 574.8,720.5 576,720.8 577.2,720.6 578.5,720.7 579.8,720.7 581,720.6 582.2,720.9 583.5,720.8 584.8,721 586,720.3 587.2,720.9 588.5,720.7 589.8,720.8 591,720.5 592.2,720.3 593.5,720.3 594.8,720.5 596,720.3 597.2,720.4 598.5,719.9 599.8,719.8 601,720.6 602.2,720.1 603.5,719.9 604.8,719.9 606,719.8 607.2,719.9 608.5,720 609.8,719.2 611,719.7 612.2,719.7 613.5,719.8 614.8,719.9 616,718.6 617.2,719.1 618.5,719.6 619.8,719.3 621,718.9 622.2,719.4 623.5,719.4 624.8,719.7 626,719.4 627.2,719.9 628.5,720.7 629.8,719.3 631,719.4 632.2,720.2 633.5,720.9 634.8,720.1 636,721.3 637.2,720.7 638.5,721.1 639.8,722.4 641,722.7 642.2,722.6 643.5,723.4 644.8,723.8 646,723.9 647.2,723.7 648.5,724.5 649.8,725.4 651,726.7 652.2,726.1 653.5,726.5 654.8,725.7 656,727 657.2,726.1 658.5,725.6 659.8,725.5 661,725.6 662.2,724.6 663.5,725.2 664.8,725.5 666,724 667.2,723 668.5,723.3 669.8,722.5 671,721.8 672.2,721.3 673.5,721.2 674.8,721.8 676,720.8 677.2,720.5 678.5,720.5 679.8,720.8 681,719.6 682.2,719.9 683.5,720.5 684.8,718.9 686,719.2 687.2,718.7 688.5,718.7 689.8,718.5 691,717.7 692.2,717.6 693.5,717.4 694.8,716.8 696,716.5 697.2,716 698.5,715 699.8,713.8 701,712.1 702.2,709.8 703.5,706.7 704.8,704.9 706,706.6 707.2,709.7 708.5,712.4 709.8,714.2 711,715.2 712.2,716 713.5,716.3 714.8,717 716,717.7 717.2,718.3 718.5,718.6 719.8,719.2 721,719.6 722.2,720.1 723.5,720.3 724.8,721 726,721.5 727.2,721.8 728.5,721.8 729.8,722.7 731,722.6 732.2,723.4 733.5,723.3 734.8,723.7 736,723.7 737.2,723.8 738.5,724 739.8,723.4 741,723.3 742.2,723 743.5,722.6 744.8,722.8 746,722.1 747.2,721.7 748.5,721.4 749.8,721.2 751,720.6 752.2,720 753.5,719.5 754.8,719.6 756,719.5" fill="none" stroke="#CCE8BC" stroke-width="2.9" stroke-linejoin="round" stroke-linecap="butt" />
<polyline points="39.5,742.4 41.1,742.2 42.7,742.2 44.3,742.5 45.9,742.4 47.5,742.4 49.1,742.8 50.7,742.6 52.3,742.3 53.9,742.3 55.5,742.4 57.1,742.6 58.7,742.4 60.3,742.1 61.9,742.2 63.5,742.2 65.1,742.3 66.7,742.3 68.3,742.2 69.9,742.3 71.5,742 73.1,741.8 74.7,741.8 76.3,741.6 77.9,741.7 79.5,740.9 81.1,741.1 82.7,740.7 84.3,740.4 85.9,740.4 87.5,739.8 89.1,739.8 90.7,739.4 92.3,739.1 93.9,738.7 95.5,738.5 97.1,737.9 98.7,737.6 100.3,737.5 101.9,737.2 103.5,737.2 105.1,736.4 106.7,735.8 108.3,735.7 109.9,735.2 111.5,735 113.1,734.4 114.7,734.1 116.3,733.6 117.9,732.9 119.5,732.5 121.1,732.6 122.7,732.2 124.3,731.5 125.9,731 127.5,730.7 129.1,729.9 130.7,729.8 132.3,729.2 133.9,728.5 135.5,728.2 137.1,728 138.7,727.1 140.3,726.4 141.9,726.3 143.5,725.7 145.1,725.3 146.7,724.5 148.3,724 149.9,723.7 151.5,723 153.1,722.4 154.7,721.6 156.3,721.3 157.9,720.7 159.5,720.1 161.1,719.3 162.7,718.8 164.3,718.4 165.9,717.6 167.5,717.4 169.1,716.3 170.7,716 172.3,715.5 173.9,714.8 175.5,714.3 177.1,713.8 178.7,713.5 180.3,712.7 181.9,712.4 183.5,712.3 185.1,711.1 186.7,710.7 188.3,710.4 189.9,710 191.5,709.2 193.1,709.4 194.7,708.8 196.3,708.3 197.9,708.1 199.5,707.4 201.1,707.5 202.7,707.1 204.3,707.1 205.9,706.8 207.5,706.6 209.1,706.1 210.7,705.9 212.3,706 213.9,705.8 215.5,705.7 217.1,705.3 218.7,705.6 220.3,705.3 221.9,705.4 223.5,704.5 225.1,704.6 226.7,704.2 228.3,704.8 229.9,704.5 231.5,704.6 233.1,704.2 234.7,704.5 236.3,704.9 237.9,704.5 239.5,704.7 241.1,705 242.7,704.7 244.3,705.2 245.9,705.4 247.5,704.9 249.1,705.1 250.7,704.9 252.3,705.4 253.9,705.5 255.5,705.6 257.1,705.2 258.7,705.5 260.3,705.5 261.9,705.8 263.5,706.4 265.1,706.1 266.7,706.2 268.3,706.3 269.9,706.2 271.5,706.1 273.1,706.6 274.7,706.8 276.3,706.5 277.9,706.6 279.5,706.8 281.1,707 282.7,706.8 284.3,706.7 285.9,706.8 287.5,707 289.1,706.9 290.7,707 292.3,706.9 293.9,707.3 295.5,707.4 297.1,707.4 298.7,707.7 300.3,708 301.9,707.8 303.5,707.8 305.1,708.2 306.7,708.3 308.3,708.7 309.9,708.6 311.5,708.8 313.1,709.3 314.7,709.7 316.3,709.8 317.9,709.7 319.5,710.1 321.1,710.4 322.7,710.8 324.3,711 325.9,711.3 327.5,711.5 329.1,711.7 330.7,712.9 332.3,713.5 333.9,714.1 335.5,713.8 337.1,712.9 338.7,712.3 340.3,711.6 341.9,711.6 343.5,711.4 345.1,711.1 346.7,710.8 348.3,710.4 349.9,710.4 351.5,710.5 353.1,710.1 354.7,710.4 356.3,710.5 357.9,710.6 359.5,710.6 361.1,710.9 362.7,710.9 364.3,710.9 365.9,711.8 367.5,712.4 369.1,712.5 370.7,712.1 372.3,710.8 373.9,709.5 375.5,709.4 377.1,709 378.7,708.8 380.3,708.8 381.9,708.4 383.5,708.5 385.1,708.6 386.7,708.9 388.3,708.5 389.9,708.7 391.5,708.5 393.1,708.3" fill="none" stroke="#8CE79A" stroke-width="2.2" stroke-linejoin="round" stroke-linecap="butt" />
<polyline points="397.1,708.9 400.1,708.9 403.1,708.9 406.1,709 409.1,709.2 412.1,709.1 415.1,709.2 418.1,709.1 421.1,709.2 424.1,709.2 427.1,709.3 430.1,709.5 433.1,709.4 436.1,709.5 439.1,709.7 442.1,709.8 445.1,709.5 448.1,709.5 451.1,709.8 454.1,709.9 457.1,709.9 460.1,709.9 463.1,710 466.1,709.9 469.1,710.1 472.1,710 475.1,710 478.1,710 481.1,710 484.1,710.3 487.1,710.3 490.1,710.3 492,710.4" fill="none" stroke="#8CE79A" stroke-width="2.9" stroke-linejoin="round" stroke-linecap="butt" />
<polyline points="498.5,711 499.8,710.8 501,710.7 502.2,710.9 503.5,710.9 504.8,710.7 506,710.9 507.2,710.7 508.5,710.8 509.8,710.8 511,710.6 512.2,710.7 513.5,710.9 514.8,710.4 516,710.2 517.2,709.9 518.5,710.2 519.8,710.3 521,710.9 522.2,710.7 523.5,710.9 524.8,710.8 526,710.8 527.2,710.7 528.5,710.9 529.8,710.7 531,710.9 532.2,711 533.5,710.6 534.8,710.7 536,710.8 537.2,710.7 538.5,710.9 539.8,711 541,710.8 542.2,710.9 543.5,710.7 544.8,710.8 546,710.9 547.2,710.8 548.5,710.9 549.8,710.6 551,710.9 552.2,710.9 553.5,710.7 554.8,710.7 556,710.9 557.2,710.8 558.5,710.8 559.8,710.8 561,710.8 562.2,710.7 563.5,711 564.8,710.8 566,710.8 567.2,710.7 568.5,710.7 569.8,710.7 571,710.9 572.2,710.7 573.5,710.8 574.8,710.8 576,710.6 577.2,710.7 578.5,710.8 579.8,710.8 581,710.5 582.2,710.7 583.5,710.8 584.8,710.8 586,710.9 587.2,710.4 588.5,710.8 589.8,710.6 591,710.1 592.2,710.8 593.5,710.5 594.8,710.6 596,710.2 597.2,710.2 598.5,710.5 599.8,710.1 601,710.4 602.2,709.7 603.5,710.4 604.8,710.5 606,710 607.2,709.5 608.5,709.2 609.8,709.3 611,709.7 612.2,709.5 613.5,709.2 614.8,708.9 616,709.9 617.2,709.2 618.5,710.2 619.8,709.4 621,709.7 622.2,709.4 623.5,709.5 624.8,709 626,708.7 627.2,710.4 628.5,709 629.8,710 631,709.9 632.2,711.1 633.5,709.9 634.8,710.7 636,711 637.2,711.5 638.5,710.9 639.8,712.1 641,712.9 642.2,713 643.5,711.7 644.8,712.8 646,714.9 647.2,714.3 648.5,714.8 649.8,716.6 651,715.5 652.2,716.2 653.5,716.2 654.8,716.7 656,716.2 657.2,716.9 658.5,716.3 659.8,715.3 661,715.2 662.2,716.4 663.5,715.2 664.8,714.5 666,714.3 667.2,713.4 668.5,713.5 669.8,713.1 671,711.6 672.2,712.4 673.5,710.8 674.8,711.1 676,710.6 677.2,709.6 678.5,710.4 679.8,710.4 681,707.9 682.2,709.7 683.5,710.6 684.8,710.3 686,709.2 687.2,708.8 688.5,708.7 689.8,708.5 691,708.4 692.2,707.8 693.5,707.5 694.8,707.1 696,706.5 697.2,705.8 698.5,705 699.8,703.7 701,701.9 702.2,699.4 703.5,696.6 704.8,694.3 706,696.2 707.2,699.4 708.5,701.9 709.8,703.8 711,705 712.2,706.2 713.5,706.6 714.8,707.1 716,707.7 717.2,708.5 718.5,708.8 719.8,709.4 721,709.8 722.2,710.3 723.5,710.4 724.8,711.1 726,711.6 727.2,711.8 728.5,712.4 729.8,712.5 731,712.7 732.2,713.1 733.5,713.2 734.8,713.4 736,713.6 737.2,713.8 738.5,713.7 739.8,714.1 741,713.4 742.2,713.2 743.5,712.9 744.8,712.7 746,712.2 747.2,711.9 748.5,711.8 749.8,711.1 751,710.9 752.2,710.2 753.5,709.6 754.8,709.5 756,709.3" fill="none" stroke="#8CE79A" stroke-width="2.9" stroke-linejoin="round" stroke-linecap="butt" />
<polyline points="39.5,730.6 41.1,730.5 42.7,730.6 44.3,730.4 45.9,730.6 47.5,730.5 49.1,730.6 50.7,730.5 52.3,730.7 53.9,730.5 55.5,730.7 57.1,730.7 58.7,730.6 60.3,730.9 61.9,730.7 63.5,730.3 65.1,730.7 66.7,730.4 68.3,730.4 69.9,730.1 71.5,730.1 73.1,729.8 74.7,729.9 76.3,729.7 77.9,729.6 79.5,729.7 81.1,728.9 82.7,729 84.3,728.6 85.9,728.3 87.5,728.3 89.1,727.9 90.7,727.8 92.3,727.3 93.9,727.1 95.5,726.7 97.1,726.2 98.7,726.1 100.3,725.5 101.9,725.5 103.5,724.8 105.1,724.6 106.7,723.9 108.3,724 109.9,723.4 111.5,722.9 113.1,722.7 114.7,722 116.3,721.4 117.9,721.5 119.5,721 121.1,720.2 122.7,720 124.3,719.7 125.9,718.8 127.5,718.6 129.1,718.2 130.7,717.7 132.3,717 133.9,716.6 135.5,716.2 137.1,715.7 138.7,715.3 140.3,714.9 141.9,714.2 143.5,713.5 145.1,713.2 146.7,712.7 148.3,712.1 149.9,711.4 151.5,711 153.1,710.6 154.7,709.6 156.3,709.4 157.9,708.7 159.5,708.1 161.1,707.4 162.7,707.2 164.3,706.1 165.9,705.8 167.5,705.2 169.1,704.8 170.7,703.8 172.3,703.2 173.9,703.1 175.5,702.5 177.1,701.9 178.7,701.5 180.3,700.7 181.9,700 183.5,700 185.1,699.4 186.7,699.1 188.3,698.4 189.9,697.8 191.5,697.2 193.1,697.1 194.7,696.9 196.3,696.4 197.9,696.2 199.5,695.6 201.1,695.3 202.7,694.8 204.3,694.7 205.9,694.5 207.5,694.3 209.1,694.4 210.7,693.6 212.3,693.7 213.9,694.1 215.5,693.7 217.1,693.4 218.7,692.9 220.3,692.8 221.9,693 223.5,692.8 225.1,692.5 226.7,692.5 228.3,692.5 229.9,692.5 231.5,692.7 233.1,692.4 234.7,692.6 236.3,692.2 237.9,692.6 239.5,692.6 241.1,692.7 242.7,692.5 244.3,692.6 245.9,693.2 247.5,693.2 249.1,693.1 250.7,693.4 252.3,693 253.9,693.8 255.5,693.4 257.1,693.4 258.7,693.8 260.3,693.7 261.9,694 263.5,693.8 265.1,693.9 266.7,694.2 268.3,694.3 269.9,694.5 271.5,694.2 273.1,694.7 274.7,694.9 276.3,694.8 277.9,694.9 279.5,695.2 281.1,695 282.7,695.5 284.3,695.1 285.9,694.9 287.5,695.3 289.1,695.2 290.7,695.4 292.3,695.4 293.9,695.3 295.5,695.5 297.1,695.4 298.7,695.6 300.3,696 301.9,696 303.5,696.2 305.1,696.6 306.7,696.7 308.3,697.1 309.9,697 311.5,697.4 313.1,697.8 314.7,697.9 316.3,698.3 317.9,698.4 319.5,698.7 321.1,698.5 322.7,699.3 324.3,699.5 325.9,700 327.5,700.3 329.1,701.1 330.7,701.8 332.3,702.3 333.9,702.3 335.5,702.9 337.1,702 338.7,701.1 340.3,700.2 341.9,700.3 343.5,700 345.1,699.6 346.7,699.3 348.3,699.6 349.9,699.2 351.5,699 353.1,699.1 354.7,698.9 356.3,698.9 357.9,699.1 359.5,699.1 361.1,699.5 362.7,699.7 364.3,700.1 365.9,700.6 367.5,701.3 369.1,701.6 370.7,701.4 372.3,700.6 373.9,699.8 375.5,699.5 377.1,699.5 378.7,699.2 380.3,699.1 381.9,698.9 383.5,699.1 385.1,698.9 386.7,698.7 388.3,698.4 389.9,698.8 391.5,699 393.1,698.8" fill="none" stroke="#F0D3B2" stroke-width="2.2" stroke-linejoin="round" stroke-linecap="butt" />
<polyline points="397.1,699.5 400.1,699.6 403.1,699.7 406.1,699.8 409.1,699.8 412.1,699.7 415.1,699.9 418.1,700.1 421.1,699.9 424.1,699.9 427.1,699.9 430.1,700.1 433.1,700 436.1,700.3 439.1,700.4 442.1,700.1 445.1,700.3 448.1,700.4 451.1,700.5 454.1,700.4 457.1,700.6 460.1,700.5 463.1,700.6 466.1,700.6 469.1,700.8 472.1,700.8 475.1,700.8 478.1,700.9 481.1,701 484.1,700.9 487.1,701.2 490.1,701 492,701.1" fill="none" stroke="#F0D3B2" stroke-width="2.9" stroke-linejoin="round" stroke-linecap="butt" />
<polyline points="498.5,701.6 499.8,701.4 501,701.4 502.2,701.5 503.5,701.4 504.8,701.7 506,701.6 507.2,701.2 508.5,701.5 509.8,701.7 511,701.3 512.2,701.5 513.5,701.7 514.8,700.9 516,700.7 517.2,700.7 518.5,700.8 519.8,700.9 521,701.4 522.2,701.7 523.5,701.4 524.8,701.5 526,701.7 527.2,701.5 528.5,701.4 529.8,701.6 531,701.5 532.2,701.7 533.5,701.5 534.8,701.3 536,701.6 537.2,701.5 538.5,701.5 539.8,701.8 541,701.4 542.2,701.5 543.5,701.5 544.8,701.6 546,701.7 547.2,701.5 548.5,701.2 549.8,701.6 551,701.3 552.2,701.4 553.5,701.5 554.8,701.6 556,701.4 557.2,701.8 558.5,701.1 559.8,701.6 561,701.4 562.2,701.4 563.5,701.4 564.8,701.4 566,701.7 567.2,701.6 568.5,701.5 569.8,701.4 571,701.4 572.2,701.7 573.5,701.6 574.8,701.6 576,701.7 577.2,701.4 578.5,701.5 579.8,701.6 581,701.5 582.2,701.5 583.5,701 584.8,701.3 586,701.2 587.2,701.5 588.5,701.7 589.8,701.4 591,701.5 592.2,701.6 593.5,701.5 594.8,701.5 596,700.9 597.2,700.9 598.5,700.8 599.8,701 601,701.4 602.2,700.7 603.5,700.1 604.8,700.4 606,701.2 607.2,700.6 608.5,700.7 609.8,700.3 611,700.6 612.2,700.2 613.5,700.4 614.8,700.1 616,699.6 617.2,700.6 618.5,700.1 619.8,700.4 621,700.2 622.2,700.9 623.5,700.3 624.8,700.8 626,701 627.2,700 628.5,700.8 629.8,700.4 631,701.1 632.2,700 633.5,701 634.8,700.1 636,701 637.2,701.9 638.5,702.4 639.8,702.5 641,703.1 642.2,703.1 643.5,703.7 644.8,703.5 646,703.9 647.2,705.5 648.5,706.5 649.8,705.9 651,706.5 652.2,706.8 653.5,706.9 654.8,706.9 656,707 657.2,707 658.5,707.3 659.8,706.3 661,707 662.2,706.9 663.5,704.7 664.8,705.4 666,704.3 667.2,704.6 668.5,703.8 669.8,703.2 671,702.1 672.2,702.5 673.5,702.3 674.8,701.2 676,700.1 677.2,700.1 678.5,700.3 679.8,700.8 681,700.7 682.2,700.3 683.5,699.4 684.8,699.7 686,699.3 687.2,699 688.5,699.8 689.8,699.4 691,699.2 692.2,698.6 693.5,697.9 694.8,697.3 696,696.4 697.2,695.9 698.5,694.6 699.8,693.4 701,691.1 702.2,688 703.5,684.3 704.8,681.8 706,683.8 707.2,688 708.5,691.2 709.8,693.5 711,694.8 712.2,696.1 713.5,696.7 714.8,697.6 716,697.7 717.2,698.5 718.5,699 719.8,699.8 721,700.6 722.2,700.8 723.5,701.3 724.8,701.7 726,702.1 727.2,702.3 728.5,702.9 729.8,703.1 731,703.5 732.2,703.9 733.5,704.1 734.8,704.5 736,704.7 737.2,704.7 738.5,704.6 739.8,704.3 741,704.1 742.2,703.8 743.5,703.4 744.8,703.3 746,703.2 747.2,702.8 748.5,702.3 749.8,702.2 751,701.6 752.2,701 753.5,700.3 754.8,700.1 756,700" fill="none" stroke="#F0D3B2" stroke-width="2.9" stroke-linejoin="round" stroke-linecap="butt" />
<polyline points="39.5,721.5 41.1,721.3 42.7,721.6 44.3,721.3 45.9,721.5 47.5,721.6 49.1,721.4 50.7,721.3 52.3,721.6 53.9,721.8 55.5,721.6 57.1,721.6 58.7,721.7 60.3,721.2 61.9,721.6 63.5,721.6 65.1,721.6 66.7,721.8 68.3,721.3 69.9,721.4 71.5,721 73.1,720.9 74.7,720.8 76.3,720.5 77.9,720.6 79.5,720.4 81.1,720.2 82.7,720 84.3,719.5 85.9,719.2 87.5,718.8 89.1,718.8 90.7,718.6 92.3,718.3 93.9,717.7 95.5,717.6 97.1,717.1 98.7,716.5 100.3,716.2 101.9,716 103.5,715.6 105.1,715.2 106.7,714.5 108.3,714.1 109.9,713.6 111.5,713.4 113.1,713.1 114.7,712.4 116.3,712.5 117.9,711.8 119.5,711 121.1,710.9 122.7,710.3 124.3,710 125.9,709.5 127.5,708.9 129.1,708.8 130.7,707.9 132.3,707.2 133.9,706.6 135.5,706.3 137.1,705.8 138.7,705.4 140.3,704.7 141.9,704.3 143.5,703.5 145.1,703.3 146.7,702.6 148.3,702.3 149.9,701.3 151.5,700.7 153.1,700.6 154.7,699.8 156.3,699.1 157.9,698.2 159.5,698 161.1,697.1 162.7,696.4 164.3,695.8 165.9,694.9 167.5,694.5 169.1,694 170.7,693.3 172.3,693 173.9,692.4 175.5,691.9 177.1,691.3 178.7,691 180.3,690 181.9,689.7 183.5,689.4 185.1,688.6 186.7,687.8 188.3,687.9 189.9,687.2 191.5,686.8 193.1,686.3 194.7,685.7 196.3,685.4 197.9,684.8 199.5,684.7 201.1,683.8 202.7,684.2 204.3,683.8 205.9,683.6 207.5,683.3 209.1,683.3 210.7,683.2 212.3,682.9 213.9,682.5 215.5,682.4 217.1,682.4 218.7,682 220.3,682.2 221.9,681.9 223.5,681.8 225.1,681.4 226.7,681.7 228.3,681.7 229.9,681.6 231.5,681.3 233.1,681.5 234.7,681.5 236.3,681.4 237.9,681.7 239.5,681.5 241.1,681.8 242.7,681.6 244.3,682 245.9,682.2 247.5,681.7 249.1,681.8 250.7,682.1 252.3,682.1 253.9,682.5 255.5,682.4 257.1,682.6 258.7,682.8 260.3,682.9 261.9,682.7 263.5,683.1 265.1,683.2 266.7,683.3 268.3,683.6 269.9,683.5 271.5,683.7 273.1,683.6 274.7,683.9 276.3,683.7 277.9,684.1 279.5,684.1 281.1,684.2 282.7,683.6 284.3,684.1 285.9,684.1 287.5,684 289.1,684 290.7,684.1 292.3,684.3 293.9,684.4 295.5,684.7 297.1,684.9 298.7,685 300.3,684.9 301.9,685 303.5,685.2 305.1,685.6 306.7,686.2 308.3,686.1 309.9,686.3 311.5,686.6 313.1,686.9 314.7,686.7 316.3,687.2 317.9,687.9 319.5,687.7 321.1,688.3 322.7,688.6 324.3,688.9 325.9,689 327.5,689.5 329.1,690.5 330.7,691.2 332.3,691.7 333.9,691.9 335.5,692.2 337.1,691 338.7,690.3 340.3,690.1 341.9,689.3 343.5,689.4 345.1,688.9 346.7,689 348.3,688.4 349.9,688.9 351.5,688.3 353.1,688.5 354.7,688.4 356.3,688.1 357.9,688.4 359.5,688.7 361.1,688.6 362.7,688.9 364.3,689.3 365.9,690 367.5,690.5 369.1,690.9 370.7,690.8 372.3,689.8 373.9,688.4 375.5,688.3 377.1,687.8 378.7,687.9 380.3,687.5 381.9,687.8 383.5,688 385.1,687.6 386.7,687.6 388.3,687.4 389.9,687.6 391.5,687.5 393.1,687.4" fill="none" stroke="#ECB07C" stroke-width="2.2" stroke-linejoin="round" stroke-linecap="butt" />
<polyline points="397.1,688.1 400.1,688.1 403.1,688.3 406.1,688.5 409.1,688.5 412.1,688.4 415.1,688.6 418.1,688.5 421.1,688.5 424.1,688.7 427.1,688.6 430.1,689 433.1,688.6 436.1,688.7 439.1,688.9 442.1,688.9 445.1,689.1 448.1,689.1 451.1,689 454.1,689.2 457.1,689.2 460.1,689.2 463.1,689.4 466.1,689.3 469.1,689.4 472.1,689.3 475.1,689.4 478.1,689.7 481.1,689.3 484.1,689.5 487.1,689.7 490.1,689.9 492,689.8" fill="none" stroke="#ECB07C" stroke-width="2.9" stroke-linejoin="round" stroke-linecap="butt" />
<polyline points="498.5,690.1 499.8,690 501,690.3 502.2,690.3 503.5,690.4 504.8,690.1 506,690.2 507.2,690.3 508.5,690.3 509.8,690.1 511,690.2 512.2,689.9 513.5,689.9 514.8,689.8 516,689.6 517.2,689.4 518.5,689.6 519.8,690 521,690.1 522.2,690 523.5,690.2 524.8,690.1 526,690.2 527.2,690.4 528.5,690.4 529.8,690.2 531,690.3 532.2,690 533.5,690.2 534.8,690.1 536,690.6 537.2,690.3 538.5,690.2 539.8,690.3 541,690.1 542.2,690.1 543.5,690.1 544.8,690 546,690.3 547.2,690.2 548.5,690 549.8,690.1 551,690.4 552.2,690.5 553.5,690.3 554.8,689.9 556,690 557.2,690.1 558.5,690.4 559.8,690.1 561,690.4 562.2,690.3 563.5,690.2 564.8,690.2 566,689.6 567.2,690.2 568.5,690.2 569.8,690.4 571,690.1 572.2,690.3 573.5,690.1 574.8,690.3 576,690 577.2,690 578.5,690.4 579.8,690.1 581,690.2 582.2,690 583.5,690.1 584.8,690.5 586,690.2 587.2,690 588.5,690.5 589.8,690.2 591,690 592.2,690.1 593.5,690.1 594.8,689.8 596,689.7 597.2,689.7 598.5,689.7 599.8,689.6 601,689.5 602.2,689.9 603.5,688.8 604.8,689.3 606,689.7 607.2,689.3 608.5,689.1 609.8,689.1 611,689.8 612.2,688.8 613.5,688.7 614.8,689 616,688 617.2,689 618.5,688.8 619.8,689.7 621,689.3 622.2,688.9 623.5,689.3 624.8,688.4 626,689.3 627.2,689.6 628.5,689 629.8,688.5 631,689.3 632.2,689.6 633.5,689.6 634.8,689.9 636,690.6 637.2,690.7 638.5,690 639.8,691.6 641,691.7 642.2,691.4 643.5,692.7 644.8,692.2 646,693.4 647.2,693.2 648.5,694.5 649.8,695.5 651,696.1 652.2,695.4 653.5,696.2 654.8,696.7 656,696.5 657.2,695.5 658.5,695.9 659.8,695.7 661,695.1 662.2,694.2 663.5,694.8 664.8,694 666,693.4 667.2,692.6 668.5,692.7 669.8,691.6 671,690.9 672.2,692.1 673.5,690.3 674.8,690.3 676,689.4 677.2,689 678.5,688.5 679.8,688.7 681,689.5 682.2,689.4 683.5,688.3 684.8,688.5 686,688.3 687.2,688.4 688.5,687.4 689.8,687.7 691,687.3 692.2,686.6 693.5,686 694.8,685.4 696,685.1 697.2,683.8 698.5,682.7 699.8,681.1 701,678.5 702.2,675 703.5,670.4 704.8,667.6 706,670 707.2,674.6 708.5,678.7 709.8,681 711,683 712.2,683.9 713.5,684.8 714.8,685.7 716,686.3 717.2,687 718.5,687.5 719.8,688.3 721,688.9 722.2,689.2 723.5,690.1 724.8,690.4 726,690.7 727.2,691 728.5,691.1 729.8,691.8 731,692.1 732.2,692.4 733.5,692.7 734.8,692.7 736,693.1 737.2,693 738.5,693.3 739.8,692.9 741,692.7 742.2,692.5 743.5,692.5 744.8,692 746,691.7 747.2,691.3 748.5,690.9 749.8,690.4 751,689.9 752.2,689.5 753.5,689.3 754.8,688.6 756,689.1" fill="none" stroke="#ECB07C" stroke-width="2.9" stroke-linejoin="round" stroke-linecap="butt" />
</g>
<rect x="43.5" y="674.6" width="345.6" height="116.2" fill="none" stroke="#606060" stroke-width="1.0" stroke-dasharray="4.4 3.4"/>
<rect x="145.1" y="627.3" width="95.6" height="40.8" fill="#fff" stroke="#555" stroke-width="1.0"/>
<text x="191.6" y="647.2" font-size="17" text-anchor="middle"><tspan font-style="italic">v</tspan>-O-H</text>
<text x="190.3" y="663.4" font-size="10.4" text-anchor="middle" textLength="60" lengthAdjust="spacingAndGlyphs">(3500 -2850)</text>
<path d="M241.4 647.7 L298.5 647.7 L298.5 673.6" fill="none" stroke="#606060" stroke-width="1.0" stroke-dasharray="4.4 3.4"/><polygon points="241.4,647.7 245.6,649.4 245.6,646" fill="#606060"/>
<text x="382.3" y="600.7" font-size="17" text-anchor="end" textLength="33.5" lengthAdjust="spacingAndGlyphs">0.001</text>
<line x1="388.6" y1="588.9" x2="388.6" y2="600.7" stroke="#000" stroke-width="2.6" />
<line x1="408" y1="588.1" x2="408" y2="614.8" stroke="#000" stroke-width="2.6" />
<text x="412.5" y="607.7" font-size="17" textLength="34" lengthAdjust="spacingAndGlyphs">0.005</text>
<text x="505.6" y="632.9" font-size="17" text-anchor="middle"><tspan font-style="italic">v</tspan>-CO<tspan font-size="10.5" dy="-6.1">*</tspan></text>
<text x="507.6" y="654.8" font-size="17.4" text-anchor="middle" fill="#F0505C" textLength="140.8" lengthAdjust="spacingAndGlyphs">(Week CO affinity)</text>
<path d="M521.5 660.5 L521.5 680.7" fill="none" stroke="#F0505C" stroke-width="1.0" stroke-dasharray="4.4 3.4"/><polygon points="521.5,660.5 519.8,664.7 523.2,664.7" fill="#F0505C"/>
<rect x="508.1" y="680.7" width="25.7" height="91.8" fill="none" stroke="#F0505C" stroke-width="1.0" stroke-dasharray="4.4 3.4"/>
<rect x="588.6" y="598.2" width="71.2" height="49" fill="#fff" stroke="#555" stroke-width="1.0"/>
<text x="593.2" y="617.8" font-size="18" fill="#F0505C">COOH<tspan font-size="11.2" dy="-6.5">*</tspan></text>
<text x="593.2" y="639.9" font-size="18">H<tspan font-size="11.2" dy="4">2</tspan><tspan dy="-4">O (g)</tspan></text>
<path d="M623.3 648.5 L623.3 663.1 L654.8 663.1 L654.8 678.1" fill="none" stroke="#606060" stroke-width="1.0" stroke-dasharray="4.4 3.4"/><polygon points="623.3,648.5 621.6,652.7 625,652.7" fill="#606060"/>
<rect x="617.1" y="678.1" width="75.2" height="95.6" fill="none" stroke="#606060" stroke-width="1.0" stroke-dasharray="4.4 3.4"/>
<path d="M660.8 637.4 L737 637.4 L737 673.1" fill="none" stroke="#606060" stroke-width="1.0" stroke-dasharray="4.4 3.4"/><polygon points="660.8,637.4 665,639.1 665,635.7" fill="#606060"/>
<rect x="722.7" y="673.1" width="28.7" height="100.6" fill="none" stroke="#606060" stroke-width="1.0" stroke-dasharray="4.4 3.4"/>
<text x="678.7" y="613.5" font-size="18" fill="#F0505C">COOH<tspan font-size="11.2" dy="-6.5">*</tspan></text>
<path d="M705.6 619 L705.6 665.6" fill="none" stroke="#606060" stroke-width="1.0" stroke-dasharray="4.4 3.4"/><polygon points="705.6,619 703.9,623.2 707.3,623.2" fill="#606060"/>
<rect x="696" y="665.6" width="21.4" height="108.1" fill="none" stroke="#606060" stroke-width="1.0" stroke-dasharray="4.4 3.4"/>
<rect x="39.5" y="583.8" width="714.6" height="209.5" fill="none" stroke="#000" stroke-width="1.7"/>
<line x1="395.6" y1="583.8" x2="395.6" y2="793.3" stroke="#000" stroke-width="2.0" />
<rect x="491.9" y="791.8" width="6.8" height="3" fill="#fff"/>
<line x1="489.1" y1="797.5" x2="495.1" y2="788.9" stroke="#000" stroke-width="1.3" />
<line x1="495.6" y1="797.5" x2="501.6" y2="788.9" stroke="#000" stroke-width="1.3" />
<line x1="39.5" y1="793.3" x2="39.5" y2="797.9" stroke="#000" stroke-width="1.3" />
<text x="38.8" y="822.1" font-size="21.8" text-anchor="middle" transform="rotate(-24 38.8 814.3)" textLength="46.5" lengthAdjust="spacingAndGlyphs">3500</text>
<line x1="141.2" y1="793.3" x2="141.2" y2="797.9" stroke="#000" stroke-width="1.3" />
<text x="140.5" y="822.1" font-size="21.8" text-anchor="middle" transform="rotate(-24 140.5 814.3)" textLength="46.5" lengthAdjust="spacingAndGlyphs">3300</text>
<line x1="243" y1="793.3" x2="243" y2="797.9" stroke="#000" stroke-width="1.3" />
<text x="242.3" y="822.1" font-size="21.8" text-anchor="middle" transform="rotate(-24 242.3 814.3)" textLength="46.5" lengthAdjust="spacingAndGlyphs">3100</text>
<line x1="344.7" y1="793.3" x2="344.7" y2="797.9" stroke="#000" stroke-width="1.3" />
<text x="344" y="822.1" font-size="21.8" text-anchor="middle" transform="rotate(-24 344 814.3)" textLength="46.5" lengthAdjust="spacingAndGlyphs">2900</text>
<line x1="90.4" y1="793.3" x2="90.4" y2="795.9" stroke="#000" stroke-width="1.3" />
<line x1="192.1" y1="793.3" x2="192.1" y2="795.9" stroke="#000" stroke-width="1.3" />
<line x1="293.9" y1="793.3" x2="293.9" y2="795.9" stroke="#000" stroke-width="1.3" />
<line x1="395.6" y1="793.3" x2="395.6" y2="797.9" stroke="#000" stroke-width="1.3" />
<text x="394.9" y="822.1" font-size="21.8" text-anchor="middle" transform="rotate(-24 394.9 814.3)" textLength="46.5" lengthAdjust="spacingAndGlyphs">2800</text>
<line x1="444.7" y1="793.3" x2="444.7" y2="797.9" stroke="#000" stroke-width="1.3" />
<text x="444" y="822.1" font-size="21.8" text-anchor="middle" transform="rotate(-24 444 814.3)" textLength="46.5" lengthAdjust="spacingAndGlyphs">2600</text>
<line x1="420.2" y1="793.3" x2="420.2" y2="795.9" stroke="#000" stroke-width="1.3" />
<line x1="469.2" y1="793.3" x2="469.2" y2="795.9" stroke="#000" stroke-width="1.3" />
<line x1="509.9" y1="793.3" x2="509.9" y2="797.9" stroke="#000" stroke-width="1.3" />
<text x="506.7" y="822.1" font-size="21.8" text-anchor="middle" transform="rotate(-24 506.7 814.3)" textLength="46.5" lengthAdjust="spacingAndGlyphs">2200</text>
<line x1="558.7" y1="793.3" x2="558.7" y2="797.9" stroke="#000" stroke-width="1.3" />
<text x="558" y="822.1" font-size="21.8" text-anchor="middle" transform="rotate(-24 558 814.3)" textLength="46.5" lengthAdjust="spacingAndGlyphs">2000</text>
<line x1="607.6" y1="793.3" x2="607.6" y2="797.9" stroke="#000" stroke-width="1.3" />
<text x="606.9" y="822.1" font-size="21.8" text-anchor="middle" transform="rotate(-24 606.9 814.3)" textLength="46.5" lengthAdjust="spacingAndGlyphs">1800</text>
<line x1="656.4" y1="793.3" x2="656.4" y2="797.9" stroke="#000" stroke-width="1.3" />
<text x="655.7" y="822.1" font-size="21.8" text-anchor="middle" transform="rotate(-24 655.7 814.3)" textLength="46.5" lengthAdjust="spacingAndGlyphs">1600</text>
<line x1="705.3" y1="793.3" x2="705.3" y2="797.9" stroke="#000" stroke-width="1.3" />
<text x="704.6" y="822.1" font-size="21.8" text-anchor="middle" transform="rotate(-24 704.6 814.3)" textLength="46.5" lengthAdjust="spacingAndGlyphs">1400</text>
<line x1="754.1" y1="793.3" x2="754.1" y2="797.9" stroke="#000" stroke-width="1.3" />
<text x="753.4" y="822.1" font-size="21.8" text-anchor="middle" transform="rotate(-24 753.4 814.3)" textLength="46.5" lengthAdjust="spacingAndGlyphs">1200</text>
<line x1="534.3" y1="793.3" x2="534.3" y2="795.9" stroke="#000" stroke-width="1.3" />
<line x1="583.2" y1="793.3" x2="583.2" y2="795.9" stroke="#000" stroke-width="1.3" />
<line x1="632" y1="793.3" x2="632" y2="795.9" stroke="#000" stroke-width="1.3" />
<line x1="680.8" y1="793.3" x2="680.8" y2="795.9" stroke="#000" stroke-width="1.3" />
<line x1="729.7" y1="793.3" x2="729.7" y2="795.9" stroke="#000" stroke-width="1.3" />
<text x="261.3" y="857.6" font-size="29.8" textLength="246" lengthAdjust="spacingAndGlyphs">Wavenumber (cm<tspan font-size="18.5" dy="-10.7">-1</tspan><tspan dy="10.7">)</tspan></text>
<text x="24.3" y="699.9" font-size="29.2" text-anchor="middle" transform="rotate(-90 24.3 699.9)" textLength="192.5" lengthAdjust="spacingAndGlyphs">K-M (arb. units)</text>
<text x="47.3" y="611.2" font-size="25.5">CuNi-DAC</text>
<line x1="767" y1="611.5" x2="788.8" y2="611.5" stroke="#ECB07C" stroke-width="4.6" stroke-linecap="round"/>
<text x="796.1" y="618.2" font-size="19" textLength="50" lengthAdjust="spacingAndGlyphs">30 min</text>
<line x1="767" y1="634.1" x2="788.8" y2="634.1" stroke="#F0D3B2" stroke-width="4.6" stroke-linecap="round"/>
<text x="796.1" y="640.8" font-size="19" textLength="50" lengthAdjust="spacingAndGlyphs">20 min</text>
<line x1="767" y1="656.8" x2="788.8" y2="656.8" stroke="#8CE79A" stroke-width="4.6" stroke-linecap="round"/>
<text x="796.1" y="663.5" font-size="19" textLength="50" lengthAdjust="spacingAndGlyphs">12 min</text>
<line x1="767" y1="678.9" x2="788.8" y2="678.9" stroke="#CCE8BC" stroke-width="4.6" stroke-linecap="round"/>
<text x="796.1" y="685.6" font-size="19" textLength="50" lengthAdjust="spacingAndGlyphs">10 min</text>
<line x1="767" y1="701" x2="788.8" y2="701" stroke="#E48392" stroke-width="4.6" stroke-linecap="round"/>
<text x="796.1" y="707.7" font-size="19" textLength="41" lengthAdjust="spacingAndGlyphs">8 min</text>
<line x1="767" y1="723.4" x2="788.8" y2="723.4" stroke="#EEB8DA" stroke-width="4.6" stroke-linecap="round"/>
<text x="796.1" y="730.1" font-size="19" textLength="41" lengthAdjust="spacingAndGlyphs">6 min</text>
<line x1="767" y1="745.3" x2="788.8" y2="745.3" stroke="#76E0FA" stroke-width="4.6" stroke-linecap="round"/>
<text x="796.1" y="752" font-size="19" textLength="41" lengthAdjust="spacingAndGlyphs">4 min</text>
<line x1="767" y1="767.9" x2="788.8" y2="767.9" stroke="#B4E6F4" stroke-width="4.6" stroke-linecap="round"/>
<text x="796.1" y="774.6" font-size="19" textLength="41" lengthAdjust="spacingAndGlyphs">2 min</text>
<text x="3.8" y="591.9" font-size="34.5" font-weight="bold">c</text>
<clipPath id="clip44"><rect x="38.9" y="869.4" width="718.1" height="209.9"/></clipPath>
<g clip-path="url(#clip44)">
<polyline points="38.9,1061 40.5,1061.3 42.1,1061.3 43.7,1061.2 45.3,1061.2 46.9,1061.3 48.5,1061.3 50.1,1061.3 51.7,1061.4 53.3,1061.4 54.9,1061.6 56.5,1061.3 58.1,1061.2 59.7,1061.4 61.3,1061.2 62.9,1061.1 64.5,1061.6 66.1,1061.5 67.7,1061.2 69.3,1061.2 70.9,1061.4 72.5,1061.3 74.1,1061.4 75.7,1061.2 77.3,1060.9 78.9,1060.9 80.5,1061.4 82.1,1061.2 83.7,1060.7 85.3,1061.1 86.9,1061.1 88.5,1061.1 90.1,1060.8 91.7,1060.8 93.3,1060.5 94.9,1060.2 96.5,1060.3 98.1,1060.2 99.7,1059.9 101.3,1059.5 102.9,1059.5 104.5,1059.3 106.1,1059.3 107.7,1058.8 109.3,1058.6 110.9,1058.4 112.5,1058.4 114.1,1058.4 115.7,1058.1 117.3,1057.6 118.9,1057.5 120.5,1057.9 122.1,1057.6 123.7,1057.4 125.3,1057.5 126.9,1057.6 128.5,1057.8 130.1,1057.6 131.7,1057.6 133.3,1057.7 134.9,1058.2 136.5,1058.2 138.1,1058.4 139.7,1058.7 141.3,1058.6 142.9,1059.3 144.5,1059.2 146.1,1059.4 147.7,1059.6 149.3,1059.9 150.9,1060 152.5,1060.2 154.1,1060.5 155.7,1060.8 157.3,1060.8 158.9,1060.5 160.5,1060.8 162.1,1061.2 163.7,1061 165.3,1061.1 166.9,1061.1 168.5,1061.4 170.1,1061.1 171.7,1061.1 173.3,1061.4 174.9,1060.9 176.5,1061.1 178.1,1061.6 179.7,1061.1 181.3,1061.2 182.9,1060.7 184.5,1061.1 186.1,1060.9 187.7,1060.9 189.3,1060.8 190.9,1060.9 192.5,1060.8 194.1,1061 195.7,1060.4 197.3,1060.6 198.9,1060.8 200.5,1060.7 202.1,1060.9 203.7,1060.5 205.3,1060.7 206.9,1060.5 208.5,1060.2 210.1,1060 211.7,1060.7 213.3,1060.5 214.9,1060.3 216.5,1060.1 218.1,1059.9 219.7,1060.1 221.3,1060.2 222.9,1060.4 224.5,1060.1 226.1,1060.1 227.7,1060.2 229.3,1060.4 230.9,1060.5 232.5,1060.6 234.1,1060.3 235.7,1060.5 237.3,1060.3 238.9,1060.4 240.5,1060.5 242.1,1060.7 243.7,1060.2 245.3,1060.7 246.9,1061.1 248.5,1061 250.1,1061.1 251.7,1060.8 253.3,1061 254.9,1060.8 256.5,1061.3 258.1,1061 259.7,1061 261.3,1061 262.9,1061.2 264.5,1061.5 266.1,1061.2 267.7,1061.2 269.3,1061.1 270.9,1061.4 272.5,1061.2 274.1,1061.3 275.7,1061.2 277.3,1061.2 278.9,1061.4 280.5,1061.4 282.1,1061 283.7,1061.3 285.3,1061.3 286.9,1061.5 288.5,1061.7 290.1,1061.3 291.7,1061.4 293.3,1061.3 294.9,1061.4 296.5,1061.8 298.1,1061.5 299.7,1061.9 301.3,1061.7 302.9,1061.7 304.5,1061.7 306.1,1061.7 307.7,1061.9 309.3,1061.8 310.9,1061.5 312.5,1061.8 314.1,1062 315.7,1061.9 317.3,1061.6 318.9,1062.2 320.5,1062.3 322.1,1061.8 323.7,1062.1 325.3,1062.2 326.9,1062.2 328.5,1062.2 330.1,1061.9 331.7,1062.3 333.3,1062.1 334.9,1062.1 336.5,1062.3 338.1,1062.4 339.7,1062.4 341.3,1062.1 342.9,1062.3 344.5,1062 346.1,1062.4 347.7,1062.2 349.3,1062.2 350.9,1062.5 352.5,1062.4 354.1,1062.2 355.7,1062.5 357.3,1062.7 358.9,1062.1 360.5,1062.4 362.1,1062.4 363.7,1062.4 365.3,1062.4 366.9,1062.6 368.5,1062.5 370.1,1062.4 371.7,1062.6 373.3,1062.3 374.9,1062.7 376.5,1062.4 378.1,1062.4 379.7,1062.5 381.3,1062.3 382.9,1062.2 384.5,1062.3 386.1,1062.7 387.7,1062.6 389.3,1062.4 390.9,1062.5 392.5,1062.5 394.1,1062.4" fill="none" stroke="#B4E6F4" stroke-width="2.2" stroke-linejoin="round" stroke-linecap="butt" />
<polyline points="396.8,1060.2 399.8,1060.1 402.8,1060.1 405.8,1060.1 408.8,1060.3 411.8,1060.3 414.8,1060.2 417.8,1060.2 420.8,1060.1 423.8,1060.2 426.8,1060.2 429.8,1060.2 432.8,1060.2 435.8,1060.2 438.8,1060.4 441.8,1060.1 444.8,1060.2 447.8,1060.2 450.8,1060.2 453.8,1060.4 456.8,1060.2 459.8,1060 462.8,1060.1 465.8,1060 468.8,1060.2 471.8,1060.2 474.8,1060.3 477.8,1060.3 480.8,1060.1 483.8,1060.2 486.8,1060.2 489.8,1060.4 492.5,1060.2" fill="none" stroke="#B4E6F4" stroke-width="2.9" stroke-linejoin="round" stroke-linecap="butt" />
<polyline points="499,1060.2 500.2,1060.1 501.5,1060.1 502.8,1060.3 504,1059.9 505.2,1060.1 506.5,1060 507.8,1060 509,1060.3 510.2,1059.9 511.5,1060.4 512.8,1060 514,1060 515.2,1060.4 516.5,1059.6 517.8,1059.3 519,1059.2 520.2,1059.1 521.5,1059.8 522.8,1060.1 524,1060.2 525.2,1060.1 526.5,1060.2 527.8,1060.1 529,1059.9 530.2,1060.2 531.5,1060.1 532.8,1060 534,1060 535.2,1060 536.5,1060 537.8,1059.9 539,1059.8 540.2,1060.1 541.5,1060 542.8,1060 544,1060.1 545.2,1059.8 546.5,1060 547.8,1059.9 549,1059.9 550.2,1059.8 551.5,1060.1 552.8,1059.7 554,1059.8 555.2,1059.9 556.5,1059.9 557.8,1059.8 559,1059.6 560.2,1059.6 561.5,1059.5 562.8,1059.7 564,1060 565.2,1059.7 566.5,1059.9 567.8,1059.8 569,1059.6 570.2,1059.3 571.5,1059.4 572.8,1059.5 574,1059.6 575.2,1059.8 576.5,1059.5 577.8,1059.5 579,1059.7 580.2,1059.6 581.5,1059.5 582.8,1059.7 584,1059.4 585.2,1059.5 586.5,1059.3 587.8,1059.6 589,1059.1 590.2,1059.5 591.5,1059.2 592.8,1059.5 594,1059.1 595.2,1059.5 596.5,1059.6 597.8,1059 599,1059.6 600.2,1058.8 601.5,1059 602.8,1058.7 604,1058.9 605.2,1059 606.5,1058.9 607.8,1059.4 609,1059.2 610.2,1058.7 611.5,1058.8 612.8,1058.3 614,1059 615.2,1058.1 616.5,1058 617.8,1058 619,1059.4 620.2,1058.8 621.5,1058.6 622.8,1057.9 624,1058.5 625.2,1057.7 626.5,1058.9 627.8,1058.4 629,1058.4 630.2,1057.8 631.5,1058.9 632.8,1058.4 634,1058.7 635.2,1058 636.5,1057.9 637.8,1059.8 639,1058.3 640.2,1058.5 641.5,1058.8 642.8,1059.3 644,1060.3 645.2,1060 646.5,1062 647.8,1063.4 649,1064.3 650.2,1063.9 651.5,1065.3 652.8,1064.8 654,1063.8 655.2,1061.3 656.5,1061.6 657.8,1059.9 659,1059.2 660.2,1059.1 661.5,1058.8 662.8,1059.5 664,1059.6 665.2,1059.6 666.5,1060.9 667.8,1060.5 669,1062.2 670.2,1062.2 671.5,1062.6 672.8,1062.3 674,1060.1 675.2,1058.9 676.5,1057.4 677.8,1059.5 679,1059 680.2,1058.4 681.5,1058.6 682.8,1058.9 684,1058.7 685.2,1057.6 686.5,1058.3 687.8,1058 689,1057.6 690.2,1058.1 691.5,1057.7 692.8,1057.5 694,1057.3 695.2,1057.1 696.5,1056.9 697.8,1056.5 699,1056.2 700.2,1055.8 701.5,1054.7 702.8,1053.5 704,1050.6 705.2,1044.6 706.5,1036.3 707.8,1039.8 709,1048 710.2,1051.8 711.5,1054.1 712.8,1055.4 714,1055.5 715.2,1056.2 716.5,1056.6 717.8,1056.9 719,1056.8 720.2,1057.2 721.5,1057.3 722.8,1057.6 724,1057.6 725.2,1057.8 726.5,1057.6 727.8,1057.7 729,1058.1 730.2,1057.8 731.5,1058.3 732.8,1058.2 734,1058.6 735.2,1058.6 736.5,1058.8 737.8,1058.7 739,1059 740.2,1058.9 741.5,1058.9 742.8,1059 744,1058.9 745.2,1058.5 746.5,1058.4 747.8,1058.3 749,1058.5 750.2,1058.5 751.5,1057.8 752.8,1058 754,1058.2 755.2,1058.1 756.5,1057.6 757.8,1057.8 759,1057.8" fill="none" stroke="#B4E6F4" stroke-width="2.9" stroke-linejoin="round" stroke-linecap="butt" />
<polyline points="38.9,1049.1 40.5,1048.8 42.1,1049 43.7,1048.7 45.3,1049.1 46.9,1049.1 48.5,1049.1 50.1,1048.8 51.7,1049.1 53.3,1049.1 54.9,1048.8 56.5,1049.2 58.1,1049.3 59.7,1049.3 61.3,1048.9 62.9,1049.3 64.5,1049.1 66.1,1049.2 67.7,1049.3 69.3,1049.3 70.9,1049 72.5,1049 74.1,1049.3 75.7,1049.3 77.3,1049 78.9,1049.4 80.5,1049.3 82.1,1048.9 83.7,1049 85.3,1048.9 86.9,1048.9 88.5,1048.6 90.1,1048.7 91.7,1048.6 93.3,1048.4 94.9,1048.4 96.5,1048.4 98.1,1048.1 99.7,1048 101.3,1047.7 102.9,1047.4 104.5,1047 106.1,1047.1 107.7,1046.8 109.3,1046.8 110.9,1046.7 112.5,1046.4 114.1,1045.9 115.7,1046 117.3,1045.6 118.9,1045.6 120.5,1045.2 122.1,1045.4 123.7,1045.4 125.3,1045.5 126.9,1045.4 128.5,1045.7 130.1,1045.6 131.7,1045.4 133.3,1046.2 134.9,1046 136.5,1045.9 138.1,1046.2 139.7,1046.4 141.3,1046.9 142.9,1046.8 144.5,1046.8 146.1,1047.6 147.7,1047.6 149.3,1047.5 150.9,1047.9 152.5,1048 154.1,1048.3 155.7,1048.2 157.3,1048.1 158.9,1048.6 160.5,1048.5 162.1,1048.8 163.7,1048.8 165.3,1049.1 166.9,1048.8 168.5,1048.7 170.1,1049.1 171.7,1049.3 173.3,1048.9 174.9,1049 176.5,1049 178.1,1049 179.7,1049.1 181.3,1049.1 182.9,1048.9 184.5,1048.6 186.1,1049.4 187.7,1048.7 189.3,1048.5 190.9,1048.5 192.5,1048.9 194.1,1048.6 195.7,1048.7 197.3,1048.4 198.9,1048.6 200.5,1048.2 202.1,1048.6 203.7,1048.3 205.3,1048.4 206.9,1048.4 208.5,1048.2 210.1,1048 211.7,1048.3 213.3,1048.1 214.9,1048.4 216.5,1047.6 218.1,1048 219.7,1048.1 221.3,1048.1 222.9,1048 224.5,1048.2 226.1,1047.8 227.7,1047.8 229.3,1048.4 230.9,1047.9 232.5,1048.4 234.1,1048.1 235.7,1048.5 237.3,1048.4 238.9,1048.5 240.5,1048.1 242.1,1048.7 243.7,1048.5 245.3,1048.5 246.9,1048.2 248.5,1048.7 250.1,1048.9 251.7,1048.7 253.3,1048.9 254.9,1049.1 256.5,1048.9 258.1,1049.1 259.7,1048.9 261.3,1049 262.9,1049.1 264.5,1049 266.1,1049.2 267.7,1049.1 269.3,1049 270.9,1048.7 272.5,1048.7 274.1,1048.9 275.7,1049 277.3,1048.8 278.9,1048.9 280.5,1048.9 282.1,1048.8 283.7,1048.5 285.3,1049 286.9,1049.4 288.5,1049.5 290.1,1049.8 291.7,1049.3 293.3,1049.3 294.9,1049 296.5,1049.4 298.1,1049.2 299.7,1049.3 301.3,1049.3 302.9,1049.3 304.5,1049.2 306.1,1049.8 307.7,1049.4 309.3,1049.5 310.9,1049.5 312.5,1049.7 314.1,1049.7 315.7,1049.9 317.3,1049.6 318.9,1049.9 320.5,1049.3 322.1,1049.6 323.7,1049.7 325.3,1049.7 326.9,1049.6 328.5,1049.6 330.1,1050 331.7,1049.8 333.3,1050.1 334.9,1050.3 336.5,1049.5 338.1,1049.7 339.7,1049.7 341.3,1049.7 342.9,1049.9 344.5,1049.8 346.1,1049.7 347.7,1050.1 349.3,1049.7 350.9,1050.2 352.5,1049.8 354.1,1050.2 355.7,1049.7 357.3,1049.9 358.9,1050.2 360.5,1049.6 362.1,1050.1 363.7,1049.9 365.3,1049.9 366.9,1049.9 368.5,1050 370.1,1049.7 371.7,1049.8 373.3,1050 374.9,1049.9 376.5,1050.1 378.1,1049.7 379.7,1050.1 381.3,1050.1 382.9,1050.1 384.5,1049.9 386.1,1050.3 387.7,1049.6 389.3,1050 390.9,1049.9 392.5,1050.1 394.1,1050" fill="none" stroke="#76E0FA" stroke-width="2.2" stroke-linejoin="round" stroke-linecap="butt" />
<polyline points="396.8,1048.5 399.8,1048.4 402.8,1048.5 405.8,1048.4 408.8,1048.6 411.8,1048.4 414.8,1048.5 417.8,1048.5 420.8,1048.4 423.8,1048.4 426.8,1048.4 429.8,1048.5 432.8,1048.3 435.8,1048.5 438.8,1048.5 441.8,1048.5 444.8,1048.5 447.8,1048.6 450.8,1048.5 453.8,1048.5 456.8,1048.4 459.8,1048.5 462.8,1048.4 465.8,1048.5 468.8,1048.5 471.8,1048.6 474.8,1048.5 477.8,1048.6 480.8,1048.6 483.8,1048.6 486.8,1048.4 489.8,1048.5 492.5,1048.5" fill="none" stroke="#76E0FA" stroke-width="2.9" stroke-linejoin="round" stroke-linecap="butt" />
<polyline points="499,1048.4 500.2,1048.6 501.5,1048.6 502.8,1048.7 504,1048.5 505.2,1048.7 506.5,1048.5 507.8,1048.4 509,1048.4 510.2,1048.7 511.5,1048.5 512.8,1048.4 514,1048.2 515.2,1048.2 516.5,1048 517.8,1047.5 519,1047.3 520.2,1047.7 521.5,1048.1 522.8,1048.4 524,1048.3 525.2,1048.8 526.5,1048.1 527.8,1048.6 529,1048.4 530.2,1048.1 531.5,1048.5 532.8,1048.3 534,1048.1 535.2,1048.2 536.5,1048.1 537.8,1048.3 539,1048 540.2,1048.3 541.5,1048.1 542.8,1048.1 544,1048 545.2,1048.1 546.5,1048.1 547.8,1048 549,1047.6 550.2,1047.9 551.5,1048 552.8,1048 554,1048 555.2,1047.9 556.5,1047.8 557.8,1047.6 559,1047.9 560.2,1047.8 561.5,1047.8 562.8,1048 564,1047.7 565.2,1047.8 566.5,1047.8 567.8,1047.8 569,1047.6 570.2,1047.5 571.5,1047.6 572.8,1047.6 574,1047.4 575.2,1047.4 576.5,1047.2 577.8,1047.6 579,1047.6 580.2,1047.4 581.5,1047.1 582.8,1047.5 584,1047.2 585.2,1047.2 586.5,1047.1 587.8,1047.3 589,1047.1 590.2,1047.3 591.5,1047.2 592.8,1046.9 594,1047.3 595.2,1046.8 596.5,1046.8 597.8,1047.1 599,1046.8 600.2,1046.8 601.5,1046.6 602.8,1046.8 604,1046.4 605.2,1046.3 606.5,1046.2 607.8,1046.9 609,1046.1 610.2,1046.1 611.5,1045.8 612.8,1045.9 614,1046 615.2,1045.5 616.5,1045.4 617.8,1046.4 619,1046.2 620.2,1045.4 621.5,1045.9 622.8,1046.4 624,1045.8 625.2,1045.6 626.5,1045.8 627.8,1045.4 629,1046.7 630.2,1045 631.5,1045 632.8,1046.6 634,1045 635.2,1046.8 636.5,1044.6 637.8,1046.4 639,1045.2 640.2,1045.5 641.5,1045.9 642.8,1046.9 644,1046.6 645.2,1047.6 646.5,1049.5 647.8,1050.2 649,1050.2 650.2,1051.8 651.5,1052.3 652.8,1051.1 654,1050.6 655.2,1048.3 656.5,1047.4 657.8,1046.9 659,1046.9 660.2,1046.8 661.5,1046.3 662.8,1046.9 664,1047.5 665.2,1046.8 666.5,1046.8 667.8,1048.2 669,1049.1 670.2,1050.9 671.5,1048.8 672.8,1049.1 674,1048.6 675.2,1046.8 676.5,1044.8 677.8,1045.7 679,1045.4 680.2,1045.8 681.5,1045.5 682.8,1045.4 684,1046 685.2,1044.9 686.5,1045.3 687.8,1045.3 689,1045.3 690.2,1044.6 691.5,1044.7 692.8,1044.3 694,1044.4 695.2,1044.5 696.5,1043.9 697.8,1043.6 699,1043.1 700.2,1042.6 701.5,1041.6 702.8,1039.7 704,1037.1 705.2,1031.2 706.5,1022.1 707.8,1026 709,1034.5 710.2,1038.9 711.5,1040.4 712.8,1041.8 714,1042.4 715.2,1043 716.5,1043.4 717.8,1043.5 719,1044 720.2,1044.2 721.5,1044.3 722.8,1044.5 724,1044.6 725.2,1044.6 726.5,1044.8 727.8,1044.9 729,1044.9 730.2,1045.1 731.5,1045.3 732.8,1045.4 734,1045.8 735.2,1046.3 736.5,1045.5 737.8,1046.3 739,1046.7 740.2,1046.4 741.5,1046.2 742.8,1046.1 744,1046.3 745.2,1046.3 746.5,1045.9 747.8,1046 749,1045.7 750.2,1045.6 751.5,1045.5 752.8,1045.1 754,1045 755.2,1045 756.5,1044.7 757.8,1044.9 759,1044.8" fill="none" stroke="#76E0FA" stroke-width="2.9" stroke-linejoin="round" stroke-linecap="butt" />
<polyline points="38.9,1034.3 40.5,1034 42.1,1034.2 43.7,1034.1 45.3,1034.4 46.9,1033.9 48.5,1034.4 50.1,1034.2 51.7,1033.9 53.3,1034.2 54.9,1034.1 56.5,1034 58.1,1034 59.7,1034 61.3,1034.4 62.9,1033.8 64.5,1034.2 66.1,1034.1 67.7,1034.3 69.3,1034.2 70.9,1034.2 72.5,1034.2 74.1,1033.8 75.7,1034 77.3,1033.5 78.9,1033.8 80.5,1034.1 82.1,1033.6 83.7,1033.9 85.3,1033.8 86.9,1034.1 88.5,1033.8 90.1,1033.7 91.7,1033.6 93.3,1033.6 94.9,1033.5 96.5,1033.5 98.1,1033.4 99.7,1033 101.3,1033.2 102.9,1032.8 104.5,1032.9 106.1,1032.4 107.7,1032.5 109.3,1032.6 110.9,1031.7 112.5,1032 114.1,1032 115.7,1031.5 117.3,1031.7 118.9,1031.4 120.5,1031.5 122.1,1031.5 123.7,1031.2 125.3,1031.3 126.9,1031 128.5,1031.5 130.1,1031.4 131.7,1031.2 133.3,1031.5 134.9,1031.8 136.5,1031.8 138.1,1032.3 139.7,1032.3 141.3,1032.4 142.9,1032.4 144.5,1032.5 146.1,1032.9 147.7,1032.9 149.3,1033.2 150.9,1033 152.5,1033.4 154.1,1033.4 155.7,1033.7 157.3,1033.4 158.9,1033.6 160.5,1033.7 162.1,1033.8 163.7,1033.5 165.3,1033.9 166.9,1033.9 168.5,1034 170.1,1033.8 171.7,1034 173.3,1033.9 174.9,1034 176.5,1034.1 178.1,1033.8 179.7,1033.6 181.3,1033.9 182.9,1033.5 184.5,1033.8 186.1,1033.6 187.7,1033.5 189.3,1033.3 190.9,1034 192.5,1033.5 194.1,1033.2 195.7,1033.2 197.3,1033.1 198.9,1033.3 200.5,1033.4 202.1,1033 203.7,1033.2 205.3,1033.1 206.9,1032.7 208.5,1032.6 210.1,1032.7 211.7,1032.6 213.3,1033 214.9,1032.5 216.5,1032.9 218.1,1032.6 219.7,1032.3 221.3,1032.4 222.9,1032.4 224.5,1032.7 226.1,1032.4 227.7,1032.7 229.3,1032.5 230.9,1032.7 232.5,1032.5 234.1,1032.6 235.7,1032.9 237.3,1032.9 238.9,1032.7 240.5,1032.9 242.1,1033 243.7,1033.1 245.3,1033.1 246.9,1033.1 248.5,1033.4 250.1,1033.3 251.7,1033.3 253.3,1033.6 254.9,1033.2 256.5,1033.3 258.1,1033.6 259.7,1033.5 261.3,1033.7 262.9,1033.7 264.5,1033.8 266.1,1034 267.7,1033.9 269.3,1034 270.9,1033.9 272.5,1033.5 274.1,1033.4 275.7,1033.4 277.3,1033.7 278.9,1033.6 280.5,1033.9 282.1,1033.6 283.7,1033.5 285.3,1034 286.9,1034.3 288.5,1034.2 290.1,1033.9 291.7,1033.7 293.3,1034.1 294.9,1034.1 296.5,1034.2 298.1,1034.4 299.7,1034.1 301.3,1034.5 302.9,1034.6 304.5,1034.2 306.1,1034.8 307.7,1034.4 309.3,1034.6 310.9,1034.7 312.5,1034.9 314.1,1034.7 315.7,1034.8 317.3,1034.5 318.9,1035 320.5,1035.4 322.1,1034.8 323.7,1034.9 325.3,1034.5 326.9,1034.7 328.5,1034.8 330.1,1034.8 331.7,1035.4 333.3,1035 334.9,1035 336.5,1035.2 338.1,1035.4 339.7,1035.7 341.3,1034.6 342.9,1035 344.5,1035.3 346.1,1035.1 347.7,1035 349.3,1035 350.9,1035.1 352.5,1035.2 354.1,1035.3 355.7,1035.1 357.3,1035.1 358.9,1035.1 360.5,1035.2 362.1,1035.2 363.7,1035.6 365.3,1035.3 366.9,1035.2 368.5,1035.2 370.1,1035.3 371.7,1035.2 373.3,1035.4 374.9,1035.4 376.5,1035.4 378.1,1035 379.7,1035.4 381.3,1035.5 382.9,1034.9 384.5,1035.3 386.1,1035.2 387.7,1035.3 389.3,1035.2 390.9,1035.1 392.5,1035.1 394.1,1035.1" fill="none" stroke="#EEB8DA" stroke-width="2.2" stroke-linejoin="round" stroke-linecap="butt" />
<polyline points="396.8,1034.4 399.8,1034.1 402.8,1034.2 405.8,1034.3 408.8,1034.4 411.8,1034.2 414.8,1034.3 417.8,1034.2 420.8,1034.1 423.8,1034.3 426.8,1034.2 429.8,1034.2 432.8,1034.4 435.8,1034.5 438.8,1034.3 441.8,1034.3 444.8,1034.3 447.8,1034.1 450.8,1034.4 453.8,1034.3 456.8,1034.5 459.8,1034.4 462.8,1034.2 465.8,1034.2 468.8,1034.2 471.8,1034.4 474.8,1034.4 477.8,1034.3 480.8,1034.3 483.8,1034.3 486.8,1034.5 489.8,1034.4 492.5,1034.3" fill="none" stroke="#EEB8DA" stroke-width="2.9" stroke-linejoin="round" stroke-linecap="butt" />
<polyline points="499,1034.3 500.2,1034.2 501.5,1034.2 502.8,1034.1 504,1034.1 505.2,1034 506.5,1034.3 507.8,1034.2 509,1034 510.2,1034.3 511.5,1034.2 512.8,1034.3 514,1034.2 515.2,1034.2 516.5,1033.8 517.8,1033.2 519,1033.2 520.2,1033.4 521.5,1033.8 522.8,1033.9 524,1034 525.2,1034 526.5,1034 527.8,1034.1 529,1034.1 530.2,1033.8 531.5,1033.9 532.8,1033.9 534,1033.7 535.2,1033.8 536.5,1033.8 537.8,1033.6 539,1033.8 540.2,1033.7 541.5,1033.5 542.8,1033.6 544,1033.3 545.2,1033.4 546.5,1033.4 547.8,1033.6 549,1033.7 550.2,1033.2 551.5,1033.5 552.8,1033.6 554,1033.5 555.2,1033.4 556.5,1033.3 557.8,1032.9 559,1033.1 560.2,1033.2 561.5,1033.1 562.8,1033.2 564,1033.1 565.2,1032.8 566.5,1032.9 567.8,1033.1 569,1032.6 570.2,1032.7 571.5,1032.5 572.8,1032.8 574,1032.7 575.2,1032.6 576.5,1032.6 577.8,1032.6 579,1032.7 580.2,1032.2 581.5,1032.4 582.8,1032.5 584,1032.1 585.2,1032.1 586.5,1032.2 587.8,1032.1 589,1032.5 590.2,1032.3 591.5,1031.7 592.8,1031.9 594,1031.3 595.2,1031.8 596.5,1031.7 597.8,1031.8 599,1031.3 600.2,1031.3 601.5,1030.6 602.8,1030.8 604,1030.7 605.2,1030.7 606.5,1030.7 607.8,1030.5 609,1031 610.2,1030.2 611.5,1030.4 612.8,1030.4 614,1029.8 615.2,1029.8 616.5,1030 617.8,1028.9 619,1030.4 620.2,1029.6 621.5,1029.9 622.8,1030.2 624,1029.1 625.2,1029.6 626.5,1029.5 627.8,1029.2 629,1029.8 630.2,1029.4 631.5,1029.1 632.8,1029.2 634,1028.6 635.2,1029.3 636.5,1029.5 637.8,1028.9 639,1029.3 640.2,1031.5 641.5,1030.2 642.8,1029.8 644,1029.5 645.2,1031.4 646.5,1032.2 647.8,1033.8 649,1034.4 650.2,1034.8 651.5,1035.3 652.8,1036 654,1034.7 655.2,1033.2 656.5,1030.9 657.8,1030.5 659,1030.2 660.2,1030.1 661.5,1030.1 662.8,1031 664,1029.2 665.2,1030.5 666.5,1030.2 667.8,1031.7 669,1029.1 670.2,1031.4 671.5,1030.6 672.8,1030.4 674,1030.4 675.2,1030.1 676.5,1029.7 677.8,1028.6 679,1027.8 680.2,1027.9 681.5,1028.7 682.8,1029.2 684,1029 685.2,1027.8 686.5,1027.5 687.8,1027.5 689,1026.9 690.2,1027.8 691.5,1027.8 692.8,1027.4 694,1027.4 695.2,1027.1 696.5,1026.5 697.8,1026.3 699,1025.8 700.2,1024.6 701.5,1023.9 702.8,1022.1 704,1018.2 705.2,1010.7 706.5,999.7 707.8,1004.4 709,1014.7 710.2,1020.1 711.5,1022.6 712.8,1023.7 714,1024.5 715.2,1025.6 716.5,1025.9 717.8,1026.3 719,1026.7 720.2,1026.9 721.5,1027.6 722.8,1027.3 724,1027.6 725.2,1027.9 726.5,1028.1 727.8,1028.5 729,1028.7 730.2,1028.9 731.5,1029.1 732.8,1029.3 734,1029.4 735.2,1029.8 736.5,1030.1 737.8,1030.5 739,1030.4 740.2,1030.5 741.5,1030.6 742.8,1030.5 744,1030.4 745.2,1029.9 746.5,1030.2 747.8,1029.5 749,1029.3 750.2,1029.4 751.5,1029.1 752.8,1028.5 754,1028.3 755.2,1028.1 756.5,1028 757.8,1027.8 759,1028" fill="none" stroke="#EEB8DA" stroke-width="2.9" stroke-linejoin="round" stroke-linecap="butt" />
<polyline points="38.9,1021.6 40.5,1021.2 42.1,1021.2 43.7,1021.4 45.3,1021.9 46.9,1021.7 48.5,1021.1 50.1,1021.5 51.7,1021.7 53.3,1021.4 54.9,1021.5 56.5,1021.5 58.1,1021.7 59.7,1021.9 61.3,1021.4 62.9,1021.5 64.5,1021.7 66.1,1021.5 67.7,1021.8 69.3,1021.6 70.9,1021.2 72.5,1021.7 74.1,1021.5 75.7,1021.5 77.3,1021.5 78.9,1021.3 80.5,1021.7 82.1,1021.5 83.7,1021.6 85.3,1021.7 86.9,1021.7 88.5,1021.8 90.1,1021.4 91.7,1021.7 93.3,1021.2 94.9,1021.6 96.5,1021.5 98.1,1021.6 99.7,1021.6 101.3,1021.6 102.9,1021.3 104.5,1021.8 106.1,1021.4 107.7,1021.6 109.3,1021.6 110.9,1021.6 112.5,1021.7 114.1,1021.6 115.7,1021.4 117.3,1021.8 118.9,1021.6 120.5,1021.4 122.1,1021.6 123.7,1021.4 125.3,1021.6 126.9,1021.3 128.5,1021.7 130.1,1021.9 131.7,1021.7 133.3,1021.4 134.9,1021.3 136.5,1021.2 138.1,1021.3 139.7,1021.5 141.3,1021.5 142.9,1021.4 144.5,1021.1 146.1,1021.2 147.7,1021.2 149.3,1021 150.9,1020.9 152.5,1020.9 154.1,1020.7 155.7,1020.7 157.3,1020.9 158.9,1020.6 160.5,1020.7 162.1,1020 163.7,1020.3 165.3,1020.7 166.9,1020.2 168.5,1020.3 170.1,1020 171.7,1019.9 173.3,1019.5 174.9,1019.3 176.5,1019.3 178.1,1019 179.7,1018.9 181.3,1019.2 182.9,1018.6 184.5,1018.5 186.1,1018.3 187.7,1018.4 189.3,1018.1 190.9,1018 192.5,1017.2 194.1,1017.4 195.7,1016.8 197.3,1016.7 198.9,1016.6 200.5,1016.7 202.1,1016.1 203.7,1016 205.3,1015 206.9,1015 208.5,1014.9 210.1,1014.8 211.7,1014.3 213.3,1014.4 214.9,1014.2 216.5,1014.3 218.1,1013.9 219.7,1013.8 221.3,1013.3 222.9,1013.6 224.5,1013.7 226.1,1013.5 227.7,1013.6 229.3,1013.6 230.9,1014.1 232.5,1014.3 234.1,1013.8 235.7,1014.5 237.3,1014.4 238.9,1014.9 240.5,1015 242.1,1015.1 243.7,1015 245.3,1015.5 246.9,1015.8 248.5,1016.2 250.1,1016.1 251.7,1016.5 253.3,1016.4 254.9,1016.5 256.5,1016.9 258.1,1017 259.7,1017.5 261.3,1017.6 262.9,1017.6 264.5,1017.5 266.1,1017.8 267.7,1017.9 269.3,1017.5 270.9,1017.3 272.5,1017 274.1,1016.7 275.7,1016.6 277.3,1016.3 278.9,1017 280.5,1017.2 282.1,1017 283.7,1017.4 285.3,1017.5 286.9,1017.8 288.5,1018.2 290.1,1018.3 291.7,1018.2 293.3,1018.3 294.9,1018.5 296.5,1018.6 298.1,1018.8 299.7,1019.3 301.3,1019 302.9,1019.2 304.5,1019.4 306.1,1019.6 307.7,1019.8 309.3,1019.7 310.9,1020 312.5,1020.3 314.1,1020.5 315.7,1020.4 317.3,1020.5 318.9,1020.5 320.5,1020.3 322.1,1021 323.7,1020.5 325.3,1020.7 326.9,1021.1 328.5,1020.8 330.1,1021.3 331.7,1020.9 333.3,1020.8 334.9,1021.2 336.5,1021.2 338.1,1020.8 339.7,1021.1 341.3,1021.1 342.9,1021.1 344.5,1021.4 346.1,1021 347.7,1021.2 349.3,1021.5 350.9,1021.5 352.5,1021.4 354.1,1021.3 355.7,1021.3 357.3,1021.5 358.9,1021.1 360.5,1021.4 362.1,1021.4 363.7,1021.3 365.3,1021.3 366.9,1021.4 368.5,1021.6 370.1,1021.3 371.7,1021.7 373.3,1021.5 374.9,1021.4 376.5,1021.3 378.1,1021.3 379.7,1021.3 381.3,1021.5 382.9,1021.7 384.5,1021.5 386.1,1021.3 387.7,1021.5 389.3,1021.2 390.9,1021.1 392.5,1021.5 394.1,1021.5" fill="none" stroke="#E48392" stroke-width="2.2" stroke-linejoin="round" stroke-linecap="butt" />
<polyline points="396.8,1018.5 399.8,1018.5 402.8,1018.5 405.8,1018.5 408.8,1018.5 411.8,1018.3 414.8,1018.5 417.8,1018.5 420.8,1018.3 423.8,1018.6 426.8,1018.4 429.8,1018.4 432.8,1018.7 435.8,1018.6 438.8,1018.5 441.8,1018.3 444.8,1018.5 447.8,1018.5 450.8,1018.6 453.8,1018.6 456.8,1018.7 459.8,1018.5 462.8,1018.6 465.8,1018.6 468.8,1018.3 471.8,1018.4 474.8,1018.5 477.8,1018.6 480.8,1018.6 483.8,1018.6 486.8,1018.4 489.8,1018.5 492.5,1018.5" fill="none" stroke="#E48392" stroke-width="2.9" stroke-linejoin="round" stroke-linecap="butt" />
<polyline points="499,1018.5 500.2,1018.5 501.5,1018.4 502.8,1018.5 504,1018.6 505.2,1018.6 506.5,1018.6 507.8,1018.6 509,1018.1 510.2,1018.5 511.5,1018.2 512.8,1018.4 514,1018.3 515.2,1018.3 516.5,1018.2 517.8,1017.5 519,1017.5 520.2,1017.5 521.5,1018.1 522.8,1018 524,1018.3 525.2,1018 526.5,1018 527.8,1017.9 529,1018.3 530.2,1018.3 531.5,1018 532.8,1018 534,1018 535.2,1017.8 536.5,1017.9 537.8,1017.9 539,1017.7 540.2,1017.8 541.5,1018.1 542.8,1017.7 544,1017.9 545.2,1017.8 546.5,1017.5 547.8,1017.7 549,1017.9 550.2,1017.4 551.5,1017.4 552.8,1017.4 554,1017.7 555.2,1017.2 556.5,1017.8 557.8,1017.5 559,1017.5 560.2,1017.2 561.5,1017.4 562.8,1017.5 564,1017.1 565.2,1017.3 566.5,1017.1 567.8,1017.3 569,1017.1 570.2,1017.2 571.5,1017.3 572.8,1017.5 574,1016.7 575.2,1016.7 576.5,1017 577.8,1016.7 579,1016.6 580.2,1016.8 581.5,1016.7 582.8,1016.4 584,1016.7 585.2,1016.4 586.5,1016.6 587.8,1016.2 589,1016.3 590.2,1016.3 591.5,1016 592.8,1015.9 594,1016.1 595.2,1016.1 596.5,1015.6 597.8,1015.7 599,1015.3 600.2,1015.5 601.5,1015.9 602.8,1015.8 604,1015.3 605.2,1015.6 606.5,1014.5 607.8,1014.3 609,1014.5 610.2,1014.5 611.5,1014.8 612.8,1014.4 614,1014.5 615.2,1014.1 616.5,1014.3 617.8,1014.1 619,1014 620.2,1013.7 621.5,1013.8 622.8,1013 624,1013.8 625.2,1014 626.5,1014 627.8,1013.4 629,1012.3 630.2,1012.9 631.5,1012.9 632.8,1012.8 634,1014 635.2,1014.4 636.5,1014 637.8,1012.6 639,1013.1 640.2,1013.6 641.5,1012.9 642.8,1014.2 644,1014.2 645.2,1015.7 646.5,1016.1 647.8,1018.5 649,1019.7 650.2,1020.2 651.5,1018.8 652.8,1018.4 654,1017.4 655.2,1016.6 656.5,1016.1 657.8,1014.9 659,1014.3 660.2,1014.1 661.5,1014.3 662.8,1015 664,1014.2 665.2,1015.2 666.5,1014.1 667.8,1015.1 669,1014.2 670.2,1015.5 671.5,1014 672.8,1014 674,1013.5 675.2,1013.2 676.5,1013.6 677.8,1013.2 679,1013.7 680.2,1012.2 681.5,1011 682.8,1012.6 684,1012.5 685.2,1011.6 686.5,1012.4 687.8,1012 689,1011.4 690.2,1011.5 691.5,1011.4 692.8,1011.4 694,1011.5 695.2,1011 696.5,1010.6 697.8,1009.9 699,1009.2 700.2,1008.5 701.5,1006.8 702.8,1004.9 704,1000 705.2,990.6 706.5,976.5 707.8,982.5 709,995.5 710.2,1002.1 711.5,1005.3 712.8,1007.3 714,1008.2 715.2,1009.1 716.5,1009.4 717.8,1010.1 719,1010.5 720.2,1010.8 721.5,1011.5 722.8,1011.2 724,1011.6 725.2,1011.9 726.5,1012.2 727.8,1012.5 729,1012.7 730.2,1013.2 731.5,1013.3 732.8,1013.3 734,1013.6 735.2,1013.8 736.5,1014.2 737.8,1014.6 739,1015.1 740.2,1014.9 741.5,1014.8 742.8,1014.6 744,1014.6 745.2,1014.5 746.5,1014.2 747.8,1014 749,1013.7 750.2,1013.3 751.5,1013.1 752.8,1012.9 754,1012.6 755.2,1012.3 756.5,1012.2 757.8,1012.3 759,1012.1" fill="none" stroke="#E48392" stroke-width="2.9" stroke-linejoin="round" stroke-linecap="butt" />
<polyline points="38.9,1010 40.5,1009.7 42.1,1009.7 43.7,1009.8 45.3,1009.4 46.9,1009.5 48.5,1009.7 50.1,1009.9 51.7,1009.5 53.3,1009.5 54.9,1009.6 56.5,1009.6 58.1,1009.6 59.7,1009.9 61.3,1009.5 62.9,1009.5 64.5,1009.3 66.1,1009.6 67.7,1009.3 69.3,1009.7 70.9,1009.2 72.5,1009.6 74.1,1009.5 75.7,1009.8 77.3,1009.7 78.9,1009.5 80.5,1009.4 82.1,1009.5 83.7,1009.3 85.3,1009.5 86.9,1009.1 88.5,1009.4 90.1,1008.9 91.7,1009.2 93.3,1009.7 94.9,1009.4 96.5,1009.3 98.1,1009.6 99.7,1009.4 101.3,1009.2 102.9,1009.2 104.5,1009.2 106.1,1009.4 107.7,1009.2 109.3,1009.3 110.9,1009.2 112.5,1009.3 114.1,1009 115.7,1009.7 117.3,1009.1 118.9,1009.3 120.5,1009.5 122.1,1009.4 123.7,1009.1 125.3,1009.3 126.9,1009.4 128.5,1009.2 130.1,1009 131.7,1009.1 133.3,1008.7 134.9,1009 136.5,1008.7 138.1,1008.7 139.7,1008.4 141.3,1008.7 142.9,1008.8 144.5,1008.7 146.1,1008.6 147.7,1008.4 149.3,1008.6 150.9,1008.1 152.5,1008.3 154.1,1007.7 155.7,1007.7 157.3,1007.5 158.9,1008 160.5,1007.5 162.1,1006.7 163.7,1007.2 165.3,1006.9 166.9,1006.4 168.5,1006.4 170.1,1006.1 171.7,1005.8 173.3,1005.6 174.9,1005.4 176.5,1005.3 178.1,1004.7 179.7,1004.1 181.3,1004.2 182.9,1003.7 184.5,1003.6 186.1,1003.3 187.7,1003.4 189.3,1002.3 190.9,1001.5 192.5,1001.5 194.1,1001.2 195.7,1000.7 197.3,1000.1 198.9,999.7 200.5,999.1 202.1,998.8 203.7,998.1 205.3,997.9 206.9,997.6 208.5,997.2 210.1,996.9 211.7,996.2 213.3,995.9 214.9,995.5 216.5,995.2 218.1,995.3 219.7,994.8 221.3,994.5 222.9,994.4 224.5,994.5 226.1,994.5 227.7,994.6 229.3,994.8 230.9,994.9 232.5,995.5 234.1,995.6 235.7,995.8 237.3,996.3 238.9,996.6 240.5,997.1 242.1,997.5 243.7,997.8 245.3,998.3 246.9,998.6 248.5,999 250.1,999.4 251.7,999.7 253.3,1000.2 254.9,1000.5 256.5,1000.6 258.1,1000.7 259.7,1001.2 261.3,1001.2 262.9,1001.4 264.5,1001.8 266.1,1001.9 267.7,1001.7 269.3,1001.2 270.9,1000.8 272.5,1000.5 274.1,1000.1 275.7,999.8 277.3,1000 278.9,1000.1 280.5,1000.6 282.1,1000.7 283.7,1001.4 285.3,1001.5 286.9,1001.8 288.5,1002.3 290.1,1002.6 291.7,1002.9 293.3,1003.1 294.9,1003.5 296.5,1003.4 298.1,1003.8 299.7,1003.9 301.3,1004.4 302.9,1004.2 304.5,1004.7 306.1,1004.8 307.7,1005.1 309.3,1005.7 310.9,1005.8 312.5,1005.7 314.1,1006.1 315.7,1006.5 317.3,1006.8 318.9,1007 320.5,1006.6 322.1,1006.7 323.7,1006.9 325.3,1007 326.9,1007 328.5,1007.3 330.1,1007.4 331.7,1007.8 333.3,1007.5 334.9,1007.5 336.5,1007.5 338.1,1007.5 339.7,1007.6 341.3,1007.5 342.9,1007.9 344.5,1007.8 346.1,1007.7 347.7,1008 349.3,1007.9 350.9,1007.9 352.5,1007.9 354.1,1008 355.7,1007.8 357.3,1008 358.9,1008 360.5,1007.5 362.1,1008 363.7,1007.9 365.3,1008.2 366.9,1008.1 368.5,1007.7 370.1,1007.9 371.7,1007.9 373.3,1007.8 374.9,1007.9 376.5,1007.9 378.1,1007.8 379.7,1007.8 381.3,1007.9 382.9,1008.1 384.5,1008.3 386.1,1007.8 387.7,1007.9 389.3,1007.7 390.9,1008 392.5,1007.9 394.1,1007.9" fill="none" stroke="#CCE8BC" stroke-width="2.2" stroke-linejoin="round" stroke-linecap="butt" />
<polyline points="396.8,1003.6 399.8,1003.5 402.8,1003.6 405.8,1003.4 408.8,1003.4 411.8,1003.4 414.8,1003.7 417.8,1003.4 420.8,1003.4 423.8,1003.5 426.8,1003.7 429.8,1003.4 432.8,1003.5 435.8,1003.4 438.8,1003.4 441.8,1003.5 444.8,1003.5 447.8,1003.3 450.8,1003.6 453.8,1003.5 456.8,1003.6 459.8,1003.6 462.8,1003.5 465.8,1003.4 468.8,1003.7 471.8,1003.3 474.8,1003.5 477.8,1003.5 480.8,1003.4 483.8,1003.5 486.8,1003.4 489.8,1003.6 492.5,1003.5" fill="none" stroke="#CCE8BC" stroke-width="2.9" stroke-linejoin="round" stroke-linecap="butt" />
<polyline points="499,1003.3 500.2,1003.4 501.5,1003.3 502.8,1003.4 504,1003.5 505.2,1003.5 506.5,1003.3 507.8,1003.5 509,1003.4 510.2,1003.4 511.5,1003.2 512.8,1003.4 514,1003.4 515.2,1003.3 516.5,1003.1 517.8,1002.5 519,1002.4 520.2,1002.2 521.5,1002.8 522.8,1003.3 524,1003 525.2,1002.8 526.5,1003.3 527.8,1003.4 529,1003.1 530.2,1002.9 531.5,1002.8 532.8,1002.8 534,1002.8 535.2,1002.8 536.5,1002.7 537.8,1002.7 539,1002.8 540.2,1002.6 541.5,1002.6 542.8,1002.5 544,1002.7 545.2,1002.8 546.5,1002.3 547.8,1002.6 549,1002.4 550.2,1002.5 551.5,1002.5 552.8,1002.4 554,1002.2 555.2,1002.4 556.5,1002.1 557.8,1002.4 559,1002.1 560.2,1001.9 561.5,1002 562.8,1002.2 564,1001.6 565.2,1001.9 566.5,1001.9 567.8,1001.8 569,1001.5 570.2,1001.4 571.5,1001.8 572.8,1001.5 574,1001.1 575.2,1001.2 576.5,1001 577.8,1001.4 579,1000.9 580.2,1000.8 581.5,1001 582.8,1001.1 584,1001.3 585.2,1000.3 586.5,1000.5 587.8,1000.6 589,1000.4 590.2,1000.1 591.5,1000.1 592.8,1000.2 594,1000.2 595.2,1000 596.5,1000.1 597.8,999.4 599,999.5 600.2,999.2 601.5,999.6 602.8,999 604,999.3 605.2,998.8 606.5,998.9 607.8,998.6 609,997.9 610.2,999 611.5,998.2 612.8,998.4 614,998.2 615.2,998.1 616.5,998 617.8,997.3 619,997.6 620.2,997.2 621.5,998.3 622.8,996.7 624,997 625.2,997 626.5,998.3 627.8,996.2 629,996.9 630.2,997.1 631.5,997.9 632.8,997.5 634,997.3 635.2,997.2 636.5,997.1 637.8,997.5 639,996.1 640.2,997.5 641.5,996.6 642.8,997.7 644,998.5 645.2,999.1 646.5,1001 647.8,1001 649,1003.6 650.2,1002.2 651.5,1002.9 652.8,1001.9 654,1001.7 655.2,1001.7 656.5,999.3 657.8,999 659,997.3 660.2,997.1 661.5,997.7 662.8,998.4 664,997.8 665.2,998.6 666.5,999 667.8,999.1 669,999 670.2,998 671.5,997.9 672.8,998.8 674,998.2 675.2,995.6 676.5,997.1 677.8,996.5 679,997 680.2,996.7 681.5,996.1 682.8,995.3 684,995.2 685.2,995.3 686.5,995.4 687.8,995.3 689,994.1 690.2,994.7 691.5,995.4 692.8,994.7 694,994.3 695.2,994.3 696.5,993.5 697.8,992.7 699,991.6 700.2,990.8 701.5,989 702.8,986.1 704,980.7 705.2,968.9 706.5,952.1 707.8,959.6 709,975.3 710.2,983.5 711.5,987.3 712.8,989.5 714,990.6 715.2,991.4 716.5,992.1 717.8,992.7 719,993.5 720.2,993.8 721.5,994 722.8,994.4 724,994.6 725.2,995.3 726.5,995.5 727.8,995.5 729,995.9 730.2,996.1 731.5,996.7 732.8,996.9 734,997.4 735.2,997.7 736.5,998.3 737.8,998.5 739,998.8 740.2,999 741.5,998.8 742.8,998.5 744,998.5 745.2,998.1 746.5,997.5 747.8,997.6 749,997.1 750.2,997 751.5,996.6 752.8,996.4 754,995.7 755.2,995.4 756.5,995.5 757.8,995.3 759,995.3" fill="none" stroke="#CCE8BC" stroke-width="2.9" stroke-linejoin="round" stroke-linecap="butt" />
<polyline points="38.9,997 40.5,997.2 42.1,997.3 43.7,997 45.3,997.1 46.9,997.3 48.5,997 50.1,997.1 51.7,997.2 53.3,997.1 54.9,997.1 56.5,997.2 58.1,997 59.7,997 61.3,996.9 62.9,997.1 64.5,997 66.1,997.1 67.7,997.1 69.3,996.7 70.9,997.1 72.5,997.3 74.1,996.6 75.7,996.9 77.3,996.9 78.9,996.9 80.5,996.6 82.1,996.7 83.7,997.1 85.3,996.8 86.9,996.6 88.5,996.9 90.1,996.7 91.7,996.9 93.3,997.2 94.9,996.9 96.5,996.8 98.1,996.9 99.7,997 101.3,997 102.9,996.6 104.5,996.8 106.1,996.7 107.7,996.7 109.3,996.6 110.9,996.8 112.5,996.6 114.1,996.8 115.7,996.6 117.3,996.6 118.9,996.6 120.5,996.6 122.1,996.6 123.7,996.6 125.3,996.2 126.9,996.5 128.5,996.3 130.1,996.5 131.7,996.6 133.3,996.5 134.9,996.1 136.5,996.5 138.1,996 139.7,996 141.3,995.9 142.9,995.7 144.5,995.9 146.1,995.4 147.7,995.6 149.3,995.7 150.9,995.4 152.5,995.1 154.1,994.9 155.7,994.4 157.3,994.6 158.9,994.7 160.5,994.2 162.1,994.2 163.7,993.6 165.3,993.4 166.9,993.2 168.5,992.9 170.1,992.5 171.7,992.1 173.3,991.9 174.9,991.7 176.5,991.4 178.1,990.8 179.7,990.5 181.3,990 182.9,990 184.5,989.3 186.1,988.7 187.7,988.2 189.3,987.9 190.9,987.2 192.5,986.4 194.1,985.7 195.7,985.8 197.3,984.7 198.9,984.2 200.5,983.6 202.1,983 203.7,982.8 205.3,981.9 206.9,981.3 208.5,980.5 210.1,980.1 211.7,979.3 213.3,979.1 214.9,978.8 216.5,977.9 218.1,978.1 219.7,977.6 221.3,977.6 222.9,977.2 224.5,977.1 226.1,977 227.7,977.3 229.3,977.8 230.9,977.6 232.5,978.1 234.1,978.6 235.7,979.4 237.3,979.4 238.9,979.9 240.5,980.4 242.1,981 243.7,981.3 245.3,981.9 246.9,982.4 248.5,983 250.1,983.5 251.7,983.9 253.3,984.6 254.9,984.8 256.5,985.3 258.1,985.7 259.7,986 261.3,986.2 262.9,986.5 264.5,986.6 266.1,986.4 267.7,986.7 269.3,986.3 270.9,985.5 272.5,984.7 274.1,984.1 275.7,984 277.3,984 278.9,984.4 280.5,984.8 282.1,985.3 283.7,986 285.3,986.5 286.9,986.8 288.5,987.3 290.1,987.8 291.7,987.9 293.3,988.4 294.9,988.9 296.5,989 298.1,989.6 299.7,989.7 301.3,990.2 302.9,990.1 304.5,990.7 306.1,991 307.7,991.2 309.3,991.6 310.9,992.2 312.5,992.2 314.1,992 315.7,992.7 317.3,992.8 318.9,993.3 320.5,993.3 322.1,993.3 323.7,993.5 325.3,993.6 326.9,993.5 328.5,993.7 330.1,993.8 331.7,994.2 333.3,994.1 334.9,994.2 336.5,994.4 338.1,994.4 339.7,994.4 341.3,994.3 342.9,994.7 344.5,994.7 346.1,994.5 347.7,994.6 349.3,994.8 350.9,994.6 352.5,994.5 354.1,994.7 355.7,994.9 357.3,994.7 358.9,994.5 360.5,994.8 362.1,994.7 363.7,994.7 365.3,994.6 366.9,994.8 368.5,994.6 370.1,994.9 371.7,994.5 373.3,994.8 374.9,995.1 376.5,994.5 378.1,994.8 379.7,995 381.3,994.6 382.9,994.4 384.5,994.7 386.1,994.4 387.7,994.7 389.3,994.8 390.9,994.5 392.5,994.6 394.1,994.6" fill="none" stroke="#8CE79A" stroke-width="2.2" stroke-linejoin="round" stroke-linecap="butt" />
<polyline points="396.8,993.1 399.8,993.3 402.8,993.2 405.8,993.5 408.8,993.4 411.8,993.4 414.8,993.4 417.8,993.4 420.8,993.5 423.8,993.3 426.8,993.4 429.8,993.5 432.8,993.5 435.8,993.3 438.8,993.4 441.8,993.2 444.8,993.4 447.8,993.5 450.8,993.6 453.8,993.2 456.8,993.5 459.8,993.4 462.8,993.4 465.8,993.4 468.8,993.2 471.8,993.4 474.8,993.4 477.8,993.4 480.8,993.2 483.8,993.5 486.8,993.4 489.8,993.5 492.5,993.4" fill="none" stroke="#8CE79A" stroke-width="2.9" stroke-linejoin="round" stroke-linecap="butt" />
<polyline points="499,993.4 500.2,993.3 501.5,993.2 502.8,993.5 504,993.5 505.2,993.5 506.5,993.4 507.8,993.4 509,993.3 510.2,993.2 511.5,993.3 512.8,993.3 514,993 515.2,993 516.5,992.7 517.8,992.3 519,992.4 520.2,992.5 521.5,992.9 522.8,993.2 524,993 525.2,993 526.5,992.7 527.8,993.1 529,992.8 530.2,992.6 531.5,992.6 532.8,993 534,992.9 535.2,992.7 536.5,992.5 537.8,992.3 539,992.6 540.2,992.5 541.5,992.5 542.8,992.4 544,992.4 545.2,992.4 546.5,992.1 547.8,992.2 549,992.4 550.2,992.1 551.5,991.8 552.8,992.1 554,991.9 555.2,991.8 556.5,992.1 557.8,991.8 559,991.8 560.2,991.8 561.5,991.9 562.8,991.7 564,991.7 565.2,991.5 566.5,991.6 567.8,991.5 569,991.4 570.2,991.3 571.5,991.3 572.8,991 574,991.3 575.2,991 576.5,991.1 577.8,990.9 579,991.2 580.2,990.8 581.5,990.8 582.8,990.8 584,990.6 585.2,990.5 586.5,990.4 587.8,990.5 589,989.7 590.2,989.9 591.5,990 592.8,990 594,989.5 595.2,989.5 596.5,989.3 597.8,989.3 599,989.2 600.2,988.9 601.5,988.5 602.8,988.5 604,988 605.2,988.7 606.5,987.9 607.8,988.2 609,987.8 610.2,987.4 611.5,987.9 612.8,987.8 614,987.5 615.2,987.4 616.5,986.7 617.8,987.3 619,987.2 620.2,987.3 621.5,986.2 622.8,986.7 624,986.5 625.2,987.3 626.5,986.3 627.8,986.3 629,986.1 630.2,986.2 631.5,986.6 632.8,986.2 634,986.6 635.2,985.6 636.5,986.5 637.8,986.4 639,985.3 640.2,986.7 641.5,986.5 642.8,986.9 644,987.9 645.2,987.1 646.5,989.9 647.8,991.7 649,991.2 650.2,992.7 651.5,992.5 652.8,992.3 654,991 655.2,988.7 656.5,987.6 657.8,988.6 659,987.7 660.2,986.5 661.5,987.2 662.8,986.7 664,987.3 665.2,987.3 666.5,987.5 667.8,986.8 669,988 670.2,987.6 671.5,987.4 672.8,986.5 674,985.4 675.2,984.8 676.5,986.4 677.8,984.5 679,984.9 680.2,985 681.5,985.2 682.8,984.4 684,984.7 685.2,984.3 686.5,983.5 687.8,983.7 689,984.4 690.2,984.1 691.5,983.3 692.8,983.3 694,983 695.2,983 696.5,982.3 697.8,981.5 699,980.6 700.2,979.5 701.5,977.6 702.8,974.4 704,968.6 705.2,956.4 706.5,938.5 707.8,945.9 709,963.3 710.2,971.5 711.5,975.5 712.8,977.7 714,979.1 715.2,980.1 716.5,981 717.8,981.5 719,982.3 720.2,982.4 721.5,983 722.8,983.5 724,983.8 725.2,984 726.5,984.5 727.8,985 729,985.3 730.2,985.9 731.5,985.5 732.8,986.4 734,986.7 735.2,986.9 736.5,987.5 737.8,987.9 739,988 740.2,988.4 741.5,988.2 742.8,987.9 744,987.9 745.2,987.6 746.5,987.2 747.8,986.9 749,986.5 750.2,985.9 751.5,985.6 752.8,985.1 754,984.9 755.2,984.5 756.5,984.2 757.8,984.3 759,984.2" fill="none" stroke="#8CE79A" stroke-width="2.9" stroke-linejoin="round" stroke-linecap="butt" />
<polyline points="38.9,985.7 40.5,985.4 42.1,985.4 43.7,985.1 45.3,985.6 46.9,985.3 48.5,985.6 50.1,985.2 51.7,985.2 53.3,985.1 54.9,985.3 56.5,985.1 58.1,985.3 59.7,985.2 61.3,985.3 62.9,985.2 64.5,985 66.1,985.1 67.7,984.9 69.3,985 70.9,984.6 72.5,985 74.1,985.2 75.7,984.8 77.3,985.1 78.9,984.7 80.5,984.8 82.1,984.7 83.7,984.8 85.3,984.8 86.9,985 88.5,984.7 90.1,984.9 91.7,984.7 93.3,984.6 94.9,984.6 96.5,984.7 98.1,984.5 99.7,984.4 101.3,984.5 102.9,984.4 104.5,984.5 106.1,984.5 107.7,984.4 109.3,984.6 110.9,984.5 112.5,984.6 114.1,984.2 115.7,984.3 117.3,984.5 118.9,984.1 120.5,984.3 122.1,984.3 123.7,984.4 125.3,984.4 126.9,984.3 128.5,984.5 130.1,984.1 131.7,984.1 133.3,983.6 134.9,983.5 136.5,983.6 138.1,983.3 139.7,983.2 141.3,983.1 142.9,982.6 144.5,982.9 146.1,982.5 147.7,982.5 149.3,982.2 150.9,982 152.5,981.4 154.1,981.4 155.7,980.9 157.3,979.7 158.9,979.8 160.5,979.8 162.1,978.6 163.7,978.5 165.3,978.6 166.9,977.8 168.5,977.1 170.1,976.6 171.7,976.1 173.3,975.6 174.9,975 176.5,974.4 178.1,973.6 179.7,972.7 181.3,972.5 182.9,971.4 184.5,970.5 186.1,969.4 187.7,968.6 189.3,967.7 190.9,966.9 192.5,965.6 194.1,964.4 195.7,963.3 197.3,962.5 198.9,961.3 200.5,960 202.1,959.1 203.7,958.4 205.3,956.7 206.9,956.1 208.5,954.7 210.1,953.3 211.7,952.4 213.3,951.9 214.9,951.1 216.5,950.6 218.1,950 219.7,949.3 221.3,949 222.9,948.5 224.5,948.2 226.1,948.8 227.7,948.5 229.3,949 230.9,949.6 232.5,950.4 234.1,951.2 235.7,951.8 237.3,952.9 238.9,953.7 240.5,954.7 242.1,955.5 243.7,956.5 245.3,957.4 246.9,958.1 248.5,959 250.1,959.9 251.7,961.1 253.3,961.6 254.9,962.4 256.5,963.1 258.1,963.7 259.7,964.4 261.3,965.2 262.9,965.5 264.5,965.4 266.1,965.6 267.7,965.6 269.3,964.4 270.9,962.9 272.5,961.8 274.1,960.6 275.7,960.3 277.3,961.2 278.9,961.4 280.5,962.3 282.1,962.8 283.7,963.8 285.3,964.7 286.9,965.7 288.5,966.7 290.1,967.1 291.7,967.9 293.3,968.6 294.9,969.4 296.5,969.7 298.1,970.2 299.7,971.2 301.3,971.5 302.9,972 304.5,972.7 306.1,973.2 307.7,973.8 309.3,974.2 310.9,975.1 312.5,975.9 314.1,976 315.7,976.4 317.3,976.5 318.9,976.9 320.5,977.2 322.1,977.7 323.7,977.8 325.3,977.9 326.9,978.1 328.5,978.5 330.1,978.7 331.7,978.9 333.3,978.9 334.9,979.5 336.5,979.5 338.1,979.7 339.7,979.7 341.3,980 342.9,980.1 344.5,980.1 346.1,980.2 347.7,980.4 349.3,980.4 350.9,980.1 352.5,980.5 354.1,980.6 355.7,980.4 357.3,980.2 358.9,980.6 360.5,980 362.1,980.2 363.7,980.1 365.3,980.6 366.9,980.2 368.5,980.3 370.1,980 371.7,980.1 373.3,980.3 374.9,980.2 376.5,979.8 378.1,980.4 379.7,980.1 381.3,980 382.9,980.1 384.5,980.1 386.1,980.2 387.7,979.7 389.3,980.1 390.9,980 392.5,980 394.1,979.9" fill="none" stroke="#F0D3B2" stroke-width="2.2" stroke-linejoin="round" stroke-linecap="butt" />
<polyline points="396.8,978.4 399.8,978.4 402.8,978.3 405.8,978.4 408.8,978.5 411.8,978.5 414.8,978.5 417.8,978.4 420.8,978.5 423.8,978.2 426.8,978.5 429.8,978.5 432.8,978.4 435.8,978.3 438.8,978.4 441.8,978.4 444.8,978.5 447.8,978.4 450.8,978.5 453.8,978.3 456.8,978.4 459.8,978.5 462.8,978.6 465.8,978.4 468.8,978.3 471.8,978.3 474.8,978.4 477.8,978.6 480.8,978.4 483.8,978.4 486.8,978.4 489.8,978.5 492.5,978.4" fill="none" stroke="#F0D3B2" stroke-width="2.9" stroke-linejoin="round" stroke-linecap="butt" />
<polyline points="499,978 500.2,978.6 501.5,978.6 502.8,978.3 504,978.4 505.2,978.2 506.5,978.2 507.8,978.3 509,978.1 510.2,978.3 511.5,978.2 512.8,978.2 514,978.4 515.2,978 516.5,977.6 517.8,976.8 519,976.7 520.2,976.8 521.5,977.6 522.8,978 524,978.1 525.2,977.8 526.5,977.9 527.8,977.8 529,977.8 530.2,977.9 531.5,977.6 532.8,977.9 534,977.7 535.2,977.4 536.5,977.7 537.8,977.4 539,977.5 540.2,977.7 541.5,977.6 542.8,977.5 544,977.2 545.2,977.3 546.5,977.3 547.8,977 549,977.3 550.2,977 551.5,977.2 552.8,977.1 554,977.1 555.2,976.9 556.5,977 557.8,977 559,976.7 560.2,976.6 561.5,976.4 562.8,976.7 564,976.6 565.2,976.5 566.5,976.4 567.8,976.3 569,976.5 570.2,976.4 571.5,976.2 572.8,976.3 574,976.1 575.2,976 576.5,976 577.8,975.7 579,975.8 580.2,976 581.5,975.5 582.8,975.7 584,975.7 585.2,975.5 586.5,975 587.8,975.1 589,975 590.2,974.9 591.5,974.6 592.8,974.9 594,974.4 595.2,974.3 596.5,974.1 597.8,974.2 599,973.9 600.2,973.6 601.5,973.3 602.8,973.6 604,973.7 605.2,973.5 606.5,972.9 607.8,973.2 609,972.9 610.2,972.6 611.5,972.5 612.8,972.3 614,971.7 615.2,972.7 616.5,972.3 617.8,972.2 619,971.8 620.2,972.2 621.5,971.6 622.8,972.3 624,971.6 625.2,970.9 626.5,971.5 627.8,970.3 629,971.5 630.2,971.2 631.5,971.6 632.8,971.8 634,971.1 635.2,970.4 636.5,970.5 637.8,972.2 639,970.7 640.2,971.7 641.5,971.5 642.8,972.4 644,972.2 645.2,973.4 646.5,975 647.8,975.3 649,976.6 650.2,978 651.5,977.2 652.8,977.2 654,975.9 655.2,974 656.5,972.1 657.8,973.4 659,972.7 660.2,972.3 661.5,972.4 662.8,971.7 664,972.4 665.2,971.8 666.5,972.7 667.8,972.5 669,972.9 670.2,973 671.5,971.1 672.8,972 674,971.3 675.2,971.1 676.5,971.5 677.8,971.1 679,969.8 680.2,967.7 681.5,969.8 682.8,970.3 684,970.1 685.2,968.9 686.5,969.1 687.8,968.8 689,968.5 690.2,968.2 691.5,968.4 692.8,967.2 694,967.2 695.2,967 696.5,966.3 697.8,965.3 699,964.4 700.2,962.9 701.5,960.2 702.8,956.1 704,948.3 705.2,931.5 706.5,907.5 707.8,917.5 709,941 710.2,952.1 711.5,957.9 712.8,961 714,962.5 715.2,964.2 716.5,965.1 717.8,965.8 719,966.2 720.2,967.1 721.5,967.4 722.8,967.9 724,968.6 725.2,968.8 726.5,969.3 727.8,969.3 729,969.8 730.2,970.3 731.5,970.4 732.8,971.1 734,971.3 735.2,971.7 736.5,972.5 737.8,972.8 739,972.9 740.2,973.4 741.5,973 742.8,973.1 744,972.7 745.2,972.5 746.5,971.9 747.8,971.7 749,971.5 750.2,971.1 751.5,970.5 752.8,970.2 754,969.7 755.2,969.4 756.5,969.3 757.8,969.3 759,969.2" fill="none" stroke="#F0D3B2" stroke-width="2.9" stroke-linejoin="round" stroke-linecap="butt" />
<polyline points="38.9,971.3 40.5,971.2 42.1,971 43.7,971.4 45.3,970.9 46.9,971 48.5,971 50.1,970.9 51.7,971.3 53.3,971.2 54.9,970.9 56.5,971 58.1,970.8 59.7,970.7 61.3,971 62.9,970.9 64.5,971 66.1,971.1 67.7,970.9 69.3,970.7 70.9,970.7 72.5,970.6 74.1,971 75.7,970.6 77.3,970.8 78.9,970.5 80.5,970.8 82.1,970.4 83.7,970.7 85.3,970.7 86.9,970.7 88.5,970.7 90.1,970.2 91.7,970.7 93.3,970.4 94.9,970.3 96.5,970.6 98.1,970.6 99.7,970.3 101.3,970.7 102.9,970.7 104.5,970.3 106.1,970.4 107.7,969.7 109.3,970.4 110.9,970.4 112.5,970.5 114.1,970.4 115.7,970.5 117.3,970.2 118.9,970 120.5,970 122.1,970.4 123.7,970.1 125.3,969.9 126.9,970 128.5,970.3 130.1,969.8 131.7,969.9 133.3,969.2 134.9,969.2 136.5,969.4 138.1,969.2 139.7,968.9 141.3,968.7 142.9,968.7 144.5,968.6 146.1,968.4 147.7,967.9 149.3,967.8 150.9,967 152.5,966.8 154.1,966.2 155.7,966.1 157.3,965.4 158.9,964.8 160.5,964.2 162.1,963.9 163.7,963.6 165.3,962.9 166.9,962.2 168.5,961.5 170.1,961 171.7,960.4 173.3,959.8 174.9,958.6 176.5,957.9 178.1,956.9 179.7,956.5 181.3,955.4 182.9,954.5 184.5,953.3 186.1,952.1 187.7,951.1 189.3,949.8 190.9,949 192.5,947.5 194.1,946.2 195.7,944.7 197.3,943.8 198.9,942.1 200.5,941 202.1,939.7 203.7,937.9 205.3,936.5 206.9,935.3 208.5,934.2 210.1,932.7 211.7,931.4 213.3,930.5 214.9,929.6 216.5,928.7 218.1,928.2 219.7,927.5 221.3,926.8 222.9,926.5 224.5,926.3 226.1,926.4 227.7,927 229.3,927.5 230.9,927.8 232.5,929.2 234.1,929.7 235.7,930.8 237.3,932.3 238.9,933.1 240.5,934.1 242.1,935.2 243.7,936.3 245.3,937.3 246.9,938.9 248.5,939.8 250.1,940.7 251.7,942.2 253.3,942.9 254.9,943.8 256.5,945 258.1,945.7 259.7,946.2 261.3,947 262.9,947.3 264.5,947.6 266.1,947.7 267.7,947.5 269.3,946.6 270.9,944.6 272.5,943.2 274.1,941.7 275.7,940.9 277.3,941.9 278.9,942.8 280.5,943.3 282.1,944.5 283.7,945.5 285.3,946.9 286.9,947.9 288.5,948.9 290.1,950 291.7,951 293.3,951.8 294.9,952 296.5,953 298.1,953.8 299.7,954.4 301.3,955.4 302.9,955.7 304.5,956.5 306.1,957.3 307.7,958.1 309.3,959.2 310.9,959.9 312.5,960.2 314.1,960.8 315.7,961.2 317.3,961.8 318.9,962.4 320.5,962.6 322.1,962.7 323.7,963.3 325.3,963.7 326.9,963.9 328.5,964.3 330.1,964.4 331.7,965.1 333.3,965 334.9,965.2 336.5,965.4 338.1,965.3 339.7,965.8 341.3,966 342.9,965.7 344.5,965.9 346.1,966 347.7,966.5 349.3,966.6 350.9,966.6 352.5,966.6 354.1,966.5 355.7,966.6 357.3,966.9 358.9,966.3 360.5,966.6 362.1,966.5 363.7,966.3 365.3,966.4 366.9,966.3 368.5,966.3 370.1,966.4 371.7,966.3 373.3,966.1 374.9,966.9 376.5,966.1 378.1,966.2 379.7,966.3 381.3,965.9 382.9,966.4 384.5,966.4 386.1,966.6 387.7,966.3 389.3,966.3 390.9,966.4 392.5,966 394.1,966.2" fill="none" stroke="#ECB07C" stroke-width="2.2" stroke-linejoin="round" stroke-linecap="butt" />
<polyline points="396.8,968.7 399.8,968.7 402.8,968.5 405.8,968.5 408.8,968.5 411.8,968.5 414.8,968.6 417.8,968.4 420.8,968.4 423.8,968.5 426.8,968.4 429.8,968.5 432.8,968.4 435.8,968.4 438.8,968.6 441.8,968.5 444.8,968.3 447.8,968.6 450.8,968.4 453.8,968.6 456.8,968.5 459.8,968.5 462.8,968.3 465.8,968.4 468.8,968.4 471.8,968.5 474.8,968.3 477.8,968.6 480.8,968.4 483.8,968.5 486.8,968.7 489.8,968.5 492.5,968.5" fill="none" stroke="#ECB07C" stroke-width="2.9" stroke-linejoin="round" stroke-linecap="butt" />
<polyline points="499,968 500.2,968.5 501.5,968.2 502.8,968.5 504,968.5 505.2,968.2 506.5,968.5 507.8,968.5 509,968.5 510.2,968.2 511.5,968.4 512.8,968.4 514,968.2 515.2,968.3 516.5,967.9 517.8,966.8 519,966.5 520.2,967.2 521.5,967.6 522.8,968.2 524,967.9 525.2,968.2 526.5,968.1 527.8,968.1 529,968 530.2,967.8 531.5,967.6 532.8,967.9 534,967.8 535.2,967.5 536.5,967.6 537.8,967.6 539,967.7 540.2,967.6 541.5,967.6 542.8,967.6 544,967.6 545.2,967.5 546.5,967.5 547.8,967.3 549,967.1 550.2,967.3 551.5,967 552.8,967.2 554,967.2 555.2,966.8 556.5,967 557.8,966.9 559,967 560.2,966.7 561.5,966.9 562.8,966.7 564,966.8 565.2,966.3 566.5,966.5 567.8,966.7 569,966.4 570.2,966.4 571.5,966.6 572.8,966.2 574,966.2 575.2,965.9 576.5,966.1 577.8,966 579,966.1 580.2,965.9 581.5,965.9 582.8,965.4 584,965.4 585.2,965.3 586.5,965.3 587.8,965.3 589,965.3 590.2,965.2 591.5,965.1 592.8,965 594,964.7 595.2,964.6 596.5,964.5 597.8,964.6 599,964.1 600.2,963.9 601.5,963.5 602.8,963.4 604,963.9 605.2,963 606.5,963.3 607.8,963.4 609,963.3 610.2,962.9 611.5,963.4 612.8,962.6 614,961.7 615.2,963.1 616.5,961.9 617.8,962.3 619,962.2 620.2,961.9 621.5,962.1 622.8,961.8 624,962 625.2,960.8 626.5,960.5 627.8,961.9 629,962.3 630.2,961.8 631.5,961.4 632.8,960.5 634,961 635.2,961.5 636.5,962.2 637.8,961 639,962.1 640.2,962.6 641.5,960.4 642.8,961.5 644,962.4 645.2,963.2 646.5,963.8 647.8,964.6 649,966.6 650.2,967.9 651.5,966.9 652.8,966.8 654,965.9 655.2,964.7 656.5,964.3 657.8,963.5 659,961.4 660.2,962.1 661.5,961.7 662.8,961.6 664,961.9 665.2,962 666.5,962.4 667.8,962.5 669,962.6 670.2,961.9 671.5,962.4 672.8,961.6 674,961.7 675.2,961.1 676.5,960.7 677.8,960.2 679,959.9 680.2,959.4 681.5,960.7 682.8,959.6 684,959.5 685.2,959.6 686.5,958.9 687.8,958.7 689,959 690.2,958.5 691.5,958.4 692.8,957.7 694,957.6 695.2,957 696.5,956.1 697.8,955.2 699,954.1 700.2,952.3 701.5,949.5 702.8,944.9 704,936 705.2,917.5 706.5,891 707.8,902.7 709,928.1 710.2,940.8 711.5,946.7 712.8,950.1 714,952.2 715.2,953.6 716.5,955 717.8,955.4 719,956.3 720.2,957.2 721.5,957.5 722.8,957.7 724,958.2 725.2,958.8 726.5,959.1 727.8,959.6 729,959.5 730.2,960.3 731.5,960.5 732.8,960.8 734,961.3 735.2,962.1 736.5,962.7 737.8,963.2 739,963 740.2,963.4 741.5,963.1 742.8,962.8 744,962.4 745.2,962.5 746.5,962.1 747.8,961.9 749,961.4 750.2,960.8 751.5,960.9 752.8,960.3 754,960 755.2,959.8 756.5,959.3 757.8,959.3 759,959.1" fill="none" stroke="#ECB07C" stroke-width="2.9" stroke-linejoin="round" stroke-linecap="butt" />
</g>
<rect x="47" y="922.2" width="340.4" height="146.1" fill="none" stroke="#606060" stroke-width="1.0" stroke-dasharray="4.4 3.4"/>
<rect x="150.7" y="877.3" width="95.2" height="40.6" fill="#fff" stroke="#555" stroke-width="1.0"/>
<text x="198.2" y="897.3" font-size="17" text-anchor="middle"><tspan font-style="italic">v</tspan>-O-H</text>
<text x="195.8" y="914.2" font-size="10.4" text-anchor="middle" textLength="60" lengthAdjust="spacingAndGlyphs">(3500 -2850)</text>
<path d="M247.7 896.1 L304.9 896.1 L304.9 921.7" fill="none" stroke="#606060" stroke-width="1.0" stroke-dasharray="4.4 3.4"/><polygon points="247.7,896.1 251.9,897.8 251.9,894.4" fill="#606060"/>
<text x="379.8" y="887.2" font-size="17" text-anchor="end" textLength="33.5" lengthAdjust="spacingAndGlyphs">0.001</text>
<line x1="388" y1="875.8" x2="388" y2="887.4" stroke="#000" stroke-width="2.6" />
<line x1="404" y1="874.7" x2="404" y2="893" stroke="#000" stroke-width="2.6" />
<text x="411.6" y="888" font-size="17" textLength="34" lengthAdjust="spacingAndGlyphs">0.005</text>
<text x="524.5" y="926.1" font-size="17" text-anchor="middle"><tspan font-style="italic">v</tspan>-CO<tspan font-size="10.5" dy="-6.1">*</tspan></text>
<path d="M518.6 929.9 L518.6 957.8" fill="none" stroke="#F0505C" stroke-width="1.0" stroke-dasharray="4.4 3.4"/><polygon points="518.6,929.9 516.9,934.1 520.3,934.1" fill="#F0505C"/>
<rect x="508.5" y="957.8" width="25.4" height="110.5" fill="none" stroke="#F0505C" stroke-width="1.0" stroke-dasharray="4.4 3.4"/>
<rect x="559.6" y="874" width="127.7" height="48.8" fill="#fff" stroke="#555" stroke-width="1.0"/>
<text x="564.6" y="893.5" font-size="18" textLength="94.5" lengthAdjust="spacingAndGlyphs">CHO<tspan font-size="11.2" dy="-6.5">*</tspan><tspan dy="6.5">   CH</tspan><tspan font-size="11.2" dy="4">2</tspan><tspan font-size="11.2" dy="-10.4">*</tspan></text>
<text x="587.5" y="915.9" font-size="18">COOH<tspan font-size="11.2" dy="-6.5">*</tspan></text>
<path d="M623.6 924 L623.6 940 L655.3 940 L655.3 957.8" fill="none" stroke="#606060" stroke-width="1.0" stroke-dasharray="4.4 3.4"/><polygon points="623.6,924 621.9,928.2 625.3,928.2" fill="#606060"/>
<rect x="615.2" y="957.8" width="79.5" height="87.2" fill="none" stroke="#606060" stroke-width="1.0" stroke-dasharray="4.4 3.4"/>
<path d="M665 924 L665 938 L697.8 938" fill="none" stroke="#606060" stroke-width="1.0" stroke-dasharray="4.4 3.4"/><polygon points="665,924 663.3,928.2 666.7,928.2" fill="#606060"/>
<rect x="697.8" y="885.4" width="20.3" height="183.4" fill="none" stroke="#606060" stroke-width="1.0" stroke-dasharray="4.4 3.4"/>
<path d="M687.9 879.8 L741 879.8 L741 952.2" fill="none" stroke="#606060" stroke-width="1.0" stroke-dasharray="4.4 3.4"/><polygon points="687.9,879.8 692.1,881.5 692.1,878.1" fill="#606060"/>
<rect x="720.1" y="952.2" width="35.1" height="116.6" fill="none" stroke="#606060" stroke-width="1.0" stroke-dasharray="4.4 3.4"/>
<rect x="615.2" y="1048.8" width="79.5" height="20" fill="none" stroke="#606060" stroke-width="1.0" stroke-dasharray="4.4 3.4"/>
<path d="M594.4 1067 L604 1067 L604 1058.9 L615.2 1058.9" fill="none" stroke="#606060" stroke-width="1.0" stroke-dasharray="4.4 3.4"/><polygon points="594.4,1067 598.6,1068.7 598.6,1065.3" fill="#606060"/>
<text x="552.4" y="1070.9" font-size="18">H<tspan font-size="11.2" dy="4">2</tspan><tspan dy="-4">O</tspan></text>
<rect x="38.9" y="869.4" width="718.1" height="209.9" fill="none" stroke="#000" stroke-width="1.7"/>
<line x1="395.3" y1="869.4" x2="395.3" y2="1079.3" stroke="#000" stroke-width="2.0" />
<rect x="492.4" y="1077.8" width="6.8" height="3" fill="#fff"/>
<line x1="489.6" y1="1083.5" x2="495.6" y2="1074.9" stroke="#000" stroke-width="1.3" />
<line x1="496.1" y1="1083.5" x2="502.1" y2="1074.9" stroke="#000" stroke-width="1.3" />
<line x1="38.9" y1="1079.3" x2="38.9" y2="1083.9" stroke="#000" stroke-width="1.3" />
<text x="37.7" y="1108.1" font-size="21.8" text-anchor="middle" transform="rotate(-24 37.7 1100.3)" textLength="46.5" lengthAdjust="spacingAndGlyphs">3500</text>
<line x1="140.7" y1="1079.3" x2="140.7" y2="1083.9" stroke="#000" stroke-width="1.3" />
<text x="139.5" y="1108.1" font-size="21.8" text-anchor="middle" transform="rotate(-24 139.5 1100.3)" textLength="46.5" lengthAdjust="spacingAndGlyphs">3300</text>
<line x1="242.6" y1="1079.3" x2="242.6" y2="1083.9" stroke="#000" stroke-width="1.3" />
<text x="241.4" y="1108.1" font-size="21.8" text-anchor="middle" transform="rotate(-24 241.4 1100.3)" textLength="46.5" lengthAdjust="spacingAndGlyphs">3100</text>
<line x1="344.4" y1="1079.3" x2="344.4" y2="1083.9" stroke="#000" stroke-width="1.3" />
<text x="343.2" y="1108.1" font-size="21.8" text-anchor="middle" transform="rotate(-24 343.2 1100.3)" textLength="46.5" lengthAdjust="spacingAndGlyphs">2900</text>
<line x1="89.8" y1="1079.3" x2="89.8" y2="1081.9" stroke="#000" stroke-width="1.3" />
<line x1="191.6" y1="1079.3" x2="191.6" y2="1081.9" stroke="#000" stroke-width="1.3" />
<line x1="293.5" y1="1079.3" x2="293.5" y2="1081.9" stroke="#000" stroke-width="1.3" />
<line x1="395.3" y1="1079.3" x2="395.3" y2="1083.9" stroke="#000" stroke-width="1.3" />
<text x="394.1" y="1108.1" font-size="21.8" text-anchor="middle" transform="rotate(-24 394.1 1100.3)" textLength="46.5" lengthAdjust="spacingAndGlyphs">2800</text>
<line x1="444.4" y1="1079.3" x2="444.4" y2="1083.9" stroke="#000" stroke-width="1.3" />
<text x="443.2" y="1108.1" font-size="21.8" text-anchor="middle" transform="rotate(-24 443.2 1100.3)" textLength="46.5" lengthAdjust="spacingAndGlyphs">2600</text>
<line x1="419.9" y1="1079.3" x2="419.9" y2="1081.9" stroke="#000" stroke-width="1.3" />
<line x1="469" y1="1079.3" x2="469" y2="1081.9" stroke="#000" stroke-width="1.3" />
<line x1="511" y1="1079.3" x2="511" y2="1083.9" stroke="#000" stroke-width="1.3" />
<text x="507.3" y="1108.1" font-size="21.8" text-anchor="middle" transform="rotate(-24 507.3 1100.3)" textLength="46.5" lengthAdjust="spacingAndGlyphs">2200</text>
<line x1="560.2" y1="1079.3" x2="560.2" y2="1083.9" stroke="#000" stroke-width="1.3" />
<text x="559" y="1108.1" font-size="21.8" text-anchor="middle" transform="rotate(-24 559 1100.3)" textLength="46.5" lengthAdjust="spacingAndGlyphs">2000</text>
<line x1="609.4" y1="1079.3" x2="609.4" y2="1083.9" stroke="#000" stroke-width="1.3" />
<text x="608.2" y="1108.1" font-size="21.8" text-anchor="middle" transform="rotate(-24 608.2 1100.3)" textLength="46.5" lengthAdjust="spacingAndGlyphs">1800</text>
<line x1="658.6" y1="1079.3" x2="658.6" y2="1083.9" stroke="#000" stroke-width="1.3" />
<text x="657.4" y="1108.1" font-size="21.8" text-anchor="middle" transform="rotate(-24 657.4 1100.3)" textLength="46.5" lengthAdjust="spacingAndGlyphs">1600</text>
<line x1="707.8" y1="1079.3" x2="707.8" y2="1083.9" stroke="#000" stroke-width="1.3" />
<text x="706.6" y="1108.1" font-size="21.8" text-anchor="middle" transform="rotate(-24 706.6 1100.3)" textLength="46.5" lengthAdjust="spacingAndGlyphs">1400</text>
<line x1="757" y1="1079.3" x2="757" y2="1083.9" stroke="#000" stroke-width="1.3" />
<text x="755.8" y="1108.1" font-size="21.8" text-anchor="middle" transform="rotate(-24 755.8 1100.3)" textLength="46.5" lengthAdjust="spacingAndGlyphs">1200</text>
<line x1="535.6" y1="1079.3" x2="535.6" y2="1081.9" stroke="#000" stroke-width="1.3" />
<line x1="584.8" y1="1079.3" x2="584.8" y2="1081.9" stroke="#000" stroke-width="1.3" />
<line x1="634" y1="1079.3" x2="634" y2="1081.9" stroke="#000" stroke-width="1.3" />
<line x1="683.2" y1="1079.3" x2="683.2" y2="1081.9" stroke="#000" stroke-width="1.3" />
<line x1="732.4" y1="1079.3" x2="732.4" y2="1081.9" stroke="#000" stroke-width="1.3" />
<text x="261.3" y="1143.6" font-size="29.8" textLength="246" lengthAdjust="spacingAndGlyphs">Wavenumber (cm<tspan font-size="18.5" dy="-10.7">-1</tspan><tspan dy="10.7">)</tspan></text>
<text x="24.3" y="983.2" font-size="29.2" text-anchor="middle" transform="rotate(-90 24.3 983.2)" textLength="192.5" lengthAdjust="spacingAndGlyphs">K-M (arb. units)</text>
<text x="47" y="896.3" font-size="25.5">CuNi-NP</text>
<line x1="768.4" y1="903.2" x2="790.1" y2="903.2" stroke="#ECB07C" stroke-width="4.6" stroke-linecap="round"/>
<text x="796.8" y="909.9" font-size="19" textLength="50" lengthAdjust="spacingAndGlyphs">30 min</text>
<line x1="768.4" y1="925.5" x2="790.1" y2="925.5" stroke="#F0D3B2" stroke-width="4.6" stroke-linecap="round"/>
<text x="796.8" y="932.2" font-size="19" textLength="50" lengthAdjust="spacingAndGlyphs">20 min</text>
<line x1="768.4" y1="948.2" x2="790.1" y2="948.2" stroke="#8CE79A" stroke-width="4.6" stroke-linecap="round"/>
<text x="796.8" y="954.9" font-size="19" textLength="50" lengthAdjust="spacingAndGlyphs">12 min</text>
<line x1="768.4" y1="970.5" x2="790.1" y2="970.5" stroke="#CCE8BC" stroke-width="4.6" stroke-linecap="round"/>
<text x="796.8" y="977.2" font-size="19" textLength="50" lengthAdjust="spacingAndGlyphs">10 min</text>
<line x1="768.4" y1="992.1" x2="790.1" y2="992.1" stroke="#E48392" stroke-width="4.6" stroke-linecap="round"/>
<text x="796.8" y="998.8" font-size="19" textLength="41" lengthAdjust="spacingAndGlyphs">8 min</text>
<line x1="768.4" y1="1014.5" x2="790.1" y2="1014.5" stroke="#EEB8DA" stroke-width="4.6" stroke-linecap="round"/>
<text x="796.8" y="1021.2" font-size="19" textLength="41" lengthAdjust="spacingAndGlyphs">6 min</text>
<line x1="768.4" y1="1036.6" x2="790.1" y2="1036.6" stroke="#76E0FA" stroke-width="4.6" stroke-linecap="round"/>
<text x="796.8" y="1043.3" font-size="19" textLength="41" lengthAdjust="spacingAndGlyphs">4 min</text>
<line x1="768.4" y1="1059.4" x2="790.1" y2="1059.4" stroke="#B4E6F4" stroke-width="4.6" stroke-linecap="round"/>
<text x="796.8" y="1066.1" font-size="19" textLength="41" lengthAdjust="spacingAndGlyphs">2 min</text>
<text x="3.8" y="880.7" font-size="34.5" font-weight="bold">d</text>
<rect x="1662.8" y="113.8" width="323.1" height="85" fill="#f8f8f6"/>
<rect x="1662.8" y="537.7" width="323.1" height="46.1" fill="#f3f1f6"/>
<rect x="1662.8" y="616" width="323.1" height="42" fill="#fbeeee"/>
<rect x="1662.8" y="863" width="323.1" height="49.2" fill="#f3f1f6"/>
<rect x="1662.8" y="912.2" width="323.1" height="43.2" fill="#f3fbfd"/>
<rect x="1662.8" y="1017.5" width="323.1" height="47.9" fill="#f5f6fc"/>
<defs><linearGradient id="bna" x1="0" x2="1" y1="0" y2="0"><stop offset="0" stop-color="#fd3643"/><stop offset="0.1" stop-color="#f8424c"/><stop offset="0.4" stop-color="#f57a82"/><stop offset="0.7" stop-color="#f2abb0"/><stop offset="0.9" stop-color="#f4d0d2"/><stop offset="1" stop-color="#f8e8e8"/></linearGradient><linearGradient id="bnat" x1="0" x2="1" y1="0" y2="0"><stop offset="0" stop-color="#e2733a"/><stop offset="0.45" stop-color="#d9582c"/><stop offset="0.8" stop-color="#c9261c"/><stop offset="1" stop-color="#c0171a"/></linearGradient><linearGradient id="bnaa" x1="0" x2="1" y1="0" y2="0"><stop offset="0" stop-color="#fff" stop-opacity="0.42"/><stop offset="1" stop-color="#fff" stop-opacity="0.5"/></linearGradient></defs>
<rect x="1554.9" y="11.4" width="107.9" height="25.6" fill="#f1f1f1"/>
<rect x="1662.8" y="11.4" width="323.1" height="25.6" fill="url(#bna)"/>
<rect x="1554.9" y="37" width="431" height="24" fill="url(#bnat)"/>
<polygon points="1557.9,47.1 1971.9,47.1 1971.9,43 1984.4,49 1971.9,55 1971.9,50.9 1557.9,50.9" fill="url(#bnaa)"/>
<text x="1604.6" y="30.9" font-size="20.5" text-anchor="middle" textLength="21" lengthAdjust="spacingAndGlyphs">Ar</text>
<text x="1609.3" y="57.8" font-size="20.5" text-anchor="middle" stroke="#fff" stroke-width="3.6" paint-order="stroke" stroke-linejoin="round" textLength="58" lengthAdjust="spacingAndGlyphs">600 ℃</text>
<text x="1609.3" y="57.8" font-size="20.5" text-anchor="middle" stroke="#000" stroke-width="0.4" paint-order="stroke" stroke-linejoin="round" textLength="58" lengthAdjust="spacingAndGlyphs">600 ℃</text>
<text x="1828" y="33" font-size="20.8" text-anchor="middle"><tspan font-size="12.9" dy="-7.5">12</tspan><tspan dy="7.5">CO</tspan><tspan font-size="12.9" dy="4.6">2</tspan></text>
<defs><linearGradient id="bnb" x1="0" x2="1" y1="0" y2="0"><stop offset="0" stop-color="#fd3340"/><stop offset="0.15" stop-color="#f04a58"/><stop offset="0.4" stop-color="#dc7f92"/><stop offset="0.6" stop-color="#cda4b8"/><stop offset="0.8" stop-color="#c3c0d8"/><stop offset="1" stop-color="#b5d8f0"/></linearGradient><linearGradient id="bnbt" x1="0" x2="1" y1="0" y2="0"><stop offset="0" stop-color="#e2733a"/><stop offset="0.45" stop-color="#d9582c"/><stop offset="0.8" stop-color="#c9261c"/><stop offset="1" stop-color="#c0171a"/></linearGradient><linearGradient id="bnba" x1="0" x2="1" y1="0" y2="0"><stop offset="0" stop-color="#fff" stop-opacity="0.42"/><stop offset="1" stop-color="#fff" stop-opacity="0.5"/></linearGradient></defs>
<rect x="1554.9" y="369" width="107.9" height="26.4" fill="#f1f1f1"/>
<rect x="1662.8" y="369" width="323.1" height="26.4" fill="url(#bnb)"/>
<rect x="1554.9" y="395.4" width="431" height="24.3" fill="url(#bnbt)"/>
<polygon points="1557.9,405.6 1971.9,405.6 1971.9,401.5 1984.4,407.5 1971.9,413.5 1971.9,409.4 1557.9,409.4" fill="url(#bnba)"/>
<text x="1604.6" y="388.5" font-size="20.5" text-anchor="middle" textLength="21" lengthAdjust="spacingAndGlyphs">Ar</text>
<text x="1609.3" y="416.2" font-size="20.5" text-anchor="middle" stroke="#fff" stroke-width="3.6" paint-order="stroke" stroke-linejoin="round" textLength="58" lengthAdjust="spacingAndGlyphs">600 ℃</text>
<text x="1609.3" y="416.2" font-size="20.5" text-anchor="middle" stroke="#000" stroke-width="0.4" paint-order="stroke" stroke-linejoin="round" textLength="58" lengthAdjust="spacingAndGlyphs">600 ℃</text>
<text x="1811" y="390.6" font-size="20.8" text-anchor="middle"><tspan font-size="12.9" dy="-7.5">12</tspan><tspan dy="7.5">CO</tspan><tspan font-size="12.9" dy="4.6">2</tspan><tspan dy="-4.6"> + H</tspan><tspan font-size="12.9" dy="4.6">2</tspan></text>
<defs><linearGradient id="bnc" x1="0" x2="1" y1="0" y2="0"><stop offset="0" stop-color="#fd3340"/><stop offset="0.1" stop-color="#f4584c"/><stop offset="0.25" stop-color="#f0a078"/><stop offset="0.4" stop-color="#f4d6a8"/><stop offset="0.55" stop-color="#f6f0c4"/><stop offset="0.7" stop-color="#e4e6c0"/><stop offset="0.85" stop-color="#c8dcd4"/><stop offset="1" stop-color="#b0d4f0"/></linearGradient><linearGradient id="bnct" x1="0" x2="1" y1="0" y2="0"><stop offset="0" stop-color="#e2733a"/><stop offset="0.45" stop-color="#d9582c"/><stop offset="0.8" stop-color="#c9261c"/><stop offset="1" stop-color="#c0171a"/></linearGradient><linearGradient id="bnca" x1="0" x2="1" y1="0" y2="0"><stop offset="0" stop-color="#fff" stop-opacity="0.42"/><stop offset="1" stop-color="#fff" stop-opacity="0.5"/></linearGradient></defs>
<rect x="1554.9" y="724.4" width="107.9" height="26.6" fill="#f1f1f1"/>
<rect x="1662.8" y="724.4" width="323.1" height="26.6" fill="url(#bnc)"/>
<rect x="1554.9" y="751" width="431" height="24.8" fill="url(#bnct)"/>
<polygon points="1557.9,761.5 1971.9,761.5 1971.9,757.4 1984.4,763.4 1971.9,769.4 1971.9,765.3 1557.9,765.3" fill="url(#bnca)"/>
<text x="1604.6" y="743.9" font-size="20.5" text-anchor="middle" textLength="21" lengthAdjust="spacingAndGlyphs">Ar</text>
<text x="1609.3" y="771.8" font-size="20.5" text-anchor="middle" stroke="#fff" stroke-width="3.6" paint-order="stroke" stroke-linejoin="round" textLength="58" lengthAdjust="spacingAndGlyphs">600 ℃</text>
<text x="1609.3" y="771.8" font-size="20.5" text-anchor="middle" stroke="#000" stroke-width="0.4" paint-order="stroke" stroke-linejoin="round" textLength="58" lengthAdjust="spacingAndGlyphs">600 ℃</text>
<text x="1821" y="746" font-size="20.8" text-anchor="middle"><tspan font-size="12.9" dy="-7.5">13</tspan><tspan dy="7.5">CO</tspan><tspan font-size="12.9" dy="4.6">2</tspan><tspan dy="-4.6"> + H</tspan><tspan font-size="12.9" dy="4.6">2</tspan></text>
<line x1="1554.9" y1="101.7" x2="1985.9" y2="101.7" stroke="#555" stroke-width="1.5" />
<text x="1980.6" y="91" font-size="19.4" text-anchor="end" fill="#6a6a6a" textLength="97.9" lengthAdjust="spacingAndGlyphs">H<tspan font-size="12" dy="4.3">2</tspan><tspan dy="-4.3"> (m/z=2)</tspan></text>
<polyline points="1554.9,198.2 1660.3,198.2 1660.8,198.2 1661.2,198.2 1661.6,198.2 1662,198.2 1662.4,198.2 1662.8,198.2 1663.1,186.3 1663.5,171.8 1663.9,161.8 1664.3,155.2 1664.7,150.7 1665.1,147.8 1665.5,145.7 1665.9,144.2 1666.3,143.3 1666.7,142.8 1667.1,142.8 1667.4,143.3 1667.8,144.9 1668.2,147.6 1668.6,145.1 1669,143.1 1669.4,142 1669.8,141.5 1670.2,141.2 1670.6,141.1 1671,141.1 1671.4,141.1 1671.8,141.1 1672.1,141.3 1672.5,141.7 1672.9,142.7 1673.3,144.4 1673.7,147.3 1674.1,144.9 1674.5,143 1674.9,141.9 1675.3,141.4 1675.7,141.2 1676.1,141.1 1676.4,141.1 1676.8,141.1 1677.2,141.2 1677.6,141.3 1678,141.7 1678.4,142.7 1678.8,144.5 1679.2,147.3 1679.6,145 1680,143 1680.4,141.9 1680.7,141.4 1681.1,141.2 1681.5,141.1 1681.9,141.2 1682.3,141.1 1682.7,141.2 1683.1,141.4 1683.5,141.8 1683.9,142.7 1684.3,144.4 1684.7,147.4 1685.1,145 1685.4,143.1 1685.8,142 1686.2,141.4 1686.6,141.3 1687,141.2 1687.4,141.2 1687.8,141.2 1688.2,141.2 1688.6,141.4 1689,141.8 1689.4,142.8 1689.7,144.5 1690.1,147.4 1690.5,145.1 1690.9,143.1 1691.3,142.1 1691.7,141.5 1692.1,141.3 1692.5,141.2 1692.9,141.2 1693.3,141.3 1693.7,141.2 1694,141.4 1694.4,141.9 1694.8,142.8 1695.2,144.6 1695.6,147.4 1696,145 1696.4,143.1 1696.8,142 1697.2,141.5 1697.6,141.3 1698,141.3 1698.4,141.3 1698.7,141.3 1699.1,141.3 1699.5,141.4 1699.9,142 1700.3,142.8 1700.7,144.6 1701.1,147.5 1701.5,145.1 1701.9,143.2 1702.3,142.2 1702.7,141.6 1703,141.4 1703.4,141.3 1703.8,141.3 1704.2,141.3 1704.6,141.4 1705,141.6 1705.4,141.9 1705.8,142.9 1706.2,144.6 1706.6,147.5 1707,145.2 1707.3,143.2 1707.7,142.2 1708.1,141.7 1708.5,141.5 1708.9,141.3 1709.3,141.4 1709.7,141.3 1710.1,141.4 1710.5,141.6 1710.9,142 1711.3,142.9 1711.7,144.7 1712,147.6 1712.4,145.2 1712.8,143.3 1713.2,142.2 1713.6,141.7 1714,141.5 1714.4,141.4 1714.8,141.4 1715.2,141.5 1715.6,141.5 1716,141.6 1716.3,142.1 1716.7,143 1717.1,144.7 1717.5,147.7 1717.9,145.3 1718.3,143.3 1718.7,142.2 1719.1,141.7 1719.5,141.6 1719.9,141.5 1720.3,141.4 1720.6,141.5 1721,141.5 1721.4,141.6 1721.8,142.1 1722.2,143 1722.6,144.8 1723,147.7 1723.4,145.4 1723.8,143.4 1724.2,142.3 1724.6,141.7 1725,141.6 1725.3,141.6 1725.7,141.5 1726.1,141.5 1726.5,141.6 1726.9,141.7 1727.3,142.1 1727.7,143.1 1728.1,144.8 1728.5,147.8 1728.9,145.4 1729.3,143.4 1729.6,142.4 1730,141.8 1730.4,141.6 1730.8,141.6 1731.2,141.5 1731.6,141.6 1732,141.6 1732.4,141.7 1732.8,142.2 1733.2,143.1 1733.6,144.9 1733.9,147.8 1734.3,145.4 1734.7,143.4 1735.1,142.4 1735.5,141.8 1735.9,141.7 1736.3,141.5 1736.7,141.6 1737.1,141.6 1737.5,141.6 1737.9,141.8 1738.3,142.2 1738.6,143.2 1739,144.9 1739.4,147.8 1739.8,145.5 1740.2,143.5 1740.6,142.4 1741,141.9 1741.4,141.7 1741.8,141.7 1742.2,141.6 1742.6,141.6 1742.9,141.7 1743.3,141.9 1743.7,142.3 1744.1,143.2 1744.5,144.9 1744.9,147.9 1745.3,145.5 1745.7,143.5 1746.1,142.5 1746.5,141.9 1746.9,141.8 1747.2,141.7 1747.6,141.6 1748,141.7 1748.4,141.7 1748.8,141.9 1749.2,142.3 1749.6,143.3 1750,145 1750.4,147.9 1750.8,145.5 1751.2,143.5 1751.5,142.5 1751.9,142 1752.3,141.8 1752.7,141.7 1753.1,141.8 1753.5,141.7 1753.9,141.8 1754.3,141.9 1754.7,142.4 1755.1,143.3 1755.5,145.1 1755.9,147.9 1756.2,145.6 1756.6,143.7 1757,142.6 1757.4,142 1757.8,141.8 1758.2,141.8 1758.6,141.8 1759,141.7 1759.4,141.8 1759.8,142 1760.2,142.4 1760.5,143.4 1760.9,145.1 1761.3,148 1761.7,145.7 1762.1,143.7 1762.5,142.6 1762.9,142.1 1763.3,141.9 1763.7,141.8 1764.1,141.8 1764.5,141.8 1764.8,141.9 1765.2,142.1 1765.6,142.5 1766,143.4 1766.4,145.2 1766.8,148 1767.2,145.7 1767.6,143.7 1768,142.6 1768.4,142.2 1768.8,142 1769.2,141.9 1769.5,141.8 1769.9,141.9 1770.3,141.9 1770.7,142 1771.1,142.5 1771.5,143.5 1771.9,145.2 1772.3,148.1 1772.7,145.7 1773.1,143.8 1773.5,142.7 1773.8,142.1 1774.2,141.9 1774.6,141.9 1775,141.9 1775.4,141.9 1775.8,142 1776.2,142.1 1776.6,142.6 1777,143.5 1777.4,145.2 1777.8,148.1 1778.1,145.8 1778.5,143.8 1778.9,142.7 1779.3,142.2 1779.7,142 1780.1,142 1780.5,141.9 1780.9,142 1781.3,142 1781.7,142.2 1782.1,142.6 1782.5,143.5 1782.8,145.2 1783.2,148.1 1783.6,145.8 1784,143.8 1784.4,142.8 1784.8,142.3 1785.2,142 1785.6,142 1786,142 1786.4,142 1786.8,142 1787.1,142.2 1787.5,142.6 1787.9,143.6 1788.3,145.3 1788.7,148.2 1789.1,145.9 1789.5,143.9 1789.9,142.8 1790.3,142.3 1790.7,142.1 1791.1,142.1 1791.4,142 1791.8,142.1 1792.2,142 1792.6,142.2 1793,142.7 1793.4,143.6 1793.8,145.4 1794.2,148.2 1794.6,145.9 1795,143.9 1795.4,142.9 1795.8,142.2 1796.1,142.1 1796.5,142.1 1796.9,142.1 1797.3,142.1 1797.7,142.1 1798.1,142.3 1798.5,142.7 1798.9,143.7 1799.3,145.4 1799.7,148.3 1800.1,145.9 1800.4,144 1800.8,142.9 1801.2,142.3 1801.6,142.2 1802,142.1 1802.4,142.1 1802.8,142.1 1803.2,142.1 1803.6,142.3 1804,142.8 1804.4,143.7 1804.7,145.4 1805.1,148.3 1805.5,146 1805.9,144 1806.3,142.9 1806.7,142.4 1807.1,142.2 1807.5,142.1 1807.9,142.1 1808.3,142.2 1808.7,142.2 1809.1,142.4 1809.4,142.8 1809.8,143.7 1810.2,145.5 1810.6,148.4 1811,146 1811.4,144.1 1811.8,143 1812.2,142.5 1812.6,142.3 1813,142.2 1813.4,142.2 1813.7,142.2 1814.1,142.3 1814.5,142.4 1814.9,142.8 1815.3,143.8 1815.7,145.5 1816.1,148.4 1816.5,146.1 1816.9,144.1 1817.3,143 1817.7,142.5 1818,142.3 1818.4,142.3 1818.8,142.2 1819.2,142.3 1819.6,142.4 1820,142.4 1820.4,142.9 1820.8,143.9 1821.2,145.6 1821.6,148.5 1822,146.1 1822.4,144.2 1822.7,143.1 1823.1,142.6 1823.5,142.4 1823.9,142.3 1824.3,142.3 1824.7,142.2 1825.1,142.3 1825.5,142.5 1825.9,142.9 1826.3,143.8 1826.7,145.7 1827,148.5 1827.4,146.2 1827.8,144.2 1828.2,143.1 1828.6,142.6 1829,142.4 1829.4,142.4 1829.8,142.3 1830.2,142.3 1830.6,142.4 1831,142.5 1831.3,143 1831.7,144 1832.1,145.7 1832.5,148.6 1832.9,146.3 1833.3,144.3 1833.7,143.2 1834.1,142.6 1834.5,142.4 1834.9,142.5 1835.3,142.4 1835.6,142.4 1836,142.4 1836.4,142.5 1836.8,143 1837.2,143.9 1837.6,145.6 1838,148.6 1838.4,146.3 1838.8,144.3 1839.2,143.2 1839.6,142.7 1840,142.5 1840.3,142.5 1840.7,142.5 1841.1,142.5 1841.5,142.5 1841.9,142.6 1842.3,143 1842.7,144 1843.1,145.8 1843.5,148.7 1843.9,146.3 1844.3,144.4 1844.6,143.3 1845,142.7 1845.4,142.5 1845.8,142.5 1846.2,142.4 1846.6,142.5 1847,142.5 1847.4,142.7 1847.8,143.1 1848.2,144.1 1848.6,145.8 1848.9,148.7 1849.3,146.3 1849.7,144.4 1850.1,143.3 1850.5,142.7 1850.9,142.6 1851.3,142.5 1851.7,142.5 1852.1,142.5 1852.5,142.6 1852.9,142.7 1853.3,143.1 1853.6,144.1 1854,145.9 1854.4,148.8 1854.8,146.4 1855.2,144.5 1855.6,143.3 1856,142.8 1856.4,142.6 1856.8,142.5 1857.2,142.6 1857.6,142.6 1857.9,142.6 1858.3,142.8 1858.7,143.2 1859.1,144.1 1859.5,145.9 1859.9,148.8 1860.3,146.4 1860.7,144.5 1861.1,143.4 1861.5,142.9 1861.9,142.7 1862.2,142.6 1862.6,142.6 1863,142.6 1863.4,142.6 1863.8,142.8 1864.2,143.3 1864.6,144.2 1865,145.9 1865.4,148.8 1865.8,146.5 1866.2,144.5 1866.6,143.5 1866.9,142.9 1867.3,142.7 1867.7,142.6 1868.1,142.6 1868.5,142.6 1868.9,142.7 1869.3,142.9 1869.7,143.3 1870.1,144.2 1870.5,146 1870.9,148.9 1871.2,146.5 1871.6,144.6 1872,143.4 1872.4,143 1872.8,142.7 1873.2,142.7 1873.6,142.7 1874,142.7 1874.4,142.7 1874.8,142.9 1875.2,143.3 1875.5,144.2 1875.9,146 1876.3,148.9 1876.7,146.5 1877.1,144.6 1877.5,143.6 1877.9,143 1878.3,142.8 1878.7,142.7 1879.1,142.8 1879.5,142.7 1879.9,142.8 1880.2,143 1880.6,143.4 1881,144.3 1881.4,146 1881.8,148.9 1882.2,146.6 1882.6,144.6 1883,143.5 1883.4,143 1883.8,142.8 1884.2,142.8 1884.5,142.8 1884.9,142.8 1885.3,142.8 1885.7,143 1886.1,143.4 1886.5,144.4 1886.9,146.1 1887.3,149 1887.7,146.6 1888.1,144.7 1888.5,143.6 1888.8,143.1 1889.2,142.9 1889.6,142.8 1890,142.9 1890.4,142.9 1890.8,142.8 1891.2,143 1891.6,143.4 1892,144.4 1892.4,146.2 1892.8,149.1 1893.2,146.7 1893.5,144.7 1893.9,143.6 1894.3,143.2 1894.7,142.9 1895.1,142.9 1895.5,142.9 1895.9,142.9 1896.3,142.9 1896.7,143.1 1897.1,143.5 1897.5,144.5 1897.8,146.2 1898.2,149 1898.6,146.8 1899,144.8 1899.4,143.7 1899.8,143.1 1900.2,142.9 1900.6,142.9 1901,142.9 1901.4,142.9 1901.8,142.9 1902.1,143.1 1902.5,143.6 1902.9,144.5 1903.3,146.3 1903.7,149.1 1904.1,146.8 1904.5,144.8 1904.9,143.7 1905.3,143.2 1905.7,143 1906.1,143 1906.4,142.9 1906.8,143 1907.2,143 1907.6,143.2 1908,143.6 1908.4,144.5 1908.8,146.3 1909.2,149.2 1909.6,146.8 1910,144.9 1910.4,143.8 1910.8,143.3 1911.1,143 1911.5,143 1911.9,143 1912.3,143 1912.7,143 1913.1,143.2 1913.5,143.7 1913.9,144.6 1914.3,146.3 1914.7,149.3 1915.1,146.9 1915.4,144.9 1915.8,143.8 1916.2,143.3 1916.6,143.1 1917,143.1 1917.4,143.1 1917.8,143.1 1918.2,143.1 1918.6,143.2 1919,143.7 1919.4,144.6 1919.7,146.4 1920.1,149.2 1920.5,146.9 1920.9,144.9 1921.3,143.9 1921.7,143.3 1922.1,143.2 1922.5,143 1922.9,143.1 1923.3,143.1 1923.7,143.1 1924.1,143.3 1924.4,143.7 1924.8,144.7 1925.2,146.4 1925.6,149.3 1926,147 1926.4,145 1926.8,143.9 1927.2,143.4 1927.6,143.2 1928,143.1 1928.4,143.2 1928.7,143.2 1929.1,143.2 1929.5,143.3 1929.9,143.8 1930.3,144.7 1930.7,146.5 1931.1,149.3 1931.5,147 1931.9,145.1 1932.3,144 1932.7,143.4 1933,143.2 1933.4,143.1 1933.8,143.2 1934.2,143.1 1934.6,143.2 1935,143.4 1935.4,143.8 1935.8,144.7 1936.2,146.5 1936.6,149.4 1937,147.1 1937.4,145.1 1937.7,144 1938.1,143.5 1938.5,143.2 1938.9,143.2 1939.3,143.2 1939.7,143.2 1940.1,143.2 1940.5,143.5 1940.9,143.9 1941.3,144.9 1941.7,146.5 1942,149.5 1942.4,147.1 1942.8,145.1 1943.2,144 1943.6,143.5 1944,143.3 1944.4,143.4 1944.8,143.3 1945.2,143.3 1945.6,143.3 1946,143.4 1946.3,143.9 1946.7,144.9 1947.1,146.6 1947.5,149.4 1947.9,147.1 1948.3,145.2 1948.7,144.1 1949.1,143.6 1949.5,143.3 1949.9,143.3 1950.3,143.3 1950.7,143.3 1951,143.4 1951.4,143.5 1951.8,143.9 1952.2,144.9 1952.6,146.6 1953,149.5 1953.4,147.2 1953.8,145.2 1954.2,144.1 1954.6,143.6 1955,143.4 1955.3,143.4 1955.7,143.4 1956.1,143.3 1956.5,143.4 1956.9,143.6 1957.3,144 1957.7,145 1958.1,146.7 1958.5,149.6 1958.9,147.2 1959.3,145.2 1959.6,144.2 1960,143.6 1960.4,143.4 1960.8,143.4 1961.2,143.4 1961.6,143.4 1962,143.5 1962.4,143.6 1962.8,144 1963.2,145 1963.6,146.7 1964,149.6 1964.3,147.3 1964.7,145.3 1965.1,144.2 1965.5,143.7 1965.9,143.5 1966.3,143.5 1966.7,143.5 1967.1,143.5 1967.5,143.5 1967.9,143.6 1968.3,144.1 1968.6,145.1 1969,146.7 1969.4,149.7 1969.8,147.3 1970.2,145.4 1970.6,144.3 1971,143.8 1971.4,143.5 1971.8,143.5 1972.2,143.6 1972.6,143.5 1972.9,143.5 1973.3,143.7 1973.7,144.2 1974.1,145 1974.5,146.8 1974.9,149.6 1975.3,147.4 1975.7,145.4 1976.1,144.3 1976.5,143.8 1976.9,143.5 1977.3,143.5 1977.6,143.5 1978,143.5 1978.4,143.6 1978.8,143.7 1979.2,144.2 1979.6,145.1 1980,146.8 1980.4,149.8 1980.8,147.4 1981.2,145.4 1981.6,144.4 1981.9,143.8 1982.3,143.6 1982.7,143.5 1983.1,143.6 1983.5,143.6 1983.9,143.6 1984.3,143.8 1984.7,144.2 1985.1,145.2 1985.5,146.9 1985.9,149.8" fill="none" stroke="#76d596" stroke-width="2.0" stroke-linejoin="round" stroke-linecap="round" />
<text x="1980.6" y="133.5" font-size="19.4" text-anchor="end" fill="#3f8f22" textLength="139.5" lengthAdjust="spacingAndGlyphs"><tspan font-size="12" dy="-7">12</tspan><tspan dy="7">CO</tspan><tspan font-size="12" dy="4.3">2</tspan><tspan dy="-4.3"> (m/z=44)</tspan></text>
<line x1="1554.9" y1="236.1" x2="1985.9" y2="236.1" stroke="#c58af2" stroke-width="1.8" />
<text x="1980.6" y="226" font-size="19.4" text-anchor="end" fill="#d670e2" textLength="125.4" lengthAdjust="spacingAndGlyphs">H<tspan font-size="12" dy="4.3">2</tspan><tspan dy="-4.3">O (m/z=18)</tspan></text>
<polyline points="1554.9,285.6 1660.3,285.6 1660.8,285.6 1662.4,285.6 1664,285.3 1665.6,285 1667.2,285 1668.8,285 1670.4,285 1672,284.9 1673.6,285 1675.2,285 1676.8,284.9 1678.4,285 1680,285 1681.6,285 1683.2,285 1684.8,285 1686.4,285 1688,284.8 1689.6,285.1 1691.2,285 1692.8,285 1694.4,285 1696,285 1697.6,285 1699.2,285 1700.8,285 1702.4,284.9 1704,285.1 1705.6,284.9 1707.2,285 1708.8,285 1710.4,285 1712,285 1713.6,285 1715.2,284.8 1716.8,285 1718.4,285 1720,285 1721.6,285.1 1723.2,284.9 1724.8,285 1726.4,284.9 1728,285 1729.6,284.9 1731.2,284.9 1732.8,285.1 1734.4,285 1736,285 1737.6,285 1739.2,284.9 1740.8,284.9 1742.4,285 1744,284.9 1745.6,285 1747.2,284.9 1748.8,285 1750.4,284.9 1752,285.1 1753.6,285 1755.2,285 1756.8,284.9 1758.4,285 1760,285 1761.6,284.9 1763.2,285 1764.8,285 1766.4,285 1768,285 1769.6,285 1771.2,285 1772.8,285 1774.4,285 1776,285.1 1777.6,285 1779.2,284.9 1780.8,285 1782.4,285 1784,284.9 1785.6,285 1787.2,285 1788.8,284.9 1790.4,285 1792,285 1793.6,285 1795.2,285 1796.8,284.9 1798.4,285 1800,285 1801.6,285 1803.2,285 1804.8,285 1806.4,285 1808,285 1809.6,285.1 1811.2,285 1812.8,285 1814.4,285 1816,285 1817.6,285 1819.2,285.1 1820.8,284.9 1822.4,285 1824,285 1825.6,285 1827.2,285 1828.8,285.1 1830.4,285.1 1832,285.1 1833.6,285.1 1835.2,285 1836.8,285 1838.4,285 1840,285 1841.6,285 1843.2,285 1844.8,285.1 1846.4,285 1848,285 1849.6,285 1851.2,285 1852.8,285 1854.4,285 1856,284.9 1857.6,284.9 1859.2,285 1860.8,285 1862.4,285.1 1864,285 1865.6,285 1867.2,284.9 1868.8,285.1 1870.4,285 1872,285.1 1873.6,284.9 1875.2,285 1876.8,285 1878.4,285 1880,285 1881.6,285 1883.2,285 1884.8,285 1886.4,285 1888,285 1889.6,285 1891.2,285 1892.8,285 1894.4,285 1896,285 1897.6,285 1899.2,285 1900.8,285.1 1902.4,285 1904,285 1905.6,285 1907.2,285 1908.8,285 1910.4,285.1 1912,285 1913.6,284.9 1915.2,285 1916.8,285.1 1918.4,284.9 1920,285 1921.6,285.1 1923.2,285 1924.8,285.1 1926.4,284.9 1928,284.9 1929.6,285 1931.2,285 1932.8,284.9 1934.4,285 1936,285 1937.6,285 1939.2,285 1940.8,285 1942.4,285 1944,285 1945.6,285 1947.2,285 1948.8,285 1950.4,285 1952,284.9 1953.6,285 1955.2,285 1956.8,285.1 1958.4,285 1960,285.1 1961.6,285.1 1963.2,285 1964.8,284.9 1966.4,285 1968,285 1969.6,285 1971.2,284.9 1972.8,285 1974.4,285 1976,285 1977.6,285 1979.2,285 1980.8,284.9 1982.4,285 1984,285 1985.6,285" fill="none" stroke="#f06a78" stroke-width="2.0" stroke-linejoin="round" stroke-linecap="round" />
<text x="1980.6" y="275.6" font-size="19.4" text-anchor="end" fill="#f23a46" textLength="132.4" lengthAdjust="spacingAndGlyphs"><tspan font-size="12" dy="-7">12</tspan><tspan dy="7">CO (m/z=28)</tspan></text>
<line x1="1554.9" y1="329.9" x2="1985.9" y2="329.9" stroke="#5b94ee" stroke-width="1.8" />
<text x="1980.6" y="320.2" font-size="19.4" text-anchor="end" fill="#5b94e8" textLength="132.4" lengthAdjust="spacingAndGlyphs"><tspan font-size="12" dy="-7">13</tspan><tspan dy="7">CO (m/z=29)</tspan></text>
<polyline points="1554.9,499.5 1660.3,499.5 1660.8,499.5 1662.4,499.5 1664,486.6 1665.6,479.8 1667.2,476.2 1668.8,475.1 1670.4,473.4 1672,472.4 1673.6,472 1675.2,470.6 1676.8,469.7 1678.4,469.1 1680,468.5 1681.6,467.4 1683.2,467 1684.8,465.9 1686.4,465.5 1688,464.9 1689.6,464.1 1691.2,463.6 1692.8,463.1 1694.4,463 1696,462.7 1697.6,462.2 1699.2,462 1700.8,461.2 1702.4,461.3 1704,461.1 1705.6,460.9 1707.2,460.2 1708.8,460 1710.4,459.3 1712,459.5 1713.6,458.8 1715.2,458.8 1716.8,459.4 1718.4,458.2 1720,459 1721.6,458.7 1723.2,458.3 1724.8,458.4 1726.4,458.3 1728,458.3 1729.6,457.8 1731.2,457.5 1732.8,457.4 1734.4,457.2 1736,457.4 1737.6,457.1 1739.2,457.5 1740.8,456.6 1742.4,456.7 1744,456.7 1745.6,456.2 1747.2,457.4 1748.8,456 1750.4,456.6 1752,456.4 1753.6,457 1755.2,455.9 1756.8,456.7 1758.4,456.1 1760,456.3 1761.6,456.1 1763.2,456.4 1764.8,455.8 1766.4,456.1 1768,456.2 1769.6,456.6 1771.2,455.3 1772.8,456.4 1774.4,456.2 1776,455.7 1777.6,456 1779.2,455.7 1780.8,456.3 1782.4,455.8 1784,455.7 1785.6,455.6 1787.2,455.6 1788.8,455.6 1790.4,455.4 1792,456.2 1793.6,455 1795.2,454.5 1796.8,455.5 1798.4,455.5 1800,455.6 1801.6,455.4 1803.2,455.4 1804.8,455.5 1806.4,455.7 1808,455.3 1809.6,455.3 1811.2,455.9 1812.8,455.5 1814.4,455 1816,456 1817.6,455.5 1819.2,455.1 1820.8,454.9 1822.4,455.3 1824,455 1825.6,454.9 1827.2,454.8 1828.8,455 1830.4,455.5 1832,455 1833.6,454.7 1835.2,455.3 1836.8,455.2 1838.4,455.4 1840,455.5 1841.6,455.1 1843.2,455 1844.8,455.1 1846.4,454.7 1848,455.3 1849.6,455.5 1851.2,455.1 1852.8,455 1854.4,454.9 1856,454.8 1857.6,454.8 1859.2,454.9 1860.8,454.7 1862.4,454.9 1864,454.5 1865.6,455.1 1867.2,455 1868.8,454.6 1870.4,454.3 1872,454.9 1873.6,455.3 1875.2,454.7 1876.8,454.8 1878.4,454.7 1880,455.1 1881.6,454.6 1883.2,455.2 1884.8,454.8 1886.4,455.2 1888,454.9 1889.6,454.8 1891.2,454.4 1892.8,454.7 1894.4,454.8 1896,455 1897.6,454.9 1899.2,454.6 1900.8,455 1902.4,455.1 1904,454.8 1905.6,454.7 1907.2,454.7 1908.8,455.1 1910.4,455 1912,454.5 1913.6,454.9 1915.2,454.7 1916.8,454.6 1918.4,455.2 1920,455 1921.6,454.6 1923.2,454.8 1924.8,454.9 1926.4,454.6 1928,454.7 1929.6,455 1931.2,454.2 1932.8,454.9 1934.4,455 1936,454.9 1937.6,454.3 1939.2,454.8 1940.8,454.5 1942.4,454.9 1944,454.9 1945.6,454.8 1947.2,454.5 1948.8,454.6 1950.4,455 1952,454.5 1953.6,454.9 1955.2,454.9 1956.8,454.6 1958.4,455.4 1960,454.7 1961.6,455.4 1963.2,454.1 1964.8,454 1966.4,455 1968,454.9 1969.6,454.6 1971.2,454.7 1972.8,454.1 1974.4,454.5 1976,454.4 1977.6,454.6 1979.2,455 1980.8,454.7 1982.4,454.8 1984,454.5 1985.6,454.6" fill="none" stroke="#8a8a8a" stroke-width="2.0" stroke-linejoin="round" stroke-linecap="round" />
<text x="1980.6" y="443.8" font-size="19.4" text-anchor="end" fill="#6a6a6a" textLength="97.9" lengthAdjust="spacingAndGlyphs">H<tspan font-size="12" dy="4.3">2</tspan><tspan dy="-4.3"> (m/z=2)</tspan></text>
<polyline points="1554.9,536 1660.3,536 1660.8,536 1661.3,536 1661.8,536 1662.3,536 1662.9,539.6 1663.4,528.8 1663.9,522.1 1664.4,518 1664.9,515.6 1665.4,514.2 1665.9,513.4 1666.4,512.8 1667,512.5 1667.5,512.3 1668,512.3 1668.5,512.6 1669,513.4 1669.5,514.8 1670,516.6 1670.5,514.4 1671.1,513 1671.6,512.2 1672.1,511.9 1672.6,511.7 1673.1,511.7 1673.6,511.7 1674.1,511.7 1674.6,511.6 1675.2,511.8 1675.7,512.2 1676.2,513 1676.7,514.4 1677.2,516.2 1677.7,514 1678.2,512.7 1678.8,512 1679.3,511.7 1679.8,511.4 1680.3,511.4 1680.8,511.4 1681.3,511.4 1681.8,511.4 1682.3,511.6 1682.9,511.9 1683.4,512.7 1683.9,514.2 1684.4,516 1684.9,513.8 1685.4,512.5 1685.9,511.7 1686.4,511.4 1687,511.2 1687.5,511.2 1688,511.2 1688.5,511.2 1689,511.2 1689.5,511.3 1690,511.7 1690.5,512.5 1691.1,514 1691.6,515.8 1692.1,513.6 1692.6,512.2 1693.1,511.5 1693.6,511.1 1694.1,511.1 1694.6,511 1695.2,511 1695.7,511 1696.2,511 1696.7,511.2 1697.2,511.5 1697.7,512.3 1698.2,513.8 1698.8,515.6 1699.3,513.4 1699.8,512.1 1700.3,511.4 1700.8,511.1 1701.3,510.9 1701.8,510.9 1702.3,510.8 1702.9,510.8 1703.4,510.8 1703.9,511 1704.4,511.4 1704.9,512.2 1705.4,513.6 1705.9,515.4 1706.4,513.3 1707,511.9 1707.5,511.2 1708,510.9 1708.5,510.8 1709,510.7 1709.5,510.7 1710,510.6 1710.5,510.8 1711.1,510.9 1711.6,511.2 1712.1,512.1 1712.6,513.5 1713.1,515.4 1713.6,513.1 1714.1,511.8 1714.7,511.1 1715.2,510.8 1715.7,510.6 1716.2,510.6 1716.7,510.6 1717.2,510.6 1717.7,510.6 1718.2,510.7 1718.8,511.1 1719.3,512 1719.8,513.4 1720.3,515.3 1720.8,513.2 1721.3,511.7 1721.8,511 1722.3,510.7 1722.9,510.5 1723.4,510.5 1723.9,510.5 1724.4,510.5 1724.9,510.5 1725.4,510.7 1725.9,511.1 1726.4,511.9 1727,513.4 1727.5,515.2 1728,512.9 1728.5,511.7 1729,510.9 1729.5,510.6 1730,510.5 1730.5,510.4 1731.1,510.5 1731.6,510.4 1732.1,510.4 1732.6,510.6 1733.1,511 1733.6,511.8 1734.1,513.3 1734.7,515.1 1735.2,512.9 1735.7,511.6 1736.2,510.8 1736.7,510.5 1737.2,510.4 1737.7,510.4 1738.2,510.4 1738.8,510.4 1739.3,510.3 1739.8,510.5 1740.3,510.9 1740.8,511.7 1741.3,513.2 1741.8,515 1742.3,512.8 1742.9,511.5 1743.4,510.7 1743.9,510.4 1744.4,510.4 1744.9,510.3 1745.4,510.3 1745.9,510.4 1746.4,510.3 1747,510.5 1747.5,510.9 1748,511.7 1748.5,513.1 1749,515 1749.5,512.8 1750,511.5 1750.6,510.7 1751.1,510.4 1751.6,510.2 1752.1,510.2 1752.6,510.2 1753.1,510.2 1753.6,510.3 1754.1,510.4 1754.7,510.8 1755.2,511.6 1755.7,513.1 1756.2,515 1756.7,512.7 1757.2,511.4 1757.7,510.7 1758.2,510.4 1758.8,510.2 1759.3,510.2 1759.8,510.2 1760.3,510.2 1760.8,510.2 1761.3,510.3 1761.8,510.8 1762.3,511.6 1762.9,513.1 1763.4,514.9 1763.9,512.7 1764.4,511.4 1764.9,510.6 1765.4,510.3 1765.9,510.2 1766.4,510.2 1767,510.1 1767.5,510.2 1768,510.2 1768.5,510.4 1769,510.7 1769.5,511.5 1770,513 1770.6,514.9 1771.1,512.6 1771.6,511.4 1772.1,510.7 1772.6,510.3 1773.1,510.2 1773.6,510.2 1774.1,510.2 1774.7,510.2 1775.2,510.2 1775.7,510.3 1776.2,510.7 1776.7,511.5 1777.2,513 1777.7,514.9 1778.2,512.6 1778.8,511.3 1779.3,510.7 1779.8,510.2 1780.3,510.2 1780.8,510.2 1781.3,510.2 1781.8,510.1 1782.3,510.2 1782.9,510.3 1783.4,510.7 1783.9,511.5 1784.4,513 1784.9,514.8 1785.4,512.6 1785.9,511.3 1786.5,510.6 1787,510.2 1787.5,510.1 1788,510.1 1788.5,510.1 1789,510.1 1789.5,510.2 1790,510.3 1790.6,510.7 1791.1,511.5 1791.6,513 1792.1,514.8 1792.6,512.6 1793.1,511.3 1793.6,510.6 1794.1,510.2 1794.7,510.1 1795.2,510.1 1795.7,510.1 1796.2,510.1 1796.7,510.1 1797.2,510.3 1797.7,510.7 1798.2,511.5 1798.8,512.9 1799.3,514.8 1799.8,512.6 1800.3,511.3 1800.8,510.6 1801.3,510.2 1801.8,510.1 1802.3,510.1 1802.9,510.1 1803.4,510 1803.9,510.1 1804.4,510.2 1804.9,510.6 1805.4,511.4 1805.9,513 1806.5,514.8 1807,512.6 1807.5,511.2 1808,510.6 1808.5,510.2 1809,510.1 1809.5,510.1 1810,510 1810.6,510.1 1811.1,510 1811.6,510.3 1812.1,510.6 1812.6,511.4 1813.1,512.9 1813.6,514.7 1814.1,512.5 1814.7,511.3 1815.2,510.5 1815.7,510.2 1816.2,510.1 1816.7,510 1817.2,510 1817.7,510 1818.2,510 1818.8,510.2 1819.3,510.7 1819.8,511.4 1820.3,513 1820.8,514.8 1821.3,512.5 1821.8,511.2 1822.4,510.5 1822.9,510.2 1823.4,510.1 1823.9,510.1 1824.4,510 1824.9,510 1825.4,510.1 1825.9,510.2 1826.5,510.6 1827,511.4 1827.5,512.9 1828,514.8 1828.5,512.6 1829,511.2 1829.5,510.5 1830,510.1 1830.6,510.1 1831.1,510 1831.6,510 1832.1,510.1 1832.6,510.1 1833.1,510.3 1833.6,510.6 1834.1,511.4 1834.7,512.9 1835.2,514.8 1835.7,512.6 1836.2,511.2 1836.7,510.6 1837.2,510.2 1837.7,510 1838.2,510 1838.8,510 1839.3,510 1839.8,510.1 1840.3,510.2 1840.8,510.7 1841.3,511.4 1841.8,512.9 1842.4,514.8 1842.9,512.5 1843.4,511.2 1843.9,510.5 1844.4,510.2 1844.9,510.1 1845.4,510 1845.9,510 1846.5,510.1 1847,510.1 1847.5,510.2 1848,510.7 1848.5,511.4 1849,512.9 1849.5,514.7 1850,512.5 1850.6,511.3 1851.1,510.5 1851.6,510.1 1852.1,510 1852.6,510 1853.1,510 1853.6,510 1854.1,510.1 1854.7,510.2 1855.2,510.6 1855.7,511.4 1856.2,512.9 1856.7,514.8 1857.2,512.5 1857.7,511.2 1858.3,510.5 1858.8,510.2 1859.3,510 1859.8,510 1860.3,510 1860.8,510.1 1861.3,510.1 1861.8,510.3 1862.4,510.6 1862.9,511.4 1863.4,512.9 1863.9,514.8 1864.4,512.5 1864.9,511.2 1865.4,510.5 1865.9,510.1 1866.5,510 1867,510 1867.5,510.1 1868,510.1 1868.5,510.1 1869,510.3 1869.5,510.6 1870,511.4 1870.6,512.9 1871.1,514.8 1871.6,512.5 1872.1,511.2 1872.6,510.5 1873.1,510.2 1873.6,510 1874.1,510 1874.7,510 1875.2,510 1875.7,510 1876.2,510.2 1876.7,510.6 1877.2,511.4 1877.7,512.9 1878.3,514.7 1878.8,512.6 1879.3,511.2 1879.8,510.5 1880.3,510.2 1880.8,510 1881.3,510.1 1881.8,510 1882.4,510 1882.9,510 1883.4,510.2 1883.9,510.6 1884.4,511.4 1884.9,512.9 1885.4,514.8 1885.9,512.6 1886.5,511.2 1887,510.5 1887.5,510.1 1888,510 1888.5,510 1889,510 1889.5,510 1890,510 1890.6,510.2 1891.1,510.6 1891.6,511.5 1892.1,512.9 1892.6,514.7 1893.1,512.5 1893.6,511.2 1894.2,510.5 1894.7,510.2 1895.2,510 1895.7,510 1896.2,510 1896.7,510 1897.2,510 1897.7,510.2 1898.3,510.6 1898.8,511.4 1899.3,512.8 1899.8,514.7 1900.3,512.6 1900.8,511.2 1901.3,510.5 1901.8,510.1 1902.4,510.1 1902.9,510 1903.4,509.9 1903.9,510 1904.4,510.1 1904.9,510.2 1905.4,510.5 1905.9,511.4 1906.5,512.9 1907,514.8 1907.5,512.5 1908,511.2 1908.5,510.5 1909,510.2 1909.5,510 1910,510 1910.6,510 1911.1,510 1911.6,510.1 1912.1,510.2 1912.6,510.6 1913.1,511.4 1913.6,512.9 1914.2,514.7 1914.7,512.6 1915.2,511.2 1915.7,510.5 1916.2,510.2 1916.7,510.1 1917.2,510 1917.7,510 1918.3,510 1918.8,510.1 1919.3,510.2 1919.8,510.5 1920.3,511.4 1920.8,512.9 1921.3,514.7 1921.8,512.6 1922.4,511.2 1922.9,510.5 1923.4,510.2 1923.9,510.1 1924.4,510.1 1924.9,510.1 1925.4,510 1925.9,510.1 1926.5,510.2 1927,510.5 1927.5,511.5 1928,512.9 1928.5,514.7 1929,512.6 1929.5,511.3 1930.1,510.5 1930.6,510.2 1931.1,510 1931.6,510 1932.1,510 1932.6,510 1933.1,510.1 1933.6,510.2 1934.2,510.6 1934.7,511.4 1935.2,512.9 1935.7,514.7 1936.2,512.6 1936.7,511.2 1937.2,510.5 1937.7,510.2 1938.3,510 1938.8,510 1939.3,510 1939.8,510 1940.3,510 1940.8,510.2 1941.3,510.6 1941.8,511.4 1942.4,512.9 1942.9,514.7 1943.4,512.5 1943.9,511.2 1944.4,510.5 1944.9,510.2 1945.4,510 1945.9,510 1946.5,510 1947,510 1947.5,510.1 1948,510.2 1948.5,510.6 1949,511.4 1949.5,512.9 1950.1,514.7 1950.6,512.6 1951.1,511.2 1951.6,510.5 1952.1,510.1 1952.6,510.1 1953.1,510 1953.6,510 1954.2,510 1954.7,510.1 1955.2,510.2 1955.7,510.5 1956.2,511.4 1956.7,512.9 1957.2,514.7 1957.7,512.6 1958.3,511.2 1958.8,510.5 1959.3,510.1 1959.8,510.1 1960.3,510 1960.8,510 1961.3,510 1961.8,510 1962.4,510.2 1962.9,510.5 1963.4,511.4 1963.9,512.9 1964.4,514.7 1964.9,512.6 1965.4,511.2 1966,510.5 1966.5,510.2 1967,510 1967.5,510 1968,510 1968.5,510 1969,510 1969.5,510.2 1970.1,510.6 1970.6,511.4 1971.1,512.9 1971.6,514.7 1972.1,512.5 1972.6,511.2 1973.1,510.5 1973.6,510.1 1974.2,510 1974.7,510 1975.2,510 1975.7,510 1976.2,510.1 1976.7,510.1 1977.2,510.6 1977.7,511.4 1978.3,512.9 1978.8,514.7 1979.3,512.6 1979.8,511.2 1980.3,510.5 1980.8,510.2 1981.3,510 1981.8,510 1982.4,510 1982.9,510 1983.4,510 1983.9,510.2 1984.4,510.6 1984.9,511.4 1985.4,512.8" fill="none" stroke="#76d596" stroke-width="2.0" stroke-linejoin="round" stroke-linecap="round" />
<text x="1980.6" y="500.5" font-size="19.4" text-anchor="end" fill="#3f8f22" textLength="139.5" lengthAdjust="spacingAndGlyphs"><tspan font-size="12" dy="-7">12</tspan><tspan dy="7">CO</tspan><tspan font-size="12" dy="4.3">2</tspan><tspan dy="-4.3"> (m/z=44)</tspan></text>
<polyline points="1554.9,583.3 1660.3,583.3 1660.8,583.3 1661.3,583.3 1661.8,583.3 1662.3,583.3 1662.9,583.7 1663.4,575.7 1663.9,571.2 1664.4,568.6 1664.9,567.3 1665.4,566.6 1665.9,566.5 1666.4,566.3 1667,566.4 1667.5,566.4 1668,566.7 1668.5,566.9 1669,567.3 1669.5,567.9 1670,568.6 1670.5,568.1 1671.1,567.8 1671.6,567.7 1672.1,567.6 1672.6,567.8 1673.1,567.8 1673.6,567.9 1674.1,568 1674.6,568 1675.2,568.2 1675.7,568.4 1676.2,568.8 1676.7,569.2 1677.2,569.9 1677.7,569.2 1678.2,568.9 1678.8,568.6 1679.3,568.5 1679.8,568.7 1680.3,568.5 1680.8,568.6 1681.3,568.7 1681.8,568.8 1682.3,568.7 1682.9,568.8 1683.4,569.2 1683.9,569.7 1684.4,570.3 1684.9,569.6 1685.4,569.2 1685.9,569 1686.4,568.9 1687,568.9 1687.5,568.9 1688,568.9 1688.5,568.9 1689,568.9 1689.5,569 1690,569 1690.5,569.3 1691.1,569.9 1691.6,570.4 1692.1,569.7 1692.6,569.3 1693.1,569.1 1693.6,569 1694.1,568.9 1694.6,569 1695.2,569 1695.7,568.9 1696.2,569 1696.7,569 1697.2,569.2 1697.7,569.5 1698.2,570 1698.8,570.5 1699.3,569.9 1699.8,569.5 1700.3,569.1 1700.8,569 1701.3,569 1701.8,568.9 1702.3,569 1702.9,569.1 1703.4,569.1 1703.9,569.1 1704.4,569.1 1704.9,569.6 1705.4,569.9 1705.9,570.5 1706.4,569.8 1707,569.3 1707.5,569.1 1708,569 1708.5,569.1 1709,569 1709.5,569 1710,569 1710.5,569 1711.1,569.1 1711.6,569.2 1712.1,569.4 1712.6,569.8 1713.1,570.5 1713.6,569.8 1714.1,569.4 1714.7,569.1 1715.2,569 1715.7,569 1716.2,568.9 1716.7,568.9 1717.2,568.9 1717.7,569 1718.2,569.2 1718.8,569.2 1719.3,569.5 1719.8,569.9 1720.3,570.5 1720.8,569.8 1721.3,569.4 1721.8,569 1722.3,569 1722.9,568.9 1723.4,569 1723.9,569 1724.4,569.1 1724.9,569.1 1725.4,569 1725.9,569.2 1726.4,569.5 1727,569.9 1727.5,570.6 1728,569.8 1728.5,569.3 1729,569.2 1729.5,569 1730,569 1730.5,569 1731.1,569 1731.6,568.9 1732.1,569.1 1732.6,569.1 1733.1,569.2 1733.6,569.4 1734.1,569.9 1734.7,570.5 1735.2,569.8 1735.7,569.4 1736.2,569.1 1736.7,569 1737.2,569.1 1737.7,569 1738.2,568.9 1738.8,569 1739.3,568.9 1739.8,569 1740.3,569.2 1740.8,569.4 1741.3,570 1741.8,570.5 1742.3,569.7 1742.9,569.4 1743.4,569.3 1743.9,569 1744.4,569 1744.9,569.1 1745.4,569 1745.9,569 1746.4,569.1 1747,569 1747.5,569.2 1748,569.4 1748.5,569.9 1749,570.5 1749.5,569.9 1750,569.4 1750.6,569.1 1751.1,569 1751.6,569.1 1752.1,569.1 1752.6,568.9 1753.1,569.1 1753.6,569 1754.1,569 1754.7,569.2 1755.2,569.5 1755.7,570 1756.2,570.6 1756.7,569.8 1757.2,569.4 1757.7,569.1 1758.2,569 1758.8,569 1759.3,569 1759.8,568.9 1760.3,569 1760.8,569 1761.3,569 1761.8,569.1 1762.3,569.4 1762.9,569.9 1763.4,570.5 1763.9,569.8 1764.4,569.3 1764.9,569.2 1765.4,569.1 1765.9,569.1 1766.4,569 1767,569 1767.5,569 1768,569 1768.5,569.1 1769,569.2 1769.5,569.4 1770,570 1770.6,570.5 1771.1,569.8 1771.6,569.3 1772.1,569.2 1772.6,569 1773.1,569 1773.6,569 1774.1,569.1 1774.7,569.1 1775.2,569 1775.7,569.1 1776.2,569.2 1776.7,569.5 1777.2,570 1777.7,570.5 1778.2,569.8 1778.8,569.4 1779.3,569.1 1779.8,569 1780.3,569 1780.8,568.9 1781.3,568.9 1781.8,569 1782.3,569 1782.9,569.1 1783.4,569.1 1783.9,569.4 1784.4,569.9 1784.9,570.5 1785.4,569.8 1785.9,569.5 1786.5,569.1 1787,569 1787.5,569 1788,569 1788.5,569 1789,569.1 1789.5,569.1 1790,569 1790.6,569.2 1791.1,569.4 1791.6,569.8 1792.1,570.5 1792.6,569.8 1793.1,569.4 1793.6,569.2 1794.1,569.1 1794.7,569 1795.2,569.1 1795.7,569 1796.2,569 1796.7,569 1797.2,569.1 1797.7,569.2 1798.2,569.4 1798.8,569.9 1799.3,570.6 1799.8,569.8 1800.3,569.4 1800.8,569.2 1801.3,569.1 1801.8,569.1 1802.3,569 1802.9,569 1803.4,569 1803.9,568.9 1804.4,569.1 1804.9,569.2 1805.4,569.4 1805.9,570 1806.5,570.5 1807,569.8 1807.5,569.4 1808,569.2 1808.5,569.1 1809,569 1809.5,569 1810,569 1810.6,569 1811.1,569 1811.6,569.1 1812.1,569.2 1812.6,569.5 1813.1,569.9 1813.6,570.5 1814.1,569.8 1814.7,569.4 1815.2,569.2 1815.7,569 1816.2,569 1816.7,569 1817.2,568.9 1817.7,569 1818.2,569 1818.8,569 1819.3,569.2 1819.8,569.5 1820.3,569.9 1820.8,570.6 1821.3,569.8 1821.8,569.3 1822.4,569.2 1822.9,569 1823.4,568.9 1823.9,568.9 1824.4,569 1824.9,569 1825.4,569 1825.9,569.1 1826.5,569.2 1827,569.4 1827.5,570 1828,570.6 1828.5,569.8 1829,569.4 1829.5,569.1 1830,569 1830.6,569.1 1831.1,569 1831.6,569 1832.1,568.9 1832.6,569 1833.1,569 1833.6,569.2 1834.1,569.5 1834.7,570 1835.2,570.5 1835.7,569.8 1836.2,569.4 1836.7,569.2 1837.2,569.1 1837.7,568.9 1838.2,569.1 1838.8,569 1839.3,569.2 1839.8,569 1840.3,569.1 1840.8,569.2 1841.3,569.5 1841.8,569.9 1842.4,570.4 1842.9,569.7 1843.4,569.4 1843.9,569.1 1844.4,569 1844.9,569.1 1845.4,569 1845.9,569.1 1846.5,569 1847,569 1847.5,569.1 1848,569.2 1848.5,569.5 1849,570 1849.5,570.5 1850,569.8 1850.6,569.3 1851.1,569.1 1851.6,569.1 1852.1,569 1852.6,569 1853.1,569 1853.6,569 1854.1,569 1854.7,569.1 1855.2,569.2 1855.7,569.5 1856.2,569.9 1856.7,570.6 1857.2,569.9 1857.7,569.3 1858.3,569.2 1858.8,569 1859.3,569 1859.8,569 1860.3,569.1 1860.8,569 1861.3,569.1 1861.8,569 1862.4,569.2 1862.9,569.5 1863.4,570 1863.9,570.5 1864.4,569.8 1864.9,569.4 1865.4,569.1 1865.9,569.1 1866.5,569 1867,569 1867.5,569 1868,569 1868.5,569 1869,569.1 1869.5,569.1 1870,569.4 1870.6,570 1871.1,570.6 1871.6,569.8 1872.1,569.4 1872.6,569.2 1873.1,569.1 1873.6,569 1874.1,569 1874.7,569 1875.2,569.1 1875.7,569 1876.2,569.1 1876.7,569.2 1877.2,569.4 1877.7,569.9 1878.3,570.5 1878.8,569.9 1879.3,569.3 1879.8,569.1 1880.3,569 1880.8,569 1881.3,569 1881.8,568.9 1882.4,569 1882.9,569 1883.4,569.1 1883.9,569.1 1884.4,569.4 1884.9,569.9 1885.4,570.5 1885.9,569.8 1886.5,569.4 1887,569.2 1887.5,569.1 1888,569 1888.5,569 1889,569 1889.5,569 1890,569 1890.6,569 1891.1,569.2 1891.6,569.4 1892.1,569.9 1892.6,570.5 1893.1,569.8 1893.6,569.4 1894.2,569.2 1894.7,569 1895.2,569 1895.7,569 1896.2,569 1896.7,569 1897.2,569.1 1897.7,569.1 1898.3,569.2 1898.8,569.5 1899.3,570 1899.8,570.6 1900.3,569.8 1900.8,569.3 1901.3,569.2 1901.8,569 1902.4,568.9 1902.9,568.9 1903.4,569 1903.9,569.1 1904.4,569.1 1904.9,569 1905.4,569.3 1905.9,569.4 1906.5,569.9 1907,570.5 1907.5,569.8 1908,569.4 1908.5,569.2 1909,568.9 1909.5,569.1 1910,569 1910.6,569 1911.1,569 1911.6,569 1912.1,569.1 1912.6,569.1 1913.1,569.5 1913.6,570 1914.2,570.5 1914.7,569.7 1915.2,569.4 1915.7,569.1 1916.2,569.1 1916.7,569 1917.2,569.1 1917.7,569 1918.3,569 1918.8,569 1919.3,568.9 1919.8,569.1 1920.3,569.4 1920.8,569.9 1921.3,570.5 1921.8,569.8 1922.4,569.4 1922.9,569.1 1923.4,569.1 1923.9,569 1924.4,569 1924.9,569 1925.4,569 1925.9,569 1926.5,569.1 1927,569.2 1927.5,569.4 1928,569.9 1928.5,570.6 1929,569.8 1929.5,569.4 1930.1,569.2 1930.6,569 1931.1,569 1931.6,569 1932.1,569 1932.6,569 1933.1,569.1 1933.6,569.1 1934.2,569.2 1934.7,569.5 1935.2,569.9 1935.7,570.6 1936.2,569.8 1936.7,569.3 1937.2,569.2 1937.7,569 1938.3,569.1 1938.8,569 1939.3,568.9 1939.8,569 1940.3,569.1 1940.8,569.1 1941.3,569.2 1941.8,569.5 1942.4,570 1942.9,570.6 1943.4,569.9 1943.9,569.4 1944.4,569.1 1944.9,569.1 1945.4,569 1945.9,569 1946.5,569 1947,568.9 1947.5,569 1948,569.1 1948.5,569.2 1949,569.4 1949.5,569.9 1950.1,570.5 1950.6,569.8 1951.1,569.4 1951.6,569.2 1952.1,569 1952.6,569 1953.1,569 1953.6,568.9 1954.2,569.1 1954.7,569 1955.2,569.1 1955.7,569.1 1956.2,569.4 1956.7,570 1957.2,570.4 1957.7,569.7 1958.3,569.4 1958.8,569.1 1959.3,569 1959.8,569.1 1960.3,569 1960.8,569 1961.3,569 1961.8,569 1962.4,569.1 1962.9,569.3 1963.4,569.4 1963.9,569.9 1964.4,570.5 1964.9,569.7 1965.4,569.4 1966,569.2 1966.5,569.1 1967,569 1967.5,569.1 1968,568.9 1968.5,569 1969,569 1969.5,569 1970.1,569.2 1970.6,569.4 1971.1,569.9 1971.6,570.4 1972.1,569.8 1972.6,569.4 1973.1,569.1 1973.6,569 1974.2,569 1974.7,569 1975.2,568.9 1975.7,569.1 1976.2,569 1976.7,569.1 1977.2,569.2 1977.7,569.5 1978.3,569.9 1978.8,570.5 1979.3,569.8 1979.8,569.4 1980.3,569 1980.8,568.9 1981.3,569 1981.8,569 1982.4,569 1982.9,569 1983.4,569 1983.9,569.2 1984.4,569.2 1984.9,569.5 1985.4,569.9" fill="none" stroke="#c58af2" stroke-width="2.0" stroke-linejoin="round" stroke-linecap="round" />
<text x="1980.6" y="557.5" font-size="19.4" text-anchor="end" fill="#d670e2" textLength="125.4" lengthAdjust="spacingAndGlyphs">H<tspan font-size="12" dy="4.3">2</tspan><tspan dy="-4.3">O (m/z=18)</tspan></text>
<line x1="1554.9" y1="612.8" x2="1985.9" y2="612.8" stroke="#c9ab3e" stroke-width="1.8" />
<text x="1980.6" y="605.2" font-size="19.4" text-anchor="end" fill="#c9ab3e" textLength="138.4" lengthAdjust="spacingAndGlyphs"><tspan font-size="12" dy="-7">12</tspan><tspan dy="7">CH</tspan><tspan font-size="12" dy="4.3">4</tspan><tspan dy="-4.3"> (m/z=16)</tspan></text>
<polyline points="1554.9,657 1660.3,657 1660.8,657 1661.3,657 1661.8,657 1662.3,657 1662.9,657.5 1663.4,653.4 1663.9,651.1 1664.4,649.9 1664.9,649.3 1665.4,648.9 1665.9,648.7 1666.4,648.8 1667,648.7 1667.5,648.9 1668,648.9 1668.5,649.1 1669,649.3 1669.5,649.6 1670,650 1670.5,649.7 1671.1,649.5 1671.6,649.5 1672.1,649.4 1672.6,649.4 1673.1,649.5 1673.6,649.4 1674.1,649.5 1674.6,649.5 1675.2,649.7 1675.7,649.8 1676.2,649.9 1676.7,650.2 1677.2,650.7 1677.7,650.2 1678.2,650 1678.8,649.8 1679.3,649.9 1679.8,649.8 1680.3,649.8 1680.8,649.9 1681.3,649.8 1681.8,649.9 1682.3,649.9 1682.9,650 1683.4,650.1 1683.9,650.4 1684.4,650.9 1684.9,650.3 1685.4,650.2 1685.9,650 1686.4,649.9 1687,649.9 1687.5,649.9 1688,649.9 1688.5,650 1689,649.9 1689.5,650 1690,650.1 1690.5,650.2 1691.1,650.6 1691.6,650.9 1692.1,650.5 1692.6,650.2 1693.1,650.2 1693.6,650 1694.1,650 1694.6,650 1695.2,650 1695.7,649.9 1696.2,650.1 1696.7,650 1697.2,650.1 1697.7,650.2 1698.2,650.6 1698.8,651.1 1699.3,650.6 1699.8,650.3 1700.3,650.1 1700.8,650 1701.3,649.9 1701.8,650 1702.3,650 1702.9,650.1 1703.4,650 1703.9,650 1704.4,650 1704.9,650.2 1705.4,650.6 1705.9,651 1706.4,650.4 1707,650.2 1707.5,650.1 1708,650 1708.5,650 1709,650 1709.5,650 1710,649.9 1710.5,650 1711.1,650 1711.6,650.1 1712.1,650.3 1712.6,650.6 1713.1,650.9 1713.6,650.5 1714.1,650.1 1714.7,650.1 1715.2,650 1715.7,650.1 1716.2,650 1716.7,650 1717.2,650 1717.7,650.1 1718.2,650 1718.8,650.1 1719.3,650.3 1719.8,650.6 1720.3,651 1720.8,650.5 1721.3,650.2 1721.8,650 1722.3,650.1 1722.9,650 1723.4,650 1723.9,650 1724.4,650 1724.9,650 1725.4,650.1 1725.9,650 1726.4,650.3 1727,650.6 1727.5,650.9 1728,650.5 1728.5,650.3 1729,650.1 1729.5,650.1 1730,650.1 1730.5,649.9 1731.1,650.1 1731.6,650 1732.1,650 1732.6,650.1 1733.1,650.2 1733.6,650.2 1734.1,650.5 1734.7,651 1735.2,650.4 1735.7,650.2 1736.2,650.1 1736.7,650.1 1737.2,650 1737.7,650 1738.2,650.1 1738.8,650 1739.3,650 1739.8,650 1740.3,650.1 1740.8,650.3 1741.3,650.6 1741.8,650.8 1742.3,650.5 1742.9,650.2 1743.4,650 1743.9,650.1 1744.4,650.1 1744.9,650.1 1745.4,650 1745.9,650.1 1746.4,650 1747,650.1 1747.5,650.1 1748,650.3 1748.5,650.5 1749,651 1749.5,650.6 1750,650.3 1750.6,650.1 1751.1,650 1751.6,650 1752.1,650 1752.6,650.1 1753.1,650.1 1753.6,650 1754.1,650.1 1754.7,650.1 1755.2,650.3 1755.7,650.6 1756.2,651 1756.7,650.5 1757.2,650.3 1757.7,650.1 1758.2,650 1758.8,650 1759.3,650.1 1759.8,650 1760.3,650 1760.8,650 1761.3,650.1 1761.8,650.1 1762.3,650.3 1762.9,650.6 1763.4,651 1763.9,650.5 1764.4,650.3 1764.9,650.1 1765.4,650 1765.9,650 1766.4,650 1767,650 1767.5,649.9 1768,650 1768.5,650 1769,650.1 1769.5,650.3 1770,650.6 1770.6,651 1771.1,650.5 1771.6,650.3 1772.1,650.1 1772.6,650.1 1773.1,650.1 1773.6,650 1774.1,650 1774.7,650 1775.2,650.1 1775.7,650.1 1776.2,650.1 1776.7,650.3 1777.2,650.6 1777.7,650.9 1778.2,650.6 1778.8,650.3 1779.3,650 1779.8,650 1780.3,650 1780.8,650 1781.3,650 1781.8,649.9 1782.3,650.1 1782.9,650 1783.4,650.1 1783.9,650.3 1784.4,650.5 1784.9,651 1785.4,650.5 1785.9,650.2 1786.5,650 1787,650.1 1787.5,650.1 1788,650 1788.5,650 1789,650.1 1789.5,650 1790,650.1 1790.6,650.2 1791.1,650.3 1791.6,650.6 1792.1,651 1792.6,650.5 1793.1,650.2 1793.6,650.1 1794.1,649.9 1794.7,650 1795.2,650 1795.7,650.1 1796.2,650 1796.7,649.9 1797.2,650.1 1797.7,650.2 1798.2,650.3 1798.8,650.6 1799.3,651 1799.8,650.5 1800.3,650.3 1800.8,650.1 1801.3,650 1801.8,649.9 1802.3,650 1802.9,650 1803.4,650 1803.9,650 1804.4,650.1 1804.9,650.1 1805.4,650.3 1805.9,650.5 1806.5,650.9 1807,650.5 1807.5,650.3 1808,650 1808.5,650.1 1809,650 1809.5,650 1810,649.9 1810.6,650.1 1811.1,650 1811.6,650.1 1812.1,650.1 1812.6,650.4 1813.1,650.7 1813.6,651.1 1814.1,650.5 1814.7,650.3 1815.2,650.1 1815.7,650 1816.2,650 1816.7,650 1817.2,650 1817.7,650 1818.2,650 1818.8,650 1819.3,650.1 1819.8,650.2 1820.3,650.6 1820.8,651 1821.3,650.5 1821.8,650.3 1822.4,650.2 1822.9,650 1823.4,650.1 1823.9,649.9 1824.4,650 1824.9,650 1825.4,650 1825.9,650.1 1826.5,650.2 1827,650.3 1827.5,650.6 1828,651 1828.5,650.4 1829,650.3 1829.5,650.1 1830,650 1830.6,650 1831.1,650 1831.6,650 1832.1,650 1832.6,650 1833.1,650 1833.6,650 1834.1,650.2 1834.7,650.6 1835.2,651 1835.7,650.5 1836.2,650.3 1836.7,650 1837.2,650.1 1837.7,650 1838.2,650 1838.8,650 1839.3,649.9 1839.8,650.1 1840.3,650 1840.8,650.1 1841.3,650.3 1841.8,650.6 1842.4,650.9 1842.9,650.4 1843.4,650.3 1843.9,650.1 1844.4,650 1844.9,650 1845.4,650.1 1845.9,649.9 1846.5,649.9 1847,650 1847.5,650 1848,650.1 1848.5,650.2 1849,650.6 1849.5,651 1850,650.5 1850.6,650.2 1851.1,650 1851.6,650 1852.1,649.9 1852.6,650 1853.1,650 1853.6,650.1 1854.1,650.1 1854.7,650 1855.2,650.1 1855.7,650.3 1856.2,650.6 1856.7,650.9 1857.2,650.4 1857.7,650.4 1858.3,650.2 1858.8,650 1859.3,650 1859.8,650 1860.3,650 1860.8,650 1861.3,649.9 1861.8,650.1 1862.4,650.1 1862.9,650.2 1863.4,650.5 1863.9,650.9 1864.4,650.4 1864.9,650.3 1865.4,650.1 1865.9,649.9 1866.5,650 1867,649.9 1867.5,650 1868,650.1 1868.5,650 1869,650.1 1869.5,650.1 1870,650.4 1870.6,650.6 1871.1,651.1 1871.6,650.5 1872.1,650.2 1872.6,650.1 1873.1,650 1873.6,650.1 1874.1,649.9 1874.7,650 1875.2,650.1 1875.7,650.1 1876.2,650 1876.7,650.2 1877.2,650.3 1877.7,650.6 1878.3,650.9 1878.8,650.5 1879.3,650.3 1879.8,650.1 1880.3,650 1880.8,650 1881.3,650 1881.8,650 1882.4,650.1 1882.9,650 1883.4,650 1883.9,650.1 1884.4,650.3 1884.9,650.6 1885.4,650.9 1885.9,650.4 1886.5,650.3 1887,650.1 1887.5,650 1888,650 1888.5,650 1889,650 1889.5,649.9 1890,650 1890.6,649.9 1891.1,650.2 1891.6,650.3 1892.1,650.6 1892.6,650.9 1893.1,650.4 1893.6,650.2 1894.2,650.1 1894.7,650.1 1895.2,650 1895.7,650 1896.2,650 1896.7,650 1897.2,650 1897.7,650 1898.3,650.2 1898.8,650.3 1899.3,650.6 1899.8,650.9 1900.3,650.4 1900.8,650.3 1901.3,650.1 1901.8,650 1902.4,649.9 1902.9,650.1 1903.4,650.1 1903.9,650 1904.4,650 1904.9,650.1 1905.4,650.2 1905.9,650.3 1906.5,650.6 1907,650.9 1907.5,650.5 1908,650.2 1908.5,650.1 1909,650 1909.5,650 1910,650 1910.6,650 1911.1,650 1911.6,650.1 1912.1,650.1 1912.6,650.1 1913.1,650.2 1913.6,650.5 1914.2,650.9 1914.7,650.5 1915.2,650.3 1915.7,650.1 1916.2,650 1916.7,650 1917.2,650.1 1917.7,650 1918.3,650 1918.8,650 1919.3,650 1919.8,650.2 1920.3,650.3 1920.8,650.6 1921.3,650.9 1921.8,650.5 1922.4,650.3 1922.9,650.1 1923.4,650 1923.9,650 1924.4,650 1924.9,650 1925.4,650 1925.9,650.1 1926.5,650 1927,650.2 1927.5,650.3 1928,650.5 1928.5,650.9 1929,650.5 1929.5,650.2 1930.1,650.1 1930.6,650.1 1931.1,650 1931.6,650 1932.1,650 1932.6,649.9 1933.1,650 1933.6,650.1 1934.2,650.2 1934.7,650.2 1935.2,650.5 1935.7,651 1936.2,650.5 1936.7,650.2 1937.2,650.1 1937.7,650.1 1938.3,650 1938.8,650 1939.3,650 1939.8,650 1940.3,650 1940.8,650.1 1941.3,650.1 1941.8,650.3 1942.4,650.6 1942.9,650.9 1943.4,650.6 1943.9,650.2 1944.4,650 1944.9,650 1945.4,650 1945.9,650 1946.5,650 1947,650 1947.5,650 1948,650 1948.5,650.1 1949,650.3 1949.5,650.6 1950.1,650.9 1950.6,650.5 1951.1,650.2 1951.6,650.1 1952.1,650.1 1952.6,650.1 1953.1,650 1953.6,649.9 1954.2,649.9 1954.7,650 1955.2,650.1 1955.7,650.2 1956.2,650.3 1956.7,650.5 1957.2,650.9 1957.7,650.5 1958.3,650.3 1958.8,650.1 1959.3,650 1959.8,650.1 1960.3,649.9 1960.8,650.1 1961.3,649.9 1961.8,650 1962.4,650 1962.9,650.2 1963.4,650.3 1963.9,650.6 1964.4,651 1964.9,650.5 1965.4,650.2 1966,650.1 1966.5,650 1967,650 1967.5,649.8 1968,650.1 1968.5,650.1 1969,650 1969.5,650 1970.1,650.1 1970.6,650.2 1971.1,650.5 1971.6,651 1972.1,650.4 1972.6,650.2 1973.1,650.1 1973.6,650 1974.2,650.1 1974.7,650 1975.2,650 1975.7,650 1976.2,650 1976.7,650 1977.2,650.2 1977.7,650.2 1978.3,650.5 1978.8,651 1979.3,650.4 1979.8,650.3 1980.3,650.1 1980.8,650 1981.3,650.1 1981.8,649.9 1982.4,650.1 1982.9,650 1983.4,650 1983.9,650.1 1984.4,650.2 1984.9,650.3 1985.4,650.6" fill="none" stroke="#f06a78" stroke-width="2.0" stroke-linejoin="round" stroke-linecap="round" />
<text x="1980.6" y="639.2" font-size="19.4" text-anchor="end" fill="#f23a46" textLength="132.4" lengthAdjust="spacingAndGlyphs"><tspan font-size="12" dy="-7">12</tspan><tspan dy="7">CO (m/z=28)</tspan></text>
<line x1="1554.9" y1="692.6" x2="1985.9" y2="692.6" stroke="#5b94ee" stroke-width="1.8" />
<text x="1980.6" y="685" font-size="19.4" text-anchor="end" fill="#5b94e8" textLength="132.4" lengthAdjust="spacingAndGlyphs"><tspan font-size="12" dy="-7">13</tspan><tspan dy="7">CO (m/z=29)</tspan></text>
<polyline points="1554.9,848.1 1660.3,848.1 1660.8,848.1 1662.4,848.1 1664,835.4 1665.6,827.8 1667.2,823.7 1668.8,821.3 1670.4,819.6 1672,818.6 1673.6,818.1 1675.2,817.2 1676.8,816.9 1678.4,816.2 1680,815.9 1681.6,815.6 1683.2,814.8 1684.8,815.4 1686.4,815.1 1688,815 1689.6,814.3 1691.2,814.2 1692.8,814.3 1694.4,814.4 1696,814.5 1697.6,814.4 1699.2,814.5 1700.8,814.1 1702.4,814.3 1704,814.3 1705.6,813.9 1707.2,814.6 1708.8,814.2 1710.4,814.4 1712,813.8 1713.6,813.7 1715.2,813.8 1716.8,813.8 1718.4,814 1720,813.9 1721.6,813.6 1723.2,813.4 1724.8,813.5 1726.4,814 1728,813.4 1729.6,813.7 1731.2,813.7 1732.8,813.1 1734.4,813.5 1736,813.9 1737.6,812.8 1739.2,813.3 1740.8,813.3 1742.4,813.1 1744,813.5 1745.6,813.3 1747.2,812.8 1748.8,813.5 1750.4,813.4 1752,813.5 1753.6,813.6 1755.2,813.3 1756.8,813.2 1758.4,812.7 1760,813.3 1761.6,812.9 1763.2,812.9 1764.8,812.6 1766.4,812.7 1768,812.8 1769.6,813.3 1771.2,812.3 1772.8,812.5 1774.4,813 1776,813.3 1777.6,813 1779.2,812.3 1780.8,812.1 1782.4,812.9 1784,812.6 1785.6,812.5 1787.2,813.1 1788.8,813.1 1790.4,812.8 1792,812.8 1793.6,812.8 1795.2,813.2 1796.8,812.9 1798.4,812.8 1800,812.8 1801.6,812.2 1803.2,813 1804.8,812.9 1806.4,812.8 1808,812 1809.6,812.4 1811.2,812.8 1812.8,812 1814.4,812.5 1816,812.8 1817.6,812.1 1819.2,813 1820.8,812.7 1822.4,812.5 1824,812.6 1825.6,812.7 1827.2,812.5 1828.8,812.8 1830.4,812.3 1832,812.3 1833.6,812.7 1835.2,812.4 1836.8,812.2 1838.4,812.7 1840,812.8 1841.6,812.3 1843.2,812 1844.8,812.3 1846.4,812.3 1848,812.3 1849.6,812.8 1851.2,812 1852.8,812.7 1854.4,812 1856,812.1 1857.6,812.5 1859.2,812.7 1860.8,812.6 1862.4,812.4 1864,812.3 1865.6,812.3 1867.2,812.5 1868.8,812.2 1870.4,812.4 1872,812.4 1873.6,812.3 1875.2,812.5 1876.8,812.4 1878.4,812.9 1880,812.3 1881.6,812.1 1883.2,812.1 1884.8,812.2 1886.4,812.5 1888,812.1 1889.6,812.3 1891.2,812.8 1892.8,811.4 1894.4,811.9 1896,812.3 1897.6,812.3 1899.2,812.3 1900.8,812.1 1902.4,812.4 1904,812.3 1905.6,812 1907.2,812.9 1908.8,812.3 1910.4,812 1912,812.1 1913.6,812.1 1915.2,812.1 1916.8,811.3 1918.4,812 1920,812.5 1921.6,811.8 1923.2,812.1 1924.8,812.4 1926.4,812.4 1928,812.6 1929.6,811.6 1931.2,812 1932.8,812 1934.4,812.3 1936,812.5 1937.6,811.3 1939.2,812.4 1940.8,811.7 1942.4,812.3 1944,811.7 1945.6,812.2 1947.2,812.5 1948.8,812.1 1950.4,812.2 1952,812.3 1953.6,812.1 1955.2,812.1 1956.8,812.6 1958.4,812.4 1960,812 1961.6,812.9 1963.2,811.7 1964.8,812.4 1966.4,812 1968,812.1 1969.6,812.3 1971.2,812.1 1972.8,812.3 1974.4,811.6 1976,811.6 1977.6,812.3 1979.2,811.8 1980.8,811.8 1982.4,811.6 1984,812.4 1985.6,812.3" fill="none" stroke="#707070" stroke-width="2.0" stroke-linejoin="round" stroke-linecap="round" />
<text x="1980.6" y="801.4" font-size="19.4" text-anchor="end" fill="#6a6a6a" textLength="97.9" lengthAdjust="spacingAndGlyphs">H<tspan font-size="12" dy="4.3">2</tspan><tspan dy="-4.3"> (m/z=2)</tspan></text>
<line x1="1554.9" y1="860.7" x2="1985.9" y2="860.7" stroke="#76d596" stroke-width="1.8" />
<text x="1980.6" y="851.3" font-size="19.4" text-anchor="end" fill="#3f8f22" textLength="139.5" lengthAdjust="spacingAndGlyphs"><tspan font-size="12" dy="-7">12</tspan><tspan dy="7">CO</tspan><tspan font-size="12" dy="4.3">2</tspan><tspan dy="-4.3"> (m/z=44)</tspan></text>
<polyline points="1554.9,912.6 1660.3,912.6 1660.8,912.6 1662.4,912.6 1664,907.6 1665.6,905.1 1667.2,903.2 1668.8,902.6 1670.4,901.9 1672,901.5 1673.6,901.2 1675.2,900.5 1676.8,899.8 1678.4,899.2 1680,898.6 1681.6,898.6 1683.2,898.1 1684.8,897.9 1686.4,896.9 1688,896.2 1689.6,895.8 1691.2,895.1 1692.8,893.9 1694.4,894.7 1696,893.7 1697.6,893.7 1699.2,893.3 1700.8,894.4 1702.4,893.5 1704,893 1705.6,892.2 1707.2,892.9 1708.8,892.1 1710.4,892.8 1712,891.6 1713.6,892.1 1715.2,892.4 1716.8,891.6 1718.4,891.9 1720,891.9 1721.6,892.1 1723.2,891.5 1724.8,891.9 1726.4,892.4 1728,890.9 1729.6,891.1 1731.2,891.6 1732.8,891.1 1734.4,890.7 1736,891.8 1737.6,891.6 1739.2,891.6 1740.8,891.6 1742.4,891.4 1744,890.7 1745.6,890 1747.2,891.2 1748.8,890.5 1750.4,890.9 1752,891 1753.6,890.3 1755.2,890.6 1756.8,891.5 1758.4,891 1760,890 1761.6,890.6 1763.2,890.6 1764.8,890.8 1766.4,890.9 1768,890.5 1769.6,890.4 1771.2,890.9 1772.8,889.9 1774.4,890.9 1776,890.6 1777.6,890.2 1779.2,890.1 1780.8,890.5 1782.4,889.7 1784,889.3 1785.6,890.4 1787.2,890.9 1788.8,890.2 1790.4,890.2 1792,890.2 1793.6,889.8 1795.2,890.3 1796.8,890.5 1798.4,890.1 1800,890.5 1801.6,889.6 1803.2,890.2 1804.8,889.7 1806.4,889.8 1808,890.1 1809.6,890 1811.2,890.3 1812.8,890.2 1814.4,889.4 1816,890.4 1817.6,889.2 1819.2,889.8 1820.8,890 1822.4,889.8 1824,890 1825.6,889.8 1827.2,889.3 1828.8,890.1 1830.4,889.7 1832,889.3 1833.6,889.7 1835.2,889.7 1836.8,889.8 1838.4,889.4 1840,889.7 1841.6,889.5 1843.2,890.2 1844.8,889.4 1846.4,890.1 1848,889.5 1849.6,890 1851.2,890.5 1852.8,889.3 1854.4,889.5 1856,889.1 1857.6,889.2 1859.2,889.2 1860.8,889.4 1862.4,889.8 1864,889.7 1865.6,889.2 1867.2,889.4 1868.8,888.7 1870.4,889.6 1872,889.2 1873.6,888.9 1875.2,889 1876.8,889.5 1878.4,889.3 1880,889.5 1881.6,889.1 1883.2,889.3 1884.8,889.1 1886.4,888.6 1888,889.2 1889.6,889.2 1891.2,889 1892.8,889.5 1894.4,890.1 1896,889.8 1897.6,889.2 1899.2,888.7 1900.8,889.1 1902.4,889 1904,889.3 1905.6,889.7 1907.2,889.2 1908.8,888.6 1910.4,889.8 1912,889.2 1913.6,889.8 1915.2,888.8 1916.8,890.2 1918.4,888.7 1920,889.2 1921.6,889.5 1923.2,888.1 1924.8,888.9 1926.4,888.5 1928,889.9 1929.6,889.5 1931.2,888.8 1932.8,888.5 1934.4,888.5 1936,889.2 1937.6,888.8 1939.2,889.3 1940.8,889 1942.4,888.5 1944,889.9 1945.6,889.4 1947.2,888.9 1948.8,889 1950.4,889.7 1952,889.5 1953.6,888.7 1955.2,889.8 1956.8,888.9 1958.4,889.4 1960,888.7 1961.6,888.9 1963.2,889.5 1964.8,888.7 1966.4,889.2 1968,889.3 1969.6,888.9 1971.2,889.7 1972.8,889.4 1974.4,889.1 1976,889.6 1977.6,889.7 1979.2,889.6 1980.8,889.1 1982.4,889.5 1984,889.3 1985.6,888.7" fill="none" stroke="#c58af2" stroke-width="2.0" stroke-linejoin="round" stroke-linecap="round" />
<text x="1980.6" y="880.7" font-size="19.4" text-anchor="end" fill="#d670e2" textLength="125.4" lengthAdjust="spacingAndGlyphs">H<tspan font-size="12" dy="4.3">2</tspan><tspan dy="-4.3">O (m/z=18)</tspan></text>
<polyline points="1554.9,956.6 1660.3,956.6 1660.8,956.6 1662.4,956.6 1664,948.1 1665.6,943.8 1667.2,942.9 1668.8,942.6 1670.4,942.5 1672,942.3 1673.6,942.3 1675.2,942.2 1676.8,942 1678.4,942.1 1680,942.2 1681.6,942.1 1683.2,942 1684.8,941.9 1686.4,942 1688,941.9 1689.6,941.9 1691.2,942 1692.8,941.6 1694.4,941.8 1696,941.6 1697.6,941.7 1699.2,941.6 1700.8,941.8 1702.4,941.8 1704,941.7 1705.6,941.5 1707.2,941.4 1708.8,941.5 1710.4,941.6 1712,941.5 1713.6,941.6 1715.2,941.4 1716.8,941.6 1718.4,941.5 1720,941.6 1721.6,941.4 1723.2,941.3 1724.8,941.2 1726.4,941.4 1728,941.4 1729.6,941.2 1731.2,941.2 1732.8,941.1 1734.4,941.1 1736,941.1 1737.6,940.8 1739.2,940.9 1740.8,941 1742.4,941 1744,941.1 1745.6,941 1747.2,941 1748.8,940.9 1750.4,940.6 1752,940.8 1753.6,940.7 1755.2,940.8 1756.8,940.7 1758.4,940.7 1760,940.7 1761.6,940.7 1763.2,940.4 1764.8,940.5 1766.4,940.8 1768,940.6 1769.6,940.5 1771.2,940.5 1772.8,940.5 1774.4,940.9 1776,940.5 1777.6,940.4 1779.2,940.3 1780.8,940.1 1782.4,940.4 1784,940.5 1785.6,940.4 1787.2,940.3 1788.8,940.2 1790.4,940.1 1792,940.2 1793.6,940.2 1795.2,940.1 1796.8,940.4 1798.4,940 1800,940.1 1801.6,939.8 1803.2,940.3 1804.8,940 1806.4,940 1808,940 1809.6,939.9 1811.2,939.9 1812.8,940 1814.4,939.8 1816,939.9 1817.6,940 1819.2,939.9 1820.8,940 1822.4,939.9 1824,940 1825.6,939.8 1827.2,939.8 1828.8,939.6 1830.4,939.7 1832,939.6 1833.6,939.6 1835.2,939.5 1836.8,939.6 1838.4,939.9 1840,939.5 1841.6,939.6 1843.2,939.6 1844.8,939.4 1846.4,939.4 1848,939.4 1849.6,939.5 1851.2,939.3 1852.8,939.7 1854.4,939.5 1856,939.5 1857.6,939.7 1859.2,939.6 1860.8,939.4 1862.4,939.4 1864,939.4 1865.6,939.4 1867.2,939.5 1868.8,939.2 1870.4,939.2 1872,939.4 1873.6,939.5 1875.2,939.3 1876.8,939.4 1878.4,939.5 1880,939.5 1881.6,939.4 1883.2,939.4 1884.8,939.2 1886.4,939.5 1888,939.4 1889.6,939.3 1891.2,939.5 1892.8,939.4 1894.4,939.4 1896,939.2 1897.6,939.5 1899.2,939.3 1900.8,939.4 1902.4,939.4 1904,939.3 1905.6,939.4 1907.2,939.4 1908.8,939.4 1910.4,939.4 1912,939.3 1913.6,939.5 1915.2,939.4 1916.8,939.3 1918.4,939.4 1920,939.3 1921.6,939.4 1923.2,939.1 1924.8,939.4 1926.4,939.1 1928,939.3 1929.6,939.8 1931.2,939.5 1932.8,939.5 1934.4,939.3 1936,939.3 1937.6,939.4 1939.2,939.4 1940.8,939.4 1942.4,939.3 1944,939.3 1945.6,939.3 1947.2,939.6 1948.8,939.4 1950.4,939.3 1952,939.4 1953.6,939.3 1955.2,939.2 1956.8,939.4 1958.4,939.6 1960,939.5 1961.6,939.2 1963.2,939.6 1964.8,939.4 1966.4,939.6 1968,939.4 1969.6,939.2 1971.2,939.4 1972.8,939.4 1974.4,939.3 1976,939.3 1977.6,939.3 1979.2,939.3 1980.8,939.5 1982.4,939.4 1984,939.3 1985.6,939.4" fill="none" stroke="#4fe0cc" stroke-width="2.0" stroke-linejoin="round" stroke-linecap="round" />
<text x="1980.6" y="930.6" font-size="19.4" text-anchor="end" fill="#5bd9c0" textLength="139.5" lengthAdjust="spacingAndGlyphs"><tspan font-size="12" dy="-7">13</tspan><tspan dy="7">CO</tspan><tspan font-size="12" dy="4.3">2</tspan><tspan dy="-4.3"> (m/z=45)</tspan></text>
<line x1="1554.9" y1="979.8" x2="1985.9" y2="979.8" stroke="#c9ab3e" stroke-width="1.8" />
<text x="1980.6" y="973" font-size="19.4" text-anchor="end" fill="#c9ab3e" textLength="138.4" lengthAdjust="spacingAndGlyphs"><tspan font-size="12" dy="-7">13</tspan><tspan dy="7">CH</tspan><tspan font-size="12" dy="4.3">4</tspan><tspan dy="-4.3"> (m/z=17)</tspan></text>
<line x1="1554.9" y1="1009.6" x2="1985.9" y2="1009.6" stroke="#f06a78" stroke-width="1.8" />
<text x="1980.6" y="1001.8" font-size="19.4" text-anchor="end" fill="#f23a46" textLength="132.4" lengthAdjust="spacingAndGlyphs"><tspan font-size="12" dy="-7">12</tspan><tspan dy="7">CO (m/z=28)</tspan></text>
<polyline points="1554.9,1066.2 1660.3,1066.2 1660.8,1066.2 1662.4,1066.2 1664,1051.8 1665.6,1046.4 1667.2,1045.1 1668.8,1044.9 1670.4,1045 1672,1044.7 1673.6,1044.9 1675.2,1044.9 1676.8,1044.9 1678.4,1045 1680,1045.1 1681.6,1045.5 1683.2,1045.2 1684.8,1045.2 1686.4,1045.4 1688,1045.1 1689.6,1045.2 1691.2,1045.5 1692.8,1045.3 1694.4,1045.3 1696,1045.4 1697.6,1045.4 1699.2,1045.8 1700.8,1045.9 1702.4,1046.1 1704,1045.7 1705.6,1045.8 1707.2,1045.8 1708.8,1046 1710.4,1046 1712,1046.1 1713.6,1046 1715.2,1045.9 1716.8,1046.4 1718.4,1046.1 1720,1046.4 1721.6,1046.2 1723.2,1046.4 1724.8,1046.1 1726.4,1046.3 1728,1046.5 1729.6,1046.6 1731.2,1046.5 1732.8,1046.5 1734.4,1046.3 1736,1046.6 1737.6,1046.5 1739.2,1046.4 1740.8,1046.6 1742.4,1046.5 1744,1046.5 1745.6,1046.5 1747.2,1046.5 1748.8,1046.5 1750.4,1046.6 1752,1046.5 1753.6,1046.7 1755.2,1046.7 1756.8,1046.6 1758.4,1046.4 1760,1046.3 1761.6,1046.4 1763.2,1046.3 1764.8,1046.5 1766.4,1046.3 1768,1046.3 1769.6,1046.1 1771.2,1046.2 1772.8,1045.9 1774.4,1045.8 1776,1046 1777.6,1045.8 1779.2,1045.8 1780.8,1046 1782.4,1046 1784,1045.7 1785.6,1045.6 1787.2,1045.8 1788.8,1045.7 1790.4,1045.6 1792,1045.4 1793.6,1045.4 1795.2,1045.6 1796.8,1045.2 1798.4,1045.3 1800,1045.4 1801.6,1045.4 1803.2,1045.1 1804.8,1045.1 1806.4,1045.1 1808,1044.9 1809.6,1045.1 1811.2,1044.9 1812.8,1045.1 1814.4,1044.8 1816,1044.8 1817.6,1044.8 1819.2,1044.9 1820.8,1044.5 1822.4,1045 1824,1044.8 1825.6,1044.8 1827.2,1045 1828.8,1044.8 1830.4,1044.8 1832,1044.8 1833.6,1044.9 1835.2,1044.8 1836.8,1044.9 1838.4,1044.7 1840,1044.5 1841.6,1044.7 1843.2,1044.5 1844.8,1044.7 1846.4,1044.6 1848,1044.3 1849.6,1044.6 1851.2,1044.5 1852.8,1044.4 1854.4,1044.4 1856,1044.7 1857.6,1044.7 1859.2,1044.5 1860.8,1044.5 1862.4,1044.5 1864,1044.5 1865.6,1044.7 1867.2,1044.5 1868.8,1044.7 1870.4,1044.2 1872,1044.3 1873.6,1044.7 1875.2,1044.5 1876.8,1044.3 1878.4,1044.9 1880,1044.7 1881.6,1044.6 1883.2,1044.2 1884.8,1044.7 1886.4,1044.6 1888,1044.6 1889.6,1044.5 1891.2,1044.3 1892.8,1044.4 1894.4,1044.7 1896,1044.7 1897.6,1044.7 1899.2,1044.6 1900.8,1044.6 1902.4,1044.7 1904,1044.9 1905.6,1044.6 1907.2,1044.4 1908.8,1044.7 1910.4,1044.5 1912,1044.4 1913.6,1044.4 1915.2,1044.7 1916.8,1044.5 1918.4,1044.6 1920,1044.5 1921.6,1044.8 1923.2,1044.5 1924.8,1044.5 1926.4,1044.4 1928,1044.4 1929.6,1044.8 1931.2,1044.4 1932.8,1044.7 1934.4,1044.7 1936,1044.6 1937.6,1044.6 1939.2,1044.6 1940.8,1044.8 1942.4,1044.6 1944,1044.4 1945.6,1044.6 1947.2,1044.8 1948.8,1044.4 1950.4,1044.6 1952,1044.6 1953.6,1044.8 1955.2,1044.5 1956.8,1044.8 1958.4,1044.4 1960,1044.6 1961.6,1044.4 1963.2,1044.6 1964.8,1044.5 1966.4,1044.4 1968,1044.6 1969.6,1044.5 1971.2,1044.7 1972.8,1044.2 1974.4,1044.8 1976,1044.6 1977.6,1044.9 1979.2,1044.7 1980.8,1044.6 1982.4,1044.6 1984,1044.5 1985.6,1044.7" fill="none" stroke="#5b94ee" stroke-width="2.0" stroke-linejoin="round" stroke-linecap="round" />
<text x="1980.6" y="1037.9" font-size="19.4" text-anchor="end" fill="#5b94e8" textLength="132.4" lengthAdjust="spacingAndGlyphs"><tspan font-size="12" dy="-7">13</tspan><tspan dy="7">CO (m/z=29)</tspan></text>
<line x1="1663" y1="10.8" x2="1663" y2="1070" stroke="#7d7d7d" stroke-width="3.5" stroke-dasharray="2.7 4.7"/>
<rect x="1554.9" y="10.1" width="431" height="348.7" fill="none" stroke="#000" stroke-width="1.9"/>
<rect x="1554.9" y="367.4" width="431" height="348.6" fill="none" stroke="#000" stroke-width="1.9"/>
<rect x="1554.9" y="723.7" width="431" height="346.8" fill="none" stroke="#000" stroke-width="1.9"/>
<line x1="1662.8" y1="358.8" x2="1662.8" y2="367.4" stroke="#000" stroke-width="1.3" />
<line x1="1772.8" y1="358.8" x2="1772.8" y2="367.4" stroke="#000" stroke-width="1.3" />
<line x1="1871.7" y1="358.8" x2="1871.7" y2="367.4" stroke="#000" stroke-width="1.3" />
<line x1="1662.8" y1="716" x2="1662.8" y2="723.7" stroke="#000" stroke-width="1.3" />
<line x1="1772.8" y1="716" x2="1772.8" y2="723.7" stroke="#000" stroke-width="1.3" />
<line x1="1871.7" y1="716" x2="1871.7" y2="723.7" stroke="#000" stroke-width="1.3" />
<line x1="1553.9" y1="1071.4" x2="1986.9" y2="1071.4" stroke="#000" stroke-width="2.6" />
<line x1="1554.9" y1="10.1" x2="1554.9" y2="1071" stroke="#000" stroke-width="1.9" />
<line x1="1985.9" y1="10.1" x2="1985.9" y2="1071" stroke="#000" stroke-width="1.9" />
<line x1="1554.9" y1="1070.5" x2="1554.9" y2="1085.2" stroke="#000" stroke-width="1.9" />
<text x="1555.5" y="1106.6" font-size="22" text-anchor="middle">0</text>
<line x1="1662.8" y1="1070.5" x2="1662.8" y2="1085.2" stroke="#000" stroke-width="1.9" />
<text x="1663.4" y="1106.6" font-size="22" text-anchor="middle">4</text>
<line x1="1772.8" y1="1070.5" x2="1772.8" y2="1085.2" stroke="#000" stroke-width="1.9" />
<text x="1773.4" y="1106.6" font-size="22" text-anchor="middle">8</text>
<line x1="1871.7" y1="1070.5" x2="1871.7" y2="1085.2" stroke="#000" stroke-width="1.9" />
<text x="1872.3" y="1106.6" font-size="22" text-anchor="middle">12</text>
<line x1="1985.9" y1="1070.5" x2="1985.9" y2="1085.2" stroke="#000" stroke-width="1.9" />
<text x="1986.5" y="1106.6" font-size="22" text-anchor="middle">16</text>
<text x="1773" y="1142.3" font-size="27.5" text-anchor="middle" textLength="103.5" lengthAdjust="spacingAndGlyphs">Time (h)</text>
<text x="1527.6" y="550.6" font-size="28.3" text-anchor="middle" transform="rotate(-90 1527.6 550.6)" textLength="276" lengthAdjust="spacingAndGlyphs">Ion current (arb. units)</text>
<text x="1514.3" y="28.5" font-size="35.5" font-weight="bold">f</text>
</svg>
</body></html>
